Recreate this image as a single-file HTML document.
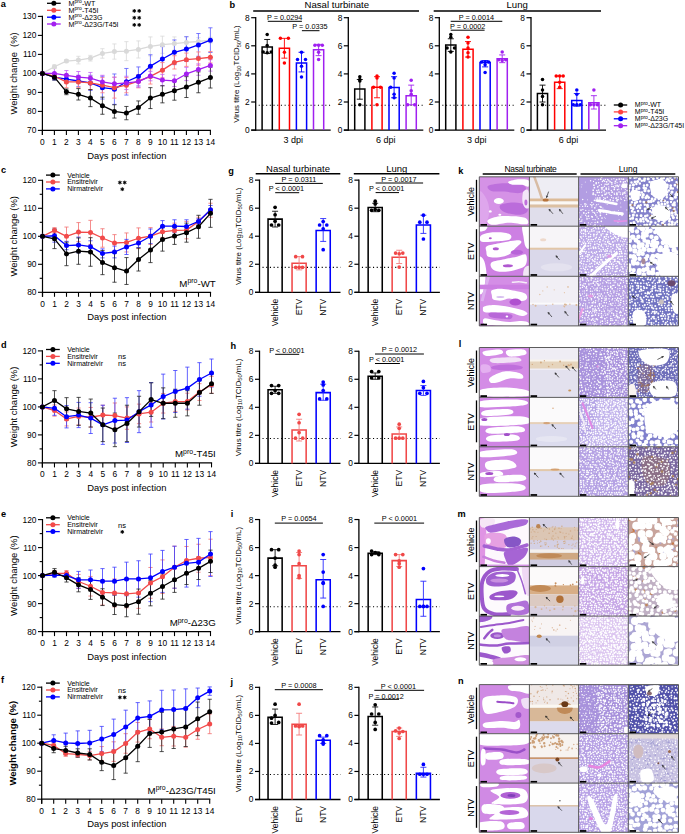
<!DOCTYPE html>
<html><head><meta charset="utf-8"><style>
html,body{margin:0;padding:0;background:#fff;}
svg{display:block;}
text{font-family:"Liberation Sans", sans-serif;}
</style></head><body>
<svg width="685" height="834" viewBox="0 0 685 834">
<rect width="685" height="834" fill="#fff"/>
<text x="0.8" y="6.9" font-size="9.2" text-anchor="start" font-weight="bold" fill="#000">a</text>
<line x1="42.4" y1="15.8" x2="42.4" y2="134.9" stroke="#000" stroke-width="1.2"/>
<line x1="41.8" y1="130.4" x2="211" y2="130.4" stroke="#000" stroke-width="1.2"/>
<line x1="37.9" y1="130.4" x2="42.4" y2="130.4" stroke="#000" stroke-width="1.1"/>
<text x="36.4" y="133.38" font-size="8.4" text-anchor="end" fill="#000">70</text>
<line x1="37.9" y1="111.4" x2="42.4" y2="111.4" stroke="#000" stroke-width="1.1"/>
<text x="36.4" y="114.38" font-size="8.4" text-anchor="end" fill="#000">80</text>
<line x1="37.9" y1="92.4" x2="42.4" y2="92.4" stroke="#000" stroke-width="1.1"/>
<text x="36.4" y="95.38" font-size="8.4" text-anchor="end" fill="#000">90</text>
<line x1="37.9" y1="73.4" x2="42.4" y2="73.4" stroke="#000" stroke-width="1.1"/>
<text x="36.4" y="76.38" font-size="8.4" text-anchor="end" fill="#000">100</text>
<line x1="37.9" y1="54.4" x2="42.4" y2="54.4" stroke="#000" stroke-width="1.1"/>
<text x="36.4" y="57.38" font-size="8.4" text-anchor="end" fill="#000">110</text>
<line x1="37.9" y1="35.4" x2="42.4" y2="35.4" stroke="#000" stroke-width="1.1"/>
<text x="36.4" y="38.38" font-size="8.4" text-anchor="end" fill="#000">120</text>
<line x1="37.9" y1="16.4" x2="42.4" y2="16.4" stroke="#000" stroke-width="1.1"/>
<text x="36.4" y="19.38" font-size="8.4" text-anchor="end" fill="#000">130</text>
<line x1="42.4" y1="130.4" x2="42.4" y2="134.9" stroke="#000" stroke-width="1.1"/>
<text x="42.4" y="144.78" font-size="8.4" text-anchor="middle" fill="#000">0</text>
<line x1="54.4" y1="130.4" x2="54.4" y2="134.9" stroke="#000" stroke-width="1.1"/>
<text x="54.4" y="144.78" font-size="8.4" text-anchor="middle" fill="#000">1</text>
<line x1="66.4" y1="130.4" x2="66.4" y2="134.9" stroke="#000" stroke-width="1.1"/>
<text x="66.4" y="144.78" font-size="8.4" text-anchor="middle" fill="#000">2</text>
<line x1="78.4" y1="130.4" x2="78.4" y2="134.9" stroke="#000" stroke-width="1.1"/>
<text x="78.4" y="144.78" font-size="8.4" text-anchor="middle" fill="#000">3</text>
<line x1="90.4" y1="130.4" x2="90.4" y2="134.9" stroke="#000" stroke-width="1.1"/>
<text x="90.4" y="144.78" font-size="8.4" text-anchor="middle" fill="#000">4</text>
<line x1="102.4" y1="130.4" x2="102.4" y2="134.9" stroke="#000" stroke-width="1.1"/>
<text x="102.4" y="144.78" font-size="8.4" text-anchor="middle" fill="#000">5</text>
<line x1="114.4" y1="130.4" x2="114.4" y2="134.9" stroke="#000" stroke-width="1.1"/>
<text x="114.4" y="144.78" font-size="8.4" text-anchor="middle" fill="#000">6</text>
<line x1="126.4" y1="130.4" x2="126.4" y2="134.9" stroke="#000" stroke-width="1.1"/>
<text x="126.4" y="144.78" font-size="8.4" text-anchor="middle" fill="#000">7</text>
<line x1="138.4" y1="130.4" x2="138.4" y2="134.9" stroke="#000" stroke-width="1.1"/>
<text x="138.4" y="144.78" font-size="8.4" text-anchor="middle" fill="#000">8</text>
<line x1="150.4" y1="130.4" x2="150.4" y2="134.9" stroke="#000" stroke-width="1.1"/>
<text x="150.4" y="144.78" font-size="8.4" text-anchor="middle" fill="#000">9</text>
<line x1="162.4" y1="130.4" x2="162.4" y2="134.9" stroke="#000" stroke-width="1.1"/>
<text x="162.4" y="144.78" font-size="8.4" text-anchor="middle" fill="#000">10</text>
<line x1="174.4" y1="130.4" x2="174.4" y2="134.9" stroke="#000" stroke-width="1.1"/>
<text x="174.4" y="144.78" font-size="8.4" text-anchor="middle" fill="#000">11</text>
<line x1="186.4" y1="130.4" x2="186.4" y2="134.9" stroke="#000" stroke-width="1.1"/>
<text x="186.4" y="144.78" font-size="8.4" text-anchor="middle" fill="#000">12</text>
<line x1="198.4" y1="130.4" x2="198.4" y2="134.9" stroke="#000" stroke-width="1.1"/>
<text x="198.4" y="144.78" font-size="8.4" text-anchor="middle" fill="#000">13</text>
<line x1="210.4" y1="130.4" x2="210.4" y2="134.9" stroke="#000" stroke-width="1.1"/>
<text x="210.4" y="144.78" font-size="8.4" text-anchor="middle" fill="#000">14</text>
<text x="126.8" y="158.68" font-size="9.4" text-anchor="middle" fill="#000">Days post infection</text>
<text x="17.38" y="73.4" font-size="9.4" text-anchor="middle" fill="#000" transform="rotate(-90 17.38 73.4)">Weight change&#160; (%)</text>
<line x1="54.4" y1="64.85" x2="54.4" y2="68.65" stroke="#d9d9d9" stroke-width="0.8"/>
<line x1="52.3" y1="64.85" x2="56.5" y2="64.85" stroke="#d9d9d9" stroke-width="0.8"/>
<line x1="52.3" y1="68.65" x2="56.5" y2="68.65" stroke="#d9d9d9" stroke-width="0.8"/>
<line x1="66.4" y1="59.53" x2="66.4" y2="62.57" stroke="#d9d9d9" stroke-width="0.8"/>
<line x1="64.3" y1="59.53" x2="68.5" y2="59.53" stroke="#d9d9d9" stroke-width="0.8"/>
<line x1="64.3" y1="62.57" x2="68.5" y2="62.57" stroke="#d9d9d9" stroke-width="0.8"/>
<line x1="78.4" y1="56.3" x2="78.4" y2="63.9" stroke="#d9d9d9" stroke-width="0.8"/>
<line x1="76.3" y1="56.3" x2="80.5" y2="56.3" stroke="#d9d9d9" stroke-width="0.8"/>
<line x1="76.3" y1="63.9" x2="80.5" y2="63.9" stroke="#d9d9d9" stroke-width="0.8"/>
<line x1="90.4" y1="55.35" x2="90.4" y2="61.05" stroke="#d9d9d9" stroke-width="0.8"/>
<line x1="88.3" y1="55.35" x2="92.5" y2="55.35" stroke="#d9d9d9" stroke-width="0.8"/>
<line x1="88.3" y1="61.05" x2="92.5" y2="61.05" stroke="#d9d9d9" stroke-width="0.8"/>
<line x1="102.4" y1="48.7" x2="102.4" y2="58.2" stroke="#d9d9d9" stroke-width="0.8"/>
<line x1="100.3" y1="48.7" x2="104.5" y2="48.7" stroke="#d9d9d9" stroke-width="0.8"/>
<line x1="100.3" y1="58.2" x2="104.5" y2="58.2" stroke="#d9d9d9" stroke-width="0.8"/>
<line x1="114.4" y1="43.95" x2="114.4" y2="59.15" stroke="#d9d9d9" stroke-width="0.8"/>
<line x1="112.3" y1="43.95" x2="116.5" y2="43.95" stroke="#d9d9d9" stroke-width="0.8"/>
<line x1="112.3" y1="59.15" x2="116.5" y2="59.15" stroke="#d9d9d9" stroke-width="0.8"/>
<line x1="126.4" y1="41.67" x2="126.4" y2="60.67" stroke="#d9d9d9" stroke-width="0.8"/>
<line x1="124.3" y1="41.67" x2="128.5" y2="41.67" stroke="#d9d9d9" stroke-width="0.8"/>
<line x1="124.3" y1="60.67" x2="128.5" y2="60.67" stroke="#d9d9d9" stroke-width="0.8"/>
<line x1="138.4" y1="40.91" x2="138.4" y2="58.01" stroke="#d9d9d9" stroke-width="0.8"/>
<line x1="136.3" y1="40.91" x2="140.5" y2="40.91" stroke="#d9d9d9" stroke-width="0.8"/>
<line x1="136.3" y1="58.01" x2="140.5" y2="58.01" stroke="#d9d9d9" stroke-width="0.8"/>
<line x1="150.4" y1="36.92" x2="150.4" y2="55.92" stroke="#d9d9d9" stroke-width="0.8"/>
<line x1="148.3" y1="36.92" x2="152.5" y2="36.92" stroke="#d9d9d9" stroke-width="0.8"/>
<line x1="148.3" y1="55.92" x2="152.5" y2="55.92" stroke="#d9d9d9" stroke-width="0.8"/>
<line x1="162.4" y1="36.16" x2="162.4" y2="53.26" stroke="#d9d9d9" stroke-width="0.8"/>
<line x1="160.3" y1="36.16" x2="164.5" y2="36.16" stroke="#d9d9d9" stroke-width="0.8"/>
<line x1="160.3" y1="53.26" x2="164.5" y2="53.26" stroke="#d9d9d9" stroke-width="0.8"/>
<line x1="174.4" y1="36.92" x2="174.4" y2="50.22" stroke="#d9d9d9" stroke-width="0.8"/>
<line x1="172.3" y1="36.92" x2="176.5" y2="36.92" stroke="#d9d9d9" stroke-width="0.8"/>
<line x1="172.3" y1="50.22" x2="176.5" y2="50.22" stroke="#d9d9d9" stroke-width="0.8"/>
<line x1="186.4" y1="36.73" x2="186.4" y2="48.13" stroke="#d9d9d9" stroke-width="0.8"/>
<line x1="184.3" y1="36.73" x2="188.5" y2="36.73" stroke="#d9d9d9" stroke-width="0.8"/>
<line x1="184.3" y1="48.13" x2="188.5" y2="48.13" stroke="#d9d9d9" stroke-width="0.8"/>
<line x1="198.4" y1="37.68" x2="198.4" y2="45.28" stroke="#d9d9d9" stroke-width="0.8"/>
<line x1="196.3" y1="37.68" x2="200.5" y2="37.68" stroke="#d9d9d9" stroke-width="0.8"/>
<line x1="196.3" y1="45.28" x2="200.5" y2="45.28" stroke="#d9d9d9" stroke-width="0.8"/>
<line x1="210.4" y1="37.3" x2="210.4" y2="43" stroke="#d9d9d9" stroke-width="0.8"/>
<line x1="208.3" y1="37.3" x2="212.5" y2="37.3" stroke="#d9d9d9" stroke-width="0.8"/>
<line x1="208.3" y1="43" x2="212.5" y2="43" stroke="#d9d9d9" stroke-width="0.8"/>
<line x1="54.4" y1="74.35" x2="54.4" y2="80.05" stroke="#5a5aff" stroke-width="0.8"/>
<line x1="52.3" y1="74.35" x2="56.5" y2="74.35" stroke="#5a5aff" stroke-width="0.8"/>
<line x1="52.3" y1="80.05" x2="56.5" y2="80.05" stroke="#5a5aff" stroke-width="0.8"/>
<line x1="66.4" y1="75.3" x2="66.4" y2="82.9" stroke="#5a5aff" stroke-width="0.8"/>
<line x1="64.3" y1="75.3" x2="68.5" y2="75.3" stroke="#5a5aff" stroke-width="0.8"/>
<line x1="64.3" y1="82.9" x2="68.5" y2="82.9" stroke="#5a5aff" stroke-width="0.8"/>
<line x1="78.4" y1="75.3" x2="78.4" y2="86.7" stroke="#5a5aff" stroke-width="0.8"/>
<line x1="76.3" y1="75.3" x2="80.5" y2="75.3" stroke="#5a5aff" stroke-width="0.8"/>
<line x1="76.3" y1="86.7" x2="80.5" y2="86.7" stroke="#5a5aff" stroke-width="0.8"/>
<line x1="90.4" y1="75.3" x2="90.4" y2="90.5" stroke="#5a5aff" stroke-width="0.8"/>
<line x1="88.3" y1="75.3" x2="92.5" y2="75.3" stroke="#5a5aff" stroke-width="0.8"/>
<line x1="88.3" y1="90.5" x2="92.5" y2="90.5" stroke="#5a5aff" stroke-width="0.8"/>
<line x1="102.4" y1="76.25" x2="102.4" y2="99.05" stroke="#5a5aff" stroke-width="0.8"/>
<line x1="100.3" y1="76.25" x2="104.5" y2="76.25" stroke="#5a5aff" stroke-width="0.8"/>
<line x1="100.3" y1="99.05" x2="104.5" y2="99.05" stroke="#5a5aff" stroke-width="0.8"/>
<line x1="114.4" y1="73.97" x2="114.4" y2="104.37" stroke="#5a5aff" stroke-width="0.8"/>
<line x1="112.3" y1="73.97" x2="116.5" y2="73.97" stroke="#5a5aff" stroke-width="0.8"/>
<line x1="112.3" y1="104.37" x2="116.5" y2="104.37" stroke="#5a5aff" stroke-width="0.8"/>
<line x1="126.4" y1="68.46" x2="126.4" y2="95.06" stroke="#5a5aff" stroke-width="0.8"/>
<line x1="124.3" y1="68.46" x2="128.5" y2="68.46" stroke="#5a5aff" stroke-width="0.8"/>
<line x1="124.3" y1="95.06" x2="128.5" y2="95.06" stroke="#5a5aff" stroke-width="0.8"/>
<line x1="138.4" y1="66.94" x2="138.4" y2="85.94" stroke="#5a5aff" stroke-width="0.8"/>
<line x1="136.3" y1="66.94" x2="140.5" y2="66.94" stroke="#5a5aff" stroke-width="0.8"/>
<line x1="136.3" y1="85.94" x2="140.5" y2="85.94" stroke="#5a5aff" stroke-width="0.8"/>
<line x1="150.4" y1="54.78" x2="150.4" y2="77.58" stroke="#5a5aff" stroke-width="0.8"/>
<line x1="148.3" y1="54.78" x2="152.5" y2="54.78" stroke="#5a5aff" stroke-width="0.8"/>
<line x1="148.3" y1="77.58" x2="152.5" y2="77.58" stroke="#5a5aff" stroke-width="0.8"/>
<line x1="162.4" y1="46.61" x2="162.4" y2="71.31" stroke="#5a5aff" stroke-width="0.8"/>
<line x1="160.3" y1="46.61" x2="164.5" y2="46.61" stroke="#5a5aff" stroke-width="0.8"/>
<line x1="160.3" y1="71.31" x2="164.5" y2="71.31" stroke="#5a5aff" stroke-width="0.8"/>
<line x1="174.4" y1="39.96" x2="174.4" y2="64.66" stroke="#5a5aff" stroke-width="0.8"/>
<line x1="172.3" y1="39.96" x2="176.5" y2="39.96" stroke="#5a5aff" stroke-width="0.8"/>
<line x1="172.3" y1="64.66" x2="176.5" y2="64.66" stroke="#5a5aff" stroke-width="0.8"/>
<line x1="186.4" y1="36.73" x2="186.4" y2="61.43" stroke="#5a5aff" stroke-width="0.8"/>
<line x1="184.3" y1="36.73" x2="188.5" y2="36.73" stroke="#5a5aff" stroke-width="0.8"/>
<line x1="184.3" y1="61.43" x2="188.5" y2="61.43" stroke="#5a5aff" stroke-width="0.8"/>
<line x1="198.4" y1="33.5" x2="198.4" y2="56.3" stroke="#5a5aff" stroke-width="0.8"/>
<line x1="196.3" y1="33.5" x2="200.5" y2="33.5" stroke="#5a5aff" stroke-width="0.8"/>
<line x1="196.3" y1="56.3" x2="200.5" y2="56.3" stroke="#5a5aff" stroke-width="0.8"/>
<line x1="210.4" y1="27.8" x2="210.4" y2="52.5" stroke="#5a5aff" stroke-width="0.8"/>
<line x1="208.3" y1="27.8" x2="212.5" y2="27.8" stroke="#5a5aff" stroke-width="0.8"/>
<line x1="208.3" y1="52.5" x2="212.5" y2="52.5" stroke="#5a5aff" stroke-width="0.8"/>
<line x1="54.4" y1="73.4" x2="54.4" y2="79.1" stroke="#f77" stroke-width="0.8"/>
<line x1="52.3" y1="73.4" x2="56.5" y2="73.4" stroke="#f77" stroke-width="0.8"/>
<line x1="52.3" y1="79.1" x2="56.5" y2="79.1" stroke="#f77" stroke-width="0.8"/>
<line x1="66.4" y1="76.25" x2="66.4" y2="87.65" stroke="#f77" stroke-width="0.8"/>
<line x1="64.3" y1="76.25" x2="68.5" y2="76.25" stroke="#f77" stroke-width="0.8"/>
<line x1="64.3" y1="87.65" x2="68.5" y2="87.65" stroke="#f77" stroke-width="0.8"/>
<line x1="78.4" y1="76.25" x2="78.4" y2="87.65" stroke="#f77" stroke-width="0.8"/>
<line x1="76.3" y1="76.25" x2="80.5" y2="76.25" stroke="#f77" stroke-width="0.8"/>
<line x1="76.3" y1="87.65" x2="80.5" y2="87.65" stroke="#f77" stroke-width="0.8"/>
<line x1="90.4" y1="76.25" x2="90.4" y2="89.55" stroke="#f77" stroke-width="0.8"/>
<line x1="88.3" y1="76.25" x2="92.5" y2="76.25" stroke="#f77" stroke-width="0.8"/>
<line x1="88.3" y1="89.55" x2="92.5" y2="89.55" stroke="#f77" stroke-width="0.8"/>
<line x1="102.4" y1="77.58" x2="102.4" y2="92.78" stroke="#f77" stroke-width="0.8"/>
<line x1="100.3" y1="77.58" x2="104.5" y2="77.58" stroke="#f77" stroke-width="0.8"/>
<line x1="100.3" y1="92.78" x2="104.5" y2="92.78" stroke="#f77" stroke-width="0.8"/>
<line x1="114.4" y1="77.2" x2="114.4" y2="98.1" stroke="#f77" stroke-width="0.8"/>
<line x1="112.3" y1="77.2" x2="116.5" y2="77.2" stroke="#f77" stroke-width="0.8"/>
<line x1="112.3" y1="98.1" x2="116.5" y2="98.1" stroke="#f77" stroke-width="0.8"/>
<line x1="126.4" y1="77.58" x2="126.4" y2="92.78" stroke="#f77" stroke-width="0.8"/>
<line x1="124.3" y1="77.58" x2="128.5" y2="77.58" stroke="#f77" stroke-width="0.8"/>
<line x1="124.3" y1="92.78" x2="128.5" y2="92.78" stroke="#f77" stroke-width="0.8"/>
<line x1="138.4" y1="74.54" x2="138.4" y2="87.84" stroke="#f77" stroke-width="0.8"/>
<line x1="136.3" y1="74.54" x2="140.5" y2="74.54" stroke="#f77" stroke-width="0.8"/>
<line x1="136.3" y1="87.84" x2="140.5" y2="87.84" stroke="#f77" stroke-width="0.8"/>
<line x1="150.4" y1="68.84" x2="150.4" y2="84.04" stroke="#f77" stroke-width="0.8"/>
<line x1="148.3" y1="68.84" x2="152.5" y2="68.84" stroke="#f77" stroke-width="0.8"/>
<line x1="148.3" y1="84.04" x2="152.5" y2="84.04" stroke="#f77" stroke-width="0.8"/>
<line x1="162.4" y1="62.57" x2="162.4" y2="77.77" stroke="#f77" stroke-width="0.8"/>
<line x1="160.3" y1="62.57" x2="164.5" y2="62.57" stroke="#f77" stroke-width="0.8"/>
<line x1="160.3" y1="77.77" x2="164.5" y2="77.77" stroke="#f77" stroke-width="0.8"/>
<line x1="174.4" y1="55.73" x2="174.4" y2="69.03" stroke="#f77" stroke-width="0.8"/>
<line x1="172.3" y1="55.73" x2="176.5" y2="55.73" stroke="#f77" stroke-width="0.8"/>
<line x1="172.3" y1="69.03" x2="176.5" y2="69.03" stroke="#f77" stroke-width="0.8"/>
<line x1="186.4" y1="53.07" x2="186.4" y2="66.37" stroke="#f77" stroke-width="0.8"/>
<line x1="184.3" y1="53.07" x2="188.5" y2="53.07" stroke="#f77" stroke-width="0.8"/>
<line x1="184.3" y1="66.37" x2="188.5" y2="66.37" stroke="#f77" stroke-width="0.8"/>
<line x1="198.4" y1="51.93" x2="198.4" y2="65.23" stroke="#f77" stroke-width="0.8"/>
<line x1="196.3" y1="51.93" x2="200.5" y2="51.93" stroke="#f77" stroke-width="0.8"/>
<line x1="196.3" y1="65.23" x2="200.5" y2="65.23" stroke="#f77" stroke-width="0.8"/>
<line x1="210.4" y1="51.55" x2="210.4" y2="62.95" stroke="#f77" stroke-width="0.8"/>
<line x1="208.3" y1="51.55" x2="212.5" y2="51.55" stroke="#f77" stroke-width="0.8"/>
<line x1="208.3" y1="62.95" x2="212.5" y2="62.95" stroke="#f77" stroke-width="0.8"/>
<line x1="54.4" y1="67.7" x2="54.4" y2="79.1" stroke="#c060f5" stroke-width="0.8"/>
<line x1="52.3" y1="67.7" x2="56.5" y2="67.7" stroke="#c060f5" stroke-width="0.8"/>
<line x1="52.3" y1="79.1" x2="56.5" y2="79.1" stroke="#c060f5" stroke-width="0.8"/>
<line x1="66.4" y1="70.55" x2="66.4" y2="80.05" stroke="#c060f5" stroke-width="0.8"/>
<line x1="64.3" y1="70.55" x2="68.5" y2="70.55" stroke="#c060f5" stroke-width="0.8"/>
<line x1="64.3" y1="80.05" x2="68.5" y2="80.05" stroke="#c060f5" stroke-width="0.8"/>
<line x1="78.4" y1="71.5" x2="78.4" y2="82.9" stroke="#c060f5" stroke-width="0.8"/>
<line x1="76.3" y1="71.5" x2="80.5" y2="71.5" stroke="#c060f5" stroke-width="0.8"/>
<line x1="76.3" y1="82.9" x2="80.5" y2="82.9" stroke="#c060f5" stroke-width="0.8"/>
<line x1="90.4" y1="72.45" x2="90.4" y2="83.85" stroke="#c060f5" stroke-width="0.8"/>
<line x1="88.3" y1="72.45" x2="92.5" y2="72.45" stroke="#c060f5" stroke-width="0.8"/>
<line x1="88.3" y1="83.85" x2="92.5" y2="83.85" stroke="#c060f5" stroke-width="0.8"/>
<line x1="102.4" y1="75.3" x2="102.4" y2="88.6" stroke="#c060f5" stroke-width="0.8"/>
<line x1="100.3" y1="75.3" x2="104.5" y2="75.3" stroke="#c060f5" stroke-width="0.8"/>
<line x1="100.3" y1="88.6" x2="104.5" y2="88.6" stroke="#c060f5" stroke-width="0.8"/>
<line x1="114.4" y1="77.2" x2="114.4" y2="90.5" stroke="#c060f5" stroke-width="0.8"/>
<line x1="112.3" y1="77.2" x2="116.5" y2="77.2" stroke="#c060f5" stroke-width="0.8"/>
<line x1="112.3" y1="90.5" x2="116.5" y2="90.5" stroke="#c060f5" stroke-width="0.8"/>
<line x1="126.4" y1="76.25" x2="126.4" y2="89.55" stroke="#c060f5" stroke-width="0.8"/>
<line x1="124.3" y1="76.25" x2="128.5" y2="76.25" stroke="#c060f5" stroke-width="0.8"/>
<line x1="124.3" y1="89.55" x2="128.5" y2="89.55" stroke="#c060f5" stroke-width="0.8"/>
<line x1="138.4" y1="75.87" x2="138.4" y2="87.27" stroke="#c060f5" stroke-width="0.8"/>
<line x1="136.3" y1="75.87" x2="140.5" y2="75.87" stroke="#c060f5" stroke-width="0.8"/>
<line x1="136.3" y1="87.27" x2="140.5" y2="87.27" stroke="#c060f5" stroke-width="0.8"/>
<line x1="150.4" y1="71.31" x2="150.4" y2="80.81" stroke="#c060f5" stroke-width="0.8"/>
<line x1="148.3" y1="71.31" x2="152.5" y2="71.31" stroke="#c060f5" stroke-width="0.8"/>
<line x1="148.3" y1="80.81" x2="152.5" y2="80.81" stroke="#c060f5" stroke-width="0.8"/>
<line x1="162.4" y1="74.35" x2="162.4" y2="85.75" stroke="#c060f5" stroke-width="0.8"/>
<line x1="160.3" y1="74.35" x2="164.5" y2="74.35" stroke="#c060f5" stroke-width="0.8"/>
<line x1="160.3" y1="85.75" x2="164.5" y2="85.75" stroke="#c060f5" stroke-width="0.8"/>
<line x1="174.4" y1="75.11" x2="174.4" y2="86.51" stroke="#c060f5" stroke-width="0.8"/>
<line x1="172.3" y1="75.11" x2="176.5" y2="75.11" stroke="#c060f5" stroke-width="0.8"/>
<line x1="172.3" y1="86.51" x2="176.5" y2="86.51" stroke="#c060f5" stroke-width="0.8"/>
<line x1="186.4" y1="67.32" x2="186.4" y2="80.62" stroke="#c060f5" stroke-width="0.8"/>
<line x1="184.3" y1="67.32" x2="188.5" y2="67.32" stroke="#c060f5" stroke-width="0.8"/>
<line x1="184.3" y1="80.62" x2="188.5" y2="80.62" stroke="#c060f5" stroke-width="0.8"/>
<line x1="198.4" y1="63.9" x2="198.4" y2="75.3" stroke="#c060f5" stroke-width="0.8"/>
<line x1="196.3" y1="63.9" x2="200.5" y2="63.9" stroke="#c060f5" stroke-width="0.8"/>
<line x1="196.3" y1="75.3" x2="200.5" y2="75.3" stroke="#c060f5" stroke-width="0.8"/>
<line x1="210.4" y1="59.72" x2="210.4" y2="71.12" stroke="#c060f5" stroke-width="0.8"/>
<line x1="208.3" y1="59.72" x2="212.5" y2="59.72" stroke="#c060f5" stroke-width="0.8"/>
<line x1="208.3" y1="71.12" x2="212.5" y2="71.12" stroke="#c060f5" stroke-width="0.8"/>
<line x1="54.4" y1="74.35" x2="54.4" y2="80.05" stroke="#222" stroke-width="0.8"/>
<line x1="52.3" y1="74.35" x2="56.5" y2="74.35" stroke="#222" stroke-width="0.8"/>
<line x1="52.3" y1="80.05" x2="56.5" y2="80.05" stroke="#222" stroke-width="0.8"/>
<line x1="66.4" y1="88.98" x2="66.4" y2="94.68" stroke="#222" stroke-width="0.8"/>
<line x1="64.3" y1="88.98" x2="68.5" y2="88.98" stroke="#222" stroke-width="0.8"/>
<line x1="64.3" y1="94.68" x2="68.5" y2="94.68" stroke="#222" stroke-width="0.8"/>
<line x1="78.4" y1="88.6" x2="78.4" y2="100" stroke="#222" stroke-width="0.8"/>
<line x1="76.3" y1="88.6" x2="80.5" y2="88.6" stroke="#222" stroke-width="0.8"/>
<line x1="76.3" y1="100" x2="80.5" y2="100" stroke="#222" stroke-width="0.8"/>
<line x1="90.4" y1="89.55" x2="90.4" y2="106.65" stroke="#222" stroke-width="0.8"/>
<line x1="88.3" y1="89.55" x2="92.5" y2="89.55" stroke="#222" stroke-width="0.8"/>
<line x1="88.3" y1="106.65" x2="92.5" y2="106.65" stroke="#222" stroke-width="0.8"/>
<line x1="102.4" y1="97.15" x2="102.4" y2="114.25" stroke="#222" stroke-width="0.8"/>
<line x1="100.3" y1="97.15" x2="104.5" y2="97.15" stroke="#222" stroke-width="0.8"/>
<line x1="100.3" y1="114.25" x2="104.5" y2="114.25" stroke="#222" stroke-width="0.8"/>
<line x1="114.4" y1="104.75" x2="114.4" y2="118.05" stroke="#222" stroke-width="0.8"/>
<line x1="112.3" y1="104.75" x2="116.5" y2="104.75" stroke="#222" stroke-width="0.8"/>
<line x1="112.3" y1="118.05" x2="116.5" y2="118.05" stroke="#222" stroke-width="0.8"/>
<line x1="126.4" y1="106.46" x2="126.4" y2="119.76" stroke="#222" stroke-width="0.8"/>
<line x1="124.3" y1="106.46" x2="128.5" y2="106.46" stroke="#222" stroke-width="0.8"/>
<line x1="124.3" y1="119.76" x2="128.5" y2="119.76" stroke="#222" stroke-width="0.8"/>
<line x1="138.4" y1="100.95" x2="138.4" y2="114.25" stroke="#222" stroke-width="0.8"/>
<line x1="136.3" y1="100.95" x2="140.5" y2="100.95" stroke="#222" stroke-width="0.8"/>
<line x1="136.3" y1="114.25" x2="140.5" y2="114.25" stroke="#222" stroke-width="0.8"/>
<line x1="150.4" y1="87.65" x2="150.4" y2="108.55" stroke="#222" stroke-width="0.8"/>
<line x1="148.3" y1="87.65" x2="152.5" y2="87.65" stroke="#222" stroke-width="0.8"/>
<line x1="148.3" y1="108.55" x2="152.5" y2="108.55" stroke="#222" stroke-width="0.8"/>
<line x1="162.4" y1="85.75" x2="162.4" y2="102.85" stroke="#222" stroke-width="0.8"/>
<line x1="160.3" y1="85.75" x2="164.5" y2="85.75" stroke="#222" stroke-width="0.8"/>
<line x1="160.3" y1="102.85" x2="164.5" y2="102.85" stroke="#222" stroke-width="0.8"/>
<line x1="174.4" y1="81.19" x2="174.4" y2="100.19" stroke="#222" stroke-width="0.8"/>
<line x1="172.3" y1="81.19" x2="176.5" y2="81.19" stroke="#222" stroke-width="0.8"/>
<line x1="172.3" y1="100.19" x2="176.5" y2="100.19" stroke="#222" stroke-width="0.8"/>
<line x1="186.4" y1="76.63" x2="186.4" y2="97.53" stroke="#222" stroke-width="0.8"/>
<line x1="184.3" y1="76.63" x2="188.5" y2="76.63" stroke="#222" stroke-width="0.8"/>
<line x1="184.3" y1="97.53" x2="188.5" y2="97.53" stroke="#222" stroke-width="0.8"/>
<line x1="198.4" y1="71.88" x2="198.4" y2="92.78" stroke="#222" stroke-width="0.8"/>
<line x1="196.3" y1="71.88" x2="200.5" y2="71.88" stroke="#222" stroke-width="0.8"/>
<line x1="196.3" y1="92.78" x2="200.5" y2="92.78" stroke="#222" stroke-width="0.8"/>
<line x1="210.4" y1="67.13" x2="210.4" y2="88.03" stroke="#222" stroke-width="0.8"/>
<line x1="208.3" y1="67.13" x2="212.5" y2="67.13" stroke="#222" stroke-width="0.8"/>
<line x1="208.3" y1="88.03" x2="212.5" y2="88.03" stroke="#222" stroke-width="0.8"/>
<polyline points="42.4,73.4 54.4,66.75 66.4,61.05 78.4,60.1 90.4,58.2 102.4,53.45 114.4,51.55 126.4,51.17 138.4,49.46 150.4,46.42 162.4,44.71 174.4,43.57 186.4,42.43 198.4,41.48 210.4,40.15" fill="none" stroke="#d9d9d9" stroke-width="1.3" stroke-linejoin="round"/>
<circle cx="42.4" cy="73.4" r="2.5" fill="#d9d9d9"/>
<circle cx="54.4" cy="66.75" r="2.5" fill="#d9d9d9"/>
<circle cx="66.4" cy="61.05" r="2.5" fill="#d9d9d9"/>
<circle cx="78.4" cy="60.1" r="2.5" fill="#d9d9d9"/>
<circle cx="90.4" cy="58.2" r="2.5" fill="#d9d9d9"/>
<circle cx="102.4" cy="53.45" r="2.5" fill="#d9d9d9"/>
<circle cx="114.4" cy="51.55" r="2.5" fill="#d9d9d9"/>
<circle cx="126.4" cy="51.17" r="2.5" fill="#d9d9d9"/>
<circle cx="138.4" cy="49.46" r="2.5" fill="#d9d9d9"/>
<circle cx="150.4" cy="46.42" r="2.5" fill="#d9d9d9"/>
<circle cx="162.4" cy="44.71" r="2.5" fill="#d9d9d9"/>
<circle cx="174.4" cy="43.57" r="2.5" fill="#d9d9d9"/>
<circle cx="186.4" cy="42.43" r="2.5" fill="#d9d9d9"/>
<circle cx="198.4" cy="41.48" r="2.5" fill="#d9d9d9"/>
<circle cx="210.4" cy="40.15" r="2.5" fill="#d9d9d9"/>
<polyline points="42.4,73.4 54.4,77.2 66.4,79.1 78.4,81 90.4,82.9 102.4,87.65 114.4,89.17 126.4,81.76 138.4,76.44 150.4,66.18 162.4,58.96 174.4,52.31 186.4,49.08 198.4,44.9 210.4,40.15" fill="none" stroke="#0000ff" stroke-width="1.3" stroke-linejoin="round"/>
<circle cx="42.4" cy="73.4" r="2.5" fill="#0000ff"/>
<circle cx="54.4" cy="77.2" r="2.5" fill="#0000ff"/>
<circle cx="66.4" cy="79.1" r="2.5" fill="#0000ff"/>
<circle cx="78.4" cy="81" r="2.5" fill="#0000ff"/>
<circle cx="90.4" cy="82.9" r="2.5" fill="#0000ff"/>
<circle cx="102.4" cy="87.65" r="2.5" fill="#0000ff"/>
<circle cx="114.4" cy="89.17" r="2.5" fill="#0000ff"/>
<circle cx="126.4" cy="81.76" r="2.5" fill="#0000ff"/>
<circle cx="138.4" cy="76.44" r="2.5" fill="#0000ff"/>
<circle cx="150.4" cy="66.18" r="2.5" fill="#0000ff"/>
<circle cx="162.4" cy="58.96" r="2.5" fill="#0000ff"/>
<circle cx="174.4" cy="52.31" r="2.5" fill="#0000ff"/>
<circle cx="186.4" cy="49.08" r="2.5" fill="#0000ff"/>
<circle cx="198.4" cy="44.9" r="2.5" fill="#0000ff"/>
<circle cx="210.4" cy="40.15" r="2.5" fill="#0000ff"/>
<polyline points="42.4,73.4 54.4,76.25 66.4,81.95 78.4,81.95 90.4,82.9 102.4,85.18 114.4,87.65 126.4,85.18 138.4,81.19 150.4,76.44 162.4,70.17 174.4,62.38 186.4,59.72 198.4,58.58 210.4,57.25" fill="none" stroke="#f24a4a" stroke-width="1.3" stroke-linejoin="round"/>
<circle cx="42.4" cy="73.4" r="2.5" fill="#f24a4a"/>
<circle cx="54.4" cy="76.25" r="2.5" fill="#f24a4a"/>
<circle cx="66.4" cy="81.95" r="2.5" fill="#f24a4a"/>
<circle cx="78.4" cy="81.95" r="2.5" fill="#f24a4a"/>
<circle cx="90.4" cy="82.9" r="2.5" fill="#f24a4a"/>
<circle cx="102.4" cy="85.18" r="2.5" fill="#f24a4a"/>
<circle cx="114.4" cy="87.65" r="2.5" fill="#f24a4a"/>
<circle cx="126.4" cy="85.18" r="2.5" fill="#f24a4a"/>
<circle cx="138.4" cy="81.19" r="2.5" fill="#f24a4a"/>
<circle cx="150.4" cy="76.44" r="2.5" fill="#f24a4a"/>
<circle cx="162.4" cy="70.17" r="2.5" fill="#f24a4a"/>
<circle cx="174.4" cy="62.38" r="2.5" fill="#f24a4a"/>
<circle cx="186.4" cy="59.72" r="2.5" fill="#f24a4a"/>
<circle cx="198.4" cy="58.58" r="2.5" fill="#f24a4a"/>
<circle cx="210.4" cy="57.25" r="2.5" fill="#f24a4a"/>
<polyline points="42.4,73.4 54.4,73.4 66.4,75.3 78.4,77.2 90.4,78.15 102.4,81.95 114.4,83.85 126.4,82.9 138.4,81.57 150.4,76.06 162.4,80.05 174.4,80.81 186.4,73.97 198.4,69.6 210.4,65.42" fill="none" stroke="#a31ff0" stroke-width="1.3" stroke-linejoin="round"/>
<circle cx="42.4" cy="73.4" r="2.5" fill="#a31ff0"/>
<circle cx="54.4" cy="73.4" r="2.5" fill="#a31ff0"/>
<circle cx="66.4" cy="75.3" r="2.5" fill="#a31ff0"/>
<circle cx="78.4" cy="77.2" r="2.5" fill="#a31ff0"/>
<circle cx="90.4" cy="78.15" r="2.5" fill="#a31ff0"/>
<circle cx="102.4" cy="81.95" r="2.5" fill="#a31ff0"/>
<circle cx="114.4" cy="83.85" r="2.5" fill="#a31ff0"/>
<circle cx="126.4" cy="82.9" r="2.5" fill="#a31ff0"/>
<circle cx="138.4" cy="81.57" r="2.5" fill="#a31ff0"/>
<circle cx="150.4" cy="76.06" r="2.5" fill="#a31ff0"/>
<circle cx="162.4" cy="80.05" r="2.5" fill="#a31ff0"/>
<circle cx="174.4" cy="80.81" r="2.5" fill="#a31ff0"/>
<circle cx="186.4" cy="73.97" r="2.5" fill="#a31ff0"/>
<circle cx="198.4" cy="69.6" r="2.5" fill="#a31ff0"/>
<circle cx="210.4" cy="65.42" r="2.5" fill="#a31ff0"/>
<polyline points="42.4,73.4 54.4,77.2 66.4,91.83 78.4,94.3 90.4,98.1 102.4,105.7 114.4,111.4 126.4,113.11 138.4,107.6 150.4,98.1 162.4,94.3 174.4,90.69 186.4,87.08 198.4,82.33 210.4,77.58" fill="none" stroke="#000" stroke-width="1.3" stroke-linejoin="round"/>
<circle cx="42.4" cy="73.4" r="2.5" fill="#000"/>
<circle cx="54.4" cy="77.2" r="2.5" fill="#000"/>
<circle cx="66.4" cy="91.83" r="2.5" fill="#000"/>
<circle cx="78.4" cy="94.3" r="2.5" fill="#000"/>
<circle cx="90.4" cy="98.1" r="2.5" fill="#000"/>
<circle cx="102.4" cy="105.7" r="2.5" fill="#000"/>
<circle cx="114.4" cy="111.4" r="2.5" fill="#000"/>
<circle cx="126.4" cy="113.11" r="2.5" fill="#000"/>
<circle cx="138.4" cy="107.6" r="2.5" fill="#000"/>
<circle cx="150.4" cy="98.1" r="2.5" fill="#000"/>
<circle cx="162.4" cy="94.3" r="2.5" fill="#000"/>
<circle cx="174.4" cy="90.69" r="2.5" fill="#000"/>
<circle cx="186.4" cy="87.08" r="2.5" fill="#000"/>
<circle cx="198.4" cy="82.33" r="2.5" fill="#000"/>
<circle cx="210.4" cy="77.58" r="2.5" fill="#000"/>
<line x1="47" y1="3.3" x2="60.7" y2="3.3" stroke="#000" stroke-width="1.3"/>
<circle cx="53.85" cy="3.3" r="2.5" fill="#000"/>
<text x="68.6" y="5.82" font-size="7.1" text-anchor="start" fill="#000">M<tspan font-size="5.11" dy="-2.41">pro</tspan><tspan dy="2.41">-WT</tspan></text>
<line x1="47" y1="10.3" x2="60.7" y2="10.3" stroke="#f24a4a" stroke-width="1.3"/>
<circle cx="53.85" cy="10.3" r="2.5" fill="#f24a4a"/>
<text x="68.6" y="12.82" font-size="7.1" text-anchor="start" fill="#000">M<tspan font-size="5.11" dy="-2.41">pro</tspan><tspan dy="2.41">-T45I</tspan></text>
<line x1="47" y1="17.2" x2="60.7" y2="17.2" stroke="#0000ff" stroke-width="1.3"/>
<circle cx="53.85" cy="17.2" r="2.5" fill="#0000ff"/>
<text x="68.6" y="19.72" font-size="7.1" text-anchor="start" fill="#000">M<tspan font-size="5.11" dy="-2.41">pro</tspan><tspan dy="2.41">-Δ23G</tspan></text>
<line x1="47" y1="24" x2="60.7" y2="24" stroke="#a31ff0" stroke-width="1.3"/>
<circle cx="53.85" cy="24" r="2.5" fill="#a31ff0"/>
<text x="68.6" y="26.52" font-size="7.1" text-anchor="start" fill="#000">M<tspan font-size="5.11" dy="-2.41">pro</tspan><tspan dy="2.41">-Δ23G/T45I</tspan></text>
<polygon points="134.3,9 133.83,10.08 132.65,9.95 133.35,10.9 132.65,11.85 133.83,11.72 134.3,12.8 134.78,11.72 135.95,11.85 135.25,10.9 135.95,9.95 134.78,10.08" fill="#000" stroke="#000" stroke-width="0.5" stroke-linejoin="round"/>
<polygon points="139.2,9 138.72,10.08 137.55,9.95 138.25,10.9 137.55,11.85 138.72,11.72 139.2,12.8 139.67,11.72 140.85,11.85 140.15,10.9 140.85,9.95 139.67,10.08" fill="#000" stroke="#000" stroke-width="0.5" stroke-linejoin="round"/>
<polygon points="134.3,15.9 133.83,16.98 132.65,16.85 133.35,17.8 132.65,18.75 133.83,18.62 134.3,19.7 134.78,18.62 135.95,18.75 135.25,17.8 135.95,16.85 134.78,16.98" fill="#000" stroke="#000" stroke-width="0.5" stroke-linejoin="round"/>
<polygon points="139.2,15.9 138.72,16.98 137.55,16.85 138.25,17.8 137.55,18.75 138.72,18.62 139.2,19.7 139.67,18.62 140.85,18.75 140.15,17.8 140.85,16.85 139.67,16.98" fill="#000" stroke="#000" stroke-width="0.5" stroke-linejoin="round"/>
<polygon points="134.3,23 133.83,24.08 132.65,23.95 133.35,24.9 132.65,25.85 133.83,25.72 134.3,26.8 134.78,25.72 135.95,25.85 135.25,24.9 135.95,23.95 134.78,24.08" fill="#000" stroke="#000" stroke-width="0.5" stroke-linejoin="round"/>
<polygon points="139.2,23 138.72,24.08 137.55,23.95 138.25,24.9 137.55,25.85 138.72,25.72 139.2,26.8 139.67,25.72 140.85,25.85 140.15,24.9 140.85,23.95 139.67,24.08" fill="#000" stroke="#000" stroke-width="0.5" stroke-linejoin="round"/>
<text x="1" y="173.3" font-size="9.2" text-anchor="start" font-weight="bold" fill="#000">c</text>
<line x1="42.5" y1="179.7" x2="42.5" y2="296.8" stroke="#000" stroke-width="1.2"/>
<line x1="41.9" y1="292.3" x2="211.1" y2="292.3" stroke="#000" stroke-width="1.2"/>
<line x1="38" y1="292.3" x2="42.5" y2="292.3" stroke="#000" stroke-width="1.1"/>
<text x="36.5" y="295.28" font-size="8.4" text-anchor="end" fill="#000">80</text>
<line x1="38" y1="264.3" x2="42.5" y2="264.3" stroke="#000" stroke-width="1.1"/>
<text x="36.5" y="267.28" font-size="8.4" text-anchor="end" fill="#000">90</text>
<line x1="38" y1="236.3" x2="42.5" y2="236.3" stroke="#000" stroke-width="1.1"/>
<text x="36.5" y="239.28" font-size="8.4" text-anchor="end" fill="#000">100</text>
<line x1="38" y1="208.3" x2="42.5" y2="208.3" stroke="#000" stroke-width="1.1"/>
<text x="36.5" y="211.28" font-size="8.4" text-anchor="end" fill="#000">110</text>
<line x1="38" y1="180.3" x2="42.5" y2="180.3" stroke="#000" stroke-width="1.1"/>
<text x="36.5" y="183.28" font-size="8.4" text-anchor="end" fill="#000">120</text>
<line x1="39.7" y1="278.3" x2="42.5" y2="278.3" stroke="#000" stroke-width="1.1"/>
<line x1="39.7" y1="250.3" x2="42.5" y2="250.3" stroke="#000" stroke-width="1.1"/>
<line x1="39.7" y1="222.3" x2="42.5" y2="222.3" stroke="#000" stroke-width="1.1"/>
<line x1="39.7" y1="194.3" x2="42.5" y2="194.3" stroke="#000" stroke-width="1.1"/>
<line x1="42.5" y1="292.3" x2="42.5" y2="296.8" stroke="#000" stroke-width="1.1"/>
<text x="42.5" y="306.68" font-size="8.4" text-anchor="middle" fill="#000">0</text>
<line x1="54.5" y1="292.3" x2="54.5" y2="296.8" stroke="#000" stroke-width="1.1"/>
<text x="54.5" y="306.68" font-size="8.4" text-anchor="middle" fill="#000">1</text>
<line x1="66.5" y1="292.3" x2="66.5" y2="296.8" stroke="#000" stroke-width="1.1"/>
<text x="66.5" y="306.68" font-size="8.4" text-anchor="middle" fill="#000">2</text>
<line x1="78.5" y1="292.3" x2="78.5" y2="296.8" stroke="#000" stroke-width="1.1"/>
<text x="78.5" y="306.68" font-size="8.4" text-anchor="middle" fill="#000">3</text>
<line x1="90.5" y1="292.3" x2="90.5" y2="296.8" stroke="#000" stroke-width="1.1"/>
<text x="90.5" y="306.68" font-size="8.4" text-anchor="middle" fill="#000">4</text>
<line x1="102.5" y1="292.3" x2="102.5" y2="296.8" stroke="#000" stroke-width="1.1"/>
<text x="102.5" y="306.68" font-size="8.4" text-anchor="middle" fill="#000">5</text>
<line x1="114.5" y1="292.3" x2="114.5" y2="296.8" stroke="#000" stroke-width="1.1"/>
<text x="114.5" y="306.68" font-size="8.4" text-anchor="middle" fill="#000">6</text>
<line x1="126.5" y1="292.3" x2="126.5" y2="296.8" stroke="#000" stroke-width="1.1"/>
<text x="126.5" y="306.68" font-size="8.4" text-anchor="middle" fill="#000">7</text>
<line x1="138.5" y1="292.3" x2="138.5" y2="296.8" stroke="#000" stroke-width="1.1"/>
<text x="138.5" y="306.68" font-size="8.4" text-anchor="middle" fill="#000">8</text>
<line x1="150.5" y1="292.3" x2="150.5" y2="296.8" stroke="#000" stroke-width="1.1"/>
<text x="150.5" y="306.68" font-size="8.4" text-anchor="middle" fill="#000">9</text>
<line x1="162.5" y1="292.3" x2="162.5" y2="296.8" stroke="#000" stroke-width="1.1"/>
<text x="162.5" y="306.68" font-size="8.4" text-anchor="middle" fill="#000">10</text>
<line x1="174.5" y1="292.3" x2="174.5" y2="296.8" stroke="#000" stroke-width="1.1"/>
<text x="174.5" y="306.68" font-size="8.4" text-anchor="middle" fill="#000">11</text>
<line x1="186.5" y1="292.3" x2="186.5" y2="296.8" stroke="#000" stroke-width="1.1"/>
<text x="186.5" y="306.68" font-size="8.4" text-anchor="middle" fill="#000">12</text>
<line x1="198.5" y1="292.3" x2="198.5" y2="296.8" stroke="#000" stroke-width="1.1"/>
<text x="198.5" y="306.68" font-size="8.4" text-anchor="middle" fill="#000">13</text>
<line x1="210.5" y1="292.3" x2="210.5" y2="296.8" stroke="#000" stroke-width="1.1"/>
<text x="210.5" y="306.68" font-size="8.4" text-anchor="middle" fill="#000">14</text>
<text x="126.8" y="320.28" font-size="9.4" text-anchor="middle" fill="#000">Days post infection</text>
<text x="17.32" y="236.3" font-size="9.5" text-anchor="middle" fill="#000" transform="rotate(-90 17.32 236.3)">Weight change (%)</text>
<line x1="54.5" y1="227.62" x2="54.5" y2="233.22" stroke="#f27070" stroke-width="0.8"/>
<line x1="52.4" y1="227.62" x2="56.6" y2="227.62" stroke="#f27070" stroke-width="0.8"/>
<line x1="52.4" y1="233.22" x2="56.6" y2="233.22" stroke="#f27070" stroke-width="0.8"/>
<line x1="66.5" y1="227.06" x2="66.5" y2="245.54" stroke="#f27070" stroke-width="0.8"/>
<line x1="64.4" y1="227.06" x2="68.6" y2="227.06" stroke="#f27070" stroke-width="0.8"/>
<line x1="64.4" y1="245.54" x2="68.6" y2="245.54" stroke="#f27070" stroke-width="0.8"/>
<line x1="78.5" y1="222.58" x2="78.5" y2="241.62" stroke="#f27070" stroke-width="0.8"/>
<line x1="76.4" y1="222.58" x2="80.6" y2="222.58" stroke="#f27070" stroke-width="0.8"/>
<line x1="76.4" y1="241.62" x2="80.6" y2="241.62" stroke="#f27070" stroke-width="0.8"/>
<line x1="90.5" y1="220.34" x2="90.5" y2="244.42" stroke="#f27070" stroke-width="0.8"/>
<line x1="88.4" y1="220.34" x2="92.6" y2="220.34" stroke="#f27070" stroke-width="0.8"/>
<line x1="88.4" y1="244.42" x2="92.6" y2="244.42" stroke="#f27070" stroke-width="0.8"/>
<line x1="102.5" y1="228.74" x2="102.5" y2="247.22" stroke="#f27070" stroke-width="0.8"/>
<line x1="100.4" y1="228.74" x2="104.6" y2="228.74" stroke="#f27070" stroke-width="0.8"/>
<line x1="100.4" y1="247.22" x2="104.6" y2="247.22" stroke="#f27070" stroke-width="0.8"/>
<line x1="114.5" y1="234.62" x2="114.5" y2="251.42" stroke="#f27070" stroke-width="0.8"/>
<line x1="112.4" y1="234.62" x2="116.6" y2="234.62" stroke="#f27070" stroke-width="0.8"/>
<line x1="112.4" y1="251.42" x2="116.6" y2="251.42" stroke="#f27070" stroke-width="0.8"/>
<line x1="126.5" y1="232.94" x2="126.5" y2="251.98" stroke="#f27070" stroke-width="0.8"/>
<line x1="124.4" y1="232.94" x2="128.6" y2="232.94" stroke="#f27070" stroke-width="0.8"/>
<line x1="124.4" y1="251.98" x2="128.6" y2="251.98" stroke="#f27070" stroke-width="0.8"/>
<line x1="138.5" y1="227.9" x2="138.5" y2="248.62" stroke="#f27070" stroke-width="0.8"/>
<line x1="136.4" y1="227.9" x2="140.6" y2="227.9" stroke="#f27070" stroke-width="0.8"/>
<line x1="136.4" y1="248.62" x2="140.6" y2="248.62" stroke="#f27070" stroke-width="0.8"/>
<line x1="150.5" y1="227.62" x2="150.5" y2="244.42" stroke="#f27070" stroke-width="0.8"/>
<line x1="148.4" y1="227.62" x2="152.6" y2="227.62" stroke="#f27070" stroke-width="0.8"/>
<line x1="148.4" y1="244.42" x2="152.6" y2="244.42" stroke="#f27070" stroke-width="0.8"/>
<line x1="162.5" y1="226.22" x2="162.5" y2="237.42" stroke="#f27070" stroke-width="0.8"/>
<line x1="160.4" y1="226.22" x2="164.6" y2="226.22" stroke="#f27070" stroke-width="0.8"/>
<line x1="160.4" y1="237.42" x2="164.6" y2="237.42" stroke="#f27070" stroke-width="0.8"/>
<line x1="174.5" y1="223.14" x2="174.5" y2="237.7" stroke="#f27070" stroke-width="0.8"/>
<line x1="172.4" y1="223.14" x2="176.6" y2="223.14" stroke="#f27070" stroke-width="0.8"/>
<line x1="172.4" y1="237.7" x2="176.6" y2="237.7" stroke="#f27070" stroke-width="0.8"/>
<line x1="186.5" y1="221.46" x2="186.5" y2="238.82" stroke="#f27070" stroke-width="0.8"/>
<line x1="184.4" y1="221.46" x2="188.6" y2="221.46" stroke="#f27070" stroke-width="0.8"/>
<line x1="184.4" y1="238.82" x2="188.6" y2="238.82" stroke="#f27070" stroke-width="0.8"/>
<line x1="198.5" y1="217.26" x2="198.5" y2="225.66" stroke="#f27070" stroke-width="0.8"/>
<line x1="196.4" y1="217.26" x2="200.6" y2="217.26" stroke="#f27070" stroke-width="0.8"/>
<line x1="196.4" y1="225.66" x2="200.6" y2="225.66" stroke="#f27070" stroke-width="0.8"/>
<line x1="210.5" y1="203.26" x2="210.5" y2="217.26" stroke="#f27070" stroke-width="0.8"/>
<line x1="208.4" y1="203.26" x2="212.6" y2="203.26" stroke="#f27070" stroke-width="0.8"/>
<line x1="208.4" y1="217.26" x2="212.6" y2="217.26" stroke="#f27070" stroke-width="0.8"/>
<line x1="54.5" y1="229.3" x2="54.5" y2="242.18" stroke="#3c3cff" stroke-width="0.8"/>
<line x1="52.4" y1="229.3" x2="56.6" y2="229.3" stroke="#3c3cff" stroke-width="0.8"/>
<line x1="52.4" y1="242.18" x2="56.6" y2="242.18" stroke="#3c3cff" stroke-width="0.8"/>
<line x1="66.5" y1="241.34" x2="66.5" y2="249.74" stroke="#3c3cff" stroke-width="0.8"/>
<line x1="64.4" y1="241.34" x2="68.6" y2="241.34" stroke="#3c3cff" stroke-width="0.8"/>
<line x1="64.4" y1="249.74" x2="68.6" y2="249.74" stroke="#3c3cff" stroke-width="0.8"/>
<line x1="78.5" y1="237.14" x2="78.5" y2="252.82" stroke="#3c3cff" stroke-width="0.8"/>
<line x1="76.4" y1="237.14" x2="80.6" y2="237.14" stroke="#3c3cff" stroke-width="0.8"/>
<line x1="76.4" y1="252.82" x2="80.6" y2="252.82" stroke="#3c3cff" stroke-width="0.8"/>
<line x1="90.5" y1="240.78" x2="90.5" y2="252.54" stroke="#3c3cff" stroke-width="0.8"/>
<line x1="88.4" y1="240.78" x2="92.6" y2="240.78" stroke="#3c3cff" stroke-width="0.8"/>
<line x1="88.4" y1="252.54" x2="92.6" y2="252.54" stroke="#3c3cff" stroke-width="0.8"/>
<line x1="102.5" y1="248.9" x2="102.5" y2="257.86" stroke="#3c3cff" stroke-width="0.8"/>
<line x1="100.4" y1="248.9" x2="104.6" y2="248.9" stroke="#3c3cff" stroke-width="0.8"/>
<line x1="100.4" y1="257.86" x2="104.6" y2="257.86" stroke="#3c3cff" stroke-width="0.8"/>
<line x1="114.5" y1="246.1" x2="114.5" y2="257.86" stroke="#3c3cff" stroke-width="0.8"/>
<line x1="112.4" y1="246.1" x2="116.6" y2="246.1" stroke="#3c3cff" stroke-width="0.8"/>
<line x1="112.4" y1="257.86" x2="116.6" y2="257.86" stroke="#3c3cff" stroke-width="0.8"/>
<line x1="126.5" y1="239.38" x2="126.5" y2="254.5" stroke="#3c3cff" stroke-width="0.8"/>
<line x1="124.4" y1="239.38" x2="128.6" y2="239.38" stroke="#3c3cff" stroke-width="0.8"/>
<line x1="124.4" y1="254.5" x2="128.6" y2="254.5" stroke="#3c3cff" stroke-width="0.8"/>
<line x1="138.5" y1="238.54" x2="138.5" y2="247.5" stroke="#3c3cff" stroke-width="0.8"/>
<line x1="136.4" y1="238.54" x2="140.6" y2="238.54" stroke="#3c3cff" stroke-width="0.8"/>
<line x1="136.4" y1="247.5" x2="140.6" y2="247.5" stroke="#3c3cff" stroke-width="0.8"/>
<line x1="150.5" y1="229.02" x2="150.5" y2="243.58" stroke="#3c3cff" stroke-width="0.8"/>
<line x1="148.4" y1="229.02" x2="152.6" y2="229.02" stroke="#3c3cff" stroke-width="0.8"/>
<line x1="148.4" y1="243.58" x2="152.6" y2="243.58" stroke="#3c3cff" stroke-width="0.8"/>
<line x1="162.5" y1="220.62" x2="162.5" y2="231.82" stroke="#3c3cff" stroke-width="0.8"/>
<line x1="160.4" y1="220.62" x2="164.6" y2="220.62" stroke="#3c3cff" stroke-width="0.8"/>
<line x1="160.4" y1="231.82" x2="164.6" y2="231.82" stroke="#3c3cff" stroke-width="0.8"/>
<line x1="174.5" y1="219.78" x2="174.5" y2="232.66" stroke="#3c3cff" stroke-width="0.8"/>
<line x1="172.4" y1="219.78" x2="176.6" y2="219.78" stroke="#3c3cff" stroke-width="0.8"/>
<line x1="172.4" y1="232.66" x2="176.6" y2="232.66" stroke="#3c3cff" stroke-width="0.8"/>
<line x1="186.5" y1="219.78" x2="186.5" y2="233.22" stroke="#3c3cff" stroke-width="0.8"/>
<line x1="184.4" y1="219.78" x2="188.6" y2="219.78" stroke="#3c3cff" stroke-width="0.8"/>
<line x1="184.4" y1="233.22" x2="188.6" y2="233.22" stroke="#3c3cff" stroke-width="0.8"/>
<line x1="198.5" y1="218.66" x2="198.5" y2="224.26" stroke="#3c3cff" stroke-width="0.8"/>
<line x1="196.4" y1="218.66" x2="200.6" y2="218.66" stroke="#3c3cff" stroke-width="0.8"/>
<line x1="196.4" y1="224.26" x2="200.6" y2="224.26" stroke="#3c3cff" stroke-width="0.8"/>
<line x1="210.5" y1="205.5" x2="210.5" y2="213.9" stroke="#3c3cff" stroke-width="0.8"/>
<line x1="208.4" y1="205.5" x2="212.6" y2="205.5" stroke="#3c3cff" stroke-width="0.8"/>
<line x1="208.4" y1="213.9" x2="212.6" y2="213.9" stroke="#3c3cff" stroke-width="0.8"/>
<line x1="54.5" y1="229.02" x2="54.5" y2="248.62" stroke="#222" stroke-width="0.8"/>
<line x1="52.4" y1="229.02" x2="56.6" y2="229.02" stroke="#222" stroke-width="0.8"/>
<line x1="52.4" y1="248.62" x2="56.6" y2="248.62" stroke="#222" stroke-width="0.8"/>
<line x1="66.5" y1="242.18" x2="66.5" y2="265.7" stroke="#222" stroke-width="0.8"/>
<line x1="64.4" y1="242.18" x2="68.6" y2="242.18" stroke="#222" stroke-width="0.8"/>
<line x1="64.4" y1="265.7" x2="68.6" y2="265.7" stroke="#222" stroke-width="0.8"/>
<line x1="78.5" y1="237.98" x2="78.5" y2="264.3" stroke="#222" stroke-width="0.8"/>
<line x1="76.4" y1="237.98" x2="80.6" y2="237.98" stroke="#222" stroke-width="0.8"/>
<line x1="76.4" y1="264.3" x2="80.6" y2="264.3" stroke="#222" stroke-width="0.8"/>
<line x1="90.5" y1="237.7" x2="90.5" y2="266.26" stroke="#222" stroke-width="0.8"/>
<line x1="88.4" y1="237.7" x2="92.6" y2="237.7" stroke="#222" stroke-width="0.8"/>
<line x1="88.4" y1="266.26" x2="92.6" y2="266.26" stroke="#222" stroke-width="0.8"/>
<line x1="102.5" y1="250.58" x2="102.5" y2="274.66" stroke="#222" stroke-width="0.8"/>
<line x1="100.4" y1="250.58" x2="104.6" y2="250.58" stroke="#222" stroke-width="0.8"/>
<line x1="100.4" y1="274.66" x2="104.6" y2="274.66" stroke="#222" stroke-width="0.8"/>
<line x1="114.5" y1="253.1" x2="114.5" y2="282.22" stroke="#222" stroke-width="0.8"/>
<line x1="112.4" y1="253.1" x2="116.6" y2="253.1" stroke="#222" stroke-width="0.8"/>
<line x1="112.4" y1="282.22" x2="116.6" y2="282.22" stroke="#222" stroke-width="0.8"/>
<line x1="126.5" y1="257.58" x2="126.5" y2="284.46" stroke="#222" stroke-width="0.8"/>
<line x1="124.4" y1="257.58" x2="128.6" y2="257.58" stroke="#222" stroke-width="0.8"/>
<line x1="124.4" y1="284.46" x2="128.6" y2="284.46" stroke="#222" stroke-width="0.8"/>
<line x1="138.5" y1="248.06" x2="138.5" y2="271.02" stroke="#222" stroke-width="0.8"/>
<line x1="136.4" y1="248.06" x2="140.6" y2="248.06" stroke="#222" stroke-width="0.8"/>
<line x1="136.4" y1="271.02" x2="140.6" y2="271.02" stroke="#222" stroke-width="0.8"/>
<line x1="150.5" y1="237.42" x2="150.5" y2="262.62" stroke="#222" stroke-width="0.8"/>
<line x1="148.4" y1="237.42" x2="152.6" y2="237.42" stroke="#222" stroke-width="0.8"/>
<line x1="148.4" y1="262.62" x2="152.6" y2="262.62" stroke="#222" stroke-width="0.8"/>
<line x1="162.5" y1="227.62" x2="162.5" y2="251.14" stroke="#222" stroke-width="0.8"/>
<line x1="160.4" y1="227.62" x2="164.6" y2="227.62" stroke="#222" stroke-width="0.8"/>
<line x1="160.4" y1="251.14" x2="164.6" y2="251.14" stroke="#222" stroke-width="0.8"/>
<line x1="174.5" y1="227.62" x2="174.5" y2="244.42" stroke="#222" stroke-width="0.8"/>
<line x1="172.4" y1="227.62" x2="176.6" y2="227.62" stroke="#222" stroke-width="0.8"/>
<line x1="172.4" y1="244.42" x2="176.6" y2="244.42" stroke="#222" stroke-width="0.8"/>
<line x1="186.5" y1="223.14" x2="186.5" y2="242.18" stroke="#222" stroke-width="0.8"/>
<line x1="184.4" y1="223.14" x2="188.6" y2="223.14" stroke="#222" stroke-width="0.8"/>
<line x1="184.4" y1="242.18" x2="188.6" y2="242.18" stroke="#222" stroke-width="0.8"/>
<line x1="198.5" y1="215.3" x2="198.5" y2="238.26" stroke="#222" stroke-width="0.8"/>
<line x1="196.4" y1="215.3" x2="200.6" y2="215.3" stroke="#222" stroke-width="0.8"/>
<line x1="196.4" y1="238.26" x2="200.6" y2="238.26" stroke="#222" stroke-width="0.8"/>
<line x1="210.5" y1="199.34" x2="210.5" y2="227.34" stroke="#222" stroke-width="0.8"/>
<line x1="208.4" y1="199.34" x2="212.6" y2="199.34" stroke="#222" stroke-width="0.8"/>
<line x1="208.4" y1="227.34" x2="212.6" y2="227.34" stroke="#222" stroke-width="0.8"/>
<polyline points="42.5,236.3 54.5,230.42 66.5,236.3 78.5,232.1 90.5,232.38 102.5,237.98 114.5,243.02 126.5,242.46 138.5,238.26 150.5,236.02 162.5,231.82 174.5,230.42 186.5,230.14 198.5,221.46 210.5,210.26" fill="none" stroke="#f24a4a" stroke-width="1.3" stroke-linejoin="round"/>
<circle cx="42.5" cy="236.3" r="2.5" fill="#f24a4a"/>
<circle cx="54.5" cy="230.42" r="2.5" fill="#f24a4a"/>
<circle cx="66.5" cy="236.3" r="2.5" fill="#f24a4a"/>
<circle cx="78.5" cy="232.1" r="2.5" fill="#f24a4a"/>
<circle cx="90.5" cy="232.38" r="2.5" fill="#f24a4a"/>
<circle cx="102.5" cy="237.98" r="2.5" fill="#f24a4a"/>
<circle cx="114.5" cy="243.02" r="2.5" fill="#f24a4a"/>
<circle cx="126.5" cy="242.46" r="2.5" fill="#f24a4a"/>
<circle cx="138.5" cy="238.26" r="2.5" fill="#f24a4a"/>
<circle cx="150.5" cy="236.02" r="2.5" fill="#f24a4a"/>
<circle cx="162.5" cy="231.82" r="2.5" fill="#f24a4a"/>
<circle cx="174.5" cy="230.42" r="2.5" fill="#f24a4a"/>
<circle cx="186.5" cy="230.14" r="2.5" fill="#f24a4a"/>
<circle cx="198.5" cy="221.46" r="2.5" fill="#f24a4a"/>
<circle cx="210.5" cy="210.26" r="2.5" fill="#f24a4a"/>
<polyline points="42.5,236.3 54.5,235.74 66.5,245.54 78.5,244.98 90.5,246.66 102.5,253.38 114.5,251.98 126.5,246.94 138.5,243.02 150.5,236.3 162.5,226.22 174.5,226.22 186.5,226.5 198.5,221.46 210.5,209.7" fill="none" stroke="#0000ff" stroke-width="1.3" stroke-linejoin="round"/>
<circle cx="42.5" cy="236.3" r="2.5" fill="#0000ff"/>
<circle cx="54.5" cy="235.74" r="2.5" fill="#0000ff"/>
<circle cx="66.5" cy="245.54" r="2.5" fill="#0000ff"/>
<circle cx="78.5" cy="244.98" r="2.5" fill="#0000ff"/>
<circle cx="90.5" cy="246.66" r="2.5" fill="#0000ff"/>
<circle cx="102.5" cy="253.38" r="2.5" fill="#0000ff"/>
<circle cx="114.5" cy="251.98" r="2.5" fill="#0000ff"/>
<circle cx="126.5" cy="246.94" r="2.5" fill="#0000ff"/>
<circle cx="138.5" cy="243.02" r="2.5" fill="#0000ff"/>
<circle cx="150.5" cy="236.3" r="2.5" fill="#0000ff"/>
<circle cx="162.5" cy="226.22" r="2.5" fill="#0000ff"/>
<circle cx="174.5" cy="226.22" r="2.5" fill="#0000ff"/>
<circle cx="186.5" cy="226.5" r="2.5" fill="#0000ff"/>
<circle cx="198.5" cy="221.46" r="2.5" fill="#0000ff"/>
<circle cx="210.5" cy="209.7" r="2.5" fill="#0000ff"/>
<polyline points="42.5,236.3 54.5,238.82 66.5,253.94 78.5,251.14 90.5,251.98 102.5,262.62 114.5,267.66 126.5,271.02 138.5,259.54 150.5,250.02 162.5,239.38 174.5,236.02 186.5,232.66 198.5,226.78 210.5,213.34" fill="none" stroke="#000" stroke-width="1.3" stroke-linejoin="round"/>
<circle cx="42.5" cy="236.3" r="2.5" fill="#000"/>
<circle cx="54.5" cy="238.82" r="2.5" fill="#000"/>
<circle cx="66.5" cy="253.94" r="2.5" fill="#000"/>
<circle cx="78.5" cy="251.14" r="2.5" fill="#000"/>
<circle cx="90.5" cy="251.98" r="2.5" fill="#000"/>
<circle cx="102.5" cy="262.62" r="2.5" fill="#000"/>
<circle cx="114.5" cy="267.66" r="2.5" fill="#000"/>
<circle cx="126.5" cy="271.02" r="2.5" fill="#000"/>
<circle cx="138.5" cy="259.54" r="2.5" fill="#000"/>
<circle cx="150.5" cy="250.02" r="2.5" fill="#000"/>
<circle cx="162.5" cy="239.38" r="2.5" fill="#000"/>
<circle cx="174.5" cy="236.02" r="2.5" fill="#000"/>
<circle cx="186.5" cy="232.66" r="2.5" fill="#000"/>
<circle cx="198.5" cy="226.78" r="2.5" fill="#000"/>
<circle cx="210.5" cy="213.34" r="2.5" fill="#000"/>
<line x1="46" y1="175.1" x2="59.8" y2="175.1" stroke="#000" stroke-width="1.3"/>
<circle cx="52.9" cy="175.1" r="2.5" fill="#000"/>
<text x="67.2" y="177.59" font-size="7" text-anchor="start" fill="#000">Vehicle</text>
<line x1="46" y1="182" x2="59.8" y2="182" stroke="#f24a4a" stroke-width="1.3"/>
<circle cx="52.9" cy="182" r="2.5" fill="#f24a4a"/>
<text x="67.2" y="184.49" font-size="7" text-anchor="start" fill="#000">Ensitrelvir</text>
<line x1="46" y1="188.9" x2="59.8" y2="188.9" stroke="#0000ff" stroke-width="1.3"/>
<circle cx="52.9" cy="188.9" r="2.5" fill="#0000ff"/>
<text x="67.2" y="191.39" font-size="7" text-anchor="start" fill="#000">Nirmatrelvir</text>
<polygon points="119.9,180.65 119.43,181.73 118.25,181.6 118.95,182.55 118.25,183.5 119.43,183.37 119.9,184.45 120.38,183.37 121.55,183.5 120.85,182.55 121.55,181.6 120.38,181.73" fill="#000" stroke="#000" stroke-width="0.5" stroke-linejoin="round"/>
<polygon points="124.7,180.65 124.23,181.73 123.05,181.6 123.75,182.55 123.05,183.5 124.23,183.37 124.7,184.45 125.17,183.37 126.35,183.5 125.65,182.55 126.35,181.6 125.17,181.73" fill="#000" stroke="#000" stroke-width="0.5" stroke-linejoin="round"/>
<polygon points="122.3,187.3 121.83,188.38 120.65,188.25 121.35,189.2 120.65,190.15 121.83,190.02 122.3,191.1 122.77,190.02 123.95,190.15 123.25,189.2 123.95,188.25 122.77,188.38" fill="#000" stroke="#000" stroke-width="0.5" stroke-linejoin="round"/>
<text x="215.8" y="286.7" font-size="9.7" text-anchor="end" fill="#000">M<tspan font-size="6.98" dy="-3.3">pro</tspan><tspan dy="3.3">-WT</tspan></text>
<text x="1" y="347.8" font-size="9.2" text-anchor="start" font-weight="bold" fill="#000">d</text>
<line x1="42.4" y1="350.3" x2="42.4" y2="467.4" stroke="#000" stroke-width="1.2"/>
<line x1="41.8" y1="462.9" x2="212.12" y2="462.9" stroke="#000" stroke-width="1.2"/>
<line x1="37.9" y1="462.9" x2="42.4" y2="462.9" stroke="#000" stroke-width="1.1"/>
<text x="36.4" y="465.88" font-size="8.4" text-anchor="end" fill="#000">80</text>
<line x1="37.9" y1="434.9" x2="42.4" y2="434.9" stroke="#000" stroke-width="1.1"/>
<text x="36.4" y="437.88" font-size="8.4" text-anchor="end" fill="#000">90</text>
<line x1="37.9" y1="406.9" x2="42.4" y2="406.9" stroke="#000" stroke-width="1.1"/>
<text x="36.4" y="409.88" font-size="8.4" text-anchor="end" fill="#000">100</text>
<line x1="37.9" y1="378.9" x2="42.4" y2="378.9" stroke="#000" stroke-width="1.1"/>
<text x="36.4" y="381.88" font-size="8.4" text-anchor="end" fill="#000">110</text>
<line x1="37.9" y1="350.9" x2="42.4" y2="350.9" stroke="#000" stroke-width="1.1"/>
<text x="36.4" y="353.88" font-size="8.4" text-anchor="end" fill="#000">120</text>
<line x1="39.6" y1="448.9" x2="42.4" y2="448.9" stroke="#000" stroke-width="1.1"/>
<line x1="39.6" y1="420.9" x2="42.4" y2="420.9" stroke="#000" stroke-width="1.1"/>
<line x1="39.6" y1="392.9" x2="42.4" y2="392.9" stroke="#000" stroke-width="1.1"/>
<line x1="39.6" y1="364.9" x2="42.4" y2="364.9" stroke="#000" stroke-width="1.1"/>
<line x1="42.4" y1="462.9" x2="42.4" y2="467.4" stroke="#000" stroke-width="1.1"/>
<text x="42.4" y="477.28" font-size="8.4" text-anchor="middle" fill="#000">0</text>
<line x1="54.48" y1="462.9" x2="54.48" y2="467.4" stroke="#000" stroke-width="1.1"/>
<text x="54.48" y="477.28" font-size="8.4" text-anchor="middle" fill="#000">1</text>
<line x1="66.56" y1="462.9" x2="66.56" y2="467.4" stroke="#000" stroke-width="1.1"/>
<text x="66.56" y="477.28" font-size="8.4" text-anchor="middle" fill="#000">2</text>
<line x1="78.64" y1="462.9" x2="78.64" y2="467.4" stroke="#000" stroke-width="1.1"/>
<text x="78.64" y="477.28" font-size="8.4" text-anchor="middle" fill="#000">3</text>
<line x1="90.72" y1="462.9" x2="90.72" y2="467.4" stroke="#000" stroke-width="1.1"/>
<text x="90.72" y="477.28" font-size="8.4" text-anchor="middle" fill="#000">4</text>
<line x1="102.8" y1="462.9" x2="102.8" y2="467.4" stroke="#000" stroke-width="1.1"/>
<text x="102.8" y="477.28" font-size="8.4" text-anchor="middle" fill="#000">5</text>
<line x1="114.88" y1="462.9" x2="114.88" y2="467.4" stroke="#000" stroke-width="1.1"/>
<text x="114.88" y="477.28" font-size="8.4" text-anchor="middle" fill="#000">6</text>
<line x1="126.96" y1="462.9" x2="126.96" y2="467.4" stroke="#000" stroke-width="1.1"/>
<text x="126.96" y="477.28" font-size="8.4" text-anchor="middle" fill="#000">7</text>
<line x1="139.04" y1="462.9" x2="139.04" y2="467.4" stroke="#000" stroke-width="1.1"/>
<text x="139.04" y="477.28" font-size="8.4" text-anchor="middle" fill="#000">8</text>
<line x1="151.12" y1="462.9" x2="151.12" y2="467.4" stroke="#000" stroke-width="1.1"/>
<text x="151.12" y="477.28" font-size="8.4" text-anchor="middle" fill="#000">9</text>
<line x1="163.2" y1="462.9" x2="163.2" y2="467.4" stroke="#000" stroke-width="1.1"/>
<text x="163.2" y="477.28" font-size="8.4" text-anchor="middle" fill="#000">10</text>
<line x1="175.28" y1="462.9" x2="175.28" y2="467.4" stroke="#000" stroke-width="1.1"/>
<text x="175.28" y="477.28" font-size="8.4" text-anchor="middle" fill="#000">11</text>
<line x1="187.36" y1="462.9" x2="187.36" y2="467.4" stroke="#000" stroke-width="1.1"/>
<text x="187.36" y="477.28" font-size="8.4" text-anchor="middle" fill="#000">12</text>
<line x1="199.44" y1="462.9" x2="199.44" y2="467.4" stroke="#000" stroke-width="1.1"/>
<text x="199.44" y="477.28" font-size="8.4" text-anchor="middle" fill="#000">13</text>
<line x1="211.52" y1="462.9" x2="211.52" y2="467.4" stroke="#000" stroke-width="1.1"/>
<text x="211.52" y="477.28" font-size="8.4" text-anchor="middle" fill="#000">14</text>
<text x="126.8" y="490.88" font-size="9.4" text-anchor="middle" fill="#000">Days post infection</text>
<text x="17.32" y="406.9" font-size="9.5" text-anchor="middle" fill="#000" transform="rotate(-90 17.32 406.9)">Weight change (%)</text>
<line x1="54.48" y1="404.94" x2="54.48" y2="416.14" stroke="#f27070" stroke-width="0.8"/>
<line x1="52.38" y1="404.94" x2="56.58" y2="404.94" stroke="#f27070" stroke-width="0.8"/>
<line x1="52.38" y1="416.14" x2="56.58" y2="416.14" stroke="#f27070" stroke-width="0.8"/>
<line x1="66.56" y1="411.94" x2="66.56" y2="425.94" stroke="#f27070" stroke-width="0.8"/>
<line x1="64.46" y1="411.94" x2="68.66" y2="411.94" stroke="#f27070" stroke-width="0.8"/>
<line x1="64.46" y1="425.94" x2="68.66" y2="425.94" stroke="#f27070" stroke-width="0.8"/>
<line x1="78.64" y1="408.02" x2="78.64" y2="424.82" stroke="#f27070" stroke-width="0.8"/>
<line x1="76.54" y1="408.02" x2="80.74" y2="408.02" stroke="#f27070" stroke-width="0.8"/>
<line x1="76.54" y1="424.82" x2="80.74" y2="424.82" stroke="#f27070" stroke-width="0.8"/>
<line x1="90.72" y1="407.46" x2="90.72" y2="427.06" stroke="#f27070" stroke-width="0.8"/>
<line x1="88.62" y1="407.46" x2="92.82" y2="407.46" stroke="#f27070" stroke-width="0.8"/>
<line x1="88.62" y1="427.06" x2="92.82" y2="427.06" stroke="#f27070" stroke-width="0.8"/>
<line x1="102.8" y1="405.22" x2="102.8" y2="424.82" stroke="#f27070" stroke-width="0.8"/>
<line x1="100.7" y1="405.22" x2="104.9" y2="405.22" stroke="#f27070" stroke-width="0.8"/>
<line x1="100.7" y1="424.82" x2="104.9" y2="424.82" stroke="#f27070" stroke-width="0.8"/>
<line x1="114.88" y1="402.98" x2="114.88" y2="428.18" stroke="#f27070" stroke-width="0.8"/>
<line x1="112.78" y1="402.98" x2="116.98" y2="402.98" stroke="#f27070" stroke-width="0.8"/>
<line x1="112.78" y1="428.18" x2="116.98" y2="428.18" stroke="#f27070" stroke-width="0.8"/>
<line x1="126.96" y1="406.9" x2="126.96" y2="429.3" stroke="#f27070" stroke-width="0.8"/>
<line x1="124.86" y1="406.9" x2="129.06" y2="406.9" stroke="#f27070" stroke-width="0.8"/>
<line x1="124.86" y1="429.3" x2="129.06" y2="429.3" stroke="#f27070" stroke-width="0.8"/>
<line x1="139.04" y1="404.1" x2="139.04" y2="423.7" stroke="#f27070" stroke-width="0.8"/>
<line x1="136.94" y1="404.1" x2="141.14" y2="404.1" stroke="#f27070" stroke-width="0.8"/>
<line x1="136.94" y1="423.7" x2="141.14" y2="423.7" stroke="#f27070" stroke-width="0.8"/>
<line x1="151.12" y1="402.42" x2="151.12" y2="422.02" stroke="#f27070" stroke-width="0.8"/>
<line x1="149.02" y1="402.42" x2="153.22" y2="402.42" stroke="#f27070" stroke-width="0.8"/>
<line x1="149.02" y1="422.02" x2="153.22" y2="422.02" stroke="#f27070" stroke-width="0.8"/>
<line x1="163.2" y1="393.46" x2="163.2" y2="413.06" stroke="#f27070" stroke-width="0.8"/>
<line x1="161.1" y1="393.46" x2="165.3" y2="393.46" stroke="#f27070" stroke-width="0.8"/>
<line x1="161.1" y1="413.06" x2="165.3" y2="413.06" stroke="#f27070" stroke-width="0.8"/>
<line x1="175.28" y1="391.78" x2="175.28" y2="411.38" stroke="#f27070" stroke-width="0.8"/>
<line x1="173.18" y1="391.78" x2="177.38" y2="391.78" stroke="#f27070" stroke-width="0.8"/>
<line x1="173.18" y1="411.38" x2="177.38" y2="411.38" stroke="#f27070" stroke-width="0.8"/>
<line x1="187.36" y1="393.18" x2="187.36" y2="409.98" stroke="#f27070" stroke-width="0.8"/>
<line x1="185.26" y1="393.18" x2="189.46" y2="393.18" stroke="#f27070" stroke-width="0.8"/>
<line x1="185.26" y1="409.98" x2="189.46" y2="409.98" stroke="#f27070" stroke-width="0.8"/>
<line x1="199.44" y1="383.66" x2="199.44" y2="400.46" stroke="#f27070" stroke-width="0.8"/>
<line x1="197.34" y1="383.66" x2="201.54" y2="383.66" stroke="#f27070" stroke-width="0.8"/>
<line x1="197.34" y1="400.46" x2="201.54" y2="400.46" stroke="#f27070" stroke-width="0.8"/>
<line x1="211.52" y1="376.38" x2="211.52" y2="393.18" stroke="#f27070" stroke-width="0.8"/>
<line x1="209.42" y1="376.38" x2="213.62" y2="376.38" stroke="#f27070" stroke-width="0.8"/>
<line x1="209.42" y1="393.18" x2="213.62" y2="393.18" stroke="#f27070" stroke-width="0.8"/>
<line x1="54.48" y1="401.3" x2="54.48" y2="415.3" stroke="#3c3cff" stroke-width="0.8"/>
<line x1="52.38" y1="401.3" x2="56.58" y2="401.3" stroke="#3c3cff" stroke-width="0.8"/>
<line x1="52.38" y1="415.3" x2="56.58" y2="415.3" stroke="#3c3cff" stroke-width="0.8"/>
<line x1="66.56" y1="405.5" x2="66.56" y2="427.9" stroke="#3c3cff" stroke-width="0.8"/>
<line x1="64.46" y1="405.5" x2="68.66" y2="405.5" stroke="#3c3cff" stroke-width="0.8"/>
<line x1="64.46" y1="427.9" x2="68.66" y2="427.9" stroke="#3c3cff" stroke-width="0.8"/>
<line x1="78.64" y1="402.42" x2="78.64" y2="427.62" stroke="#3c3cff" stroke-width="0.8"/>
<line x1="76.54" y1="402.42" x2="80.74" y2="402.42" stroke="#3c3cff" stroke-width="0.8"/>
<line x1="76.54" y1="427.62" x2="80.74" y2="427.62" stroke="#3c3cff" stroke-width="0.8"/>
<line x1="90.72" y1="402.7" x2="90.72" y2="433.5" stroke="#3c3cff" stroke-width="0.8"/>
<line x1="88.62" y1="402.7" x2="92.82" y2="402.7" stroke="#3c3cff" stroke-width="0.8"/>
<line x1="88.62" y1="433.5" x2="92.82" y2="433.5" stroke="#3c3cff" stroke-width="0.8"/>
<line x1="102.8" y1="405.22" x2="102.8" y2="444.42" stroke="#3c3cff" stroke-width="0.8"/>
<line x1="100.7" y1="405.22" x2="104.9" y2="405.22" stroke="#3c3cff" stroke-width="0.8"/>
<line x1="100.7" y1="444.42" x2="104.9" y2="444.42" stroke="#3c3cff" stroke-width="0.8"/>
<line x1="114.88" y1="398.22" x2="114.88" y2="443.02" stroke="#3c3cff" stroke-width="0.8"/>
<line x1="112.78" y1="398.22" x2="116.98" y2="398.22" stroke="#3c3cff" stroke-width="0.8"/>
<line x1="112.78" y1="443.02" x2="116.98" y2="443.02" stroke="#3c3cff" stroke-width="0.8"/>
<line x1="126.96" y1="397.66" x2="126.96" y2="442.46" stroke="#3c3cff" stroke-width="0.8"/>
<line x1="124.86" y1="397.66" x2="129.06" y2="397.66" stroke="#3c3cff" stroke-width="0.8"/>
<line x1="124.86" y1="442.46" x2="129.06" y2="442.46" stroke="#3c3cff" stroke-width="0.8"/>
<line x1="139.04" y1="390.66" x2="139.04" y2="432.66" stroke="#3c3cff" stroke-width="0.8"/>
<line x1="136.94" y1="390.66" x2="141.14" y2="390.66" stroke="#3c3cff" stroke-width="0.8"/>
<line x1="136.94" y1="432.66" x2="141.14" y2="432.66" stroke="#3c3cff" stroke-width="0.8"/>
<line x1="151.12" y1="382.54" x2="151.12" y2="427.34" stroke="#3c3cff" stroke-width="0.8"/>
<line x1="149.02" y1="382.54" x2="153.22" y2="382.54" stroke="#3c3cff" stroke-width="0.8"/>
<line x1="149.02" y1="427.34" x2="153.22" y2="427.34" stroke="#3c3cff" stroke-width="0.8"/>
<line x1="163.2" y1="374.14" x2="163.2" y2="418.94" stroke="#3c3cff" stroke-width="0.8"/>
<line x1="161.1" y1="374.14" x2="165.3" y2="374.14" stroke="#3c3cff" stroke-width="0.8"/>
<line x1="161.1" y1="418.94" x2="165.3" y2="418.94" stroke="#3c3cff" stroke-width="0.8"/>
<line x1="175.28" y1="370.5" x2="175.28" y2="412.5" stroke="#3c3cff" stroke-width="0.8"/>
<line x1="173.18" y1="370.5" x2="177.38" y2="370.5" stroke="#3c3cff" stroke-width="0.8"/>
<line x1="173.18" y1="412.5" x2="177.38" y2="412.5" stroke="#3c3cff" stroke-width="0.8"/>
<line x1="187.36" y1="367.14" x2="187.36" y2="409.14" stroke="#3c3cff" stroke-width="0.8"/>
<line x1="185.26" y1="367.14" x2="189.46" y2="367.14" stroke="#3c3cff" stroke-width="0.8"/>
<line x1="185.26" y1="409.14" x2="189.46" y2="409.14" stroke="#3c3cff" stroke-width="0.8"/>
<line x1="199.44" y1="362.66" x2="199.44" y2="396.26" stroke="#3c3cff" stroke-width="0.8"/>
<line x1="197.34" y1="362.66" x2="201.54" y2="362.66" stroke="#3c3cff" stroke-width="0.8"/>
<line x1="197.34" y1="396.26" x2="201.54" y2="396.26" stroke="#3c3cff" stroke-width="0.8"/>
<line x1="211.52" y1="359.02" x2="211.52" y2="387.02" stroke="#3c3cff" stroke-width="0.8"/>
<line x1="209.42" y1="359.02" x2="213.62" y2="359.02" stroke="#3c3cff" stroke-width="0.8"/>
<line x1="209.42" y1="387.02" x2="213.62" y2="387.02" stroke="#3c3cff" stroke-width="0.8"/>
<line x1="54.48" y1="390.66" x2="54.48" y2="410.26" stroke="#222" stroke-width="0.8"/>
<line x1="52.38" y1="390.66" x2="56.58" y2="390.66" stroke="#222" stroke-width="0.8"/>
<line x1="52.38" y1="410.26" x2="56.58" y2="410.26" stroke="#222" stroke-width="0.8"/>
<line x1="66.56" y1="397.66" x2="66.56" y2="420.06" stroke="#222" stroke-width="0.8"/>
<line x1="64.46" y1="397.66" x2="68.66" y2="397.66" stroke="#222" stroke-width="0.8"/>
<line x1="64.46" y1="420.06" x2="68.66" y2="420.06" stroke="#222" stroke-width="0.8"/>
<line x1="78.64" y1="397.38" x2="78.64" y2="425.38" stroke="#222" stroke-width="0.8"/>
<line x1="76.54" y1="397.38" x2="80.74" y2="397.38" stroke="#222" stroke-width="0.8"/>
<line x1="76.54" y1="425.38" x2="80.74" y2="425.38" stroke="#222" stroke-width="0.8"/>
<line x1="90.72" y1="399.06" x2="90.72" y2="427.06" stroke="#222" stroke-width="0.8"/>
<line x1="88.62" y1="399.06" x2="92.82" y2="399.06" stroke="#222" stroke-width="0.8"/>
<line x1="88.62" y1="427.06" x2="92.82" y2="427.06" stroke="#222" stroke-width="0.8"/>
<line x1="102.8" y1="408.02" x2="102.8" y2="441.62" stroke="#222" stroke-width="0.8"/>
<line x1="100.7" y1="408.02" x2="104.9" y2="408.02" stroke="#222" stroke-width="0.8"/>
<line x1="100.7" y1="441.62" x2="104.9" y2="441.62" stroke="#222" stroke-width="0.8"/>
<line x1="114.88" y1="413.06" x2="114.88" y2="446.66" stroke="#222" stroke-width="0.8"/>
<line x1="112.78" y1="413.06" x2="116.98" y2="413.06" stroke="#222" stroke-width="0.8"/>
<line x1="112.78" y1="446.66" x2="116.98" y2="446.66" stroke="#222" stroke-width="0.8"/>
<line x1="126.96" y1="405.22" x2="126.96" y2="441.62" stroke="#222" stroke-width="0.8"/>
<line x1="124.86" y1="405.22" x2="129.06" y2="405.22" stroke="#222" stroke-width="0.8"/>
<line x1="124.86" y1="441.62" x2="129.06" y2="441.62" stroke="#222" stroke-width="0.8"/>
<line x1="139.04" y1="396.26" x2="139.04" y2="427.06" stroke="#222" stroke-width="0.8"/>
<line x1="136.94" y1="396.26" x2="141.14" y2="396.26" stroke="#222" stroke-width="0.8"/>
<line x1="136.94" y1="427.06" x2="141.14" y2="427.06" stroke="#222" stroke-width="0.8"/>
<line x1="151.12" y1="382.82" x2="151.12" y2="416.42" stroke="#222" stroke-width="0.8"/>
<line x1="149.02" y1="382.82" x2="153.22" y2="382.82" stroke="#222" stroke-width="0.8"/>
<line x1="149.02" y1="416.42" x2="153.22" y2="416.42" stroke="#222" stroke-width="0.8"/>
<line x1="163.2" y1="387.86" x2="163.2" y2="418.66" stroke="#222" stroke-width="0.8"/>
<line x1="161.1" y1="387.86" x2="165.3" y2="387.86" stroke="#222" stroke-width="0.8"/>
<line x1="161.1" y1="418.66" x2="165.3" y2="418.66" stroke="#222" stroke-width="0.8"/>
<line x1="175.28" y1="389.26" x2="175.28" y2="417.26" stroke="#222" stroke-width="0.8"/>
<line x1="173.18" y1="389.26" x2="177.38" y2="389.26" stroke="#222" stroke-width="0.8"/>
<line x1="173.18" y1="417.26" x2="177.38" y2="417.26" stroke="#222" stroke-width="0.8"/>
<line x1="187.36" y1="390.66" x2="187.36" y2="415.86" stroke="#222" stroke-width="0.8"/>
<line x1="185.26" y1="390.66" x2="189.46" y2="390.66" stroke="#222" stroke-width="0.8"/>
<line x1="185.26" y1="415.86" x2="189.46" y2="415.86" stroke="#222" stroke-width="0.8"/>
<line x1="199.44" y1="380.02" x2="199.44" y2="405.22" stroke="#222" stroke-width="0.8"/>
<line x1="197.34" y1="380.02" x2="201.54" y2="380.02" stroke="#222" stroke-width="0.8"/>
<line x1="197.34" y1="405.22" x2="201.54" y2="405.22" stroke="#222" stroke-width="0.8"/>
<line x1="211.52" y1="373.86" x2="211.52" y2="393.46" stroke="#222" stroke-width="0.8"/>
<line x1="209.42" y1="373.86" x2="213.62" y2="373.86" stroke="#222" stroke-width="0.8"/>
<line x1="209.42" y1="393.46" x2="213.62" y2="393.46" stroke="#222" stroke-width="0.8"/>
<polyline points="42.4,406.9 54.48,410.54 66.56,418.94 78.64,416.42 90.72,417.26 102.8,415.02 114.88,415.58 126.96,418.1 139.04,413.9 151.12,412.22 163.2,403.26 175.28,401.58 187.36,401.58 199.44,392.06 211.52,384.78" fill="none" stroke="#f24a4a" stroke-width="1.3" stroke-linejoin="round"/>
<circle cx="42.4" cy="406.9" r="2.5" fill="#f24a4a"/>
<circle cx="54.48" cy="410.54" r="2.5" fill="#f24a4a"/>
<circle cx="66.56" cy="418.94" r="2.5" fill="#f24a4a"/>
<circle cx="78.64" cy="416.42" r="2.5" fill="#f24a4a"/>
<circle cx="90.72" cy="417.26" r="2.5" fill="#f24a4a"/>
<circle cx="102.8" cy="415.02" r="2.5" fill="#f24a4a"/>
<circle cx="114.88" cy="415.58" r="2.5" fill="#f24a4a"/>
<circle cx="126.96" cy="418.1" r="2.5" fill="#f24a4a"/>
<circle cx="139.04" cy="413.9" r="2.5" fill="#f24a4a"/>
<circle cx="151.12" cy="412.22" r="2.5" fill="#f24a4a"/>
<circle cx="163.2" cy="403.26" r="2.5" fill="#f24a4a"/>
<circle cx="175.28" cy="401.58" r="2.5" fill="#f24a4a"/>
<circle cx="187.36" cy="401.58" r="2.5" fill="#f24a4a"/>
<circle cx="199.44" cy="392.06" r="2.5" fill="#f24a4a"/>
<circle cx="211.52" cy="384.78" r="2.5" fill="#f24a4a"/>
<polyline points="42.4,406.9 54.48,408.3 66.56,416.7 78.64,415.02 90.72,418.1 102.8,424.82 114.88,420.62 126.96,420.06 139.04,411.66 151.12,404.94 163.2,396.54 175.28,391.5 187.36,388.14 199.44,379.46 211.52,373.02" fill="none" stroke="#0000ff" stroke-width="1.3" stroke-linejoin="round"/>
<circle cx="42.4" cy="406.9" r="2.5" fill="#0000ff"/>
<circle cx="54.48" cy="408.3" r="2.5" fill="#0000ff"/>
<circle cx="66.56" cy="416.7" r="2.5" fill="#0000ff"/>
<circle cx="78.64" cy="415.02" r="2.5" fill="#0000ff"/>
<circle cx="90.72" cy="418.1" r="2.5" fill="#0000ff"/>
<circle cx="102.8" cy="424.82" r="2.5" fill="#0000ff"/>
<circle cx="114.88" cy="420.62" r="2.5" fill="#0000ff"/>
<circle cx="126.96" cy="420.06" r="2.5" fill="#0000ff"/>
<circle cx="139.04" cy="411.66" r="2.5" fill="#0000ff"/>
<circle cx="151.12" cy="404.94" r="2.5" fill="#0000ff"/>
<circle cx="163.2" cy="396.54" r="2.5" fill="#0000ff"/>
<circle cx="175.28" cy="391.5" r="2.5" fill="#0000ff"/>
<circle cx="187.36" cy="388.14" r="2.5" fill="#0000ff"/>
<circle cx="199.44" cy="379.46" r="2.5" fill="#0000ff"/>
<circle cx="211.52" cy="373.02" r="2.5" fill="#0000ff"/>
<polyline points="42.4,406.9 54.48,400.46 66.56,408.86 78.64,411.38 90.72,413.06 102.8,424.82 114.88,429.86 126.96,423.42 139.04,411.66 151.12,399.62 163.2,403.26 175.28,403.26 187.36,403.26 199.44,392.62 211.52,383.66" fill="none" stroke="#000" stroke-width="1.3" stroke-linejoin="round"/>
<circle cx="42.4" cy="406.9" r="2.5" fill="#000"/>
<circle cx="54.48" cy="400.46" r="2.5" fill="#000"/>
<circle cx="66.56" cy="408.86" r="2.5" fill="#000"/>
<circle cx="78.64" cy="411.38" r="2.5" fill="#000"/>
<circle cx="90.72" cy="413.06" r="2.5" fill="#000"/>
<circle cx="102.8" cy="424.82" r="2.5" fill="#000"/>
<circle cx="114.88" cy="429.86" r="2.5" fill="#000"/>
<circle cx="126.96" cy="423.42" r="2.5" fill="#000"/>
<circle cx="139.04" cy="411.66" r="2.5" fill="#000"/>
<circle cx="151.12" cy="399.62" r="2.5" fill="#000"/>
<circle cx="163.2" cy="403.26" r="2.5" fill="#000"/>
<circle cx="175.28" cy="403.26" r="2.5" fill="#000"/>
<circle cx="187.36" cy="403.26" r="2.5" fill="#000"/>
<circle cx="199.44" cy="392.62" r="2.5" fill="#000"/>
<circle cx="211.52" cy="383.66" r="2.5" fill="#000"/>
<line x1="46" y1="349.5" x2="59.8" y2="349.5" stroke="#000" stroke-width="1.3"/>
<circle cx="52.9" cy="349.5" r="2.5" fill="#000"/>
<text x="67.2" y="351.99" font-size="7" text-anchor="start" fill="#000">Vehicle</text>
<line x1="46" y1="356.4" x2="59.8" y2="356.4" stroke="#f24a4a" stroke-width="1.3"/>
<circle cx="52.9" cy="356.4" r="2.5" fill="#f24a4a"/>
<text x="67.2" y="358.88" font-size="7" text-anchor="start" fill="#000">Ensitrelvir</text>
<line x1="46" y1="363.3" x2="59.8" y2="363.3" stroke="#0000ff" stroke-width="1.3"/>
<circle cx="52.9" cy="363.3" r="2.5" fill="#0000ff"/>
<text x="67.2" y="365.79" font-size="7" text-anchor="start" fill="#000">Nirmatrelvir</text>
<text x="118.1" y="359.25" font-size="7.6" text-anchor="start" fill="#000">ns</text>
<text x="118.1" y="366.1" font-size="7.6" text-anchor="start" fill="#000">ns</text>
<text x="215.8" y="457.3" font-size="9.7" text-anchor="end" fill="#000">M<tspan font-size="6.98" dy="-3.3">pro</tspan><tspan dy="3.3">-T45I</tspan></text>
<text x="1" y="516.8" font-size="9.2" text-anchor="start" font-weight="bold" fill="#000">e</text>
<line x1="42.5" y1="519" x2="42.5" y2="636.1" stroke="#000" stroke-width="1.2"/>
<line x1="41.9" y1="631.6" x2="211.1" y2="631.6" stroke="#000" stroke-width="1.2"/>
<line x1="38" y1="631.6" x2="42.5" y2="631.6" stroke="#000" stroke-width="1.1"/>
<text x="36.5" y="634.58" font-size="8.4" text-anchor="end" fill="#000">80</text>
<line x1="38" y1="603.6" x2="42.5" y2="603.6" stroke="#000" stroke-width="1.1"/>
<text x="36.5" y="606.58" font-size="8.4" text-anchor="end" fill="#000">90</text>
<line x1="38" y1="575.6" x2="42.5" y2="575.6" stroke="#000" stroke-width="1.1"/>
<text x="36.5" y="578.58" font-size="8.4" text-anchor="end" fill="#000">100</text>
<line x1="38" y1="547.6" x2="42.5" y2="547.6" stroke="#000" stroke-width="1.1"/>
<text x="36.5" y="550.58" font-size="8.4" text-anchor="end" fill="#000">110</text>
<line x1="38" y1="519.6" x2="42.5" y2="519.6" stroke="#000" stroke-width="1.1"/>
<text x="36.5" y="522.58" font-size="8.4" text-anchor="end" fill="#000">120</text>
<line x1="39.7" y1="617.6" x2="42.5" y2="617.6" stroke="#000" stroke-width="1.1"/>
<line x1="39.7" y1="589.6" x2="42.5" y2="589.6" stroke="#000" stroke-width="1.1"/>
<line x1="39.7" y1="561.6" x2="42.5" y2="561.6" stroke="#000" stroke-width="1.1"/>
<line x1="39.7" y1="533.6" x2="42.5" y2="533.6" stroke="#000" stroke-width="1.1"/>
<line x1="42.5" y1="631.6" x2="42.5" y2="636.1" stroke="#000" stroke-width="1.1"/>
<text x="42.5" y="645.98" font-size="8.4" text-anchor="middle" fill="#000">0</text>
<line x1="54.5" y1="631.6" x2="54.5" y2="636.1" stroke="#000" stroke-width="1.1"/>
<text x="54.5" y="645.98" font-size="8.4" text-anchor="middle" fill="#000">1</text>
<line x1="66.5" y1="631.6" x2="66.5" y2="636.1" stroke="#000" stroke-width="1.1"/>
<text x="66.5" y="645.98" font-size="8.4" text-anchor="middle" fill="#000">2</text>
<line x1="78.5" y1="631.6" x2="78.5" y2="636.1" stroke="#000" stroke-width="1.1"/>
<text x="78.5" y="645.98" font-size="8.4" text-anchor="middle" fill="#000">3</text>
<line x1="90.5" y1="631.6" x2="90.5" y2="636.1" stroke="#000" stroke-width="1.1"/>
<text x="90.5" y="645.98" font-size="8.4" text-anchor="middle" fill="#000">4</text>
<line x1="102.5" y1="631.6" x2="102.5" y2="636.1" stroke="#000" stroke-width="1.1"/>
<text x="102.5" y="645.98" font-size="8.4" text-anchor="middle" fill="#000">5</text>
<line x1="114.5" y1="631.6" x2="114.5" y2="636.1" stroke="#000" stroke-width="1.1"/>
<text x="114.5" y="645.98" font-size="8.4" text-anchor="middle" fill="#000">6</text>
<line x1="126.5" y1="631.6" x2="126.5" y2="636.1" stroke="#000" stroke-width="1.1"/>
<text x="126.5" y="645.98" font-size="8.4" text-anchor="middle" fill="#000">7</text>
<line x1="138.5" y1="631.6" x2="138.5" y2="636.1" stroke="#000" stroke-width="1.1"/>
<text x="138.5" y="645.98" font-size="8.4" text-anchor="middle" fill="#000">8</text>
<line x1="150.5" y1="631.6" x2="150.5" y2="636.1" stroke="#000" stroke-width="1.1"/>
<text x="150.5" y="645.98" font-size="8.4" text-anchor="middle" fill="#000">9</text>
<line x1="162.5" y1="631.6" x2="162.5" y2="636.1" stroke="#000" stroke-width="1.1"/>
<text x="162.5" y="645.98" font-size="8.4" text-anchor="middle" fill="#000">10</text>
<line x1="174.5" y1="631.6" x2="174.5" y2="636.1" stroke="#000" stroke-width="1.1"/>
<text x="174.5" y="645.98" font-size="8.4" text-anchor="middle" fill="#000">11</text>
<line x1="186.5" y1="631.6" x2="186.5" y2="636.1" stroke="#000" stroke-width="1.1"/>
<text x="186.5" y="645.98" font-size="8.4" text-anchor="middle" fill="#000">12</text>
<line x1="198.5" y1="631.6" x2="198.5" y2="636.1" stroke="#000" stroke-width="1.1"/>
<text x="198.5" y="645.98" font-size="8.4" text-anchor="middle" fill="#000">13</text>
<line x1="210.5" y1="631.6" x2="210.5" y2="636.1" stroke="#000" stroke-width="1.1"/>
<text x="210.5" y="645.98" font-size="8.4" text-anchor="middle" fill="#000">14</text>
<text x="126.8" y="659.58" font-size="9.4" text-anchor="middle" fill="#000">Days post infection</text>
<text x="17.32" y="575.6" font-size="9.5" text-anchor="middle" fill="#000" transform="rotate(-90 17.32 575.6)">Weight change (%)</text>
<line x1="54.5" y1="570.56" x2="54.5" y2="576.16" stroke="#f27070" stroke-width="0.8"/>
<line x1="52.4" y1="570.56" x2="56.6" y2="570.56" stroke="#f27070" stroke-width="0.8"/>
<line x1="52.4" y1="576.16" x2="56.6" y2="576.16" stroke="#f27070" stroke-width="0.8"/>
<line x1="66.5" y1="570.56" x2="66.5" y2="576.16" stroke="#f27070" stroke-width="0.8"/>
<line x1="64.4" y1="570.56" x2="68.6" y2="570.56" stroke="#f27070" stroke-width="0.8"/>
<line x1="64.4" y1="576.16" x2="68.6" y2="576.16" stroke="#f27070" stroke-width="0.8"/>
<line x1="78.5" y1="574.48" x2="78.5" y2="588.48" stroke="#f27070" stroke-width="0.8"/>
<line x1="76.4" y1="574.48" x2="80.6" y2="574.48" stroke="#f27070" stroke-width="0.8"/>
<line x1="76.4" y1="588.48" x2="80.6" y2="588.48" stroke="#f27070" stroke-width="0.8"/>
<line x1="90.5" y1="576.44" x2="90.5" y2="596.04" stroke="#f27070" stroke-width="0.8"/>
<line x1="88.4" y1="576.44" x2="92.6" y2="576.44" stroke="#f27070" stroke-width="0.8"/>
<line x1="88.4" y1="596.04" x2="92.6" y2="596.04" stroke="#f27070" stroke-width="0.8"/>
<line x1="102.5" y1="579.8" x2="102.5" y2="605" stroke="#f27070" stroke-width="0.8"/>
<line x1="100.4" y1="579.8" x2="104.6" y2="579.8" stroke="#f27070" stroke-width="0.8"/>
<line x1="100.4" y1="605" x2="104.6" y2="605" stroke="#f27070" stroke-width="0.8"/>
<line x1="114.5" y1="578.96" x2="114.5" y2="606.96" stroke="#f27070" stroke-width="0.8"/>
<line x1="112.4" y1="578.96" x2="116.6" y2="578.96" stroke="#f27070" stroke-width="0.8"/>
<line x1="112.4" y1="606.96" x2="116.6" y2="606.96" stroke="#f27070" stroke-width="0.8"/>
<line x1="126.5" y1="579.8" x2="126.5" y2="607.8" stroke="#f27070" stroke-width="0.8"/>
<line x1="124.4" y1="579.8" x2="128.6" y2="579.8" stroke="#f27070" stroke-width="0.8"/>
<line x1="124.4" y1="607.8" x2="128.6" y2="607.8" stroke="#f27070" stroke-width="0.8"/>
<line x1="138.5" y1="577.56" x2="138.5" y2="608.36" stroke="#f27070" stroke-width="0.8"/>
<line x1="136.4" y1="577.56" x2="140.6" y2="577.56" stroke="#f27070" stroke-width="0.8"/>
<line x1="136.4" y1="608.36" x2="140.6" y2="608.36" stroke="#f27070" stroke-width="0.8"/>
<line x1="150.5" y1="567.48" x2="150.5" y2="598.28" stroke="#f27070" stroke-width="0.8"/>
<line x1="148.4" y1="567.48" x2="152.6" y2="567.48" stroke="#f27070" stroke-width="0.8"/>
<line x1="148.4" y1="598.28" x2="152.6" y2="598.28" stroke="#f27070" stroke-width="0.8"/>
<line x1="162.5" y1="559.92" x2="162.5" y2="593.52" stroke="#f27070" stroke-width="0.8"/>
<line x1="160.4" y1="559.92" x2="164.6" y2="559.92" stroke="#f27070" stroke-width="0.8"/>
<line x1="160.4" y1="593.52" x2="164.6" y2="593.52" stroke="#f27070" stroke-width="0.8"/>
<line x1="174.5" y1="546.2" x2="174.5" y2="588.2" stroke="#f27070" stroke-width="0.8"/>
<line x1="172.4" y1="546.2" x2="176.6" y2="546.2" stroke="#f27070" stroke-width="0.8"/>
<line x1="172.4" y1="588.2" x2="176.6" y2="588.2" stroke="#f27070" stroke-width="0.8"/>
<line x1="186.5" y1="546.48" x2="186.5" y2="574.48" stroke="#f27070" stroke-width="0.8"/>
<line x1="184.4" y1="546.48" x2="188.6" y2="546.48" stroke="#f27070" stroke-width="0.8"/>
<line x1="184.4" y1="574.48" x2="188.6" y2="574.48" stroke="#f27070" stroke-width="0.8"/>
<line x1="198.5" y1="544.24" x2="198.5" y2="572.24" stroke="#f27070" stroke-width="0.8"/>
<line x1="196.4" y1="544.24" x2="200.6" y2="544.24" stroke="#f27070" stroke-width="0.8"/>
<line x1="196.4" y1="572.24" x2="200.6" y2="572.24" stroke="#f27070" stroke-width="0.8"/>
<line x1="210.5" y1="539.2" x2="210.5" y2="575.6" stroke="#f27070" stroke-width="0.8"/>
<line x1="208.4" y1="539.2" x2="212.6" y2="539.2" stroke="#f27070" stroke-width="0.8"/>
<line x1="208.4" y1="575.6" x2="212.6" y2="575.6" stroke="#f27070" stroke-width="0.8"/>
<line x1="54.5" y1="572.8" x2="54.5" y2="577.28" stroke="#3c3cff" stroke-width="0.8"/>
<line x1="52.4" y1="572.8" x2="56.6" y2="572.8" stroke="#3c3cff" stroke-width="0.8"/>
<line x1="52.4" y1="577.28" x2="56.6" y2="577.28" stroke="#3c3cff" stroke-width="0.8"/>
<line x1="66.5" y1="572.8" x2="66.5" y2="578.4" stroke="#3c3cff" stroke-width="0.8"/>
<line x1="64.4" y1="572.8" x2="68.6" y2="572.8" stroke="#3c3cff" stroke-width="0.8"/>
<line x1="64.4" y1="578.4" x2="68.6" y2="578.4" stroke="#3c3cff" stroke-width="0.8"/>
<line x1="78.5" y1="571.4" x2="78.5" y2="588.2" stroke="#3c3cff" stroke-width="0.8"/>
<line x1="76.4" y1="571.4" x2="80.6" y2="571.4" stroke="#3c3cff" stroke-width="0.8"/>
<line x1="76.4" y1="588.2" x2="80.6" y2="588.2" stroke="#3c3cff" stroke-width="0.8"/>
<line x1="90.5" y1="570" x2="90.5" y2="589.6" stroke="#3c3cff" stroke-width="0.8"/>
<line x1="88.4" y1="570" x2="92.6" y2="570" stroke="#3c3cff" stroke-width="0.8"/>
<line x1="88.4" y1="589.6" x2="92.6" y2="589.6" stroke="#3c3cff" stroke-width="0.8"/>
<line x1="102.5" y1="568.6" x2="102.5" y2="593.8" stroke="#3c3cff" stroke-width="0.8"/>
<line x1="100.4" y1="568.6" x2="104.6" y2="568.6" stroke="#3c3cff" stroke-width="0.8"/>
<line x1="100.4" y1="593.8" x2="104.6" y2="593.8" stroke="#3c3cff" stroke-width="0.8"/>
<line x1="114.5" y1="567.2" x2="114.5" y2="595.2" stroke="#3c3cff" stroke-width="0.8"/>
<line x1="112.4" y1="567.2" x2="116.6" y2="567.2" stroke="#3c3cff" stroke-width="0.8"/>
<line x1="112.4" y1="595.2" x2="116.6" y2="595.2" stroke="#3c3cff" stroke-width="0.8"/>
<line x1="126.5" y1="562.16" x2="126.5" y2="595.76" stroke="#3c3cff" stroke-width="0.8"/>
<line x1="124.4" y1="562.16" x2="128.6" y2="562.16" stroke="#3c3cff" stroke-width="0.8"/>
<line x1="124.4" y1="595.76" x2="128.6" y2="595.76" stroke="#3c3cff" stroke-width="0.8"/>
<line x1="138.5" y1="560.76" x2="138.5" y2="597.16" stroke="#3c3cff" stroke-width="0.8"/>
<line x1="136.4" y1="560.76" x2="140.6" y2="560.76" stroke="#3c3cff" stroke-width="0.8"/>
<line x1="136.4" y1="597.16" x2="140.6" y2="597.16" stroke="#3c3cff" stroke-width="0.8"/>
<line x1="150.5" y1="554.04" x2="150.5" y2="601.64" stroke="#3c3cff" stroke-width="0.8"/>
<line x1="148.4" y1="554.04" x2="152.6" y2="554.04" stroke="#3c3cff" stroke-width="0.8"/>
<line x1="148.4" y1="601.64" x2="152.6" y2="601.64" stroke="#3c3cff" stroke-width="0.8"/>
<line x1="162.5" y1="550.4" x2="162.5" y2="592.4" stroke="#3c3cff" stroke-width="0.8"/>
<line x1="160.4" y1="550.4" x2="164.6" y2="550.4" stroke="#3c3cff" stroke-width="0.8"/>
<line x1="160.4" y1="592.4" x2="164.6" y2="592.4" stroke="#3c3cff" stroke-width="0.8"/>
<line x1="174.5" y1="546.2" x2="174.5" y2="588.2" stroke="#3c3cff" stroke-width="0.8"/>
<line x1="172.4" y1="546.2" x2="176.6" y2="546.2" stroke="#3c3cff" stroke-width="0.8"/>
<line x1="172.4" y1="588.2" x2="176.6" y2="588.2" stroke="#3c3cff" stroke-width="0.8"/>
<line x1="186.5" y1="539.48" x2="186.5" y2="587.08" stroke="#3c3cff" stroke-width="0.8"/>
<line x1="184.4" y1="539.48" x2="188.6" y2="539.48" stroke="#3c3cff" stroke-width="0.8"/>
<line x1="184.4" y1="587.08" x2="188.6" y2="587.08" stroke="#3c3cff" stroke-width="0.8"/>
<line x1="198.5" y1="538.36" x2="198.5" y2="585.96" stroke="#3c3cff" stroke-width="0.8"/>
<line x1="196.4" y1="538.36" x2="200.6" y2="538.36" stroke="#3c3cff" stroke-width="0.8"/>
<line x1="196.4" y1="585.96" x2="200.6" y2="585.96" stroke="#3c3cff" stroke-width="0.8"/>
<line x1="210.5" y1="531.64" x2="210.5" y2="576.44" stroke="#3c3cff" stroke-width="0.8"/>
<line x1="208.4" y1="531.64" x2="212.6" y2="531.64" stroke="#3c3cff" stroke-width="0.8"/>
<line x1="208.4" y1="576.44" x2="212.6" y2="576.44" stroke="#3c3cff" stroke-width="0.8"/>
<line x1="54.5" y1="568.6" x2="54.5" y2="575.88" stroke="#222" stroke-width="0.8"/>
<line x1="52.4" y1="568.6" x2="56.6" y2="568.6" stroke="#222" stroke-width="0.8"/>
<line x1="52.4" y1="575.88" x2="56.6" y2="575.88" stroke="#222" stroke-width="0.8"/>
<line x1="66.5" y1="573.64" x2="66.5" y2="582.04" stroke="#222" stroke-width="0.8"/>
<line x1="64.4" y1="573.64" x2="68.6" y2="573.64" stroke="#222" stroke-width="0.8"/>
<line x1="64.4" y1="582.04" x2="68.6" y2="582.04" stroke="#222" stroke-width="0.8"/>
<line x1="78.5" y1="577.84" x2="78.5" y2="591.84" stroke="#222" stroke-width="0.8"/>
<line x1="76.4" y1="577.84" x2="80.6" y2="577.84" stroke="#222" stroke-width="0.8"/>
<line x1="76.4" y1="591.84" x2="80.6" y2="591.84" stroke="#222" stroke-width="0.8"/>
<line x1="90.5" y1="579.8" x2="90.5" y2="599.4" stroke="#222" stroke-width="0.8"/>
<line x1="88.4" y1="579.8" x2="92.6" y2="579.8" stroke="#222" stroke-width="0.8"/>
<line x1="88.4" y1="599.4" x2="92.6" y2="599.4" stroke="#222" stroke-width="0.8"/>
<line x1="102.5" y1="588.76" x2="102.5" y2="605.56" stroke="#222" stroke-width="0.8"/>
<line x1="100.4" y1="588.76" x2="104.6" y2="588.76" stroke="#222" stroke-width="0.8"/>
<line x1="100.4" y1="605.56" x2="104.6" y2="605.56" stroke="#222" stroke-width="0.8"/>
<line x1="114.5" y1="594.92" x2="114.5" y2="614.52" stroke="#222" stroke-width="0.8"/>
<line x1="112.4" y1="594.92" x2="116.6" y2="594.92" stroke="#222" stroke-width="0.8"/>
<line x1="112.4" y1="614.52" x2="116.6" y2="614.52" stroke="#222" stroke-width="0.8"/>
<line x1="126.5" y1="594.36" x2="126.5" y2="616.76" stroke="#222" stroke-width="0.8"/>
<line x1="124.4" y1="594.36" x2="128.6" y2="594.36" stroke="#222" stroke-width="0.8"/>
<line x1="124.4" y1="616.76" x2="128.6" y2="616.76" stroke="#222" stroke-width="0.8"/>
<line x1="138.5" y1="589.04" x2="138.5" y2="614.24" stroke="#222" stroke-width="0.8"/>
<line x1="136.4" y1="589.04" x2="140.6" y2="589.04" stroke="#222" stroke-width="0.8"/>
<line x1="136.4" y1="614.24" x2="140.6" y2="614.24" stroke="#222" stroke-width="0.8"/>
<line x1="150.5" y1="580.64" x2="150.5" y2="605.84" stroke="#222" stroke-width="0.8"/>
<line x1="148.4" y1="580.64" x2="152.6" y2="580.64" stroke="#222" stroke-width="0.8"/>
<line x1="148.4" y1="605.84" x2="152.6" y2="605.84" stroke="#222" stroke-width="0.8"/>
<line x1="162.5" y1="573.92" x2="162.5" y2="599.12" stroke="#222" stroke-width="0.8"/>
<line x1="160.4" y1="573.92" x2="164.6" y2="573.92" stroke="#222" stroke-width="0.8"/>
<line x1="160.4" y1="599.12" x2="164.6" y2="599.12" stroke="#222" stroke-width="0.8"/>
<line x1="174.5" y1="567.2" x2="174.5" y2="592.4" stroke="#222" stroke-width="0.8"/>
<line x1="172.4" y1="567.2" x2="176.6" y2="567.2" stroke="#222" stroke-width="0.8"/>
<line x1="172.4" y1="592.4" x2="176.6" y2="592.4" stroke="#222" stroke-width="0.8"/>
<line x1="186.5" y1="562.16" x2="186.5" y2="584.56" stroke="#222" stroke-width="0.8"/>
<line x1="184.4" y1="562.16" x2="188.6" y2="562.16" stroke="#222" stroke-width="0.8"/>
<line x1="184.4" y1="584.56" x2="188.6" y2="584.56" stroke="#222" stroke-width="0.8"/>
<line x1="198.5" y1="557.12" x2="198.5" y2="579.52" stroke="#222" stroke-width="0.8"/>
<line x1="196.4" y1="557.12" x2="200.6" y2="557.12" stroke="#222" stroke-width="0.8"/>
<line x1="196.4" y1="579.52" x2="200.6" y2="579.52" stroke="#222" stroke-width="0.8"/>
<line x1="210.5" y1="550.12" x2="210.5" y2="572.52" stroke="#222" stroke-width="0.8"/>
<line x1="208.4" y1="550.12" x2="212.6" y2="550.12" stroke="#222" stroke-width="0.8"/>
<line x1="208.4" y1="572.52" x2="212.6" y2="572.52" stroke="#222" stroke-width="0.8"/>
<polyline points="42.5,575.6 54.5,573.36 66.5,573.36 78.5,581.48 90.5,586.24 102.5,592.4 114.5,592.96 126.5,593.8 138.5,592.96 150.5,582.88 162.5,576.72 174.5,567.2 186.5,560.48 198.5,558.24 210.5,557.4" fill="none" stroke="#f24a4a" stroke-width="1.3" stroke-linejoin="round"/>
<circle cx="42.5" cy="575.6" r="2.5" fill="#f24a4a"/>
<circle cx="54.5" cy="573.36" r="2.5" fill="#f24a4a"/>
<circle cx="66.5" cy="573.36" r="2.5" fill="#f24a4a"/>
<circle cx="78.5" cy="581.48" r="2.5" fill="#f24a4a"/>
<circle cx="90.5" cy="586.24" r="2.5" fill="#f24a4a"/>
<circle cx="102.5" cy="592.4" r="2.5" fill="#f24a4a"/>
<circle cx="114.5" cy="592.96" r="2.5" fill="#f24a4a"/>
<circle cx="126.5" cy="593.8" r="2.5" fill="#f24a4a"/>
<circle cx="138.5" cy="592.96" r="2.5" fill="#f24a4a"/>
<circle cx="150.5" cy="582.88" r="2.5" fill="#f24a4a"/>
<circle cx="162.5" cy="576.72" r="2.5" fill="#f24a4a"/>
<circle cx="174.5" cy="567.2" r="2.5" fill="#f24a4a"/>
<circle cx="186.5" cy="560.48" r="2.5" fill="#f24a4a"/>
<circle cx="198.5" cy="558.24" r="2.5" fill="#f24a4a"/>
<circle cx="210.5" cy="557.4" r="2.5" fill="#f24a4a"/>
<polyline points="42.5,575.6 54.5,575.04 66.5,575.6 78.5,579.8 90.5,579.8 102.5,581.2 114.5,581.2 126.5,578.96 138.5,578.96 150.5,577.84 162.5,571.4 174.5,567.2 186.5,563.28 198.5,562.16 210.5,554.04" fill="none" stroke="#0000ff" stroke-width="1.3" stroke-linejoin="round"/>
<circle cx="42.5" cy="575.6" r="2.5" fill="#0000ff"/>
<circle cx="54.5" cy="575.04" r="2.5" fill="#0000ff"/>
<circle cx="66.5" cy="575.6" r="2.5" fill="#0000ff"/>
<circle cx="78.5" cy="579.8" r="2.5" fill="#0000ff"/>
<circle cx="90.5" cy="579.8" r="2.5" fill="#0000ff"/>
<circle cx="102.5" cy="581.2" r="2.5" fill="#0000ff"/>
<circle cx="114.5" cy="581.2" r="2.5" fill="#0000ff"/>
<circle cx="126.5" cy="578.96" r="2.5" fill="#0000ff"/>
<circle cx="138.5" cy="578.96" r="2.5" fill="#0000ff"/>
<circle cx="150.5" cy="577.84" r="2.5" fill="#0000ff"/>
<circle cx="162.5" cy="571.4" r="2.5" fill="#0000ff"/>
<circle cx="174.5" cy="567.2" r="2.5" fill="#0000ff"/>
<circle cx="186.5" cy="563.28" r="2.5" fill="#0000ff"/>
<circle cx="198.5" cy="562.16" r="2.5" fill="#0000ff"/>
<circle cx="210.5" cy="554.04" r="2.5" fill="#0000ff"/>
<polyline points="42.5,575.6 54.5,572.24 66.5,577.84 78.5,584.84 90.5,589.6 102.5,597.16 114.5,604.72 126.5,605.56 138.5,601.64 150.5,593.24 162.5,586.52 174.5,579.8 186.5,573.36 198.5,568.32 210.5,561.32" fill="none" stroke="#000" stroke-width="1.3" stroke-linejoin="round"/>
<circle cx="42.5" cy="575.6" r="2.5" fill="#000"/>
<circle cx="54.5" cy="572.24" r="2.5" fill="#000"/>
<circle cx="66.5" cy="577.84" r="2.5" fill="#000"/>
<circle cx="78.5" cy="584.84" r="2.5" fill="#000"/>
<circle cx="90.5" cy="589.6" r="2.5" fill="#000"/>
<circle cx="102.5" cy="597.16" r="2.5" fill="#000"/>
<circle cx="114.5" cy="604.72" r="2.5" fill="#000"/>
<circle cx="126.5" cy="605.56" r="2.5" fill="#000"/>
<circle cx="138.5" cy="601.64" r="2.5" fill="#000"/>
<circle cx="150.5" cy="593.24" r="2.5" fill="#000"/>
<circle cx="162.5" cy="586.52" r="2.5" fill="#000"/>
<circle cx="174.5" cy="579.8" r="2.5" fill="#000"/>
<circle cx="186.5" cy="573.36" r="2.5" fill="#000"/>
<circle cx="198.5" cy="568.32" r="2.5" fill="#000"/>
<circle cx="210.5" cy="561.32" r="2.5" fill="#000"/>
<line x1="46" y1="517.8" x2="59.8" y2="517.8" stroke="#000" stroke-width="1.3"/>
<circle cx="52.9" cy="517.8" r="2.5" fill="#000"/>
<text x="67.2" y="520.28" font-size="7" text-anchor="start" fill="#000">Vehicle</text>
<line x1="46" y1="524.7" x2="59.8" y2="524.7" stroke="#f24a4a" stroke-width="1.3"/>
<circle cx="52.9" cy="524.7" r="2.5" fill="#f24a4a"/>
<text x="67.2" y="527.18" font-size="7" text-anchor="start" fill="#000">Ensitrelvir</text>
<line x1="46" y1="531.6" x2="59.8" y2="531.6" stroke="#0000ff" stroke-width="1.3"/>
<circle cx="52.9" cy="531.6" r="2.5" fill="#0000ff"/>
<text x="67.2" y="534.08" font-size="7" text-anchor="start" fill="#000">Nirmatrelvir</text>
<text x="118.1" y="527.55" font-size="7.6" text-anchor="start" fill="#000">ns</text>
<polygon points="122.3,530 121.83,531.08 120.65,530.95 121.35,531.9 120.65,532.85 121.83,532.72 122.3,533.8 122.77,532.72 123.95,532.85 123.25,531.9 123.95,530.95 122.77,531.08" fill="#000" stroke="#000" stroke-width="0.5" stroke-linejoin="round"/>
<text x="215.8" y="626" font-size="9.7" text-anchor="end" fill="#000">M<tspan font-size="6.98" dy="-3.3">pro</tspan><tspan dy="3.3">-Δ23G</tspan></text>
<text x="1" y="683.1" font-size="9.2" text-anchor="start" font-weight="bold" fill="#000">f</text>
<line x1="41.7" y1="686.6" x2="41.7" y2="803.7" stroke="#000" stroke-width="1.2"/>
<line x1="41.1" y1="799.2" x2="210.3" y2="799.2" stroke="#000" stroke-width="1.2"/>
<line x1="37.2" y1="799.2" x2="41.7" y2="799.2" stroke="#000" stroke-width="1.1"/>
<text x="35.7" y="802.18" font-size="8.4" text-anchor="end" fill="#000">80</text>
<line x1="37.2" y1="771.2" x2="41.7" y2="771.2" stroke="#000" stroke-width="1.1"/>
<text x="35.7" y="774.18" font-size="8.4" text-anchor="end" fill="#000">90</text>
<line x1="37.2" y1="743.2" x2="41.7" y2="743.2" stroke="#000" stroke-width="1.1"/>
<text x="35.7" y="746.18" font-size="8.4" text-anchor="end" fill="#000">100</text>
<line x1="37.2" y1="715.2" x2="41.7" y2="715.2" stroke="#000" stroke-width="1.1"/>
<text x="35.7" y="718.18" font-size="8.4" text-anchor="end" fill="#000">110</text>
<line x1="37.2" y1="687.2" x2="41.7" y2="687.2" stroke="#000" stroke-width="1.1"/>
<text x="35.7" y="690.18" font-size="8.4" text-anchor="end" fill="#000">120</text>
<line x1="38.9" y1="785.2" x2="41.7" y2="785.2" stroke="#000" stroke-width="1.1"/>
<line x1="38.9" y1="757.2" x2="41.7" y2="757.2" stroke="#000" stroke-width="1.1"/>
<line x1="38.9" y1="729.2" x2="41.7" y2="729.2" stroke="#000" stroke-width="1.1"/>
<line x1="38.9" y1="701.2" x2="41.7" y2="701.2" stroke="#000" stroke-width="1.1"/>
<line x1="41.7" y1="799.2" x2="41.7" y2="803.7" stroke="#000" stroke-width="1.1"/>
<text x="41.7" y="813.58" font-size="8.4" text-anchor="middle" fill="#000">0</text>
<line x1="53.7" y1="799.2" x2="53.7" y2="803.7" stroke="#000" stroke-width="1.1"/>
<text x="53.7" y="813.58" font-size="8.4" text-anchor="middle" fill="#000">1</text>
<line x1="65.7" y1="799.2" x2="65.7" y2="803.7" stroke="#000" stroke-width="1.1"/>
<text x="65.7" y="813.58" font-size="8.4" text-anchor="middle" fill="#000">2</text>
<line x1="77.7" y1="799.2" x2="77.7" y2="803.7" stroke="#000" stroke-width="1.1"/>
<text x="77.7" y="813.58" font-size="8.4" text-anchor="middle" fill="#000">3</text>
<line x1="89.7" y1="799.2" x2="89.7" y2="803.7" stroke="#000" stroke-width="1.1"/>
<text x="89.7" y="813.58" font-size="8.4" text-anchor="middle" fill="#000">4</text>
<line x1="101.7" y1="799.2" x2="101.7" y2="803.7" stroke="#000" stroke-width="1.1"/>
<text x="101.7" y="813.58" font-size="8.4" text-anchor="middle" fill="#000">5</text>
<line x1="113.7" y1="799.2" x2="113.7" y2="803.7" stroke="#000" stroke-width="1.1"/>
<text x="113.7" y="813.58" font-size="8.4" text-anchor="middle" fill="#000">6</text>
<line x1="125.7" y1="799.2" x2="125.7" y2="803.7" stroke="#000" stroke-width="1.1"/>
<text x="125.7" y="813.58" font-size="8.4" text-anchor="middle" fill="#000">7</text>
<line x1="137.7" y1="799.2" x2="137.7" y2="803.7" stroke="#000" stroke-width="1.1"/>
<text x="137.7" y="813.58" font-size="8.4" text-anchor="middle" fill="#000">8</text>
<line x1="149.7" y1="799.2" x2="149.7" y2="803.7" stroke="#000" stroke-width="1.1"/>
<text x="149.7" y="813.58" font-size="8.4" text-anchor="middle" fill="#000">9</text>
<line x1="161.7" y1="799.2" x2="161.7" y2="803.7" stroke="#000" stroke-width="1.1"/>
<text x="161.7" y="813.58" font-size="8.4" text-anchor="middle" fill="#000">10</text>
<line x1="173.7" y1="799.2" x2="173.7" y2="803.7" stroke="#000" stroke-width="1.1"/>
<text x="173.7" y="813.58" font-size="8.4" text-anchor="middle" fill="#000">11</text>
<line x1="185.7" y1="799.2" x2="185.7" y2="803.7" stroke="#000" stroke-width="1.1"/>
<text x="185.7" y="813.58" font-size="8.4" text-anchor="middle" fill="#000">12</text>
<line x1="197.7" y1="799.2" x2="197.7" y2="803.7" stroke="#000" stroke-width="1.1"/>
<text x="197.7" y="813.58" font-size="8.4" text-anchor="middle" fill="#000">13</text>
<line x1="209.7" y1="799.2" x2="209.7" y2="803.7" stroke="#000" stroke-width="1.1"/>
<text x="209.7" y="813.58" font-size="8.4" text-anchor="middle" fill="#000">14</text>
<text x="126.8" y="827.18" font-size="9.4" text-anchor="middle" fill="#000">Days post infection</text>
<text x="16.02" y="743.2" font-size="9.5" text-anchor="middle" font-weight="bold" fill="#000" transform="rotate(-90 16.02 743.2)">Weight change (%)</text>
<line x1="53.7" y1="742.64" x2="53.7" y2="748.24" stroke="#f27070" stroke-width="0.8"/>
<line x1="51.6" y1="742.64" x2="55.8" y2="742.64" stroke="#f27070" stroke-width="0.8"/>
<line x1="51.6" y1="748.24" x2="55.8" y2="748.24" stroke="#f27070" stroke-width="0.8"/>
<line x1="65.7" y1="750.76" x2="65.7" y2="756.36" stroke="#f27070" stroke-width="0.8"/>
<line x1="63.6" y1="750.76" x2="67.8" y2="750.76" stroke="#f27070" stroke-width="0.8"/>
<line x1="63.6" y1="756.36" x2="67.8" y2="756.36" stroke="#f27070" stroke-width="0.8"/>
<line x1="77.7" y1="751.6" x2="77.7" y2="757.2" stroke="#f27070" stroke-width="0.8"/>
<line x1="75.6" y1="751.6" x2="79.8" y2="751.6" stroke="#f27070" stroke-width="0.8"/>
<line x1="75.6" y1="757.2" x2="79.8" y2="757.2" stroke="#f27070" stroke-width="0.8"/>
<line x1="89.7" y1="751.32" x2="89.7" y2="759.72" stroke="#f27070" stroke-width="0.8"/>
<line x1="87.6" y1="751.32" x2="91.8" y2="751.32" stroke="#f27070" stroke-width="0.8"/>
<line x1="87.6" y1="759.72" x2="91.8" y2="759.72" stroke="#f27070" stroke-width="0.8"/>
<line x1="101.7" y1="746.56" x2="101.7" y2="760.56" stroke="#f27070" stroke-width="0.8"/>
<line x1="99.6" y1="746.56" x2="103.8" y2="746.56" stroke="#f27070" stroke-width="0.8"/>
<line x1="99.6" y1="760.56" x2="103.8" y2="760.56" stroke="#f27070" stroke-width="0.8"/>
<line x1="113.7" y1="741.8" x2="113.7" y2="761.4" stroke="#f27070" stroke-width="0.8"/>
<line x1="111.6" y1="741.8" x2="115.8" y2="741.8" stroke="#f27070" stroke-width="0.8"/>
<line x1="111.6" y1="761.4" x2="115.8" y2="761.4" stroke="#f27070" stroke-width="0.8"/>
<line x1="125.7" y1="733.68" x2="125.7" y2="753.28" stroke="#f27070" stroke-width="0.8"/>
<line x1="123.6" y1="733.68" x2="127.8" y2="733.68" stroke="#f27070" stroke-width="0.8"/>
<line x1="123.6" y1="753.28" x2="127.8" y2="753.28" stroke="#f27070" stroke-width="0.8"/>
<line x1="137.7" y1="722.48" x2="137.7" y2="742.08" stroke="#f27070" stroke-width="0.8"/>
<line x1="135.6" y1="722.48" x2="139.8" y2="722.48" stroke="#f27070" stroke-width="0.8"/>
<line x1="135.6" y1="742.08" x2="139.8" y2="742.08" stroke="#f27070" stroke-width="0.8"/>
<line x1="149.7" y1="719.12" x2="149.7" y2="738.72" stroke="#f27070" stroke-width="0.8"/>
<line x1="147.6" y1="719.12" x2="151.8" y2="719.12" stroke="#f27070" stroke-width="0.8"/>
<line x1="147.6" y1="738.72" x2="151.8" y2="738.72" stroke="#f27070" stroke-width="0.8"/>
<line x1="161.7" y1="728.92" x2="161.7" y2="745.72" stroke="#f27070" stroke-width="0.8"/>
<line x1="159.6" y1="728.92" x2="163.8" y2="728.92" stroke="#f27070" stroke-width="0.8"/>
<line x1="159.6" y1="745.72" x2="163.8" y2="745.72" stroke="#f27070" stroke-width="0.8"/>
<line x1="173.7" y1="726.4" x2="173.7" y2="746" stroke="#f27070" stroke-width="0.8"/>
<line x1="171.6" y1="726.4" x2="175.8" y2="726.4" stroke="#f27070" stroke-width="0.8"/>
<line x1="171.6" y1="746" x2="175.8" y2="746" stroke="#f27070" stroke-width="0.8"/>
<line x1="185.7" y1="727.52" x2="185.7" y2="747.12" stroke="#f27070" stroke-width="0.8"/>
<line x1="183.6" y1="727.52" x2="187.8" y2="727.52" stroke="#f27070" stroke-width="0.8"/>
<line x1="183.6" y1="747.12" x2="187.8" y2="747.12" stroke="#f27070" stroke-width="0.8"/>
<line x1="197.7" y1="719.68" x2="197.7" y2="739.28" stroke="#f27070" stroke-width="0.8"/>
<line x1="195.6" y1="719.68" x2="199.8" y2="719.68" stroke="#f27070" stroke-width="0.8"/>
<line x1="195.6" y1="739.28" x2="199.8" y2="739.28" stroke="#f27070" stroke-width="0.8"/>
<line x1="209.7" y1="714.08" x2="209.7" y2="733.68" stroke="#f27070" stroke-width="0.8"/>
<line x1="207.6" y1="714.08" x2="211.8" y2="714.08" stroke="#f27070" stroke-width="0.8"/>
<line x1="207.6" y1="733.68" x2="211.8" y2="733.68" stroke="#f27070" stroke-width="0.8"/>
<line x1="53.7" y1="734.8" x2="53.7" y2="746" stroke="#3c3cff" stroke-width="0.8"/>
<line x1="51.6" y1="734.8" x2="55.8" y2="734.8" stroke="#3c3cff" stroke-width="0.8"/>
<line x1="51.6" y1="746" x2="55.8" y2="746" stroke="#3c3cff" stroke-width="0.8"/>
<line x1="65.7" y1="733.12" x2="65.7" y2="752.72" stroke="#3c3cff" stroke-width="0.8"/>
<line x1="63.6" y1="733.12" x2="67.8" y2="733.12" stroke="#3c3cff" stroke-width="0.8"/>
<line x1="63.6" y1="752.72" x2="67.8" y2="752.72" stroke="#3c3cff" stroke-width="0.8"/>
<line x1="77.7" y1="730.88" x2="77.7" y2="756.08" stroke="#3c3cff" stroke-width="0.8"/>
<line x1="75.6" y1="730.88" x2="79.8" y2="730.88" stroke="#3c3cff" stroke-width="0.8"/>
<line x1="75.6" y1="756.08" x2="79.8" y2="756.08" stroke="#3c3cff" stroke-width="0.8"/>
<line x1="89.7" y1="730.32" x2="89.7" y2="755.52" stroke="#3c3cff" stroke-width="0.8"/>
<line x1="87.6" y1="730.32" x2="91.8" y2="730.32" stroke="#3c3cff" stroke-width="0.8"/>
<line x1="87.6" y1="755.52" x2="91.8" y2="755.52" stroke="#3c3cff" stroke-width="0.8"/>
<line x1="101.7" y1="726.4" x2="101.7" y2="751.6" stroke="#3c3cff" stroke-width="0.8"/>
<line x1="99.6" y1="726.4" x2="103.8" y2="726.4" stroke="#3c3cff" stroke-width="0.8"/>
<line x1="99.6" y1="751.6" x2="103.8" y2="751.6" stroke="#3c3cff" stroke-width="0.8"/>
<line x1="113.7" y1="719.12" x2="113.7" y2="749.92" stroke="#3c3cff" stroke-width="0.8"/>
<line x1="111.6" y1="719.12" x2="115.8" y2="719.12" stroke="#3c3cff" stroke-width="0.8"/>
<line x1="111.6" y1="749.92" x2="115.8" y2="749.92" stroke="#3c3cff" stroke-width="0.8"/>
<line x1="125.7" y1="710.16" x2="125.7" y2="743.76" stroke="#3c3cff" stroke-width="0.8"/>
<line x1="123.6" y1="710.16" x2="127.8" y2="710.16" stroke="#3c3cff" stroke-width="0.8"/>
<line x1="123.6" y1="743.76" x2="127.8" y2="743.76" stroke="#3c3cff" stroke-width="0.8"/>
<line x1="137.7" y1="702.6" x2="137.7" y2="733.4" stroke="#3c3cff" stroke-width="0.8"/>
<line x1="135.6" y1="702.6" x2="139.8" y2="702.6" stroke="#3c3cff" stroke-width="0.8"/>
<line x1="135.6" y1="733.4" x2="139.8" y2="733.4" stroke="#3c3cff" stroke-width="0.8"/>
<line x1="149.7" y1="700.92" x2="149.7" y2="731.72" stroke="#3c3cff" stroke-width="0.8"/>
<line x1="147.6" y1="700.92" x2="151.8" y2="700.92" stroke="#3c3cff" stroke-width="0.8"/>
<line x1="147.6" y1="731.72" x2="151.8" y2="731.72" stroke="#3c3cff" stroke-width="0.8"/>
<line x1="161.7" y1="690.28" x2="161.7" y2="729.48" stroke="#3c3cff" stroke-width="0.8"/>
<line x1="159.6" y1="690.28" x2="163.8" y2="690.28" stroke="#3c3cff" stroke-width="0.8"/>
<line x1="159.6" y1="729.48" x2="163.8" y2="729.48" stroke="#3c3cff" stroke-width="0.8"/>
<line x1="173.7" y1="690" x2="173.7" y2="729.2" stroke="#3c3cff" stroke-width="0.8"/>
<line x1="171.6" y1="690" x2="175.8" y2="690" stroke="#3c3cff" stroke-width="0.8"/>
<line x1="171.6" y1="729.2" x2="175.8" y2="729.2" stroke="#3c3cff" stroke-width="0.8"/>
<line x1="185.7" y1="688.88" x2="185.7" y2="728.08" stroke="#3c3cff" stroke-width="0.8"/>
<line x1="183.6" y1="688.88" x2="187.8" y2="688.88" stroke="#3c3cff" stroke-width="0.8"/>
<line x1="183.6" y1="728.08" x2="187.8" y2="728.08" stroke="#3c3cff" stroke-width="0.8"/>
<line x1="197.7" y1="688.04" x2="197.7" y2="707.64" stroke="#3c3cff" stroke-width="0.8"/>
<line x1="195.6" y1="688.04" x2="199.8" y2="688.04" stroke="#3c3cff" stroke-width="0.8"/>
<line x1="195.6" y1="707.64" x2="199.8" y2="707.64" stroke="#3c3cff" stroke-width="0.8"/>
<line x1="209.7" y1="686.92" x2="209.7" y2="695.32" stroke="#3c3cff" stroke-width="0.8"/>
<line x1="207.6" y1="686.92" x2="211.8" y2="686.92" stroke="#3c3cff" stroke-width="0.8"/>
<line x1="207.6" y1="695.32" x2="211.8" y2="695.32" stroke="#3c3cff" stroke-width="0.8"/>
<line x1="53.7" y1="744.32" x2="53.7" y2="752.72" stroke="#222" stroke-width="0.8"/>
<line x1="51.6" y1="744.32" x2="55.8" y2="744.32" stroke="#222" stroke-width="0.8"/>
<line x1="51.6" y1="752.72" x2="55.8" y2="752.72" stroke="#222" stroke-width="0.8"/>
<line x1="65.7" y1="746.28" x2="65.7" y2="754.68" stroke="#222" stroke-width="0.8"/>
<line x1="63.6" y1="746.28" x2="67.8" y2="746.28" stroke="#222" stroke-width="0.8"/>
<line x1="63.6" y1="754.68" x2="67.8" y2="754.68" stroke="#222" stroke-width="0.8"/>
<line x1="77.7" y1="748.8" x2="77.7" y2="757.2" stroke="#222" stroke-width="0.8"/>
<line x1="75.6" y1="748.8" x2="79.8" y2="748.8" stroke="#222" stroke-width="0.8"/>
<line x1="75.6" y1="757.2" x2="79.8" y2="757.2" stroke="#222" stroke-width="0.8"/>
<line x1="89.7" y1="748.8" x2="89.7" y2="760" stroke="#222" stroke-width="0.8"/>
<line x1="87.6" y1="748.8" x2="91.8" y2="748.8" stroke="#222" stroke-width="0.8"/>
<line x1="87.6" y1="760" x2="91.8" y2="760" stroke="#222" stroke-width="0.8"/>
<line x1="101.7" y1="753.84" x2="101.7" y2="770.64" stroke="#222" stroke-width="0.8"/>
<line x1="99.6" y1="753.84" x2="103.8" y2="753.84" stroke="#222" stroke-width="0.8"/>
<line x1="99.6" y1="770.64" x2="103.8" y2="770.64" stroke="#222" stroke-width="0.8"/>
<line x1="113.7" y1="751.6" x2="113.7" y2="779.6" stroke="#222" stroke-width="0.8"/>
<line x1="111.6" y1="751.6" x2="115.8" y2="751.6" stroke="#222" stroke-width="0.8"/>
<line x1="111.6" y1="779.6" x2="115.8" y2="779.6" stroke="#222" stroke-width="0.8"/>
<line x1="125.7" y1="742.36" x2="125.7" y2="773.16" stroke="#222" stroke-width="0.8"/>
<line x1="123.6" y1="742.36" x2="127.8" y2="742.36" stroke="#222" stroke-width="0.8"/>
<line x1="123.6" y1="773.16" x2="127.8" y2="773.16" stroke="#222" stroke-width="0.8"/>
<line x1="137.7" y1="730.88" x2="137.7" y2="761.68" stroke="#222" stroke-width="0.8"/>
<line x1="135.6" y1="730.88" x2="139.8" y2="730.88" stroke="#222" stroke-width="0.8"/>
<line x1="135.6" y1="761.68" x2="139.8" y2="761.68" stroke="#222" stroke-width="0.8"/>
<line x1="149.7" y1="719.4" x2="149.7" y2="747.4" stroke="#222" stroke-width="0.8"/>
<line x1="147.6" y1="719.4" x2="151.8" y2="719.4" stroke="#222" stroke-width="0.8"/>
<line x1="147.6" y1="747.4" x2="151.8" y2="747.4" stroke="#222" stroke-width="0.8"/>
<line x1="161.7" y1="712.4" x2="161.7" y2="751.6" stroke="#222" stroke-width="0.8"/>
<line x1="159.6" y1="712.4" x2="163.8" y2="712.4" stroke="#222" stroke-width="0.8"/>
<line x1="159.6" y1="751.6" x2="163.8" y2="751.6" stroke="#222" stroke-width="0.8"/>
<line x1="173.7" y1="709.32" x2="173.7" y2="748.52" stroke="#222" stroke-width="0.8"/>
<line x1="171.6" y1="709.32" x2="175.8" y2="709.32" stroke="#222" stroke-width="0.8"/>
<line x1="171.6" y1="748.52" x2="175.8" y2="748.52" stroke="#222" stroke-width="0.8"/>
<line x1="185.7" y1="707.36" x2="185.7" y2="746.56" stroke="#222" stroke-width="0.8"/>
<line x1="183.6" y1="707.36" x2="187.8" y2="707.36" stroke="#222" stroke-width="0.8"/>
<line x1="183.6" y1="746.56" x2="187.8" y2="746.56" stroke="#222" stroke-width="0.8"/>
<line x1="197.7" y1="702.04" x2="197.7" y2="735.64" stroke="#222" stroke-width="0.8"/>
<line x1="195.6" y1="702.04" x2="199.8" y2="702.04" stroke="#222" stroke-width="0.8"/>
<line x1="195.6" y1="735.64" x2="199.8" y2="735.64" stroke="#222" stroke-width="0.8"/>
<line x1="209.7" y1="699.24" x2="209.7" y2="724.44" stroke="#222" stroke-width="0.8"/>
<line x1="207.6" y1="699.24" x2="211.8" y2="699.24" stroke="#222" stroke-width="0.8"/>
<line x1="207.6" y1="724.44" x2="211.8" y2="724.44" stroke="#222" stroke-width="0.8"/>
<polyline points="41.7,743.2 53.7,745.44 65.7,753.56 77.7,754.4 89.7,755.52 101.7,753.56 113.7,751.6 125.7,743.48 137.7,732.28 149.7,728.92 161.7,737.32 173.7,736.2 185.7,737.32 197.7,729.48 209.7,723.88" fill="none" stroke="#f24a4a" stroke-width="1.3" stroke-linejoin="round"/>
<circle cx="41.7" cy="743.2" r="2.5" fill="#f24a4a"/>
<circle cx="53.7" cy="745.44" r="2.5" fill="#f24a4a"/>
<circle cx="65.7" cy="753.56" r="2.5" fill="#f24a4a"/>
<circle cx="77.7" cy="754.4" r="2.5" fill="#f24a4a"/>
<circle cx="89.7" cy="755.52" r="2.5" fill="#f24a4a"/>
<circle cx="101.7" cy="753.56" r="2.5" fill="#f24a4a"/>
<circle cx="113.7" cy="751.6" r="2.5" fill="#f24a4a"/>
<circle cx="125.7" cy="743.48" r="2.5" fill="#f24a4a"/>
<circle cx="137.7" cy="732.28" r="2.5" fill="#f24a4a"/>
<circle cx="149.7" cy="728.92" r="2.5" fill="#f24a4a"/>
<circle cx="161.7" cy="737.32" r="2.5" fill="#f24a4a"/>
<circle cx="173.7" cy="736.2" r="2.5" fill="#f24a4a"/>
<circle cx="185.7" cy="737.32" r="2.5" fill="#f24a4a"/>
<circle cx="197.7" cy="729.48" r="2.5" fill="#f24a4a"/>
<circle cx="209.7" cy="723.88" r="2.5" fill="#f24a4a"/>
<polyline points="41.7,743.2 53.7,740.4 65.7,742.92 77.7,743.48 89.7,742.92 101.7,739 113.7,734.52 125.7,726.96 137.7,718 149.7,716.32 161.7,709.88 173.7,709.6 185.7,708.48 197.7,697.84 209.7,691.12" fill="none" stroke="#0000ff" stroke-width="1.3" stroke-linejoin="round"/>
<circle cx="41.7" cy="743.2" r="2.5" fill="#0000ff"/>
<circle cx="53.7" cy="740.4" r="2.5" fill="#0000ff"/>
<circle cx="65.7" cy="742.92" r="2.5" fill="#0000ff"/>
<circle cx="77.7" cy="743.48" r="2.5" fill="#0000ff"/>
<circle cx="89.7" cy="742.92" r="2.5" fill="#0000ff"/>
<circle cx="101.7" cy="739" r="2.5" fill="#0000ff"/>
<circle cx="113.7" cy="734.52" r="2.5" fill="#0000ff"/>
<circle cx="125.7" cy="726.96" r="2.5" fill="#0000ff"/>
<circle cx="137.7" cy="718" r="2.5" fill="#0000ff"/>
<circle cx="149.7" cy="716.32" r="2.5" fill="#0000ff"/>
<circle cx="161.7" cy="709.88" r="2.5" fill="#0000ff"/>
<circle cx="173.7" cy="709.6" r="2.5" fill="#0000ff"/>
<circle cx="185.7" cy="708.48" r="2.5" fill="#0000ff"/>
<circle cx="197.7" cy="697.84" r="2.5" fill="#0000ff"/>
<circle cx="209.7" cy="691.12" r="2.5" fill="#0000ff"/>
<polyline points="41.7,743.2 53.7,748.52 65.7,750.48 77.7,753 89.7,754.4 101.7,762.24 113.7,765.6 125.7,757.76 137.7,746.28 149.7,733.4 161.7,732 173.7,728.92 185.7,726.96 197.7,718.84 209.7,711.84" fill="none" stroke="#000" stroke-width="1.3" stroke-linejoin="round"/>
<circle cx="41.7" cy="743.2" r="2.5" fill="#000"/>
<circle cx="53.7" cy="748.52" r="2.5" fill="#000"/>
<circle cx="65.7" cy="750.48" r="2.5" fill="#000"/>
<circle cx="77.7" cy="753" r="2.5" fill="#000"/>
<circle cx="89.7" cy="754.4" r="2.5" fill="#000"/>
<circle cx="101.7" cy="762.24" r="2.5" fill="#000"/>
<circle cx="113.7" cy="765.6" r="2.5" fill="#000"/>
<circle cx="125.7" cy="757.76" r="2.5" fill="#000"/>
<circle cx="137.7" cy="746.28" r="2.5" fill="#000"/>
<circle cx="149.7" cy="733.4" r="2.5" fill="#000"/>
<circle cx="161.7" cy="732" r="2.5" fill="#000"/>
<circle cx="173.7" cy="728.92" r="2.5" fill="#000"/>
<circle cx="185.7" cy="726.96" r="2.5" fill="#000"/>
<circle cx="197.7" cy="718.84" r="2.5" fill="#000"/>
<circle cx="209.7" cy="711.84" r="2.5" fill="#000"/>
<line x1="46" y1="683.1" x2="59.8" y2="683.1" stroke="#000" stroke-width="1.3"/>
<circle cx="52.9" cy="683.1" r="2.5" fill="#000"/>
<text x="67.2" y="685.59" font-size="7" text-anchor="start" fill="#000">Vehicle</text>
<line x1="46" y1="690" x2="59.8" y2="690" stroke="#f24a4a" stroke-width="1.3"/>
<circle cx="52.9" cy="690" r="2.5" fill="#f24a4a"/>
<text x="67.2" y="692.49" font-size="7" text-anchor="start" fill="#000">Ensitrelvir</text>
<line x1="46" y1="696.9" x2="59.8" y2="696.9" stroke="#0000ff" stroke-width="1.3"/>
<circle cx="52.9" cy="696.9" r="2.5" fill="#0000ff"/>
<text x="67.2" y="699.38" font-size="7" text-anchor="start" fill="#000">Nirmatrelvir</text>
<text x="118.1" y="692.85" font-size="7.6" text-anchor="start" fill="#000">ns</text>
<polygon points="119.9,695.5 119.43,696.58 118.25,696.45 118.95,697.4 118.25,698.35 119.43,698.22 119.9,699.3 120.38,698.22 121.55,698.35 120.85,697.4 121.55,696.45 120.38,696.58" fill="#000" stroke="#000" stroke-width="0.5" stroke-linejoin="round"/>
<polygon points="124.7,695.5 124.23,696.58 123.05,696.45 123.75,697.4 123.05,698.35 124.23,698.22 124.7,699.3 125.17,698.22 126.35,698.35 125.65,697.4 126.35,696.45 125.17,696.58" fill="#000" stroke="#000" stroke-width="0.5" stroke-linejoin="round"/>
<text x="215.8" y="793.6" font-size="9.7" text-anchor="end" fill="#000">M<tspan font-size="6.98" dy="-3.3">pro</tspan><tspan dy="3.3">-Δ23G/T45I</tspan></text>
<text x="229.6" y="7.6" font-size="9.2" text-anchor="start" font-weight="bold" fill="#000">b</text>
<text x="336.8" y="8.11" font-size="9.6" text-anchor="middle" fill="#000">Nasal turbinate</text>
<line x1="253.2" y1="11" x2="419" y2="11" stroke="#000" stroke-width="1.6"/>
<text x="517.2" y="8.41" font-size="9.6" text-anchor="middle" fill="#000">Lung</text>
<line x1="433.7" y1="11" x2="601" y2="11" stroke="#000" stroke-width="1.6"/>
<line x1="255.7" y1="17.1" x2="255.7" y2="130.7" stroke="#000" stroke-width="1.3"/>
<line x1="251.2" y1="130.1" x2="330.7" y2="130.1" stroke="#000" stroke-width="1.3"/>
<line x1="251.2" y1="130.1" x2="255.7" y2="130.1" stroke="#000" stroke-width="1.2"/>
<text x="249.7" y="133.08" font-size="8.4" text-anchor="end" fill="#000">0</text>
<line x1="251.2" y1="102" x2="255.7" y2="102" stroke="#000" stroke-width="1.2"/>
<text x="249.7" y="104.98" font-size="8.4" text-anchor="end" fill="#000">2</text>
<line x1="251.2" y1="73.9" x2="255.7" y2="73.9" stroke="#000" stroke-width="1.2"/>
<text x="249.7" y="76.88" font-size="8.4" text-anchor="end" fill="#000">4</text>
<line x1="251.2" y1="45.8" x2="255.7" y2="45.8" stroke="#000" stroke-width="1.2"/>
<text x="249.7" y="48.78" font-size="8.4" text-anchor="end" fill="#000">6</text>
<line x1="251.2" y1="17.7" x2="255.7" y2="17.7" stroke="#000" stroke-width="1.2"/>
<text x="249.7" y="20.68" font-size="8.4" text-anchor="end" fill="#000">8</text>
<line x1="258.7" y1="105.23" x2="330.7" y2="105.23" stroke="#000" stroke-width="1.1" stroke-dasharray="1.1 2.6"/>
<path d="M262.1 130.1 V46.92 H272.3 V130.1" fill="none" stroke="#000" stroke-width="1.5" stroke-linejoin="miter"/>
<line x1="267.2" y1="39.48" x2="267.2" y2="53.53" stroke="#000" stroke-width="0.9"/>
<line x1="264.2" y1="39.48" x2="270.2" y2="39.48" stroke="#000" stroke-width="0.9"/>
<line x1="264.2" y1="53.53" x2="270.2" y2="53.53" stroke="#000" stroke-width="0.9"/>
<circle cx="267.2" cy="34.56" r="1.75" fill="#000"/>
<circle cx="267.2" cy="45.52" r="1.75" fill="#000"/>
<circle cx="263.2" cy="51.98" r="1.75" fill="#000"/>
<circle cx="271.2" cy="51.98" r="1.75" fill="#000"/>
<circle cx="267.2" cy="52.82" r="1.75" fill="#000"/>
<path d="M279.3 130.1 V48.33 H289.5 V130.1" fill="none" stroke="#ff0000" stroke-width="1.5" stroke-linejoin="miter"/>
<line x1="284.4" y1="38.35" x2="284.4" y2="58.16" stroke="#ff0000" stroke-width="0.9"/>
<line x1="281.4" y1="38.35" x2="287.4" y2="38.35" stroke="#ff0000" stroke-width="0.9"/>
<line x1="281.4" y1="58.16" x2="287.4" y2="58.16" stroke="#ff0000" stroke-width="0.9"/>
<circle cx="280.4" cy="38.35" r="1.75" fill="#ff0000"/>
<circle cx="288.4" cy="38.35" r="1.75" fill="#ff0000"/>
<circle cx="284.4" cy="52.26" r="1.75" fill="#ff0000"/>
<circle cx="284.4" cy="62.94" r="1.75" fill="#ff0000"/>
<path d="M296.4 130.1 V63.08 H306.6 V130.1" fill="none" stroke="#0000ff" stroke-width="1.5" stroke-linejoin="miter"/>
<line x1="301.5" y1="52.26" x2="301.5" y2="71.93" stroke="#0000ff" stroke-width="0.9"/>
<line x1="298.5" y1="52.26" x2="304.5" y2="52.26" stroke="#0000ff" stroke-width="0.9"/>
<line x1="298.5" y1="71.93" x2="304.5" y2="71.93" stroke="#0000ff" stroke-width="0.9"/>
<circle cx="301.5" cy="52.26" r="1.75" fill="#0000ff"/>
<circle cx="297.5" cy="59.43" r="1.75" fill="#0000ff"/>
<circle cx="305.5" cy="59.43" r="1.75" fill="#0000ff"/>
<circle cx="301.5" cy="66.31" r="1.75" fill="#0000ff"/>
<circle cx="301.5" cy="76.99" r="1.75" fill="#0000ff"/>
<path d="M313.5 130.1 V49.73 H323.7 V130.1" fill="none" stroke="#a020f0" stroke-width="1.5" stroke-linejoin="miter"/>
<line x1="318.6" y1="44.39" x2="318.6" y2="55.63" stroke="#a020f0" stroke-width="0.9"/>
<line x1="315.6" y1="44.39" x2="321.6" y2="44.39" stroke="#a020f0" stroke-width="0.9"/>
<line x1="315.6" y1="55.63" x2="321.6" y2="55.63" stroke="#a020f0" stroke-width="0.9"/>
<circle cx="314.9" cy="45.24" r="1.75" fill="#a020f0"/>
<circle cx="318.6" cy="45.24" r="1.75" fill="#a020f0"/>
<circle cx="322.3" cy="45.24" r="1.75" fill="#a020f0"/>
<circle cx="318.6" cy="52.26" r="1.75" fill="#a020f0"/>
<circle cx="318.6" cy="59.43" r="1.75" fill="#a020f0"/>
<text x="293.2" y="142.69" font-size="9" text-anchor="middle" fill="#000">3 dpi</text>
<line x1="348.3" y1="17.1" x2="348.3" y2="130.7" stroke="#000" stroke-width="1.3"/>
<line x1="343.8" y1="130.1" x2="423.3" y2="130.1" stroke="#000" stroke-width="1.3"/>
<line x1="343.8" y1="130.1" x2="348.3" y2="130.1" stroke="#000" stroke-width="1.2"/>
<text x="342.3" y="133.08" font-size="8.4" text-anchor="end" fill="#000">0</text>
<line x1="343.8" y1="102" x2="348.3" y2="102" stroke="#000" stroke-width="1.2"/>
<text x="342.3" y="104.98" font-size="8.4" text-anchor="end" fill="#000">2</text>
<line x1="343.8" y1="73.9" x2="348.3" y2="73.9" stroke="#000" stroke-width="1.2"/>
<text x="342.3" y="76.88" font-size="8.4" text-anchor="end" fill="#000">4</text>
<line x1="343.8" y1="45.8" x2="348.3" y2="45.8" stroke="#000" stroke-width="1.2"/>
<text x="342.3" y="48.78" font-size="8.4" text-anchor="end" fill="#000">6</text>
<line x1="343.8" y1="17.7" x2="348.3" y2="17.7" stroke="#000" stroke-width="1.2"/>
<text x="342.3" y="20.68" font-size="8.4" text-anchor="end" fill="#000">8</text>
<line x1="351.3" y1="105.23" x2="423.3" y2="105.23" stroke="#000" stroke-width="1.1" stroke-dasharray="1.1 2.6"/>
<path d="M354.7 130.1 V89.07 H364.9 V130.1" fill="none" stroke="#000" stroke-width="1.5" stroke-linejoin="miter"/>
<line x1="359.8" y1="79.52" x2="359.8" y2="99.19" stroke="#000" stroke-width="0.9"/>
<line x1="356.8" y1="79.52" x2="362.8" y2="79.52" stroke="#000" stroke-width="0.9"/>
<line x1="356.8" y1="99.19" x2="362.8" y2="99.19" stroke="#000" stroke-width="0.9"/>
<circle cx="359.8" cy="76.71" r="1.75" fill="#000"/>
<circle cx="359.8" cy="79.52" r="1.75" fill="#000"/>
<circle cx="359.8" cy="80.92" r="1.75" fill="#000"/>
<circle cx="359.8" cy="104.81" r="1.75" fill="#000"/>
<path d="M371.9 130.1 V87.25 H382.1 V130.1" fill="none" stroke="#ff0000" stroke-width="1.5" stroke-linejoin="miter"/>
<line x1="377" y1="76.71" x2="377" y2="97.78" stroke="#ff0000" stroke-width="0.9"/>
<line x1="374" y1="76.71" x2="380" y2="76.71" stroke="#ff0000" stroke-width="0.9"/>
<line x1="374" y1="97.78" x2="380" y2="97.78" stroke="#ff0000" stroke-width="0.9"/>
<circle cx="377" cy="76.01" r="1.75" fill="#ff0000"/>
<circle cx="377" cy="78.11" r="1.75" fill="#ff0000"/>
<circle cx="373.5" cy="87.25" r="1.75" fill="#ff0000"/>
<circle cx="380.5" cy="87.25" r="1.75" fill="#ff0000"/>
<circle cx="377" cy="104.81" r="1.75" fill="#ff0000"/>
<path d="M389 130.1 V87.39 H399.2 V130.1" fill="none" stroke="#0000ff" stroke-width="1.5" stroke-linejoin="miter"/>
<line x1="394.1" y1="76.71" x2="394.1" y2="97.78" stroke="#0000ff" stroke-width="0.9"/>
<line x1="391.1" y1="76.71" x2="397.1" y2="76.71" stroke="#0000ff" stroke-width="0.9"/>
<line x1="391.1" y1="97.78" x2="397.1" y2="97.78" stroke="#0000ff" stroke-width="0.9"/>
<circle cx="394.1" cy="73.2" r="1.75" fill="#0000ff"/>
<circle cx="394.1" cy="78.11" r="1.75" fill="#0000ff"/>
<circle cx="390.6" cy="87.25" r="1.75" fill="#0000ff"/>
<circle cx="394.1" cy="94.27" r="1.75" fill="#0000ff"/>
<circle cx="394.1" cy="97.78" r="1.75" fill="#0000ff"/>
<path d="M406.1 130.1 V95.68 H416.3 V130.1" fill="none" stroke="#a020f0" stroke-width="1.5" stroke-linejoin="miter"/>
<line x1="411.2" y1="85.14" x2="411.2" y2="104.81" stroke="#a020f0" stroke-width="0.9"/>
<line x1="408.2" y1="85.14" x2="414.2" y2="85.14" stroke="#a020f0" stroke-width="0.9"/>
<line x1="408.2" y1="104.81" x2="414.2" y2="104.81" stroke="#a020f0" stroke-width="0.9"/>
<circle cx="411.2" cy="80.22" r="1.75" fill="#a020f0"/>
<circle cx="411.2" cy="90.76" r="1.75" fill="#a020f0"/>
<circle cx="411.2" cy="94.27" r="1.75" fill="#a020f0"/>
<circle cx="407.7" cy="104.81" r="1.75" fill="#a020f0"/>
<circle cx="414.7" cy="104.81" r="1.75" fill="#a020f0"/>
<text x="385.8" y="142.69" font-size="9" text-anchor="middle" fill="#000">6 dpi</text>
<line x1="439.3" y1="17.1" x2="439.3" y2="130.7" stroke="#000" stroke-width="1.3"/>
<line x1="434.8" y1="130.1" x2="514.3" y2="130.1" stroke="#000" stroke-width="1.3"/>
<line x1="434.8" y1="130.1" x2="439.3" y2="130.1" stroke="#000" stroke-width="1.2"/>
<text x="433.3" y="133.08" font-size="8.4" text-anchor="end" fill="#000">0</text>
<line x1="434.8" y1="102" x2="439.3" y2="102" stroke="#000" stroke-width="1.2"/>
<text x="433.3" y="104.98" font-size="8.4" text-anchor="end" fill="#000">2</text>
<line x1="434.8" y1="73.9" x2="439.3" y2="73.9" stroke="#000" stroke-width="1.2"/>
<text x="433.3" y="76.88" font-size="8.4" text-anchor="end" fill="#000">4</text>
<line x1="434.8" y1="45.8" x2="439.3" y2="45.8" stroke="#000" stroke-width="1.2"/>
<text x="433.3" y="48.78" font-size="8.4" text-anchor="end" fill="#000">6</text>
<line x1="434.8" y1="17.7" x2="439.3" y2="17.7" stroke="#000" stroke-width="1.2"/>
<text x="433.3" y="20.68" font-size="8.4" text-anchor="end" fill="#000">8</text>
<line x1="442.3" y1="105.23" x2="514.3" y2="105.23" stroke="#000" stroke-width="1.1" stroke-dasharray="1.1 2.6"/>
<path d="M445.7 130.1 V44.96 H455.9 V130.1" fill="none" stroke="#000" stroke-width="1.5" stroke-linejoin="miter"/>
<line x1="450.8" y1="38.77" x2="450.8" y2="51.42" stroke="#000" stroke-width="0.9"/>
<line x1="447.8" y1="38.77" x2="453.8" y2="38.77" stroke="#000" stroke-width="0.9"/>
<line x1="447.8" y1="51.42" x2="453.8" y2="51.42" stroke="#000" stroke-width="0.9"/>
<circle cx="450.8" cy="34.56" r="1.75" fill="#000"/>
<circle cx="450.8" cy="37.37" r="1.75" fill="#000"/>
<circle cx="447.1" cy="47.91" r="1.75" fill="#000"/>
<circle cx="454.5" cy="47.91" r="1.75" fill="#000"/>
<circle cx="450.8" cy="52.12" r="1.75" fill="#000"/>
<path d="M462.9 130.1 V49.17 H473.1 V130.1" fill="none" stroke="#ff0000" stroke-width="1.5" stroke-linejoin="miter"/>
<line x1="468" y1="41.58" x2="468" y2="57.04" stroke="#ff0000" stroke-width="0.9"/>
<line x1="465" y1="41.58" x2="471" y2="41.58" stroke="#ff0000" stroke-width="0.9"/>
<line x1="465" y1="57.04" x2="471" y2="57.04" stroke="#ff0000" stroke-width="0.9"/>
<circle cx="468" cy="37.37" r="1.75" fill="#ff0000"/>
<circle cx="468" cy="42.99" r="1.75" fill="#ff0000"/>
<circle cx="468" cy="47.91" r="1.75" fill="#ff0000"/>
<circle cx="468" cy="52.82" r="1.75" fill="#ff0000"/>
<circle cx="468" cy="57.04" r="1.75" fill="#ff0000"/>
<path d="M480 130.1 V62.38 H490.2 V130.1" fill="none" stroke="#0000ff" stroke-width="1.5" stroke-linejoin="miter"/>
<line x1="485.1" y1="60.55" x2="485.1" y2="66.88" stroke="#0000ff" stroke-width="0.9"/>
<line x1="482.1" y1="60.55" x2="488.1" y2="60.55" stroke="#0000ff" stroke-width="0.9"/>
<line x1="482.1" y1="66.88" x2="488.1" y2="66.88" stroke="#0000ff" stroke-width="0.9"/>
<circle cx="481.6" cy="61.96" r="1.75" fill="#0000ff"/>
<circle cx="485.1" cy="61.96" r="1.75" fill="#0000ff"/>
<circle cx="488.6" cy="61.96" r="1.75" fill="#0000ff"/>
<circle cx="485.1" cy="64.77" r="1.75" fill="#0000ff"/>
<circle cx="485.1" cy="72.5" r="1.75" fill="#0000ff"/>
<path d="M497.1 130.1 V58.73 H507.3 V130.1" fill="none" stroke="#a020f0" stroke-width="1.5" stroke-linejoin="miter"/>
<line x1="502.2" y1="54.93" x2="502.2" y2="62.66" stroke="#a020f0" stroke-width="0.9"/>
<line x1="499.2" y1="54.93" x2="505.2" y2="54.93" stroke="#a020f0" stroke-width="0.9"/>
<line x1="499.2" y1="62.66" x2="505.2" y2="62.66" stroke="#a020f0" stroke-width="0.9"/>
<circle cx="502.2" cy="52.12" r="1.75" fill="#a020f0"/>
<circle cx="498.7" cy="59.85" r="1.75" fill="#a020f0"/>
<circle cx="505.7" cy="59.85" r="1.75" fill="#a020f0"/>
<circle cx="502.2" cy="60.55" r="1.75" fill="#a020f0"/>
<text x="476.8" y="142.69" font-size="9" text-anchor="middle" fill="#000">3 dpi</text>
<line x1="531" y1="17.1" x2="531" y2="130.7" stroke="#000" stroke-width="1.3"/>
<line x1="526.5" y1="130.1" x2="606" y2="130.1" stroke="#000" stroke-width="1.3"/>
<line x1="526.5" y1="130.1" x2="531" y2="130.1" stroke="#000" stroke-width="1.2"/>
<text x="525" y="133.08" font-size="8.4" text-anchor="end" fill="#000">0</text>
<line x1="526.5" y1="102" x2="531" y2="102" stroke="#000" stroke-width="1.2"/>
<text x="525" y="104.98" font-size="8.4" text-anchor="end" fill="#000">2</text>
<line x1="526.5" y1="73.9" x2="531" y2="73.9" stroke="#000" stroke-width="1.2"/>
<text x="525" y="76.88" font-size="8.4" text-anchor="end" fill="#000">4</text>
<line x1="526.5" y1="45.8" x2="531" y2="45.8" stroke="#000" stroke-width="1.2"/>
<text x="525" y="48.78" font-size="8.4" text-anchor="end" fill="#000">6</text>
<line x1="526.5" y1="17.7" x2="531" y2="17.7" stroke="#000" stroke-width="1.2"/>
<text x="525" y="20.68" font-size="8.4" text-anchor="end" fill="#000">8</text>
<line x1="534" y1="105.23" x2="606" y2="105.23" stroke="#000" stroke-width="1.1" stroke-dasharray="1.1 2.6"/>
<path d="M537.4 130.1 V93.57 H547.6 V130.1" fill="none" stroke="#000" stroke-width="1.5" stroke-linejoin="miter"/>
<line x1="542.5" y1="85.14" x2="542.5" y2="102" stroke="#000" stroke-width="0.9"/>
<line x1="539.5" y1="85.14" x2="545.5" y2="85.14" stroke="#000" stroke-width="0.9"/>
<line x1="539.5" y1="102" x2="545.5" y2="102" stroke="#000" stroke-width="0.9"/>
<circle cx="542.5" cy="79.52" r="1.75" fill="#000"/>
<circle cx="542.5" cy="90.06" r="1.75" fill="#000"/>
<circle cx="542.5" cy="96.38" r="1.75" fill="#000"/>
<circle cx="542.5" cy="104.81" r="1.75" fill="#000"/>
<path d="M554.6 130.1 V82.33 H564.8 V130.1" fill="none" stroke="#ff0000" stroke-width="1.5" stroke-linejoin="miter"/>
<line x1="559.7" y1="76.01" x2="559.7" y2="88.65" stroke="#ff0000" stroke-width="0.9"/>
<line x1="556.7" y1="76.01" x2="562.7" y2="76.01" stroke="#ff0000" stroke-width="0.9"/>
<line x1="556.7" y1="88.65" x2="562.7" y2="88.65" stroke="#ff0000" stroke-width="0.9"/>
<circle cx="556.2" cy="76.01" r="1.75" fill="#ff0000"/>
<circle cx="559.7" cy="76.01" r="1.75" fill="#ff0000"/>
<circle cx="563.2" cy="76.01" r="1.75" fill="#ff0000"/>
<circle cx="559.7" cy="82.33" r="1.75" fill="#ff0000"/>
<circle cx="559.7" cy="87.25" r="1.75" fill="#ff0000"/>
<path d="M571.7 130.1 V100.59 H581.9 V130.1" fill="none" stroke="#0000ff" stroke-width="1.5" stroke-linejoin="miter"/>
<line x1="576.8" y1="93.57" x2="576.8" y2="106.21" stroke="#0000ff" stroke-width="0.9"/>
<line x1="573.8" y1="93.57" x2="579.8" y2="93.57" stroke="#0000ff" stroke-width="0.9"/>
<line x1="573.8" y1="106.21" x2="579.8" y2="106.21" stroke="#0000ff" stroke-width="0.9"/>
<circle cx="576.8" cy="90.06" r="1.75" fill="#0000ff"/>
<circle cx="576.8" cy="94.27" r="1.75" fill="#0000ff"/>
<circle cx="573.3" cy="104.81" r="1.75" fill="#0000ff"/>
<circle cx="576.8" cy="104.81" r="1.75" fill="#0000ff"/>
<circle cx="580.3" cy="104.81" r="1.75" fill="#0000ff"/>
<path d="M588.8 130.1 V102.7 H599 V130.1" fill="none" stroke="#a020f0" stroke-width="1.5" stroke-linejoin="miter"/>
<line x1="593.9" y1="95.68" x2="593.9" y2="109.02" stroke="#a020f0" stroke-width="0.9"/>
<line x1="590.9" y1="95.68" x2="596.9" y2="95.68" stroke="#a020f0" stroke-width="0.9"/>
<line x1="590.9" y1="109.02" x2="596.9" y2="109.02" stroke="#a020f0" stroke-width="0.9"/>
<circle cx="593.9" cy="90.06" r="1.75" fill="#a020f0"/>
<circle cx="593.9" cy="104.81" r="1.75" fill="#a020f0"/>
<circle cx="590.4" cy="104.81" r="1.75" fill="#a020f0"/>
<circle cx="597.4" cy="104.81" r="1.75" fill="#a020f0"/>
<text x="568.5" y="142.69" font-size="9" text-anchor="middle" fill="#000">6 dpi</text>
<text x="239.23" y="74" font-size="7.85" text-anchor="middle" fill="#000" transform="rotate(-90 239.23 74)">Virus titre (Log<tspan font-size="5.65" dy="1.57">10</tspan><tspan dy="-1.57">TCID</tspan><tspan font-size="5.65" dy="1.57">50</tspan><tspan dy="-1.57">/mL)</tspan></text>
<line x1="267.8" y1="21.3" x2="301.9" y2="21.3" stroke="#000" stroke-width="1"/>
<text x="284.7" y="19.89" font-size="7.3" text-anchor="middle" fill="#000">P = 0.0294</text>
<line x1="301.9" y1="30.7" x2="319.5" y2="30.7" stroke="#000" stroke-width="1"/>
<text x="310" y="29.09" font-size="7.3" text-anchor="middle" fill="#000">P = 0.0335</text>
<line x1="450.7" y1="21.3" x2="502.3" y2="21.3" stroke="#000" stroke-width="1"/>
<text x="476.4" y="19.89" font-size="7.3" text-anchor="middle" fill="#000">P = 0.0014</text>
<line x1="450.7" y1="30.2" x2="484.6" y2="30.2" stroke="#000" stroke-width="1"/>
<text x="467.7" y="28.59" font-size="7.3" text-anchor="middle" fill="#000">P = 0.0002</text>
<line x1="613.8" y1="105" x2="627.2" y2="105" stroke="#000" stroke-width="1.3"/>
<circle cx="620.6" cy="105" r="2.5" fill="#000"/>
<text x="634.8" y="107.48" font-size="7" text-anchor="start" fill="#000">M<tspan font-size="5.04" dy="-2.38">pro</tspan><tspan dy="2.38">-WT</tspan></text>
<line x1="613.8" y1="111.9" x2="627.2" y2="111.9" stroke="#ff4040" stroke-width="1.3"/>
<circle cx="620.6" cy="111.9" r="2.5" fill="#ff4040"/>
<text x="634.8" y="114.39" font-size="7" text-anchor="start" fill="#000">M<tspan font-size="5.04" dy="-2.38">pro</tspan><tspan dy="2.38">-T45I</tspan></text>
<line x1="613.8" y1="118.8" x2="627.2" y2="118.8" stroke="#0000ff" stroke-width="1.3"/>
<circle cx="620.6" cy="118.8" r="2.5" fill="#0000ff"/>
<text x="634.8" y="121.28" font-size="7" text-anchor="start" fill="#000">M<tspan font-size="5.04" dy="-2.38">pro</tspan><tspan dy="2.38">-Δ23G</tspan></text>
<line x1="613.8" y1="125.7" x2="627.2" y2="125.7" stroke="#a020f0" stroke-width="1.3"/>
<circle cx="620.6" cy="125.7" r="2.5" fill="#a020f0"/>
<text x="634.8" y="128.19" font-size="7" text-anchor="start" fill="#000">M<tspan font-size="5.04" dy="-2.38">pro</tspan><tspan dy="2.38">-Δ23G/T45I</tspan></text>
<text x="228.3" y="174.4" font-size="9.2" text-anchor="start" font-weight="bold" fill="#000">g</text>
<line x1="259.5" y1="179.54" x2="259.5" y2="292.9" stroke="#000" stroke-width="1.3"/>
<line x1="255" y1="292.3" x2="340.5" y2="292.3" stroke="#000" stroke-width="1.3"/>
<line x1="255" y1="292.3" x2="259.5" y2="292.3" stroke="#000" stroke-width="1.2"/>
<text x="253.5" y="295.28" font-size="8.4" text-anchor="end" fill="#000">0</text>
<line x1="255" y1="264.26" x2="259.5" y2="264.26" stroke="#000" stroke-width="1.2"/>
<text x="253.5" y="267.24" font-size="8.4" text-anchor="end" fill="#000">2</text>
<line x1="255" y1="236.22" x2="259.5" y2="236.22" stroke="#000" stroke-width="1.2"/>
<text x="253.5" y="239.2" font-size="8.4" text-anchor="end" fill="#000">4</text>
<line x1="255" y1="208.18" x2="259.5" y2="208.18" stroke="#000" stroke-width="1.2"/>
<text x="253.5" y="211.16" font-size="8.4" text-anchor="end" fill="#000">6</text>
<line x1="255" y1="180.14" x2="259.5" y2="180.14" stroke="#000" stroke-width="1.2"/>
<text x="253.5" y="183.12" font-size="8.4" text-anchor="end" fill="#000">8</text>
<line x1="262.5" y1="267.34" x2="340.5" y2="267.34" stroke="#000" stroke-width="1.1" stroke-dasharray="1.1 2.6"/>
<path d="M268.05 292.3 V219.12 H282.15 V292.3" fill="none" stroke="#000" stroke-width="1.55" stroke-linejoin="miter"/>
<line x1="275.1" y1="211.26" x2="275.1" y2="226.97" stroke="#111" stroke-width="0.9"/>
<line x1="272.1" y1="211.26" x2="278.1" y2="211.26" stroke="#111" stroke-width="0.9"/>
<line x1="272.1" y1="226.97" x2="278.1" y2="226.97" stroke="#111" stroke-width="0.9"/>
<circle cx="275.1" cy="207.34" r="1.85" fill="#000"/>
<circle cx="275.1" cy="214.77" r="1.85" fill="#000"/>
<circle cx="275.1" cy="221.22" r="1.85" fill="#000"/>
<circle cx="271.5" cy="225" r="1.85" fill="#000"/>
<circle cx="278.7" cy="225" r="1.85" fill="#000"/>
<path d="M292.05 292.3 V263.28 H306.15 V292.3" fill="none" stroke="#f04848" stroke-width="1.55" stroke-linejoin="miter"/>
<line x1="299.1" y1="256.55" x2="299.1" y2="269.87" stroke="#f47c7c" stroke-width="0.9"/>
<line x1="296.1" y1="256.55" x2="302.1" y2="256.55" stroke="#f47c7c" stroke-width="0.9"/>
<line x1="296.1" y1="269.87" x2="302.1" y2="269.87" stroke="#f47c7c" stroke-width="0.9"/>
<circle cx="295.7" cy="256.69" r="1.85" fill="#f04848"/>
<circle cx="302.5" cy="256.69" r="1.85" fill="#f04848"/>
<circle cx="299.1" cy="267.34" r="1.85" fill="#f04848"/>
<circle cx="295.7" cy="267.34" r="1.85" fill="#f04848"/>
<circle cx="302.5" cy="267.34" r="1.85" fill="#f04848"/>
<path d="M316.15 292.3 V230.47 H330.25 V292.3" fill="none" stroke="#0000ff" stroke-width="1.55" stroke-linejoin="miter"/>
<line x1="323.2" y1="218.55" x2="323.2" y2="241.41" stroke="#2a2aff" stroke-width="0.9"/>
<line x1="320.2" y1="218.55" x2="326.2" y2="218.55" stroke="#2a2aff" stroke-width="0.9"/>
<line x1="320.2" y1="241.41" x2="326.2" y2="241.41" stroke="#2a2aff" stroke-width="0.9"/>
<circle cx="323.2" cy="221.5" r="1.85" fill="#0000ff"/>
<circle cx="319.6" cy="225" r="1.85" fill="#0000ff"/>
<circle cx="326.8" cy="225" r="1.85" fill="#0000ff"/>
<circle cx="323.2" cy="228.79" r="1.85" fill="#0000ff"/>
<circle cx="323.2" cy="249.68" r="1.85" fill="#0000ff"/>
<text x="278.16" y="298.8" font-size="8.5" text-anchor="end" fill="#000" transform="rotate(-90 278.16 298.8)">Vehicle</text>
<text x="302.16" y="298.8" font-size="8.5" text-anchor="end" fill="#000" transform="rotate(-90 302.16 298.8)">ETV</text>
<text x="326.26" y="298.8" font-size="8.5" text-anchor="end" fill="#000" transform="rotate(-90 326.26 298.8)">NTV</text>
<line x1="358.9" y1="179.54" x2="358.9" y2="292.9" stroke="#000" stroke-width="1.3"/>
<line x1="354.4" y1="292.3" x2="439.9" y2="292.3" stroke="#000" stroke-width="1.3"/>
<line x1="354.4" y1="292.3" x2="358.9" y2="292.3" stroke="#000" stroke-width="1.2"/>
<text x="352.9" y="295.28" font-size="8.4" text-anchor="end" fill="#000">0</text>
<line x1="354.4" y1="264.26" x2="358.9" y2="264.26" stroke="#000" stroke-width="1.2"/>
<text x="352.9" y="267.24" font-size="8.4" text-anchor="end" fill="#000">2</text>
<line x1="354.4" y1="236.22" x2="358.9" y2="236.22" stroke="#000" stroke-width="1.2"/>
<text x="352.9" y="239.2" font-size="8.4" text-anchor="end" fill="#000">4</text>
<line x1="354.4" y1="208.18" x2="358.9" y2="208.18" stroke="#000" stroke-width="1.2"/>
<text x="352.9" y="211.16" font-size="8.4" text-anchor="end" fill="#000">6</text>
<line x1="354.4" y1="180.14" x2="358.9" y2="180.14" stroke="#000" stroke-width="1.2"/>
<text x="352.9" y="183.12" font-size="8.4" text-anchor="end" fill="#000">8</text>
<line x1="361.9" y1="267.34" x2="439.9" y2="267.34" stroke="#000" stroke-width="1.1" stroke-dasharray="1.1 2.6"/>
<path d="M368.15 292.3 V207.48 H382.25 V292.3" fill="none" stroke="#000" stroke-width="1.55" stroke-linejoin="miter"/>
<line x1="375.2" y1="203.27" x2="375.2" y2="211.69" stroke="#111" stroke-width="0.9"/>
<line x1="372.2" y1="203.27" x2="378.2" y2="203.27" stroke="#111" stroke-width="0.9"/>
<line x1="372.2" y1="211.69" x2="378.2" y2="211.69" stroke="#111" stroke-width="0.9"/>
<circle cx="375.2" cy="201.17" r="1.85" fill="#000"/>
<circle cx="375.2" cy="203.97" r="1.85" fill="#000"/>
<circle cx="371.6" cy="210.28" r="1.85" fill="#000"/>
<circle cx="378.8" cy="210.28" r="1.85" fill="#000"/>
<circle cx="375.2" cy="209.58" r="1.85" fill="#000"/>
<path d="M392.15 292.3 V257.25 H406.25 V292.3" fill="none" stroke="#f04848" stroke-width="1.55" stroke-linejoin="miter"/>
<line x1="399.2" y1="250.24" x2="399.2" y2="263.56" stroke="#f47c7c" stroke-width="0.9"/>
<line x1="396.2" y1="250.24" x2="402.2" y2="250.24" stroke="#f47c7c" stroke-width="0.9"/>
<line x1="396.2" y1="263.56" x2="402.2" y2="263.56" stroke="#f47c7c" stroke-width="0.9"/>
<circle cx="395.6" cy="253.04" r="1.85" fill="#f04848"/>
<circle cx="402.8" cy="253.04" r="1.85" fill="#f04848"/>
<circle cx="399.2" cy="253.75" r="1.85" fill="#f04848"/>
<circle cx="399.2" cy="267.06" r="1.85" fill="#f04848"/>
<path d="M416.35 292.3 V225 H430.45 V292.3" fill="none" stroke="#0000ff" stroke-width="1.55" stroke-linejoin="miter"/>
<line x1="423.4" y1="215.19" x2="423.4" y2="233.42" stroke="#2a2aff" stroke-width="0.9"/>
<line x1="420.4" y1="215.19" x2="426.4" y2="215.19" stroke="#2a2aff" stroke-width="0.9"/>
<line x1="420.4" y1="233.42" x2="426.4" y2="233.42" stroke="#2a2aff" stroke-width="0.9"/>
<circle cx="423.4" cy="215.19" r="1.85" fill="#0000ff"/>
<circle cx="419.8" cy="222.2" r="1.85" fill="#0000ff"/>
<circle cx="427" cy="222.2" r="1.85" fill="#0000ff"/>
<circle cx="423.4" cy="239.02" r="1.85" fill="#0000ff"/>
<text x="378.26" y="298.8" font-size="8.5" text-anchor="end" fill="#000" transform="rotate(-90 378.26 298.8)">Vehicle</text>
<text x="402.26" y="298.8" font-size="8.5" text-anchor="end" fill="#000" transform="rotate(-90 402.26 298.8)">ETV</text>
<text x="426.46" y="298.8" font-size="8.5" text-anchor="end" fill="#000" transform="rotate(-90 426.46 298.8)">NTV</text>
<text x="240.93" y="236.3" font-size="7.85" text-anchor="middle" fill="#000" transform="rotate(-90 240.93 236.3)">Virus titre (Log<tspan font-size="5.65" dy="1.57">10</tspan><tspan dy="-1.57">TCID</tspan><tspan font-size="5.65" dy="1.57">50</tspan><tspan dy="-1.57">/mL)</tspan></text>
<text x="298" y="171.57" font-size="9.5" text-anchor="middle" fill="#000">Nasal turbinate</text>
<line x1="255.7" y1="173.8" x2="340.3" y2="173.8" stroke="#000" stroke-width="1.5"/>
<text x="396.8" y="171.57" font-size="9.5" text-anchor="middle" fill="#000">Lung</text>
<line x1="353.8" y1="173.8" x2="439.4" y2="173.8" stroke="#000" stroke-width="1.5"/>
<line x1="275.2" y1="183.4" x2="322.8" y2="183.4" stroke="#000" stroke-width="1"/>
<text x="299" y="181.89" font-size="7.3" text-anchor="middle" fill="#000">P = 0.0311</text>
<line x1="275.2" y1="192.7" x2="299.2" y2="192.7" stroke="#000" stroke-width="1"/>
<text x="268.8" y="190.89" font-size="7.3" text-anchor="start" fill="#000">P &lt; 0.0001</text>
<line x1="375.6" y1="183" x2="423.1" y2="183" stroke="#000" stroke-width="1"/>
<text x="399" y="181.89" font-size="7.3" text-anchor="middle" fill="#000">P = 0.0017</text>
<line x1="375.6" y1="192.6" x2="399" y2="192.6" stroke="#000" stroke-width="1"/>
<text x="368.9" y="191.09" font-size="7.3" text-anchor="start" fill="#000">P &lt; 0.0001</text>
<text x="230.6" y="348.6" font-size="9.2" text-anchor="start" font-weight="bold" fill="#000">h</text>
<line x1="259.5" y1="350.64" x2="259.5" y2="464" stroke="#000" stroke-width="1.3"/>
<line x1="255" y1="463.4" x2="340.5" y2="463.4" stroke="#000" stroke-width="1.3"/>
<line x1="255" y1="463.4" x2="259.5" y2="463.4" stroke="#000" stroke-width="1.2"/>
<text x="253.5" y="466.38" font-size="8.4" text-anchor="end" fill="#000">0</text>
<line x1="255" y1="435.36" x2="259.5" y2="435.36" stroke="#000" stroke-width="1.2"/>
<text x="253.5" y="438.34" font-size="8.4" text-anchor="end" fill="#000">2</text>
<line x1="255" y1="407.32" x2="259.5" y2="407.32" stroke="#000" stroke-width="1.2"/>
<text x="253.5" y="410.3" font-size="8.4" text-anchor="end" fill="#000">4</text>
<line x1="255" y1="379.28" x2="259.5" y2="379.28" stroke="#000" stroke-width="1.2"/>
<text x="253.5" y="382.26" font-size="8.4" text-anchor="end" fill="#000">6</text>
<line x1="255" y1="351.24" x2="259.5" y2="351.24" stroke="#000" stroke-width="1.2"/>
<text x="253.5" y="354.22" font-size="8.4" text-anchor="end" fill="#000">8</text>
<line x1="262.5" y1="438.44" x2="340.5" y2="438.44" stroke="#000" stroke-width="1.1" stroke-dasharray="1.1 2.6"/>
<path d="M268.05 463.4 V389.79 H282.15 V463.4" fill="none" stroke="#000" stroke-width="1.55" stroke-linejoin="miter"/>
<line x1="275.1" y1="386.29" x2="275.1" y2="393.3" stroke="#111" stroke-width="0.9"/>
<line x1="272.1" y1="386.29" x2="278.1" y2="386.29" stroke="#111" stroke-width="0.9"/>
<line x1="272.1" y1="393.3" x2="278.1" y2="393.3" stroke="#111" stroke-width="0.9"/>
<circle cx="271.5" cy="385.59" r="1.85" fill="#000"/>
<circle cx="278.7" cy="385.59" r="1.85" fill="#000"/>
<circle cx="275.1" cy="390.5" r="1.85" fill="#000"/>
<circle cx="271.5" cy="393.3" r="1.85" fill="#000"/>
<circle cx="278.7" cy="393.3" r="1.85" fill="#000"/>
<path d="M292.05 463.4 V430.03 H306.15 V463.4" fill="none" stroke="#f04848" stroke-width="1.55" stroke-linejoin="miter"/>
<line x1="299.1" y1="419.24" x2="299.1" y2="440.97" stroke="#f47c7c" stroke-width="0.9"/>
<line x1="296.1" y1="419.24" x2="302.1" y2="419.24" stroke="#f47c7c" stroke-width="0.9"/>
<line x1="296.1" y1="440.97" x2="302.1" y2="440.97" stroke="#f47c7c" stroke-width="0.9"/>
<circle cx="299.1" cy="414.33" r="1.85" fill="#f04848"/>
<circle cx="299.1" cy="422.74" r="1.85" fill="#f04848"/>
<circle cx="299.1" cy="432.56" r="1.85" fill="#f04848"/>
<circle cx="295.5" cy="438.16" r="1.85" fill="#f04848"/>
<circle cx="302.7" cy="438.16" r="1.85" fill="#f04848"/>
<path d="M316.15 463.4 V392.6 H330.25 V463.4" fill="none" stroke="#0000ff" stroke-width="1.55" stroke-linejoin="miter"/>
<line x1="323.2" y1="384.19" x2="323.2" y2="400.31" stroke="#2a2aff" stroke-width="0.9"/>
<line x1="320.2" y1="384.19" x2="326.2" y2="384.19" stroke="#2a2aff" stroke-width="0.9"/>
<line x1="320.2" y1="400.31" x2="326.2" y2="400.31" stroke="#2a2aff" stroke-width="0.9"/>
<circle cx="323.2" cy="382.08" r="1.85" fill="#0000ff"/>
<circle cx="323.2" cy="384.89" r="1.85" fill="#0000ff"/>
<circle cx="323.2" cy="390.5" r="1.85" fill="#0000ff"/>
<circle cx="319.6" cy="398.91" r="1.85" fill="#0000ff"/>
<circle cx="326.8" cy="398.91" r="1.85" fill="#0000ff"/>
<text x="278.16" y="469.9" font-size="8.5" text-anchor="end" fill="#000" transform="rotate(-90 278.16 469.9)">Vehicle</text>
<text x="302.16" y="469.9" font-size="8.5" text-anchor="end" fill="#000" transform="rotate(-90 302.16 469.9)">ETV</text>
<text x="326.26" y="469.9" font-size="8.5" text-anchor="end" fill="#000" transform="rotate(-90 326.26 469.9)">NTV</text>
<line x1="358.9" y1="350.64" x2="358.9" y2="464" stroke="#000" stroke-width="1.3"/>
<line x1="354.4" y1="463.4" x2="439.9" y2="463.4" stroke="#000" stroke-width="1.3"/>
<line x1="354.4" y1="463.4" x2="358.9" y2="463.4" stroke="#000" stroke-width="1.2"/>
<text x="352.9" y="466.38" font-size="8.4" text-anchor="end" fill="#000">0</text>
<line x1="354.4" y1="435.36" x2="358.9" y2="435.36" stroke="#000" stroke-width="1.2"/>
<text x="352.9" y="438.34" font-size="8.4" text-anchor="end" fill="#000">2</text>
<line x1="354.4" y1="407.32" x2="358.9" y2="407.32" stroke="#000" stroke-width="1.2"/>
<text x="352.9" y="410.3" font-size="8.4" text-anchor="end" fill="#000">4</text>
<line x1="354.4" y1="379.28" x2="358.9" y2="379.28" stroke="#000" stroke-width="1.2"/>
<text x="352.9" y="382.26" font-size="8.4" text-anchor="end" fill="#000">6</text>
<line x1="354.4" y1="351.24" x2="358.9" y2="351.24" stroke="#000" stroke-width="1.2"/>
<text x="352.9" y="354.22" font-size="8.4" text-anchor="end" fill="#000">8</text>
<line x1="361.9" y1="438.44" x2="439.9" y2="438.44" stroke="#000" stroke-width="1.1" stroke-dasharray="1.1 2.6"/>
<path d="M368.15 463.4 V376.2 H382.25 V463.4" fill="none" stroke="#000" stroke-width="1.55" stroke-linejoin="miter"/>
<line x1="375.2" y1="372.97" x2="375.2" y2="379.28" stroke="#111" stroke-width="0.9"/>
<line x1="372.2" y1="372.97" x2="378.2" y2="372.97" stroke="#111" stroke-width="0.9"/>
<line x1="372.2" y1="379.28" x2="378.2" y2="379.28" stroke="#111" stroke-width="0.9"/>
<circle cx="371.6" cy="371.57" r="1.85" fill="#000"/>
<circle cx="378.8" cy="371.57" r="1.85" fill="#000"/>
<circle cx="371.6" cy="377.88" r="1.85" fill="#000"/>
<circle cx="378.8" cy="377.88" r="1.85" fill="#000"/>
<path d="M392.15 463.4 V433.96 H406.25 V463.4" fill="none" stroke="#f04848" stroke-width="1.55" stroke-linejoin="miter"/>
<line x1="399.2" y1="426.95" x2="399.2" y2="438.16" stroke="#f47c7c" stroke-width="0.9"/>
<line x1="396.2" y1="426.95" x2="402.2" y2="426.95" stroke="#f47c7c" stroke-width="0.9"/>
<line x1="396.2" y1="438.16" x2="402.2" y2="438.16" stroke="#f47c7c" stroke-width="0.9"/>
<circle cx="399.2" cy="424.14" r="1.85" fill="#f04848"/>
<circle cx="399.2" cy="428.35" r="1.85" fill="#f04848"/>
<circle cx="395.6" cy="438.16" r="1.85" fill="#f04848"/>
<circle cx="399.2" cy="438.16" r="1.85" fill="#f04848"/>
<circle cx="402.8" cy="438.16" r="1.85" fill="#f04848"/>
<path d="M416.35 463.4 V390.5 H430.45 V463.4" fill="none" stroke="#0000ff" stroke-width="1.55" stroke-linejoin="miter"/>
<line x1="423.4" y1="385.59" x2="423.4" y2="395.4" stroke="#2a2aff" stroke-width="0.9"/>
<line x1="420.4" y1="385.59" x2="426.4" y2="385.59" stroke="#2a2aff" stroke-width="0.9"/>
<line x1="420.4" y1="395.4" x2="426.4" y2="395.4" stroke="#2a2aff" stroke-width="0.9"/>
<circle cx="423.4" cy="381.38" r="1.85" fill="#0000ff"/>
<circle cx="423.4" cy="387.69" r="1.85" fill="#0000ff"/>
<circle cx="419.8" cy="393.3" r="1.85" fill="#0000ff"/>
<circle cx="427" cy="393.3" r="1.85" fill="#0000ff"/>
<text x="378.26" y="469.9" font-size="8.5" text-anchor="end" fill="#000" transform="rotate(-90 378.26 469.9)">Vehicle</text>
<text x="402.26" y="469.9" font-size="8.5" text-anchor="end" fill="#000" transform="rotate(-90 402.26 469.9)">ETV</text>
<text x="426.46" y="469.9" font-size="8.5" text-anchor="end" fill="#000" transform="rotate(-90 426.46 469.9)">NTV</text>
<text x="240.93" y="407.4" font-size="7.85" text-anchor="middle" fill="#000" transform="rotate(-90 240.93 407.4)">Virus titre (Log<tspan font-size="5.65" dy="1.57">10</tspan><tspan dy="-1.57">TCID</tspan><tspan font-size="5.65" dy="1.57">50</tspan><tspan dy="-1.57">/mL)</tspan></text>
<line x1="275.2" y1="354.3" x2="299.2" y2="354.3" stroke="#000" stroke-width="1"/>
<text x="269.2" y="353.39" font-size="7.3" text-anchor="start" fill="#000">P &lt; 0.0001</text>
<line x1="375" y1="354" x2="423.9" y2="354" stroke="#000" stroke-width="1"/>
<text x="399.5" y="352.19" font-size="7.3" text-anchor="middle" fill="#000">P = 0.0012</text>
<line x1="375" y1="363.5" x2="399.9" y2="363.5" stroke="#000" stroke-width="1"/>
<text x="368.9" y="362.09" font-size="7.3" text-anchor="start" fill="#000">P &lt; 0.0001</text>
<text x="230.8" y="516.8" font-size="9.2" text-anchor="start" font-weight="bold" fill="#000">i</text>
<line x1="259.5" y1="518.94" x2="259.5" y2="632.3" stroke="#000" stroke-width="1.3"/>
<line x1="255" y1="631.7" x2="340.5" y2="631.7" stroke="#000" stroke-width="1.3"/>
<line x1="255" y1="631.7" x2="259.5" y2="631.7" stroke="#000" stroke-width="1.2"/>
<text x="253.5" y="634.68" font-size="8.4" text-anchor="end" fill="#000">0</text>
<line x1="255" y1="603.66" x2="259.5" y2="603.66" stroke="#000" stroke-width="1.2"/>
<text x="253.5" y="606.64" font-size="8.4" text-anchor="end" fill="#000">2</text>
<line x1="255" y1="575.62" x2="259.5" y2="575.62" stroke="#000" stroke-width="1.2"/>
<text x="253.5" y="578.6" font-size="8.4" text-anchor="end" fill="#000">4</text>
<line x1="255" y1="547.58" x2="259.5" y2="547.58" stroke="#000" stroke-width="1.2"/>
<text x="253.5" y="550.56" font-size="8.4" text-anchor="end" fill="#000">6</text>
<line x1="255" y1="519.54" x2="259.5" y2="519.54" stroke="#000" stroke-width="1.2"/>
<text x="253.5" y="522.52" font-size="8.4" text-anchor="end" fill="#000">8</text>
<line x1="262.5" y1="606.74" x2="340.5" y2="606.74" stroke="#000" stroke-width="1.1" stroke-dasharray="1.1 2.6"/>
<path d="M268.05 631.7 V558.1 H282.15 V631.7" fill="none" stroke="#000" stroke-width="1.55" stroke-linejoin="miter"/>
<line x1="275.1" y1="549.68" x2="275.1" y2="565.81" stroke="#111" stroke-width="0.9"/>
<line x1="272.1" y1="549.68" x2="278.1" y2="549.68" stroke="#111" stroke-width="0.9"/>
<line x1="272.1" y1="565.81" x2="278.1" y2="565.81" stroke="#111" stroke-width="0.9"/>
<circle cx="271.5" cy="549.68" r="1.85" fill="#000"/>
<circle cx="278.7" cy="549.68" r="1.85" fill="#000"/>
<circle cx="275.1" cy="558.1" r="1.85" fill="#000"/>
<circle cx="275.1" cy="565.11" r="1.85" fill="#000"/>
<circle cx="275.1" cy="567.21" r="1.85" fill="#000"/>
<path d="M292.05 631.7 V565.81 H306.15 V631.7" fill="none" stroke="#f04848" stroke-width="1.55" stroke-linejoin="miter"/>
<line x1="299.1" y1="552.49" x2="299.1" y2="578.42" stroke="#f47c7c" stroke-width="0.9"/>
<line x1="296.1" y1="552.49" x2="302.1" y2="552.49" stroke="#f47c7c" stroke-width="0.9"/>
<line x1="296.1" y1="578.42" x2="302.1" y2="578.42" stroke="#f47c7c" stroke-width="0.9"/>
<circle cx="299.1" cy="551.09" r="1.85" fill="#f04848"/>
<circle cx="299.1" cy="554.59" r="1.85" fill="#f04848"/>
<circle cx="299.1" cy="563.7" r="1.85" fill="#f04848"/>
<circle cx="299.1" cy="575.62" r="1.85" fill="#f04848"/>
<circle cx="299.1" cy="577.72" r="1.85" fill="#f04848"/>
<path d="M316.15 631.7 V579.83 H330.25 V631.7" fill="none" stroke="#0000ff" stroke-width="1.55" stroke-linejoin="miter"/>
<line x1="323.2" y1="559.5" x2="323.2" y2="598.05" stroke="#2a2aff" stroke-width="0.9"/>
<line x1="320.2" y1="559.5" x2="326.2" y2="559.5" stroke="#2a2aff" stroke-width="0.9"/>
<line x1="320.2" y1="598.05" x2="326.2" y2="598.05" stroke="#2a2aff" stroke-width="0.9"/>
<circle cx="323.2" cy="554.59" r="1.85" fill="#0000ff"/>
<circle cx="323.2" cy="572.12" r="1.85" fill="#0000ff"/>
<circle cx="323.2" cy="582.63" r="1.85" fill="#0000ff"/>
<circle cx="323.2" cy="583.33" r="1.85" fill="#0000ff"/>
<circle cx="323.2" cy="606.46" r="1.85" fill="#0000ff"/>
<text x="278.16" y="638.2" font-size="8.5" text-anchor="end" fill="#000" transform="rotate(-90 278.16 638.2)">Vehicle</text>
<text x="302.16" y="638.2" font-size="8.5" text-anchor="end" fill="#000" transform="rotate(-90 302.16 638.2)">ETV</text>
<text x="326.26" y="638.2" font-size="8.5" text-anchor="end" fill="#000" transform="rotate(-90 326.26 638.2)">NTV</text>
<line x1="358.9" y1="518.94" x2="358.9" y2="632.3" stroke="#000" stroke-width="1.3"/>
<line x1="354.4" y1="631.7" x2="439.9" y2="631.7" stroke="#000" stroke-width="1.3"/>
<line x1="354.4" y1="631.7" x2="358.9" y2="631.7" stroke="#000" stroke-width="1.2"/>
<text x="352.9" y="634.68" font-size="8.4" text-anchor="end" fill="#000">0</text>
<line x1="354.4" y1="603.66" x2="358.9" y2="603.66" stroke="#000" stroke-width="1.2"/>
<text x="352.9" y="606.64" font-size="8.4" text-anchor="end" fill="#000">2</text>
<line x1="354.4" y1="575.62" x2="358.9" y2="575.62" stroke="#000" stroke-width="1.2"/>
<text x="352.9" y="578.6" font-size="8.4" text-anchor="end" fill="#000">4</text>
<line x1="354.4" y1="547.58" x2="358.9" y2="547.58" stroke="#000" stroke-width="1.2"/>
<text x="352.9" y="550.56" font-size="8.4" text-anchor="end" fill="#000">6</text>
<line x1="354.4" y1="519.54" x2="358.9" y2="519.54" stroke="#000" stroke-width="1.2"/>
<text x="352.9" y="522.52" font-size="8.4" text-anchor="end" fill="#000">8</text>
<line x1="361.9" y1="606.74" x2="439.9" y2="606.74" stroke="#000" stroke-width="1.1" stroke-dasharray="1.1 2.6"/>
<path d="M368.15 631.7 V553.19 H382.25 V631.7" fill="none" stroke="#000" stroke-width="1.55" stroke-linejoin="miter"/>
<line x1="375.2" y1="551.79" x2="375.2" y2="554.59" stroke="#111" stroke-width="0.9"/>
<line x1="372.2" y1="551.79" x2="378.2" y2="551.79" stroke="#111" stroke-width="0.9"/>
<line x1="372.2" y1="554.59" x2="378.2" y2="554.59" stroke="#111" stroke-width="0.9"/>
<circle cx="371.6" cy="551.09" r="1.85" fill="#000"/>
<circle cx="375.2" cy="552.49" r="1.85" fill="#000"/>
<circle cx="378.8" cy="553.19" r="1.85" fill="#000"/>
<circle cx="371.6" cy="554.59" r="1.85" fill="#000"/>
<circle cx="378.8" cy="554.59" r="1.85" fill="#000"/>
<path d="M392.15 631.7 V560.62 H406.25 V631.7" fill="none" stroke="#f04848" stroke-width="1.55" stroke-linejoin="miter"/>
<line x1="399.2" y1="554.59" x2="399.2" y2="566.51" stroke="#f47c7c" stroke-width="0.9"/>
<line x1="396.2" y1="554.59" x2="402.2" y2="554.59" stroke="#f47c7c" stroke-width="0.9"/>
<line x1="396.2" y1="566.51" x2="402.2" y2="566.51" stroke="#f47c7c" stroke-width="0.9"/>
<circle cx="395.6" cy="554.59" r="1.85" fill="#f04848"/>
<circle cx="402.8" cy="554.59" r="1.85" fill="#f04848"/>
<circle cx="399.2" cy="560.9" r="1.85" fill="#f04848"/>
<circle cx="399.2" cy="563.7" r="1.85" fill="#f04848"/>
<circle cx="399.2" cy="567.21" r="1.85" fill="#f04848"/>
<path d="M416.35 631.7 V599.45 H430.45 V631.7" fill="none" stroke="#0000ff" stroke-width="1.55" stroke-linejoin="miter"/>
<line x1="423.4" y1="581.23" x2="423.4" y2="616.28" stroke="#2a2aff" stroke-width="0.9"/>
<line x1="420.4" y1="581.23" x2="426.4" y2="581.23" stroke="#2a2aff" stroke-width="0.9"/>
<line x1="420.4" y1="616.28" x2="426.4" y2="616.28" stroke="#2a2aff" stroke-width="0.9"/>
<circle cx="423.4" cy="568.61" r="1.85" fill="#0000ff"/>
<circle cx="419.8" cy="606.46" r="1.85" fill="#0000ff"/>
<circle cx="423.4" cy="606.46" r="1.85" fill="#0000ff"/>
<circle cx="427" cy="606.46" r="1.85" fill="#0000ff"/>
<circle cx="423.4" cy="606.46" r="1.85" fill="#0000ff"/>
<text x="378.26" y="638.2" font-size="8.5" text-anchor="end" fill="#000" transform="rotate(-90 378.26 638.2)">Vehicle</text>
<text x="402.26" y="638.2" font-size="8.5" text-anchor="end" fill="#000" transform="rotate(-90 402.26 638.2)">ETV</text>
<text x="426.46" y="638.2" font-size="8.5" text-anchor="end" fill="#000" transform="rotate(-90 426.46 638.2)">NTV</text>
<text x="240.93" y="575.7" font-size="7.85" text-anchor="middle" fill="#000" transform="rotate(-90 240.93 575.7)">Virus titre (Log<tspan font-size="5.65" dy="1.57">10</tspan><tspan dy="-1.57">TCID</tspan><tspan font-size="5.65" dy="1.57">50</tspan><tspan dy="-1.57">/mL)</tspan></text>
<line x1="274.8" y1="523.1" x2="322.9" y2="523.1" stroke="#000" stroke-width="1"/>
<text x="298.9" y="521.19" font-size="7.3" text-anchor="middle" fill="#000">P = 0.0654</text>
<line x1="374.3" y1="523.1" x2="424.1" y2="523.1" stroke="#000" stroke-width="1"/>
<text x="399.4" y="521.19" font-size="7.3" text-anchor="middle" fill="#000">P &lt; 0.0001</text>
<text x="230.6" y="685" font-size="9.2" text-anchor="start" font-weight="bold" fill="#000">j</text>
<line x1="259.5" y1="686.74" x2="259.5" y2="800.1" stroke="#000" stroke-width="1.3"/>
<line x1="255" y1="799.5" x2="340.5" y2="799.5" stroke="#000" stroke-width="1.3"/>
<line x1="255" y1="799.5" x2="259.5" y2="799.5" stroke="#000" stroke-width="1.2"/>
<text x="253.5" y="802.48" font-size="8.4" text-anchor="end" fill="#000">0</text>
<line x1="255" y1="771.46" x2="259.5" y2="771.46" stroke="#000" stroke-width="1.2"/>
<text x="253.5" y="774.44" font-size="8.4" text-anchor="end" fill="#000">2</text>
<line x1="255" y1="743.42" x2="259.5" y2="743.42" stroke="#000" stroke-width="1.2"/>
<text x="253.5" y="746.4" font-size="8.4" text-anchor="end" fill="#000">4</text>
<line x1="255" y1="715.38" x2="259.5" y2="715.38" stroke="#000" stroke-width="1.2"/>
<text x="253.5" y="718.36" font-size="8.4" text-anchor="end" fill="#000">6</text>
<line x1="255" y1="687.34" x2="259.5" y2="687.34" stroke="#000" stroke-width="1.2"/>
<text x="253.5" y="690.32" font-size="8.4" text-anchor="end" fill="#000">8</text>
<line x1="262.5" y1="774.54" x2="340.5" y2="774.54" stroke="#000" stroke-width="1.1" stroke-dasharray="1.1 2.6"/>
<path d="M268.05 799.5 V717.2 H282.15 V799.5" fill="none" stroke="#000" stroke-width="1.55" stroke-linejoin="miter"/>
<line x1="275.1" y1="709.07" x2="275.1" y2="724.49" stroke="#111" stroke-width="0.9"/>
<line x1="272.1" y1="709.07" x2="278.1" y2="709.07" stroke="#111" stroke-width="0.9"/>
<line x1="272.1" y1="724.49" x2="278.1" y2="724.49" stroke="#111" stroke-width="0.9"/>
<circle cx="275.1" cy="704.16" r="1.85" fill="#000"/>
<circle cx="275.1" cy="715.38" r="1.85" fill="#000"/>
<circle cx="271.5" cy="718.18" r="1.85" fill="#000"/>
<circle cx="278.7" cy="722.39" r="1.85" fill="#000"/>
<circle cx="271.5" cy="723.09" r="1.85" fill="#000"/>
<path d="M292.05 799.5 V724.21 H306.15 V799.5" fill="none" stroke="#f04848" stroke-width="1.55" stroke-linejoin="miter"/>
<line x1="299.1" y1="713.28" x2="299.1" y2="735.01" stroke="#f47c7c" stroke-width="0.9"/>
<line x1="296.1" y1="713.28" x2="302.1" y2="713.28" stroke="#f47c7c" stroke-width="0.9"/>
<line x1="296.1" y1="735.01" x2="302.1" y2="735.01" stroke="#f47c7c" stroke-width="0.9"/>
<circle cx="299.1" cy="704.16" r="1.85" fill="#f04848"/>
<circle cx="295.5" cy="725.89" r="1.85" fill="#f04848"/>
<circle cx="299.1" cy="725.89" r="1.85" fill="#f04848"/>
<circle cx="302.7" cy="725.89" r="1.85" fill="#f04848"/>
<circle cx="299.1" cy="726.6" r="1.85" fill="#f04848"/>
<path d="M316.15 799.5 V740.2 H330.25 V799.5" fill="none" stroke="#0000ff" stroke-width="1.55" stroke-linejoin="miter"/>
<line x1="323.2" y1="737.11" x2="323.2" y2="743.42" stroke="#2a2aff" stroke-width="0.9"/>
<line x1="320.2" y1="737.11" x2="326.2" y2="737.11" stroke="#2a2aff" stroke-width="0.9"/>
<line x1="320.2" y1="743.42" x2="326.2" y2="743.42" stroke="#2a2aff" stroke-width="0.9"/>
<circle cx="319.6" cy="735.71" r="1.85" fill="#0000ff"/>
<circle cx="326.8" cy="735.71" r="1.85" fill="#0000ff"/>
<circle cx="323.2" cy="739.91" r="1.85" fill="#0000ff"/>
<circle cx="323.2" cy="742.72" r="1.85" fill="#0000ff"/>
<circle cx="323.2" cy="744.12" r="1.85" fill="#0000ff"/>
<text x="278.16" y="806" font-size="8.5" text-anchor="end" fill="#000" transform="rotate(-90 278.16 806)">Vehicle</text>
<text x="302.16" y="806" font-size="8.5" text-anchor="end" fill="#000" transform="rotate(-90 302.16 806)">ETV</text>
<text x="326.26" y="806" font-size="8.5" text-anchor="end" fill="#000" transform="rotate(-90 326.26 806)">NTV</text>
<line x1="358.9" y1="686.74" x2="358.9" y2="800.1" stroke="#000" stroke-width="1.3"/>
<line x1="354.4" y1="799.5" x2="439.9" y2="799.5" stroke="#000" stroke-width="1.3"/>
<line x1="354.4" y1="799.5" x2="358.9" y2="799.5" stroke="#000" stroke-width="1.2"/>
<text x="352.9" y="802.48" font-size="8.4" text-anchor="end" fill="#000">0</text>
<line x1="354.4" y1="771.46" x2="358.9" y2="771.46" stroke="#000" stroke-width="1.2"/>
<text x="352.9" y="774.44" font-size="8.4" text-anchor="end" fill="#000">2</text>
<line x1="354.4" y1="743.42" x2="358.9" y2="743.42" stroke="#000" stroke-width="1.2"/>
<text x="352.9" y="746.4" font-size="8.4" text-anchor="end" fill="#000">4</text>
<line x1="354.4" y1="715.38" x2="358.9" y2="715.38" stroke="#000" stroke-width="1.2"/>
<text x="352.9" y="718.36" font-size="8.4" text-anchor="end" fill="#000">6</text>
<line x1="354.4" y1="687.34" x2="358.9" y2="687.34" stroke="#000" stroke-width="1.2"/>
<text x="352.9" y="690.32" font-size="8.4" text-anchor="end" fill="#000">8</text>
<line x1="361.9" y1="774.54" x2="439.9" y2="774.54" stroke="#000" stroke-width="1.1" stroke-dasharray="1.1 2.6"/>
<path d="M368.15 799.5 V716.5 H382.25 V799.5" fill="none" stroke="#000" stroke-width="1.55" stroke-linejoin="miter"/>
<line x1="375.2" y1="706.97" x2="375.2" y2="725.19" stroke="#111" stroke-width="0.9"/>
<line x1="372.2" y1="706.97" x2="378.2" y2="706.97" stroke="#111" stroke-width="0.9"/>
<line x1="372.2" y1="725.19" x2="378.2" y2="725.19" stroke="#111" stroke-width="0.9"/>
<circle cx="375.2" cy="704.87" r="1.85" fill="#000"/>
<circle cx="371.6" cy="713.98" r="1.85" fill="#000"/>
<circle cx="378.8" cy="713.98" r="1.85" fill="#000"/>
<circle cx="375.2" cy="722.39" r="1.85" fill="#000"/>
<circle cx="375.2" cy="729.4" r="1.85" fill="#000"/>
<path d="M392.15 799.5 V731.5 H406.25 V799.5" fill="none" stroke="#f04848" stroke-width="1.55" stroke-linejoin="miter"/>
<line x1="399.2" y1="728" x2="399.2" y2="736.41" stroke="#f47c7c" stroke-width="0.9"/>
<line x1="396.2" y1="728" x2="402.2" y2="728" stroke="#f47c7c" stroke-width="0.9"/>
<line x1="396.2" y1="736.41" x2="402.2" y2="736.41" stroke="#f47c7c" stroke-width="0.9"/>
<circle cx="399.2" cy="728" r="1.85" fill="#f04848"/>
<circle cx="395.6" cy="730.8" r="1.85" fill="#f04848"/>
<circle cx="402.8" cy="731.5" r="1.85" fill="#f04848"/>
<circle cx="399.2" cy="732.9" r="1.85" fill="#f04848"/>
<circle cx="399.2" cy="738.51" r="1.85" fill="#f04848"/>
<path d="M416.35 799.5 V773.28 H430.45 V799.5" fill="none" stroke="#0000ff" stroke-width="1.55" stroke-linejoin="miter"/>
<line x1="423.4" y1="767.25" x2="423.4" y2="777.07" stroke="#2a2aff" stroke-width="0.9"/>
<line x1="420.4" y1="767.25" x2="426.4" y2="767.25" stroke="#2a2aff" stroke-width="0.9"/>
<line x1="420.4" y1="777.07" x2="426.4" y2="777.07" stroke="#2a2aff" stroke-width="0.9"/>
<circle cx="423.4" cy="764.45" r="1.85" fill="#0000ff"/>
<circle cx="419.8" cy="774.26" r="1.85" fill="#0000ff"/>
<circle cx="423.4" cy="774.26" r="1.85" fill="#0000ff"/>
<circle cx="427" cy="774.26" r="1.85" fill="#0000ff"/>
<text x="378.26" y="806" font-size="8.5" text-anchor="end" fill="#000" transform="rotate(-90 378.26 806)">Vehicle</text>
<text x="402.26" y="806" font-size="8.5" text-anchor="end" fill="#000" transform="rotate(-90 402.26 806)">ETV</text>
<text x="426.46" y="806" font-size="8.5" text-anchor="end" fill="#000" transform="rotate(-90 426.46 806)">NTV</text>
<text x="240.93" y="743.5" font-size="7.85" text-anchor="middle" fill="#000" transform="rotate(-90 240.93 743.5)">Virus titre (Log<tspan font-size="5.65" dy="1.57">10</tspan><tspan dy="-1.57">TCID</tspan><tspan font-size="5.65" dy="1.57">50</tspan><tspan dy="-1.57">/mL)</tspan></text>
<line x1="274.8" y1="689.7" x2="322.9" y2="689.7" stroke="#000" stroke-width="1"/>
<text x="298.9" y="688.39" font-size="7.3" text-anchor="middle" fill="#000">P = 0.0008</text>
<line x1="374.3" y1="690.3" x2="424.1" y2="690.3" stroke="#000" stroke-width="1"/>
<text x="398.4" y="689.09" font-size="7.3" text-anchor="middle" fill="#000">P &lt; 0.0001</text>
<line x1="374.3" y1="699.3" x2="399" y2="699.3" stroke="#000" stroke-width="1"/>
<text x="368.5" y="698.69" font-size="7.3" text-anchor="start" fill="#000">P = 0.0012</text>
<text x="458.2" y="173.6" font-size="9.2" text-anchor="start" font-weight="bold" fill="#000">k</text>
<clipPath id="ck00"><rect x="479.3" y="176.8" width="50.1" height="49.4"/></clipPath>
<g clip-path="url(#ck00)">
<rect x="479.3" y="176.8" width="50.1" height="49.4" fill="#d592e6"/>
<path d="M488.3 185.7 C490.5 184.4 498.8 183.4 504.4 183.2 C509.9 183.1 518.3 183.7 521.9 184.7 C525.5 185.7 526.3 187.8 525.9 189.2 C525.5 190.5 523 192.7 519.4 193.1 C515.8 193.5 509 191.9 504.4 191.6 C499.7 191.3 494 192.1 491.3 191.1 C488.7 190.1 486.1 187 488.3 185.7Z" fill="#bd70dc"/>
<path d="M501.3 204.5 C503.7 203.4 510.4 202.4 514.4 202.5 C518.4 202.6 523.2 203.5 525.4 205 C527.6 206.4 528.4 209.7 527.4 211.4 C526.4 213 522.8 214.6 519.4 214.8 C516 215.1 510 213.8 506.9 212.9 C503.7 211.9 501.3 210.3 500.3 208.9 C499.4 207.5 499 205.5 501.3 204.5Z" fill="#bb6cdb"/>
<path d="M479.3 192.6 C480.5 188.3 484.6 195.4 486.3 198.5 C488 201.7 489.5 207.1 489.3 211.4 C489.2 215.7 487 222.1 485.3 224.2 C483.6 226.4 480.3 229.5 479.3 224.2 C478.3 219 478.1 196.9 479.3 192.6Z" fill="#dea6ec"/>
<ellipse cx="498.8" cy="201" rx="5" ry="3" fill="#ffffff"/>
<path d="M488.3 219.8 C490.2 218.6 495 216.9 499.3 216.3 C503.7 215.7 509.9 216 514.4 216.3 C518.8 216.6 523.8 217 525.9 218.3 C528 219.6 529.7 223.5 526.9 224.2 C524.1 225 514.8 222.7 509.4 222.7 C503.9 222.8 497.8 224.6 494.3 224.7 C490.8 224.8 489.3 224.1 488.3 223.2 C487.3 222.4 486.5 220.9 488.3 219.8Z" fill="#ffffff"/>
<path d="M508.4 181.7 C509.5 180.8 516 179.5 519.4 179.3 C522.7 179 526.9 179 528.4 180.3 C529.9 181.5 529.4 185.9 528.4 186.7 C527.4 187.4 525.1 185 522.4 184.7 C519.7 184.4 514.7 185.2 512.4 184.7 C510 184.2 507.2 182.6 508.4 181.7Z" fill="#ffffff"/>
<path d="M523.4 191.6 C524.4 189.8 527.4 188.2 528.4 190.6 C529.4 193.1 529.9 203.6 529.4 206.4 C528.9 209.3 526.6 208.7 525.4 207.9 C524.2 207.1 522.7 204.2 522.4 201.5 C522.1 198.8 522.4 193.4 523.4 191.6Z" fill="#f3e6f8"/>
<ellipse cx="490.3" cy="211.4" rx="1.4" ry="1.2" fill="#ffffff"/>
<ellipse cx="499.8" cy="214.8" rx="1.5" ry="1" fill="#ffffff"/>
<ellipse cx="525.9" cy="202.5" rx="1.5" ry="3" fill="#c070dc"/>
<rect x="480.5" y="224" width="6.5" height="1.8" fill="#000"/>
</g>
<clipPath id="ck01"><rect x="529.4" y="176.8" width="49.2" height="49.4"/></clipPath>
<g clip-path="url(#ck01)">
<rect x="529.4" y="176.8" width="49.2" height="49.4" fill="#eeedf4"/>
<rect x="529.4" y="205.5" width="49.2" height="20.7" fill="#e0deeb"/>
<rect x="529.4" y="198.5" width="49.2" height="3" fill="#dcbb98"/>
<rect x="529.4" y="201.5" width="49.2" height="3" fill="#fbf8f4"/>
<rect x="529.4" y="204.5" width="49.2" height="3" fill="#dcc0a2"/>
<path d="M534.3 176.8 C535 178.6 536.9 183.9 538.3 187.7 C539.6 191.5 541.5 197.5 542.2 199.5" fill="none" stroke="#d8bca4" stroke-width="2.5" stroke-linecap="round"/>
<ellipse cx="545.6" cy="200" rx="3" ry="1.5" fill="#b8743c"/>
<path d="M548.6 191.6L546.6 197.5M546.4 195.6L546.6 197.5L548 196.1" fill="none" stroke="#222" stroke-width="0.7"/>
<path d="M553 213.8L549.1 209.4M550.9 210.2L549.1 209.4L549.6 211.3" fill="none" stroke="#222" stroke-width="0.7"/>
<path d="M562.9 213.8L559.4 209.4M561.2 210.3L559.4 209.4L559.8 211.4" fill="none" stroke="#222" stroke-width="0.7"/>
<rect x="530.6" y="224" width="6.5" height="1.8" fill="#000"/>
</g>
<clipPath id="ck02"><rect x="578.6" y="176.8" width="49.7" height="49.4"/></clipPath>
<g clip-path="url(#ck02)">
<rect x="578.6" y="176.8" width="49.7" height="49.4" fill="#b29de2"/>
<path d="M595.1 179.3h0M598.7 179.6h0M605.3 179.3h0M611.7 179.2h0M613.9 178.7h0M593.5 181.4h0M617.1 182.6h0M599.3 185.4h0M601.4 184.7h0M615.2 185.3h0M619.8 184.9h0M626.8 183.8h0M608.8 186.9h0M615.9 186.7h0M626.9 187.3h0M618.8 189.2h0M621.5 188.9h0M625.3 189.3h0M601.7 192.3h0M604.7 191.8h0M614.2 193.2h0M620.3 192.8h0M628.3 191.9h0M598.7 195.3h0M609.8 194.5h0M620.3 194.3h0M625.6 195.8h0M630.3 195.7h0M595.8 198.1h0M603.8 197.5h0M611.5 197.5h0M618.3 197h0M620.7 198.1h0M623.7 197.5h0M626.1 198.2h0M597.8 199.7h0M617 199.7h0M621.2 199.4h0M627.1 200h0M628.7 199.6h0" stroke="#ffffff" stroke-width="1.2" stroke-linecap="round"/>
<path d="M600.8 179.2h0M603.5 180.3h0M607.8 179.6h0M616.6 179.6h0M619.2 179.1h0M627.3 180.2h0M596.2 182.8h0M606.7 181.8h0M610.1 181.8h0M611.8 182.7h0M615.4 181.4h0M620.5 181.7h0M623.4 182.1h0M625.2 181.6h0M630.9 182.5h0M593.9 185.2h0M607 184.4h0M617.1 185.4h0M624.7 185.4h0M629.9 184.5h0M594.4 187.7h0M597.8 186.8h0M606.2 188h0M613.2 186.5h0M618.3 186.5h0M628.8 186.9h0M593.2 190.2h0M598.6 190h0M602 188.9h0M604.1 190.4h0M606.2 189.1h0M608.7 189h0M614.3 189.4h0M627.2 190.5h0M629.6 189.4h0M593.3 193.1h0M597.4 192.4h0M599.3 192.3h0M609 192.8h0M612.1 192.2h0M616.9 193.2h0M623 193.1h0M624.6 192.8h0M630.2 193h0M593.1 194.3h0M602.2 195.4h0M605 194.4h0M617 194.6h0M597.6 198h0M599.9 197.9h0M605.1 198.3h0M594.5 200.3h0M610.3 199.9h0M613.1 200.6h0M618.1 199.5h0" stroke="#ffffff" stroke-width="1.7" stroke-linecap="round"/>
<path d="M621.2 179h0M623 179.3h0M629.2 179.7h0M598.6 182.7h0M602.4 181.5h0M604.7 181.3h0M627.6 181.6h0M596.2 183.8h0M605.1 184.2h0M608.5 184h0M611.9 184.3h0M622.9 184.2h0M601.4 187.8h0M602.9 187.5h0M611.8 186.6h0M621.9 186.4h0M624 187.5h0M596.8 190.4h0M611.3 190.4h0M617.4 189.8h0M606.8 193h0M595.7 195h0M605.9 194.2h0M611.3 195.5h0M614.5 194.3h0M622.6 194.5h0M627.1 195.9h0M607.3 197.3h0M613.3 198.1h0M615.9 198.3h0M629.3 198h0M600 199.4h0M603.6 199.6h0M605.8 200.5h0M607.9 200.9h0M624.7 200.4h0" stroke="#ffffff" stroke-width="1.5" stroke-linecap="round"/>
<path d="M581 204.6h0M586.7 204.3h0M598.3 204.3h0M579.8 206.4h0M596 206h0M589 210.4h0M596.5 210.6h0M579.1 212.7h0M581.9 215.1h0M591.9 222.5h0M578.6 224.6h0M597.7 225.8h0M586.2 228.1h0M598.1 227.5h0" stroke="#ffffff" stroke-width="1" stroke-linecap="round"/>
<path d="M585 203.9h0M585.4 206h0M594.8 207.8h0M601 207.2h0M581 210.1h0M592.1 210.5h0M598.4 210h0M583.8 212.9h0M588.5 212.6h0M600.2 212.5h0M580.8 217h0M588.5 216.1h0M592.3 216.9h0M595.7 215h0M600.4 215.4h0M579.2 219.1h0M587 218.8h0M602 218h0M597.6 222.2h0M601.3 221.3h0M587.5 225.8h0M595 224.9h0M600.3 225.9h0M580.7 228.6h0M589.9 227h0M593.8 228.8h0M595.4 227.8h0" stroke="#ffffff" stroke-width="1.7" stroke-linecap="round"/>
<path d="M590.4 204.6h0M593.6 204.2h0M596.7 204.7h0M582.6 206.4h0M587.5 206.4h0M591.9 207h0M582.9 209.5h0M585.8 210.4h0M586.3 213.4h0M592.9 212.2h0M594.1 212.3h0M597.2 212.6h0M586.8 216.8h0M597 216.9h0M582 219.8h0M589.1 218.3h0M593 219.6h0M595.2 219.7h0M598.3 218.7h0M580.2 221.3h0M581.7 221.2h0M584.7 223h0M588.4 222.8h0M595.1 222.5h0M582.9 225.6h0M584.9 225.2h0M590.7 224.1h0M582.8 228.2h0" stroke="#ffffff" stroke-width="1.3" stroke-linecap="round"/>
<path d="M600.3 201.8h0M585.3 182.1h0M604.6 217.3h0M626.3 197.9h0M605.3 218.4h0M586.4 192.1h0M587.5 199.8h0M578.8 186.8h0M619.1 219.6h0M603 225.2h0M581.3 187h0M581.9 184.7h0M618.4 210.5h0M600.8 213.3h0M614.5 211.4h0M620.3 203h0M625.5 193.2h0" stroke="#ffffff" stroke-width="0.8" stroke-linecap="round"/>
<path d="M626.9 209.9h0M605.5 179.5h0M626.3 225h0M620.9 207h0M605.3 201.2h0M627.9 184.5h0M602 191h0M602.9 208h0M628.2 177.6h0M618 221.9h0M607.2 204.2h0M618.4 215.2h0M625.1 191.3h0M602 177.1h0M594.9 194.3h0M618.8 185.8h0M591.5 205.3h0" stroke="#ffffff" stroke-width="1.1" stroke-linecap="round"/>
<path d="M614.6 187.7h0M608.9 180.7h0M604.4 211.4h0M593.3 226h0M600.1 206.4h0M605.3 202.4h0M592.1 204.9h0M606.5 214.2h0M619 191.9h0M604.4 186.2h0M603.4 211.9h0M594.7 213.3h0M590.6 180.7h0M585.7 215.2h0M591.8 202.6h0M608.7 202.6h0M616.5 198h0M615 183.2h0M605 202.5h0M623.6 179.2h0M617.1 201.1h0M601.5 177.2h0M616.9 200.5h0M591.8 216.6h0M622 215.5h0M582.7 199.5h0" stroke="#ffffff" stroke-width="1.5" stroke-linecap="round"/>
<path d="M596.5 200.5 C598.1 200.8 602.6 201.4 605.9 202 C609.2 202.6 614.6 203.6 616.4 204" fill="none" stroke="#ffffff" stroke-width="2.5" stroke-linecap="round"/>
<path d="M599.5 210.4 C601.4 210.7 607.1 211.8 610.9 212.4 C614.7 212.9 620.4 213.6 622.3 213.8" fill="none" stroke="#ffffff" stroke-width="3" stroke-linecap="round"/>
<ellipse cx="624.3" cy="185.7" rx="3" ry="2.5" fill="#ffffff"/>
<path d="M614.4 220.8 C615.4 220.8 618.4 221.3 620.3 221.3 C622.3 221.3 625.3 220.8 626.3 220.8" fill="none" stroke="#e590e6" stroke-width="1.7" stroke-linecap="round"/>
<rect x="579.8" y="224" width="6.5" height="1.8" fill="#000"/>
</g>
<clipPath id="ck03"><rect x="628.3" y="176.8" width="50.2" height="49.4"/></clipPath>
<g clip-path="url(#ck03)">
<rect x="628.3" y="176.8" width="50.2" height="49.4" fill="#8482cc"/>
<path d="M630.3 177.5h0M644.7 178.8h0M653.4 178.7h0M657.3 177.7h0M663.7 178h0M667.5 178.9h0M675 177.2h0M681.9 178.5h0M635 181.9h0M644.3 180.5h0M655.9 181.5h0M669.1 180.7h0M647.1 185.3h0M651.7 183.8h0M656.2 185.1h0M660.6 185.6h0M663.6 185.5h0M670.7 185.7h0M674.9 185.3h0M678.1 184.5h0M629.4 187.8h0M633 188.3h0M645.8 188.4h0M661.3 187.6h0M667.2 187h0M681.5 187h0M633 190.6h0M635.6 191.3h0M648.6 191h0M657.3 192.3h0M679.9 192h0M647.1 195.9h0M652.1 193.7h0M656.9 194.1h0M662.2 195.1h0M670.6 194.8h0M633.1 198.7h0M635.4 199h0M642.5 197.3h0M648.6 197.6h0M652.1 198.9h0M661.8 198.7h0M643.9 202.1h0M658.4 202.8h0M664.6 201h0M667.5 202.5h0M674.5 202.7h0M661.8 204h0M665 204.2h0M672.9 204.7h0M631.4 207.9h0M633.1 208.8h0M645.1 208.9h0M647.9 207.7h0M651.2 207.9h0M653.5 209.1h0M658.3 207.7h0M665.4 209.3h0M682.3 208.3h0M627.8 212.8h0M632.2 211.2h0M661.8 210.9h0M668.7 211.9h0M679.6 211.1h0M641.1 215.8h0M645.4 216.3h0M652.1 215.9h0M655.4 216.5h0M661.9 216.3h0M664 215.9h0M672.4 215.6h0M675.7 214.4h0M681.2 216.1h0M636.5 219.5h0M640.5 219.4h0M646.2 219.5h0M654 217.7h0M669.7 219h0M677.3 217.8h0M658.7 221h0M664.3 221.4h0M669.4 221.2h0M631.7 225.2h0M636.8 226h0M653.7 226.1h0M631 229.1h0M634.4 229.1h0M641.8 230h0M643.4 228.3h0M647.3 228.5h0M655.6 228.5h0M661 229.2h0M665.1 228.2h0M668.6 228.5h0M678.5 228.6h0" stroke="#ffffff" stroke-width="2.9" stroke-linecap="round"/>
<path d="M634.5 177.8h0M651.3 176.8h0M677.9 177.2h0M631.5 182.4h0M641.8 180.8h0M649.6 182h0M652.1 182.2h0M662.4 180.4h0M666.4 180.6h0M672 180.1h0M676.5 182.3h0M680.2 181.9h0M630.2 185.6h0M636.4 183.9h0M639.8 183.6h0M644 185.4h0M680.8 183.9h0M636.6 188.9h0M650.7 187.1h0M672.9 188.4h0M641.9 192.4h0M659.7 191.7h0M662.9 190.6h0M668.9 190.5h0M676.6 192.4h0M638 194.7h0M640.3 194.9h0M666.8 194.8h0M682.1 195h0M629.8 198.4h0M638.2 198.6h0M655.1 199.3h0M658.8 199h0M666.8 197.3h0M631.9 202.2h0M637 202.1h0M640.2 201.5h0M653.5 201.1h0M661.3 200.9h0M671 202h0M634.6 205.3h0M640.7 205.2h0M644.8 204.8h0M652.8 205.3h0M679.1 204.2h0M637 207.7h0M640.1 208h0M661.7 208.5h0M668.2 208.8h0M670.3 207.8h0M678.7 207.4h0M634.6 212.3h0M638.1 210.9h0M642 211.1h0M645 211.2h0M650 211.2h0M652 212.5h0M656.6 211h0M666.8 212.4h0M629.5 215.7h0M636.9 215.6h0M647.3 215.4h0M658.5 215.8h0M630.4 218.7h0M661.1 219.6h0M662.8 218.2h0M665.8 219.6h0M681.4 218.4h0M630.9 223.2h0M637.9 221.4h0M643.6 221.6h0M655.4 222.8h0M675.4 222.8h0M640.5 226.1h0M644.5 225h0M649.9 224.6h0M660.2 226.1h0M665.1 225.1h0M674.6 224.6h0M678.5 224.6h0M682.6 225.7h0M638.4 229.4h0M651.4 228.1h0M657.7 228.7h0M671.7 229.1h0M675.4 229.5h0" stroke="#ffffff" stroke-width="2.5" stroke-linecap="round"/>
<path d="M636.2 176.9h0M639.5 178.9h0M648.2 178.8h0M661.5 178.5h0M670.2 177.3h0M637.6 181.5h0M659 180.3h0M633.4 184.8h0M653.5 185.6h0M667.2 185.1h0M638.9 188.3h0M644 187.8h0M653.3 187.7h0M656.5 187.8h0M662.8 188.8h0M670.8 188.2h0M678.1 187.2h0M628.5 190.7h0M639.2 192.4h0M645 190.7h0M653.2 190.5h0M667 192.1h0M672 192.1h0M629.7 193.9h0M633.3 195.3h0M643.3 194.7h0M654.6 194.3h0M665.7 193.9h0M675.8 194.6h0M677.4 194.4h0M645.9 197.6h0M670.8 198.4h0M672.2 198.8h0M675.4 197.2h0M679.8 197.4h0M635.3 202.8h0M648.6 201.6h0M651.1 201.4h0M678.2 201.1h0M681.1 201.7h0M630.8 205.1h0M638.5 206.1h0M647.4 205.4h0M656 205.8h0M659 205.1h0M668 205.8h0M674.4 205h0M674.2 209.1h0M659.6 211.4h0M672.1 212.9h0M675.2 211.9h0M633.3 215.1h0M668.1 216.3h0M678.4 215.3h0M632.6 218.2h0M643.2 218.6h0M650.4 218.1h0M656.4 217.9h0M673.4 217.6h0M633.9 222.6h0M640.8 221h0M647.8 221h0M651 222.1h0M662.6 223h0M672.2 222.2h0M677.6 221.5h0M634.6 224.4h0M646.8 225h0M658 225h0M669.1 224.6h0M672.1 224.9h0" stroke="#ffffff" stroke-width="3.2" stroke-linecap="round"/>
<path d="M650.9 181.7 C652.9 179.3 661.7 179.1 664.4 180.8 C667.2 182.4 668 188.6 667.5 191.6 C667 194.7 663.9 198.4 661.4 199 C658.9 199.7 654.2 198.5 652.4 195.6 C650.6 192.7 648.9 184.2 650.9 181.7Z" fill="#ffffff"/>
<path d="M652.4 208.4 C653.7 206.1 660.4 204.8 663.4 205.5 C666.5 206.1 669.8 209.9 670.5 212.4 C671.1 214.8 669.9 219.1 667.5 220.3 C665 221.4 658.4 221.3 655.9 219.3 C653.4 217.3 651.1 210.7 652.4 208.4Z" fill="#ffffff"/>
<path d="M630.8 191.6 C631.8 190 636.9 189.4 638.3 190.6 C639.8 191.9 640.3 197.4 639.3 199 C638.3 200.7 633.7 201.7 632.3 200.5 C630.9 199.3 629.8 193.3 630.8 191.6Z" fill="#ffffff"/>
<path d="M663.5 200.5h0M676.9 184.4h0M650.4 215.3h0M675.3 179.2h0" stroke="#a07868" stroke-width="1.6" stroke-linecap="round"/>
<path d="M673.7 210.9h0M677.9 192.1h0M632.4 205.2h0M646.3 202.4h0" stroke="#a07868" stroke-width="2.2" stroke-linecap="round"/>
<path d="M662.9 224.8h0M672.7 207.9h0" stroke="#a07868" stroke-width="1.9" stroke-linecap="round"/>
<path d="M669.5 193.6L672.5 196.6M670.6 195.9L672.5 196.6L671.8 194.7" fill="none" stroke="#222" stroke-width="0.7"/>
<path d="M650.9 207.4L647.4 209.4M648.5 207.8L647.4 209.4L649.4 209.3" fill="none" stroke="#222" stroke-width="0.7"/>
<path d="M655.9 216.3L651.4 218.3M652.7 216.8L651.4 218.3L653.4 218.4" fill="none" stroke="#222" stroke-width="0.7"/>
<path d="M668.5 210.4L665.4 207.4M667.3 208.1L665.4 207.4L666.1 209.3" fill="none" stroke="#222" stroke-width="0.7"/>
<rect x="629.5" y="224" width="6.5" height="1.8" fill="#000"/>
</g>
<clipPath id="ck10"><rect x="479.3" y="226.2" width="50.1" height="50.1"/></clipPath>
<g clip-path="url(#ck10)">
<rect x="479.3" y="226.2" width="50.1" height="50.1" fill="#cd80e3"/>
<path d="M479.3 226.2 C480.6 225.4 486.3 225.5 487.3 226.2 C488.3 226.9 486.6 229.4 485.3 230.2 C484 231 480.3 231.9 479.3 231.2 C478.3 230.5 478 227 479.3 226.2Z" fill="#ffffff"/>
<path d="M480.8 235.7 C482.1 234.2 485.4 233.2 489.3 232.7 C493.2 232.2 500.8 232.3 504.4 232.7 C507.9 233.1 510 234 510.9 235.2 C511.7 236.4 511.7 238.7 509.4 239.7 C507 240.7 501.4 240.9 496.8 241.2 C492.2 241.6 484.5 242.6 481.8 241.7 C479.1 240.8 479.6 237.2 480.8 235.7Z" fill="#ffffff"/>
<path d="M486.8 246.2 C489 244.9 494.3 244.2 499.3 243.2 C504.3 242.2 513.2 240.4 516.9 240.2 C520.5 240.1 521.6 240.9 521.4 242.2 C521.1 243.6 517.4 246.2 515.4 248.2 C513.4 250.2 512 252.8 509.4 254.3 C506.7 255.8 502.8 256.8 499.3 257.3 C495.8 257.7 490.5 257.8 488.3 256.8 C486.1 255.8 486.6 253 486.3 251.2 C486.1 249.5 484.6 247.6 486.8 246.2Z" fill="#ffffff"/>
<path d="M491.8 262.3 C493.9 260.8 500.2 260.2 504.4 259.3 C508.5 258.3 513.3 257.5 516.9 256.8 C520.5 256 524.5 253.3 525.9 254.8 C527.3 256.2 527.3 262.7 525.4 265.3 C523.5 267.9 518.7 269.2 514.4 270.3 C510 271.4 503.1 272.1 499.3 271.8 C495.6 271.5 493.1 269.9 491.8 268.3 C490.6 266.7 489.7 263.8 491.8 262.3Z" fill="#ffffff"/>
<path d="M522.4 226.2 C523.4 224.5 528.2 222.7 529.4 226.2 C530.6 229.7 530.1 243.9 529.4 247.2 C528.7 250.6 526.4 248.1 525.4 246.2 C524.4 244.4 523.9 239.6 523.4 236.2 C522.9 232.9 521.4 227.9 522.4 226.2Z" fill="#ffffff"/>
<path d="M479.3 257.3 C480.1 254.8 483.1 258.1 484.3 261.3 C485.5 264.4 487.1 273.8 486.3 276.3 C485.5 278.8 480.5 279.5 479.3 276.3 C478.1 273.1 478.5 259.8 479.3 257.3Z" fill="#ffffff"/>
<path d="M524.4 268.3 C525.4 266.6 528.6 264.9 529.4 266.3 C530.2 267.6 530.4 274.6 529.4 276.3 C528.4 278 524.2 277.6 523.4 276.3 C522.6 275 523.4 270 524.4 268.3Z" fill="#f2e6f6"/>
<ellipse cx="495.8" cy="248.7" rx="3" ry="1.5" fill="#b058d0"/>
<ellipse cx="507.9" cy="265.8" rx="5" ry="1.5" fill="#b058d0"/>
<ellipse cx="490.3" cy="238.2" rx="1.5" ry="1" fill="#b058d0"/>
<ellipse cx="516.9" cy="252.3" rx="6" ry="2.5" fill="#b864d8"/>
<rect x="480.5" y="274.1" width="6.5" height="1.8" fill="#000"/>
</g>
<clipPath id="ck11"><rect x="529.4" y="226.2" width="49.2" height="50.1"/></clipPath>
<g clip-path="url(#ck11)">
<rect x="529.4" y="226.2" width="49.2" height="50.1" fill="#f7f5f8"/>
<rect x="529.4" y="248.7" width="49.2" height="27.6" fill="#dad8ea"/>
<rect x="529.4" y="247.7" width="49.2" height="2" fill="#e2c6a8"/>
<ellipse cx="556.5" cy="267.3" rx="15.7" ry="4" fill="#e4e2ef"/>
<ellipse cx="543.2" cy="239.7" rx="3" ry="1.5" fill="#eed9cc"/>
<path d="M559.4 259.8L556 255.8M557.8 256.6L556 255.8L556.5 257.7" fill="none" stroke="#222" stroke-width="0.7"/>
<rect x="530.6" y="274.1" width="6.5" height="1.8" fill="#000"/>
</g>
<clipPath id="ck12"><rect x="578.6" y="226.2" width="49.7" height="50.1"/></clipPath>
<g clip-path="url(#ck12)">
<rect x="578.6" y="226.2" width="49.7" height="50.1" fill="#bcaae8"/>
<path d="M580.1 226.7h0M587 226.2h0M595.1 227.4h0M605.8 226h0M609.9 225.9h0M620.3 227.4h0M585.3 229.9h0M591.7 229.8h0M598.6 228.7h0M612.7 228.8h0M615.3 229.3h0M628.1 229.5h0M581.7 230.7h0M585.4 231.5h0M599.2 232h0M604.7 231.2h0M610.4 232h0M614.2 230.8h0M619.8 232h0M593.9 234.5h0M606.5 234.3h0M622.6 234.6h0M626.3 233.9h0M580.8 236.9h0M604.4 237h0M615.7 237.3h0M618.7 236.3h0M625.5 235.9h0M588.6 239.6h0M591.2 239.6h0M595.5 238.3h0M606 238.6h0M613.1 238.2h0M618.2 238.6h0M579.8 241.4h0M599.8 241.9h0M607.8 242h0M612.8 241.9h0M585.6 243.4h0M588.6 243.2h0M594.7 244.3h0M599 244.6h0M609.2 243.6h0M610.7 244.2h0M616.7 244.8h0M618.9 244.5h0M627 244.3h0M629.4 243.3h0M588.1 246h0M593.3 247.1h0M595.5 247.3h0M601.2 245.8h0M620.2 246.4h0M618.9 248.9h0M620.2 249.2h0M628.9 249.8h0M630 248.9h0M579.3 252h0M584.1 251.4h0M591.6 252.1h0M605 251.2h0M607.1 250.9h0M621.2 251.5h0M600.3 254.9h0M614.9 254.6h0M616.7 253.9h0M619.5 253.9h0M621.8 253.4h0M624.9 253.7h0M582.4 256h0M587.8 256.8h0M591.2 257.1h0M598.1 257.3h0M603.4 256.8h0M618.1 256.8h0M620.1 256.3h0M622.1 256.3h0M595 259h0M601.8 259.8h0M605.8 259.3h0M609.6 258.3h0M614.9 259.5h0M622.2 259.3h0M630.6 259.2h0M580.1 262.3h0M593.1 260.8h0M594.8 261.5h0M599.6 262.1h0M602.4 262h0M604 262.1h0M610.3 261.8h0M614.8 261.2h0M617.4 261.6h0M619 262h0M597.1 263.3h0M603.8 264.8h0M611.6 264h0M619.6 263.5h0M628.7 263.9h0M585.9 267.1h0M590.1 266.8h0M596.1 267.3h0M608.2 266.6h0M609.8 266.9h0M630.9 266.4h0M585 269.4h0M591.5 269.9h0M592.5 269.9h0M605.9 268.5h0M612.8 268.4h0M617.5 268.3h0M622.9 268.7h0M579.7 271.1h0M585.3 272.2h0M586.3 272.3h0M591.2 271.1h0M615.2 271.6h0M630.2 271.6h0M581.9 274.6h0M583 274.6h0M595.6 274.1h0M600.7 274.1h0M624.3 274.5h0M580.1 275.7h0M586.6 277.1h0M589.1 277.4h0M590.9 275.9h0M604.1 276.4h0M608.6 277.1h0M611.9 275.7h0" stroke="#ffffff" stroke-width="1.8" stroke-linecap="round"/>
<path d="M582.7 226.1h0M585.8 227.4h0M589.9 226.3h0M598.3 227.3h0M607.5 226.5h0M612.5 226.1h0M615.7 226.1h0M618.3 226.9h0M625 225.8h0M627.8 227.4h0M630.8 227h0M581.6 229.9h0M588.2 228.5h0M593.3 228.5h0M619 228.4h0M623.1 229.6h0M580.5 232.1h0M587.4 231.3h0M589.9 231.7h0M591.9 231.4h0M612.2 231.6h0M621.4 231.5h0M629 231.4h0M581.7 233.5h0M590.7 234.5h0M597.4 233.9h0M602.9 233.7h0M607.5 234.5h0M610.7 233.5h0M615.3 234.4h0M619 233.6h0M620.8 234.4h0M629.1 234.8h0M583.3 236.2h0M596.4 237.3h0M599.5 237.4h0M610.7 236.2h0M579.3 239.5h0M581.7 238.3h0M583.6 239.9h0M586.7 238.6h0M603.7 239.1h0M608.1 239.9h0M623.7 239.5h0M582.7 242.1h0M584.4 241.9h0M587.5 241.3h0M589.9 241.7h0M592.2 241.5h0M594.8 241.7h0M597.1 241.1h0M609.2 241.6h0M615 241h0M617.6 240.8h0M620.7 241h0M622.8 241.7h0M624.7 241.2h0M627.2 242.3h0M590.7 243.7h0M597.1 243.8h0M601.7 244.3h0M604.2 243.9h0M621.7 244.8h0M585.8 246.3h0M590.3 245.7h0M598.2 246.7h0M606.6 246.3h0M608.4 246.1h0M613.3 245.8h0M616.7 246.7h0M622.9 245.9h0M626 246.6h0M628.7 245.9h0M580.8 248.5h0M582.6 249.9h0M595.9 248.5h0M600.9 249.8h0M605.8 249.4h0M611 249.9h0M612.8 248.4h0M616.2 249.2h0M623.2 248.9h0M626.6 248.2h0M594.5 252.4h0M601.4 251.3h0M609.9 251.3h0M616.8 251.4h0M619.6 251.5h0M625.3 251h0M627.7 251h0M629.8 251.2h0M581.6 253.2h0M592.8 253.6h0M595.2 253.2h0M597.4 254.7h0M602.7 254.8h0M605.2 254.3h0M606.8 253.5h0M626.9 254h0M629.6 253.6h0M580.5 256.6h0M595.8 256.9h0M625 256.5h0M628.5 257.1h0M579.5 258.9h0M584.2 258.3h0M600.7 259.8h0M607.1 259.8h0M617.7 258.5h0M619.7 259.2h0M625.1 258.7h0M627.6 258.2h0M597.1 262.2h0M607.3 262.4h0M613.1 262.1h0M627.4 261.4h0M579 263.6h0M600.9 263.7h0M606.2 264.6h0M613.8 264.5h0M616.2 263.6h0M621.1 264.5h0M583 266.1h0M588.3 266.1h0M621.2 266.9h0M622.2 266.9h0M624.7 266.3h0M627.5 267.3h0M583.4 268.2h0M587.6 269.4h0M598.1 269.4h0M600.1 269.8h0M602.4 269.6h0M608.6 269.5h0M610.7 268.6h0M620.4 269.9h0M626.2 269.9h0M581.6 272h0M588.8 272.3h0M596.4 272.1h0M599.1 271.9h0M602.5 272h0M606.4 270.9h0M612.2 270.9h0M619.6 270.8h0M588.2 274.4h0M593.4 274.3h0M598 274.4h0M607.8 273.3h0M613.6 274.5h0M618.5 274.9h0M621.3 274.4h0M581.5 275.8h0M602.6 276.3h0M606.9 275.8h0M614 276.4h0M621.8 276.4h0" stroke="#ffffff" stroke-width="1.4" stroke-linecap="round"/>
<path d="M593.1 226.4h0M600.6 226.2h0M602.9 226.6h0M622.7 226.3h0M583.8 229.9h0M596 228.7h0M601.5 228.4h0M603.7 229.6h0M605.3 228.6h0M608.6 228.5h0M611.7 229.1h0M621.9 229h0M625.8 229h0M594 230.9h0M597 232h0M602.6 231.3h0M607.8 232h0M616.4 230.9h0M623.9 231.2h0M627 232.3h0M583.7 233.6h0M585.6 234.2h0M588.6 233.4h0M596.5 234.8h0M601.1 234.3h0M613.3 234.4h0M630.7 234.2h0M578.6 236.3h0M585.8 236.3h0M588.8 236.9h0M590.5 236.6h0M593.8 236h0M601.2 235.8h0M606.2 236.2h0M608.4 237.1h0M614.6 236.4h0M621.9 237.2h0M623.7 236.8h0M629.1 236.6h0M593.3 239.5h0M598.7 239.4h0M600.4 239.6h0M611.6 238.9h0M617 239.3h0M622 238.3h0M625.6 239.5h0M629.4 239.8h0M603 240.7h0M605.3 241.8h0M629.6 242.3h0M578.6 244.8h0M581.6 244.5h0M583.5 243.4h0M605.9 244.4h0M613.5 244.7h0M623.9 244h0M580.1 247.3h0M584.1 246.9h0M602.9 247.2h0M610.9 246.8h0M617.7 247.4h0M585 249.3h0M588.8 248.9h0M591 248.3h0M593.6 248.5h0M599 248.5h0M603.4 249.4h0M607.7 248.6h0M582.5 251.4h0M586.3 251.7h0M588.9 252.3h0M596.5 251.9h0M599.5 251.5h0M611.4 252h0M614.3 251.4h0M580.5 254.5h0M585.7 253.3h0M587.7 254.9h0M589.3 254.9h0M609 253.9h0M611.8 254.4h0M586.1 256.3h0M592.7 256.1h0M600.6 257.1h0M605.1 255.8h0M607.2 255.9h0M611 256.3h0M612.6 257.2h0M615.8 256.1h0M630.1 256.5h0M582.1 258.6h0M587.7 259.6h0M590 258.7h0M592.3 259.6h0M597.4 259.5h0M613.1 259.2h0M581.4 261h0M584.1 261.2h0M587.1 261.5h0M589.2 261.1h0M622.8 261h0M625.2 262.1h0M629 260.7h0M581.5 263.5h0M583.6 264h0M586.1 264.7h0M589.9 264.1h0M591.6 263.3h0M594.7 264.3h0M598.8 264.4h0M609.7 264.2h0M624.3 264.1h0M627.2 264.4h0M579.9 266.1h0M592.4 266.2h0M597.7 266.7h0M600.4 267.2h0M602.7 266.4h0M606.1 266.5h0M612.9 266.4h0M615.7 266.6h0M617.1 265.7h0M581 268.5h0M596.5 269.4h0M616.4 268.8h0M627.9 268.9h0M630.9 269.9h0M595.3 272.3h0M603.6 271.6h0M608.6 271h0M616.8 271.2h0M622 271.5h0M623.6 272h0M626.7 271.2h0M585.4 274.8h0M590.4 274.2h0M603.9 274h0M606.4 273.8h0M610.3 273.3h0M615.7 274.6h0M626.3 273.4h0M628.8 273.8h0M584.4 276.5h0M594.9 275.8h0M596.5 276.4h0M599 276.7h0M617.5 276h0M619.4 276.2h0M624.5 276.9h0M626.9 275.8h0M629.5 275.7h0" stroke="#ffffff" stroke-width="1.6" stroke-linecap="round"/>
<path d="M605.9 226.2 C608.9 225.4 624.6 224.4 628.3 226.2 C632 228 630 235.6 628.3 237.2 C626.6 238.8 621.3 236.7 618.4 235.7 C615.4 234.7 612.5 232.8 610.4 231.2 C608.3 229.6 603 227 605.9 226.2Z" fill="#ffffff"/>
<path d="M589.5 277.3 C591.7 275.3 598 269.3 602.5 265.3 C606.9 261.3 614.1 255.3 616.4 253.3" fill="none" stroke="#ffffff" stroke-width="3" stroke-linecap="round"/>
<path d="M578.6 254.3 C579.1 253.6 580.5 251.8 581.6 250.2 C582.7 248.7 584.5 246.1 585.1 245.2" fill="none" stroke="#ffffff" stroke-width="2" stroke-linecap="round"/>
<ellipse cx="609.4" cy="256.3" rx="2.5" ry="1.5" fill="#d89ae6"/>
<rect x="579.8" y="274.1" width="6.5" height="1.8" fill="#000"/>
</g>
<clipPath id="ck13"><rect x="628.3" y="226.2" width="50.2" height="50.1"/></clipPath>
<g clip-path="url(#ck13)">
<rect x="628.3" y="226.2" width="50.2" height="50.1" fill="#8c8ad2"/>
<path d="M629.9 229h0M632.3 227h0M639.4 227.2h0M653.4 226.8h0M657 227.3h0M678.5 228.8h0M680.5 231.5h0M656.3 238h0M676.3 235.7h0M636 240.3h0M663 242.8h0M652 245h0M630.4 249.4h0M640 251.2h0M648.9 250.1h0M681.8 249.3h0M638.6 254.1h0M653 256.1h0M676.2 256.8h0M635.1 258.8h0M645.7 259.1h0M663.3 259.3h0M674.5 258.8h0M678.2 259.1h0M681.4 258.5h0M647.8 264.6h0M658.4 263.5h0M666.4 264.5h0M639.3 270.5h0M643.8 269.9h0M647.2 269h0M667.4 268.2h0M633.9 275h0M643.8 274.7h0M657.5 274.1h0M667.7 275.1h0M633.9 277.8h0M640.7 279.3h0M655.3 278.7h0" stroke="#ffffff" stroke-width="4.9" stroke-linecap="round"/>
<path d="M642.5 228.7h0M666.4 228.7h0M676.8 226.4h0M643.7 233.6h0M647.2 231.5h0M659.2 232.8h0M670.7 231.8h0M627.8 236.4h0M632.8 237.2h0M643.3 236.9h0M665.3 235.8h0M669.4 236.6h0M647.9 242.1h0M653.6 241.5h0M676.5 242.7h0M639 246.5h0M642.1 244.8h0M655.6 246.1h0M666.3 246.8h0M673.6 245.8h0M680.6 247.2h0M635 251h0M644 249.3h0M652.8 249.8h0M659.8 249.7h0M664.3 250.4h0M667.3 250.6h0M674.1 250h0M633.8 256.7h0M657.5 255.6h0M667.4 254.6h0M669 254.1h0M651.9 258.6h0M654.9 261.2h0M668.5 261.3h0M633.7 263h0M679.8 264.9h0M629.3 269.5h0M675.7 270.4h0M632.1 274.3h0M639.1 272.5h0M649 272.6h0M652.6 272.8h0M662.3 272.9h0M672.6 273.7h0M682.6 274.2h0M645 278.2h0M649.6 278.9h0M674.7 277h0M679.4 279.1h0" stroke="#ffffff" stroke-width="5.3" stroke-linecap="round"/>
<path d="M647.1 227.4h0M660.8 226.7h0M669.2 229.2h0M628.1 233.5h0M632.3 230.9h0M637 231.5h0M650.7 230.7h0M655.2 232.1h0M664.7 232.9h0M674 230.7h0M638.4 236.8h0M646.7 235.4h0M651.5 236.8h0M662.6 235.3h0M679.3 238h0M629.9 240.7h0M638.5 242.3h0M644.5 240.5h0M657.3 242.9h0M666.4 242.7h0M671 240.8h0M680.1 240.9h0M629.2 246.2h0M634.3 246.4h0M647.1 245.9h0M660.8 247.4h0M671 245.7h0M676.3 252.2h0M630.4 256.2h0M642.7 253.7h0M647.3 256.1h0M660 255.9h0M681 256.1h0M633 261.1h0M639.6 258.8h0M659.7 258.7h0M629.2 265.5h0M637.6 263.4h0M642.5 264.3h0M651.2 263.3h0M662.3 263.1h0M669.6 263.2h0M675.7 265h0M633.7 270.1h0M653.1 269.6h0M657.8 268.1h0M662.8 267.9h0M670.4 267.6h0M681.2 270.4h0M677.1 274.6h0M636.6 278.1h0M661.6 278.1h0M665.5 278.8h0M669.7 276.9h0" stroke="#ffffff" stroke-width="4.4" stroke-linecap="round"/>
<path d="M655.9 226.2 C659.4 224.9 674.7 222.9 678.5 226.2 C682.3 229.5 680.6 243.3 678.5 246.2 C676.4 249.2 669.5 245.8 666 243.7 C662.4 241.6 659.1 236.6 657.4 233.7 C655.7 230.8 652.4 227.5 655.9 226.2Z" fill="#ffffff"/>
<path d="M658.4 256.3 C660.9 252.5 672.6 250.4 676 253.8 C679.3 257.1 681 272.5 678.5 276.3 C676 280.1 664.3 279.6 660.9 276.3 C657.6 273 655.9 260 658.4 256.3Z" fill="#ffffff"/>
<ellipse cx="643.4" cy="261.3" rx="2" ry="3" fill="#a88898"/>
<path d="M654.4 265.3L650.4 262.3M652.4 262.7L650.4 262.3L651.3 264" fill="none" stroke="#222" stroke-width="0.7"/>
<rect x="629.5" y="274.1" width="6.5" height="1.8" fill="#000"/>
</g>
<clipPath id="ck20"><rect x="479.3" y="276.3" width="50.1" height="49.6"/></clipPath>
<g clip-path="url(#ck20)">
<rect x="479.3" y="276.3" width="50.1" height="49.6" fill="#d48ee6"/>
<path d="M479.3 276.3 C480.3 273.5 484.6 273.8 485.3 276.3 C486 278.8 484.3 288.4 483.3 291.2 C482.3 294 480 295.6 479.3 293.2 C478.6 290.7 478.3 279.1 479.3 276.3Z" fill="#ffffff"/>
<path d="M488.3 277.3 C487.8 279.2 486.3 284.9 485.3 288.7 C484.3 292.5 482.8 298.2 482.3 300.1" fill="none" stroke="#dcb0ee" stroke-width="3" stroke-linecap="round"/>
<path d="M512.4 282.3 C513.5 282.2 517 281.7 519.4 281.8 C521.7 281.8 525.2 282.6 526.4 282.7" fill="none" stroke="#f6ecf8" stroke-width="1.5" stroke-linecap="round"/>
<rect x="479.3" y="284.7" width="50.1" height="4.5" fill="#cc7ee2"/>
<path d="M491.8 290.2 C493.5 289.1 497.7 288.5 501.8 288.7 C506 288.9 513 290.4 516.9 291.2 C520.8 292 523.7 292.4 525.4 293.7 C527.1 294.9 527.5 297.4 526.9 298.6 C526.3 299.9 524.8 301.1 521.9 301.1 C519 301.1 512.7 298.7 509.4 298.6 C506 298.5 504.5 300.4 501.8 300.6 C499.2 300.8 495 300.5 493.3 299.6 C491.7 298.7 492.1 296.7 491.8 295.1 C491.6 293.6 490.2 291.3 491.8 290.2Z" fill="#ffffff"/>
<ellipse cx="500.3" cy="297.1" rx="4" ry="1" fill="#d8c0f0"/>
<ellipse cx="515.4" cy="302.1" rx="6" ry="3.5" fill="#b050d0"/>
<path d="M483.3 307.1 C485 305.9 490 305.1 494.3 305.1 C498.7 305.1 504.8 306.2 509.4 307.1 C514 307.9 518.9 309 521.9 310 C524.9 311.1 527.4 312.5 527.4 313.5 C527.4 314.5 524.9 316.1 521.9 316 C518.9 315.8 514 313.1 509.4 312.5 C504.8 311.9 498.5 312.6 494.3 312.5 C490.2 312.4 486.1 312.9 484.3 312 C482.5 311.1 481.6 308.2 483.3 307.1Z" fill="#ffffff"/>
<path d="M484.3 318.5 C486 317.8 490.2 319.4 494.3 319.9 C498.5 320.5 505.2 321.8 509.4 321.9 C513.5 322.1 516.4 320.9 519.4 320.9 C522.4 320.9 526.1 321.2 527.4 321.9 C528.7 322.7 532.1 324.8 527.4 325.4 C522.7 326 506.5 325.7 499.3 325.4 C492.2 325.2 486.8 325.1 484.3 323.9 C481.8 322.8 482.6 319.1 484.3 318.5Z" fill="#ffffff"/>
<path d="M489.3 313 C491.2 312.3 498.1 312.7 501.8 313 C505.6 313.3 510.4 314 511.9 315 C513.3 316 512.4 318.4 510.4 319 C508.3 319.5 502.7 318.8 499.3 318.5 C496 318.1 492 317.9 490.3 317 C488.7 316.1 487.4 313.7 489.3 313Z" fill="#b868d8"/>
<ellipse cx="506.9" cy="316.5" rx="1.3" ry="1" fill="#ffffff"/>
<rect x="479.3" y="301.1" width="3.5" height="24.8" fill="#d48ee6"/>
<rect x="480.5" y="323.7" width="6.5" height="1.8" fill="#000"/>
</g>
<clipPath id="ck21"><rect x="529.4" y="276.3" width="49.2" height="49.6"/></clipPath>
<g clip-path="url(#ck21)">
<rect x="529.4" y="276.3" width="49.2" height="49.6" fill="#f1eff5"/>
<rect x="529.4" y="304.1" width="49.2" height="21.8" fill="#dcdaec"/>
<rect x="529.4" y="302.6" width="49.2" height="2" fill="#fbfafb"/>
<path d="M535.6 305.7h0M564.9 304.4h0M565.9 304.8h0M576.4 305h0" stroke="#dcb898" stroke-width="2" stroke-linecap="round"/>
<path d="M552.8 304.2h0M533 304.5h0M546.1 305.4h0M569.9 304.3h0M563.8 306.1h0M564.6 306.7h0" stroke="#dcb898" stroke-width="1.4" stroke-linecap="round"/>
<path d="M568 286.9h0" stroke="#e2c4a8" stroke-width="1.8" stroke-linecap="round"/>
<path d="M564.4 292.7h0M554.2 289.8h0M542.8 290.9h0" stroke="#e2c4a8" stroke-width="1.2" stroke-linecap="round"/>
<path d="M547.2 287.1h0M539.8 294.4h0" stroke="#e2c4a8" stroke-width="1.5" stroke-linecap="round"/>
<path d="M552 317L548.1 312.5M549.9 313.3L548.1 312.5L548.6 314.4" fill="none" stroke="#222" stroke-width="0.7"/>
<path d="M568.3 316L564.8 311.5M566.6 312.4L564.8 311.5L565.2 313.5" fill="none" stroke="#222" stroke-width="0.7"/>
<rect x="530.6" y="323.7" width="6.5" height="1.8" fill="#000"/>
</g>
<clipPath id="ck22"><rect x="578.6" y="276.3" width="49.7" height="49.6"/></clipPath>
<g clip-path="url(#ck22)">
<rect x="578.6" y="276.3" width="49.7" height="49.6" fill="#b6a0e4"/>
<path d="M580.5 279h0M582.5 277.8h0M587.2 278.8h0M591.3 277.9h0M595.5 279h0M612.8 277.7h0M619.7 278.8h0M582.8 279.9h0M588.5 280.7h0M591.2 280h0M594 281.3h0M597.8 281.2h0M600.4 280.3h0M608 280.4h0M613.1 280.3h0M621.3 279.9h0M626.3 280.9h0M627.8 281.2h0M588.9 284h0M593.2 283.2h0M597.8 283.8h0M606.7 282.5h0M610.4 283h0M620.5 283.1h0M628.3 283.4h0M580.5 284.9h0M582.9 285.4h0M594.9 285h0M599 285.1h0M610.8 286.3h0M619.2 285.4h0M580.3 288h0M586.2 287.9h0M597.3 288h0M602.4 288.5h0M610.7 287.3h0M612.2 288.7h0M630.2 287.6h0M579.2 291.2h0M586.8 290.5h0M597.1 290.4h0M607.5 290h0M623.3 290.8h0M629.6 290h0M579.6 293.7h0M592.6 294h0M597.5 294h0M601.3 294h0M607.5 292.6h0M619 294.1h0M627.9 292.4h0M580.5 295.3h0M586.5 295.4h0M593.1 296h0M600.2 296h0M610 295.9h0M620.8 296.3h0M623.2 295h0M628.6 296.3h0M579.1 298.6h0M581.2 298h0M587.3 298h0M591.4 298.8h0M594.8 297.6h0M597.6 297.4h0M598.9 299h0M601.8 298.2h0M606.1 298.3h0M617.7 298.2h0M627.4 297.4h0M629.6 298.1h0M606 299.8h0M616.7 299.9h0M618.4 301h0M620.9 300.2h0M623.5 301.3h0M592.9 302.7h0M595.3 302.6h0M599.4 303.9h0M604.2 302.5h0M610.7 303.9h0M620.7 302.5h0M579.9 304.9h0M582.8 305.4h0M592.3 305.6h0M595 306.4h0M602.9 305.9h0M620 304.9h0M583.4 308.9h0M590.1 307.4h0M592.9 308.9h0M595.3 309h0M598.5 308.3h0M623.3 308.8h0M626.5 307.7h0M582.3 311.1h0M587.6 311.2h0M592.9 311h0M594.8 310.9h0M596.5 310.4h0M599.5 310.4h0M604.3 311.1h0M609.9 311h0M616.9 311.3h0M586.1 313.8h0M589.2 312.8h0M601.4 313.5h0M611.8 313h0M621 312.4h0M624.6 313.7h0M580.8 316.3h0M588.6 315.6h0M591.8 315.8h0M592.9 315.3h0M595.5 314.9h0M613.7 315.2h0M616.4 315.9h0M620.6 315.3h0M584.8 318h0M592.8 318.9h0M596.6 318.9h0M601.9 317.4h0M604.8 318.7h0M619.1 317.7h0M624.2 318.4h0M628 317.6h0M580.9 320.8h0M591.4 320.1h0M594.9 321.3h0M602.4 321.2h0M610.9 320.3h0M616 320.2h0M621.5 320.1h0M623.1 319.9h0M625.4 321.2h0M630.4 320.1h0M579.5 323.7h0M607.4 322.7h0M610.4 323.8h0M624.7 323.1h0M589.4 326.4h0M594.2 325h0M599.2 326.3h0M600.7 325.4h0M614.3 325.9h0M622.3 325.8h0M624.2 325.1h0M625.8 325.2h0M581.4 327.9h0M583.8 327.7h0M597.8 327.8h0M600.4 328.5h0M610.7 328.9h0M618.8 328.8h0" stroke="#ffffff" stroke-width="1.7" stroke-linecap="round"/>
<path d="M585.8 277.8h0M592.8 278.2h0M597.9 278.7h0M603.8 277.4h0M605.9 277.9h0M607.9 277.5h0M623.2 278.5h0M627.2 277.5h0M630.4 278.8h0M596 281.5h0M603.9 280.6h0M609.9 280.4h0M615.1 280.9h0M623.2 280.8h0M580.1 282.7h0M584 283.7h0M585.5 283.8h0M591 283.8h0M596.3 282.9h0M602.8 283h0M623.6 282.6h0M626.7 283.3h0M584.3 286.5h0M586.6 286.5h0M592.1 286.6h0M598.2 285.8h0M604.9 286.5h0M612.8 285.5h0M614 285.3h0M622.5 286.5h0M624.9 285.7h0M582.4 287.4h0M593.7 288.1h0M596 289h0M600.1 287.9h0M608.4 288.4h0M615.4 287.4h0M620 288.5h0M625.3 287.3h0M590.4 291.3h0M592.2 291.2h0M594.7 290.1h0M610.4 291.3h0M617.1 291.1h0M604.5 292.9h0M613.9 292.8h0M616.8 293.5h0M622.8 293h0M625.1 292.9h0M602.7 295.9h0M605.9 296.2h0M608.5 294.8h0M612.8 296h0M616.2 295.6h0M618.8 294.9h0M630.6 294.8h0M609 298.7h0M612.6 298.8h0M619.7 298.6h0M623.6 297.9h0M578.4 300.1h0M584.3 300.3h0M588.9 300.1h0M591.5 299.9h0M595.7 300.7h0M601.6 301h0M604.8 300.3h0M612 299.9h0M626.2 301h0M579.2 302.4h0M580.5 303.9h0M585.6 304h0M589.1 302.7h0M606.4 302.7h0M612.9 303.2h0M623.8 303.6h0M628.2 302.5h0M591.2 305.9h0M599.5 305.7h0M605.3 305.8h0M615 305.6h0M618.1 305.5h0M623 306.5h0M587.7 308h0M601.4 307.4h0M611.1 308.9h0M613 308.9h0M629.3 308.2h0M585.8 311.3h0M590.3 311.4h0M601.8 311.5h0M608 310.8h0M620.3 311.3h0M630.4 310.1h0M579.1 314h0M582.4 312.7h0M583.5 312.5h0M591.8 313h0M598.9 313.8h0M616.9 314h0M619.6 312.7h0M629.9 313.6h0M586.1 315.3h0M598.6 315.5h0M601.6 316h0M605.7 315.3h0M607.9 314.8h0M617.7 316.5h0M622.7 315.7h0M626.8 315h0M582.5 317.5h0M587.9 317.4h0M589.2 319h0M600.7 317.4h0M610.6 318.5h0M611.9 318.6h0M617.4 317.8h0M597.6 319.8h0M600.8 321.1h0M607.5 320.6h0M612.7 320.3h0M583 323.6h0M585 323.1h0M587.5 322.7h0M593 322.9h0M595.1 323.8h0M614.6 322.8h0M620.2 323.6h0M627.8 323.1h0M578.8 326h0M591.1 325.5h0M605.9 326.4h0M609.6 324.8h0M611.8 326.2h0M628.6 326h0M593.2 327.4h0M602.3 327.4h0M613.5 328.7h0M621.2 327.4h0M623.6 327.3h0M627.5 327.6h0" stroke="#ffffff" stroke-width="1.4" stroke-linecap="round"/>
<path d="M600.8 278.9h0M610.3 278.3h0M616.2 278.4h0M617.2 278h0M625.6 278.7h0M580.3 281.2h0M586.4 281.1h0M605.9 281.5h0M618.1 279.8h0M630.2 280.8h0M600.3 283.9h0M608.6 283h0M614.2 282.7h0M615.7 282.6h0M617.7 283.8h0M589 285h0M602.2 286.1h0M607.9 286.2h0M617.8 285.1h0M627.7 286.2h0M629.5 285.1h0M587.3 289h0M590.5 288.7h0M605.2 288.9h0M617.7 288.8h0M622.4 288h0M628.7 289h0M582.9 291.1h0M584.6 290.9h0M599.3 290.9h0M603 289.9h0M605.3 290h0M613.3 290.9h0M614.7 291.1h0M619.6 290.5h0M624.2 291.3h0M628.1 290.5h0M582.5 293.9h0M584.4 293.1h0M586.8 293.9h0M590.5 293.8h0M594.5 294h0M599.1 293.7h0M610.2 293.1h0M611.4 293.8h0M629.9 292.6h0M584 296.3h0M588.3 295.3h0M590.3 295h0M595.6 296.5h0M598.8 295.9h0M626.2 295.9h0M584.7 298.6h0M590.2 297.6h0M604.3 298.1h0M615.1 298.4h0M621.9 298.4h0M581.6 299.9h0M585.7 300.7h0M593.6 301.3h0M598.2 300.9h0M609.5 301.4h0M614.8 300.8h0M628.2 301.2h0M583.7 303.3h0M591.9 302.8h0M601.2 303.8h0M608.9 304h0M615.7 303h0M618.9 303.1h0M626.5 303.4h0M585.7 305.9h0M587.5 306.1h0M597.5 306.2h0M607.8 306.5h0M611.1 305.1h0M612.2 305.3h0M624.9 304.9h0M627.9 305h0M629.5 306.1h0M581.3 308.1h0M585.9 308.1h0M603.4 309h0M605.2 308h0M607.8 309h0M616.6 307.9h0M618.2 308.8h0M621.1 307.8h0M579.5 311.3h0M611.9 310.6h0M615.7 310.6h0M623.1 310.8h0M625.5 310.3h0M626.6 310.7h0M594.7 312.7h0M596.8 312.8h0M605 313.2h0M607.3 313.9h0M609 312.9h0M613.6 313.6h0M627.1 312.4h0M582.7 315.4h0M603.2 315.1h0M610.8 316.2h0M629.1 315.1h0M579.1 318.6h0M595.1 319h0M606.9 317.7h0M614.9 317.5h0M622 318.2h0M630.4 318.7h0M582.7 320.2h0M585.2 320.1h0M587.6 320h0M593.3 320.5h0M605.3 321h0M618.1 320.8h0M628.3 320.8h0M590.2 323.2h0M597 324h0M600.4 322.6h0M602.4 323.7h0M605.3 323.6h0M613.2 323.5h0M618.1 322.8h0M622.4 322.7h0M630 323.1h0M581.3 325.8h0M584.3 325h0M585.6 325.5h0M596.3 325.1h0M604.1 326h0M615.9 324.9h0M618.9 326.4h0M586.4 328.5h0M588.4 328.7h0M590.7 329h0M595 327.6h0M606.1 328.9h0M608.9 327.6h0M615 327.5h0M624.8 328.8h0M630.2 327.9h0" stroke="#ffffff" stroke-width="1.2" stroke-linecap="round"/>
<ellipse cx="590.5" cy="296.1" rx="2.5" ry="1.5" fill="#e196e2"/>
<path d="M578.6 319 C578.9 318.1 579.9 315.6 580.6 314 C581.3 312.3 582.2 309.9 582.6 309" fill="none" stroke="#ec9ce4" stroke-width="2" stroke-linecap="round"/>
<rect x="579.8" y="323.7" width="6.5" height="1.8" fill="#000"/>
</g>
<clipPath id="ck23"><rect x="628.3" y="276.3" width="50.2" height="49.6"/></clipPath>
<g clip-path="url(#ck23)">
<rect x="628.3" y="276.3" width="50.2" height="49.6" fill="#7274c2"/>
<path d="M628.8 277.9h0M631.8 276.5h0M636.7 276.7h0M640.8 277.2h0M645.7 276.7h0M659.3 277.7h0M665.7 277.2h0M669.2 276.7h0M673.9 277.6h0M680.4 276.8h0M632.9 280.4h0M647.8 279.2h0M650.4 279.7h0M659.2 280.4h0M660.3 280.6h0M664.4 281h0M666.2 279.2h0M675.9 279.8h0M681.5 279.5h0M635.3 282.7h0M637.7 283.3h0M640.8 283.2h0M646.6 283.6h0M652.5 282.7h0M659.2 282.2h0M662.4 282.3h0M665.9 283h0M669.4 282.7h0M676.5 283.6h0M678.8 283.7h0M632.6 286.4h0M638.3 285.9h0M640.9 286.5h0M652.9 286.5h0M675.4 285.1h0M632.7 289.3h0M638.3 288h0M641 289.2h0M644.2 288.1h0M646.7 288h0M652.5 288.6h0M655.1 287.6h0M660.4 289.4h0M678.4 288.9h0M632.5 290.4h0M639.7 291.2h0M641.8 290.6h0M647.9 292.2h0M652.1 291h0M655.8 290.5h0M660.3 291.1h0M672.9 292.2h0M674.5 290.8h0M680.5 290.7h0M630.6 294.6h0M647.4 293.6h0M649.2 293.4h0M656.7 294.9h0M659.1 294.3h0M660.8 294.2h0M678 293.2h0M640.5 297.5h0M646 296.1h0M651.1 296.6h0M653.3 296.9h0M662.9 297.6h0M677.3 296.3h0M679.8 296.4h0M629.6 300.2h0M631.7 299.2h0M641.4 299.2h0M642.5 300.6h0M649 300.3h0M665.1 300.1h0M667.7 299h0M635.1 303.4h0M649.2 302.8h0M669 302.6h0M635.7 305.6h0M644.8 305.1h0M655.3 306h0M659 304.4h0M661.6 305.2h0M668.8 305.2h0M678.3 304.5h0M680.9 306.1h0M629.7 308.1h0M637.4 308.9h0M639.6 308.3h0M651.9 307.4h0M653.4 308.5h0M656.4 308.7h0M659.9 308.2h0M665.7 308.1h0M668.7 308.2h0M671.6 308.1h0M674.1 307.9h0M680.1 308.9h0M628.6 311.8h0M644.3 311.4h0M645.8 310.6h0M652.7 311.7h0M654.7 311.5h0M668.9 310.2h0M676.7 310.4h0M627.6 313.4h0M634.8 314.5h0M642 314.7h0M648.4 313.8h0M654.7 313.4h0M658.3 313.6h0M668 314.6h0M673.9 314.4h0M677 313h0M630.2 317.1h0M633.1 316.1h0M653.8 316.7h0M661.1 315.9h0M663.3 316h0M673.4 316.4h0M629.6 319.4h0M632 319h0M634.4 320h0M639.6 320h0M645.5 319.5h0M654.1 318.5h0M662.1 318.7h0M665.2 318.6h0M678.3 319.4h0M631 321.5h0M636.4 321.7h0M639 321.6h0M648.7 322.4h0M651.4 322.7h0M656 321.3h0M665.8 322.7h0M628.6 325h0M631.4 325.8h0M634.8 325.5h0M636.5 325.1h0M639 324.1h0M647.4 325.8h0M651.6 324.6h0M658.4 325h0M667.7 324.9h0M671.2 324.6h0M678.9 324.2h0M648.6 326.9h0M662.8 327.2h0M673.4 328.4h0" stroke="#ffffff" stroke-width="2.1" stroke-linecap="round"/>
<path d="M634 276.7h0M642.2 277h0M656.4 277.7h0M662.2 276.4h0M670.6 277.7h0M677.5 277.7h0M643.6 280.6h0M670.5 279.9h0M678.4 280h0M657.6 282.6h0M673.3 282.5h0M636.9 285.6h0M643.7 286.6h0M647.5 285.1h0M649.6 285.2h0M655.1 285.5h0M659 286.1h0M669.6 286.3h0M678.9 286h0M680.3 284.9h0M630.2 287.8h0M659 288.4h0M666.7 288.5h0M681.4 288.8h0M629.9 291.7h0M635.8 291.9h0M650.6 291.8h0M657.9 290.8h0M663.3 291.6h0M666.7 290.5h0M668.7 291.3h0M636.6 295.1h0M638.2 294.9h0M645.2 293.2h0M667.1 293.7h0M668.7 294.6h0M673.4 294.5h0M681.8 293.8h0M628 296.7h0M632.2 296.7h0M643.8 297.3h0M647.9 296.9h0M657 296.1h0M665.9 296.6h0M667.6 297.5h0M673 296.9h0M652.6 299.6h0M660.9 300.5h0M662.7 300.4h0M671.6 300.1h0M677.1 299.7h0M630.1 302.5h0M632 301.7h0M642.9 301.9h0M651.9 301.7h0M657.9 302.3h0M660.8 302.4h0M665 303.4h0M670.9 301.9h0M673.5 303.2h0M676.5 302.1h0M633.3 305.3h0M650.2 305.3h0M675.3 305.8h0M635.4 308.4h0M646.5 307.8h0M648.8 307.6h0M677.7 307.4h0M635.9 310.8h0M648.5 311.2h0M656.6 311.9h0M671.7 310.6h0M674.8 310.2h0M636.8 313.5h0M662.5 313.5h0M669.8 314h0M636.1 317.4h0M644.1 316h0M645.9 317.2h0M649 316.5h0M652.5 316.9h0M658.2 317.2h0M668.5 317h0M642.1 320h0M649.3 320.1h0M651.4 318.7h0M668.1 319h0M672.9 319.4h0M645.2 322h0M663.2 321.4h0M670.5 323h0M665.1 324.2h0M674.3 324.5h0M628.2 328.2h0M633.4 328.4h0M637.6 328.4h0M642.1 327.1h0M646.1 327.2h0M650.2 326.8h0M654.7 328.5h0M665.6 326.8h0M667.9 326.9h0M671 327.3h0M679.7 327.2h0" stroke="#ffffff" stroke-width="1.8" stroke-linecap="round"/>
<path d="M648.2 277.8h0M651.3 278h0M653.5 277.7h0M631 280.3h0M635.5 280.4h0M639.4 279.6h0M642.5 280.1h0M653.7 281h0M654.8 280h0M672.9 281h0M629.1 283.4h0M631.7 283.6h0M643.9 283.2h0M648.7 282.6h0M655.3 283.6h0M672.3 283.2h0M630.6 285.9h0M660.9 286h0M663.7 286.5h0M667.1 285.6h0M671.5 284.9h0M636.9 288.8h0M651.1 289.1h0M663.3 289.1h0M670.6 287.9h0M672.9 287.6h0M675.5 288.8h0M643.6 290.6h0M678.5 291.3h0M633.4 294.4h0M641.5 293.9h0M652.4 294.3h0M664.4 293.7h0M675.6 293.7h0M635.2 296.4h0M637.8 296.4h0M658.9 296.5h0M670.6 296.7h0M635 299.7h0M637 298.8h0M646.5 299.4h0M654.7 299.9h0M657.7 299.9h0M674.9 298.9h0M679.1 300.1h0M637.8 302.7h0M641.3 301.8h0M646.9 302.5h0M654.9 301.6h0M662.1 301.6h0M680 302.9h0M629.9 306h0M639.5 305h0M642.7 305.7h0M647.5 304.4h0M652 305.3h0M664.6 305.8h0M667.5 305.9h0M672.1 304.7h0M632.7 308.4h0M643.9 307.3h0M662.5 307.4h0M632.2 310.3h0M638.8 310.3h0M641.5 310.5h0M660.4 311.3h0M662.6 311.5h0M666.1 310.5h0M679.5 310.1h0M630.7 313.5h0M638.9 314.1h0M645.2 314.7h0M651.5 313.2h0M655.8 313.1h0M664.6 314.4h0M678.5 313.2h0M637.4 316.2h0M640.2 316.3h0M665.6 315.9h0M671.9 316h0M676.8 316.8h0M680.1 316.1h0M637.5 318.8h0M656 319.1h0M658.6 319.2h0M670.3 319.9h0M676.8 318.8h0M628.3 322.4h0M633.3 321.8h0M642.9 321.4h0M653.8 322.9h0M658.6 322.7h0M667.4 321.4h0M673.1 322.9h0M676.6 322.9h0M678.3 321.3h0M641.9 325.1h0M645.7 324.1h0M653.7 325.5h0M655.7 325.1h0M662.1 324.4h0M677 325.1h0M631.3 328.1h0M640.1 327.3h0M657.3 328.5h0M660.1 327.5h0M676.9 326.8h0" stroke="#ffffff" stroke-width="1.5" stroke-linecap="round"/>
<path d="M633.3 312 C634.8 309.5 641.2 309.5 643.4 311 C645.5 312.5 646.4 318.5 646.4 320.9 C646.4 323.4 645.4 325.1 643.4 325.9 C641.4 326.7 636 328.2 634.3 325.9 C632.7 323.6 631.8 314.5 633.3 312Z" fill="#ffffff"/>
<path d="M671.5 296.1 C672.3 293.5 677.3 292.5 678.5 295.1 C679.7 297.8 679.3 309.4 678.5 312 C677.7 314.7 674.7 313.7 673.5 311 C672.3 308.4 670.6 298.8 671.5 296.1Z" fill="#ffffff"/>
<ellipse cx="671.5" cy="283.2" rx="4" ry="3" fill="#6a4a70"/>
<ellipse cx="661.4" cy="302.1" rx="2.5" ry="2.5" fill="#c8c0c0"/>
<path d="M635.8 298.6L632.3 296.1M634.3 296.5L632.3 296.1L633.3 297.9" fill="none" stroke="#222" stroke-width="0.7"/>
<path d="M673.5 305.1L670.5 301.1M672.2 302L670.5 301.1L670.9 303.1" fill="none" stroke="#222" stroke-width="0.7"/>
<rect x="629.5" y="323.7" width="6.5" height="1.8" fill="#000"/>
</g>
<line x1="479.3" y1="176.8" x2="479.3" y2="325.9" stroke="#4a4a4a" stroke-width="0.9"/>
<line x1="529.4" y1="176.8" x2="529.4" y2="325.9" stroke="#4a4a4a" stroke-width="0.9"/>
<line x1="578.6" y1="176.8" x2="578.6" y2="325.9" stroke="#4a4a4a" stroke-width="0.9"/>
<line x1="628.3" y1="176.8" x2="628.3" y2="325.9" stroke="#4a4a4a" stroke-width="0.9"/>
<line x1="678.5" y1="176.8" x2="678.5" y2="325.9" stroke="#4a4a4a" stroke-width="0.9"/>
<line x1="479.3" y1="176.8" x2="678.5" y2="176.8" stroke="#4a4a4a" stroke-width="0.9"/>
<line x1="479.3" y1="226.2" x2="678.5" y2="226.2" stroke="#4a4a4a" stroke-width="0.9"/>
<line x1="479.3" y1="276.3" x2="678.5" y2="276.3" stroke="#4a4a4a" stroke-width="0.9"/>
<line x1="479.3" y1="325.9" x2="678.5" y2="325.9" stroke="#4a4a4a" stroke-width="0.9"/>
<text x="474.24" y="201.5" font-size="9" text-anchor="middle" fill="#000" transform="rotate(-90 474.24 201.5)">Vehicle</text>
<line x1="476.5" y1="179.8" x2="476.5" y2="221.7" stroke="#000" stroke-width="1.3"/>
<text x="474.24" y="251.25" font-size="9" text-anchor="middle" fill="#000" transform="rotate(-90 474.24 251.25)">ETV</text>
<line x1="476.5" y1="229.2" x2="476.5" y2="271.8" stroke="#000" stroke-width="1.3"/>
<text x="474.24" y="301.1" font-size="9" text-anchor="middle" fill="#000" transform="rotate(-90 474.24 301.1)">NTV</text>
<line x1="476.5" y1="279.3" x2="476.5" y2="321.4" stroke="#000" stroke-width="1.3"/>
<text x="530.5" y="171.52" font-size="8.5" text-anchor="middle" fill="#000" letter-spacing="-0.35">Nasal turbinate</text>
<line x1="482.7" y1="174" x2="576.7" y2="174" stroke="#000" stroke-width="1.5"/>
<text x="628.1" y="171.52" font-size="8.5" text-anchor="middle" fill="#000">Lung</text>
<line x1="580.5" y1="174" x2="675.3" y2="174" stroke="#000" stroke-width="1.5"/>
<text x="458.8" y="347.1" font-size="9.2" text-anchor="start" font-weight="bold" fill="#000">l</text>
<clipPath id="cl00"><rect x="479.3" y="347.5" width="50.1" height="49.9"/></clipPath>
<g clip-path="url(#cl00)">
<rect x="479.3" y="347.5" width="50.1" height="49.9" fill="#d48ce6"/>
<ellipse cx="506.9" cy="367.5" rx="16" ry="3" fill="#bf6fdc"/>
<path d="M483.3 351.5 C485.4 350.4 496.2 349.2 499.3 349.5 C502.5 349.8 504.4 352.4 502.3 353.5 C500.3 354.6 490 356.3 486.8 356 C483.6 355.7 481.2 352.6 483.3 351.5Z" fill="#ffffff"/>
<path d="M506.9 350.5 C509.2 349.3 520.3 348.8 523.4 349.5 C526.5 350.2 527.7 353.3 525.4 354.5 C523.1 355.7 512.4 357.1 509.4 356.5 C506.3 355.8 504.5 351.7 506.9 350.5Z" fill="#ffffff"/>
<path d="M491.8 358.5 C495.6 357.6 512.3 357 516.9 357.5 C521.5 358 523.1 360.6 519.4 361.5 C515.6 362.4 498.9 363.5 494.3 363 C489.7 362.5 488.1 359.4 491.8 358.5Z" fill="#f2e2f6"/>
<path d="M490.3 377.4 C492.7 375.6 499.3 372.1 504.4 371.5 C509.4 370.8 517.4 372.3 520.4 373.4 C523.4 374.6 524.2 377.6 522.4 378.4 C520.5 379.3 513.5 377.8 509.4 378.4 C505.2 379.1 500.5 381.8 497.3 382.4 C494.2 383.1 491.5 383.3 490.3 382.4 C489.2 381.6 488 379.3 490.3 377.4Z" fill="#ffffff"/>
<path d="M481.3 389.4 C485.1 388 496.7 387.3 504.4 387.4 C512 387.6 523.6 389 527.4 390.4 C531.2 391.8 535.1 395 527.4 395.9 C519.7 396.8 489 397 481.3 395.9 C473.6 394.8 477.5 390.8 481.3 389.4Z" fill="#ffffff"/>
<path d="M481.3 365 C482.6 363.8 487.8 364.4 489.3 365.5 C490.8 366.5 491.6 370.3 490.3 371.5 C489.1 372.6 483.3 373.5 481.8 372.4 C480.3 371.4 480.1 366.1 481.3 365Z" fill="#e4b0f0"/>
<rect x="480.5" y="395.2" width="6.5" height="1.8" fill="#000"/>
</g>
<clipPath id="cl01"><rect x="529.4" y="347.5" width="49.2" height="49.9"/></clipPath>
<g clip-path="url(#cl01)">
<rect x="529.4" y="347.5" width="49.2" height="49.9" fill="#efedf4"/>
<rect x="529.4" y="370" width="49.2" height="27.4" fill="#e3e1ee"/>
<rect x="529.4" y="361" width="49.2" height="7.5" fill="#e6d4bc"/>
<rect x="529.4" y="359.5" width="49.2" height="2" fill="#f8f3ec"/>
<path d="M540.9 362.6h0M568.4 365.3h0M571 364.6h0M560.1 361.6h0" stroke="#d4ac84" stroke-width="2" stroke-linecap="round"/>
<path d="M563.7 365.2h0M569.6 365.5h0M532.3 364.4h0M552.5 364.5h0M544.4 360.7h0" stroke="#d4ac84" stroke-width="1.4" stroke-linecap="round"/>
<path d="M548.7 366.5h0" stroke="#d4ac84" stroke-width="1.7" stroke-linecap="round"/>
<ellipse cx="569.7" cy="390.4" rx="1.5" ry="1" fill="#c8965a"/>
<path d="M558.9 377.4L555 372.9M556.8 373.7L555 372.9L555.5 374.9" fill="none" stroke="#222" stroke-width="0.7"/>
<path d="M569.7 370.5L565.8 366M567.6 366.7L565.8 366L566.3 367.9" fill="none" stroke="#222" stroke-width="0.7"/>
<path d="M576.1 371.5L572.2 367M574 367.7L572.2 367L572.7 368.9" fill="none" stroke="#222" stroke-width="0.7"/>
<rect x="530.6" y="395.2" width="6.5" height="1.8" fill="#000"/>
</g>
<clipPath id="cl02"><rect x="578.6" y="347.5" width="49.7" height="49.9"/></clipPath>
<g clip-path="url(#cl02)">
<rect x="578.6" y="347.5" width="49.7" height="49.9" fill="#a993dd"/>
<path d="M580.4 349.4h0M586.3 347.9h0M590.3 348.3h0M593.7 349.4h0M595.5 351.3h0M596.7 351.5h0M607.6 350.6h0M588.9 353.6h0M593.7 353.6h0M600.2 354.4h0M601.4 354.4h0M604.2 353.8h0M585.9 357.3h0M605.2 356.9h0M607.7 357.3h0M588.7 359.8h0M607.4 361.8h0M586.1 365h0M608 366.3h0M579.1 369h0M585.1 367.8h0M587.2 367.7h0M601.7 367.8h0M604.1 368.9h0M578.6 371.8h0M596.2 370.6h0M602.2 370.7h0M604.8 371.6h0M609.3 370.5h0M580.3 373.7h0M588.6 374.4h0M592.2 374h0M601 373.4h0M603.3 373.9h0M605.3 372.9h0M579.1 377.2h0M606.4 376.3h0M580.6 378.8h0M587 379.2h0M589.3 379.6h0M580.9 382.4h0M598.6 381.8h0M600 382.5h0M606.7 382.2h0M581.4 385.2h0M590.3 385.6h0M597 384.2h0M610.9 384.8h0M581.9 387.3h0M599.7 387.7h0M600.9 386.8h0M607.6 387.8h0M580.2 391.2h0M582.5 390.6h0M585.8 389.8h0M595.1 391.5h0M599.1 391.2h0M608.9 391.5h0M579.1 392.9h0M584.1 393h0M587.3 394.1h0M599.4 392.4h0M607.5 394.3h0M607.5 395.2h0M583.8 398.7h0M587 399.9h0M588.6 398.5h0M595.6 399.8h0M597.4 399.6h0M606.7 398.7h0M609.5 399h0" stroke="#ffffff" stroke-width="1.7" stroke-linecap="round"/>
<path d="M582.2 348.1h0M588.2 348.7h0M597.5 347.8h0M598.9 347.8h0M602.3 348.4h0M610.2 348.3h0M591.3 350.6h0M602 350.4h0M579.1 354.1h0M585.8 355.1h0M590.6 354h0M580.1 357.9h0M583.1 356.4h0M596.2 356.3h0M602.1 357.4h0M610 357h0M583.4 359h0M587 360.2h0M601.2 359.4h0M602.6 359.2h0M608.3 358.8h0M580.8 362.6h0M586.4 363.1h0M595.2 362.5h0M596.3 363.2h0M599.8 362.3h0M611.7 361.7h0M582.4 366.2h0M592.7 366h0M594.7 364.6h0M604 364.5h0M605.1 366.3h0M580.8 367.3h0M590.7 368.2h0M593.3 368.1h0M598.1 368.1h0M582.8 371.6h0M589.8 370.4h0M593.3 371.7h0M597.9 371.8h0M607.8 370.3h0M586.6 372.9h0M598.2 374.3h0M609.5 373.6h0M587.1 375.8h0M593.9 376.7h0M595.4 375.6h0M599.5 376.8h0M604.8 377.2h0M609.2 377h0M583.5 379.2h0M592.8 378.9h0M597.8 380.3h0M586 381.5h0M589.5 381.2h0M591.5 383h0M594.8 381.8h0M579.7 385.3h0M587.3 384.5h0M603.9 384.5h0M606.8 384.2h0M585.6 388.2h0M594.3 387.2h0M596.4 388.3h0M611.1 387.4h0M588.2 389.7h0M591 390h0M597.8 390.7h0M590.1 392.8h0M593.8 393.7h0M583 396.1h0M586.9 397.1h0M592.7 396.8h0M598.4 395.5h0M601.2 395.2h0M604.8 395.6h0M600.7 399.1h0" stroke="#ffffff" stroke-width="1.4" stroke-linecap="round"/>
<path d="M604.8 348.9h0M607.6 347.9h0M579.5 352.3h0M584.2 351h0M586.9 350.8h0M589.6 351.4h0M600.2 352.1h0M604.8 350.7h0M582.2 353.3h0M596.4 354.2h0M608.4 354.7h0M611 353.8h0M588.3 356.6h0M591.6 356.7h0M593.6 357.2h0M599.8 357.2h0M580.4 360.3h0M593 359.7h0M595.2 359.3h0M598.6 359.1h0M605.3 359h0M583 362.7h0M588.1 363.3h0M592.5 362.7h0M602.6 363.2h0M605.4 361.7h0M580.6 364.7h0M589.4 365.7h0M598.3 365.9h0M599.7 366h0M595 367.8h0M607.6 368.2h0M610.4 367.6h0M584.6 371.7h0M586.8 370.2h0M583.3 373.9h0M594.2 373.8h0M580.9 376.9h0M585.4 376.8h0M589.8 377h0M600.4 376.9h0M595 378.5h0M600.4 379.2h0M604.1 379.6h0M605.8 379.1h0M609.2 378.7h0M584.2 381.7h0M604.1 383.1h0M608.4 383h0M585 385.7h0M593.9 384.7h0M598.8 385.4h0M600.8 385.2h0M579.1 387.1h0M588.7 387.8h0M591.3 387.6h0M604.1 388.2h0M602.9 390.4h0M605 390.9h0M582.9 393.9h0M596.7 392.4h0M602.6 392.8h0M604.7 393.5h0M610.7 393.8h0M579.8 397.1h0M585.2 396.6h0M590.6 395.5h0M597.2 395.5h0M610 396.9h0M580.3 398.6h0M592 399.2h0M602.3 398.5h0" stroke="#ffffff" stroke-width="1.1" stroke-linecap="round"/>
<path d="M608.9 348.6h0M617.8 348.6h0M627.7 349.2h0M608.3 351.8h0M614.1 351.7h0M616.4 351.6h0M612.3 353.2h0M614.6 354.3h0M617.4 352.8h0M630.4 352.7h0M617.5 355.1h0M624.7 355.5h0M630.4 356.2h0M606.4 358.3h0M609 357.7h0M612.3 358.3h0M623.9 358.3h0M628.9 358.2h0M606.3 360.6h0M609.3 360.2h0M621.3 360.8h0M623.7 360.1h0M625.9 360.5h0M628.7 361.3h0M608 363.5h0M614.6 362.8h0M622.4 362.2h0M625.2 362.7h0M618.7 365.2h0M622.7 366.1h0M625.2 365h0M626.9 365.7h0M612.9 368.2h0M614.6 368.3h0M617.1 368h0M620.3 367.2h0M623.4 368.5h0M615.5 369.6h0M621.1 370.8h0M622.9 370.5h0M625.9 369.7h0M627.7 371h0M631.2 369.8h0M616.7 372.5h0M621.7 371.9h0M607.1 375.7h0M616.5 375.3h0M628.6 374.6h0M612.5 378.1h0M610 379h0M617.5 379h0M624.4 379.6h0M617.1 382.3h0M623.2 382.2h0M626.8 382h0M610.8 384.2h0M613.4 385.4h0M620 384.4h0M608.2 387.3h0M625 387.5h0M627.1 387h0M612.3 390.2h0M624.1 389.7h0M607.8 391.1h0M614 392.3h0M615.7 391.1h0M618.4 391.6h0M622.6 391.9h0M629.6 391.8h0M609.3 394.4h0M616.9 394.5h0M621.5 394.9h0M629.7 394.1h0M607.6 396.1h0M618.5 397h0M625.7 397.5h0M627.6 396.5h0M624 399.4h0M626 399.6h0" stroke="#ffffff" stroke-width="1.7" stroke-linecap="round"/>
<path d="M609.9 347.8h0M623.2 349h0M625.1 349.2h0M611 351.7h0M618.8 351.1h0M620.9 351.1h0M622.6 351.6h0M624.6 351.9h0M607.4 353.9h0M623.2 353.1h0M624.6 353.6h0M608.9 356.6h0M610.6 356h0M621.3 356h0M622.1 358.5h0M626.7 358.8h0M610.9 360.7h0M614.1 361h0M616.7 360.4h0M616.8 363.5h0M608.5 365.1h0M615.9 365.2h0M619.7 365.5h0M608 368.1h0M627.2 367.9h0M611.4 369.9h0M618 370.6h0M612.9 372.9h0M615.6 371.9h0M620 373.4h0M625.3 373.3h0M627.2 372.3h0M612.1 374.6h0M620.2 374.9h0M625 374.3h0M626.8 375.9h0M619.7 376.7h0M623.9 377.7h0M627.4 376.9h0M607.6 379.3h0M626.5 380.7h0M609 382h0M610.5 382.6h0M618 384.9h0M621.9 383.9h0M624.5 385.3h0M626.4 385.3h0M606.6 387.7h0M611.6 387h0M614 386.8h0M616.4 386.9h0M620.2 386.3h0M608.1 390.3h0M627.6 389.5h0M605.4 392h0M620.9 391.9h0M626 391.4h0M627.9 392.1h0M614.4 394.6h0M613.7 396.7h0M616.2 398.5h0M618.3 398.9h0M621.2 399.7h0M627.9 398.2h0" stroke="#ffffff" stroke-width="1.5" stroke-linecap="round"/>
<path d="M613.6 349h0M615.1 348.4h0M620.9 348.2h0M629.1 348.1h0M606.8 351.6h0M628.2 350.3h0M630.3 351.1h0M610.4 353.9h0M620.7 354.2h0M627.8 354h0M605.4 356.5h0M613.1 356.7h0M616.3 355.2h0M623.7 355.2h0M627.4 356.5h0M614.7 358.8h0M617 357.9h0M618.5 357.4h0M619.2 360.1h0M629.8 360.6h0M610.8 362.7h0M611.8 362.9h0M619.8 362.6h0M626.8 362.4h0M629.7 363.8h0M610.6 366h0M612.4 365.2h0M630.4 364.8h0M611.2 367.2h0M625.4 367.8h0M629.2 367.4h0M606.2 370.3h0M609.5 370.5h0M613 369.5h0M607.9 373.3h0M610.1 373h0M630 373h0M609.1 375.6h0M615.3 374.4h0M621.3 374.3h0M607.4 377.1h0M610.5 376.6h0M614.1 376.7h0M617.7 377.5h0M622.6 376.8h0M629.4 377h0M611.9 379.7h0M614.8 379.7h0M619.8 380h0M621.8 379.4h0M630.3 380.6h0M612.5 381.5h0M615 382.8h0M619.5 381.6h0M625.3 382h0M629.8 381.6h0M607.3 385.1h0M615.4 384.3h0M629.7 385.4h0M617.6 387.1h0M623.5 387.1h0M630.7 387.5h0M609.8 388.7h0M614.8 388.7h0M616.8 389.4h0M620 390h0M622.6 390.1h0M629.9 390.3h0M610.8 392.2h0M607.1 394.4h0M612.9 394.7h0M618.7 393.6h0M624.8 394h0M627.2 393.6h0M610.9 396.3h0M615.9 396.1h0M621 396.6h0M623.4 395.9h0M629.7 397h0M606.6 399.6h0M608.5 399.2h0M611.9 399h0M614.1 399h0" stroke="#ffffff" stroke-width="1.3" stroke-linecap="round"/>
<ellipse cx="597.5" cy="366.5" rx="1" ry="1" fill="#e890e0"/>
<rect x="579.8" y="395.2" width="6.5" height="1.8" fill="#000"/>
</g>
<clipPath id="cl03"><rect x="628.3" y="347.5" width="50.2" height="49.9"/></clipPath>
<g clip-path="url(#cl03)">
<rect x="628.3" y="347.5" width="50.2" height="49.9" fill="#6e6eba"/>
<path d="M639.3 367.5 C641.4 363.7 648.4 362.5 650.9 365 C653.4 367.5 655.2 377.7 654.4 382.4 C653.6 387.2 648.5 392.6 645.9 393.4 C643.2 394.2 639.4 391.7 638.3 387.4 C637.3 383.1 637.3 371.2 639.3 367.5Z" fill="#7c6c9e"/>
<path d="M628.3 346.9h0M650 347.6h0M657.4 347.1h0M659.6 347.7h0M661.8 348.1h0M666.1 346.9h0M668.3 348.2h0M670.2 346.8h0M676.3 348.6h0M628.8 349.6h0M631 350.3h0M635.8 350.6h0M647.1 350.2h0M652.2 350.4h0M658.1 350.9h0M660 350.6h0M664.7 349.8h0M630.9 353h0M634.4 353.7h0M636.8 353.3h0M641.6 353.5h0M649.2 353.3h0M652.2 353.2h0M660.1 353.7h0M670.6 352.5h0M680.5 353.1h0M637.2 355.3h0M653.6 355.9h0M656.4 355.6h0M658.1 355.3h0M667.2 355.6h0M668.3 356.2h0M674.9 355.5h0M628.1 358.4h0M649.8 357.5h0M655.5 358.7h0M657.2 358.2h0M660.6 357.5h0M671.1 358.5h0M633 360.9h0M647.4 359.9h0M648.5 360.9h0M654.7 360.6h0M656.4 360.3h0M670.6 360.4h0M639.2 363.2h0M650 363.5h0M657.7 363.6h0M678.1 364.1h0M632.7 365.1h0M650.2 365h0M662.8 365.8h0M645.5 369.4h0M653.3 368.8h0M658.1 368.9h0M663.7 369.4h0M667.8 368.4h0M671 369.2h0M631.7 370.2h0M640.4 370.3h0M644.1 370.6h0M647.8 371.3h0M652.5 370.7h0M637.2 374.3h0M642.6 373.1h0M650.1 374.5h0M652.3 373h0M658.8 374.3h0M668.6 372.8h0M675.5 374.1h0M642 376.1h0M649.3 377.1h0M654.2 376.2h0M657 376.3h0M660.7 376h0M661.7 377.1h0M665.7 376.8h0M672.9 376.5h0M680.1 376.9h0M628.7 378.8h0M645 378.5h0M652.3 378.3h0M658.8 379.6h0M663.8 378.8h0M669.1 379h0M670.7 379.6h0M673 379.4h0M676.1 378.1h0M630.1 382.1h0M635 382.2h0M637.9 381.3h0M646.7 381.1h0M649.2 382.1h0M660.2 381h0M665.8 380.7h0M677.9 381.7h0M636.9 383.4h0M638.9 383.6h0M646.8 384.1h0M650.7 383.3h0M653.2 384h0M657.7 384.7h0M664 384.7h0M634.2 386.2h0M639.6 387.3h0M644.8 386.7h0M653.8 386.1h0M660.3 387.5h0M663.4 387.5h0M671.6 387.6h0M674.1 387h0M678.2 387.1h0M632.8 389.8h0M641.5 388.7h0M650.8 389.2h0M656.4 389.8h0M667.8 389.1h0M675 389.3h0M628.4 392.6h0M641.3 391.3h0M644 391.6h0M647.1 392.7h0M651.4 392.2h0M657.7 392.8h0M665.5 391.6h0M673.3 392h0M675.9 392h0M634.6 394.8h0M639.4 394.3h0M644.3 395h0M649.7 394.5h0M659.4 395h0M681 394h0M630.8 396.9h0M632.9 396.6h0M636 397.4h0M648.1 397.3h0M656.8 396.6h0M661.1 396.8h0M666.8 396.4h0M674.3 397.7h0M676.8 396.9h0M679 397.1h0M632.4 400.4h0M642.4 399.8h0M644.1 399.4h0M654.3 400.5h0M658.4 400.2h0M663.4 400h0M676.1 399.3h0" stroke="#ffffff" stroke-width="1.4" stroke-linecap="round"/>
<path d="M632 347h0M640 347.8h0M642.5 348h0M644.7 348h0M647.4 348.5h0M677.6 346.9h0M633.1 349.9h0M638.9 351.1h0M649.4 349.7h0M654.4 350.9h0M662.8 350.3h0M667.7 350.7h0M669.9 350.9h0M672.7 351h0M639.6 353.5h0M643.3 353.5h0M665.3 353.3h0M666.7 352.7h0M677.4 353.3h0M632.6 355.6h0M642.7 354.8h0M648.7 355.9h0M660.9 355.3h0M663.8 356.4h0M676.2 354.8h0M679.5 354.9h0M634 358.6h0M646.6 357.8h0M667.2 357.9h0M673.3 357.2h0M675.7 357.6h0M678.2 359h0M680.9 358.7h0M635.7 361.3h0M642.2 360.5h0M644.6 360.6h0M651.7 360.3h0M658.7 361.2h0M665.5 360.6h0M672.6 360.5h0M680.4 360.7h0M628.4 363.3h0M631.8 363.7h0M634.9 364h0M637.7 364.2h0M642.2 363h0M645.1 363.2h0M660 362.9h0M662.4 363.4h0M671.3 363.9h0M672.8 362.7h0M675.3 362.5h0M629.8 365.3h0M635.6 366.2h0M637.8 365.4h0M639.4 365.2h0M645.6 366.5h0M647.3 366.7h0M653.2 366.4h0M666 366.7h0M669.2 365.9h0M670.9 365.7h0M673.3 366h0M676.3 365.7h0M629.4 368.4h0M632.1 368.2h0M636.6 368.3h0M639.6 368.7h0M642.7 368.6h0M654.9 368.7h0M665.2 368.5h0M673.8 368.7h0M675.8 368.5h0M681.4 368.1h0M635.3 371.8h0M641.5 371.6h0M655.9 370.2h0M657.7 371.2h0M662.5 370.2h0M665.4 370.7h0M668.2 371.2h0M673.1 370.3h0M676.6 371.9h0M633.9 373.3h0M639.8 373.5h0M644.2 373.4h0M674.5 373.1h0M631 376.5h0M634.3 377.2h0M639.1 375.5h0M652.2 376.9h0M668.2 375.8h0M678.5 376.7h0M631.3 378.1h0M635.2 378.4h0M640.3 379.4h0M656.2 378.5h0M661 378.1h0M665.1 378.8h0M678.6 379.4h0M632.2 381h0M640.5 381.3h0M645.7 382.1h0M652.8 382.1h0M657.8 381.2h0M668.3 381.7h0M631.2 385h0M634 383.3h0M660 383.9h0M666.1 383.6h0M632.1 386.1h0M636.8 386.7h0M647.5 386.8h0M654.8 386.8h0M657.7 387h0M636.8 390.1h0M638.6 389.1h0M654.1 389.4h0M659.2 389.3h0M661.6 389.8h0M669.5 389h0M671.7 390.1h0M680 390.2h0M634.1 391.9h0M639.2 392.4h0M648.5 391.3h0M659 391.4h0M662.7 392.5h0M667.5 391.7h0M670.3 392.4h0M678 392.4h0M681.1 392h0M636.2 395h0M641.5 394.3h0M652.8 393.6h0M654.2 393.6h0M657.5 393.7h0M662.3 394.1h0M665.4 394.2h0M671 395.1h0M673.7 394.9h0M639.8 396.3h0M642.6 396.6h0M646 396.5h0M668.9 397.3h0M671.6 397.2h0M629 398.8h0M633.8 399.2h0M637 399.2h0M652.1 399.7h0M660 400.6h0M669.1 399.9h0M679.4 400h0" stroke="#ffffff" stroke-width="1.7" stroke-linecap="round"/>
<path d="M634.9 347.5h0M635.9 348.2h0M652.4 346.9h0M654.9 347.9h0M672.2 347.6h0M680.4 346.9h0M642.1 351h0M644 350.7h0M676.1 349.6h0M677.8 350.3h0M681.3 350.8h0M628 352.8h0M646.7 352.5h0M654.3 353.3h0M656.3 353.5h0M662.3 353.3h0M672.6 352.1h0M675 352.3h0M629.7 355.4h0M635.6 356.1h0M640.5 355.9h0M645.3 355.1h0M650.6 354.7h0M670.6 355.7h0M630.8 358.3h0M637.4 358.4h0M639 357.2h0M642.1 357.6h0M645.2 357.9h0M651.7 358.3h0M662.9 357.8h0M664.3 358.8h0M627.7 360.4h0M631.7 361.3h0M639 360h0M662.9 360.5h0M666.9 360.7h0M674.7 361.5h0M678 360.2h0M647.4 363.9h0M651.9 362.7h0M655.8 363.6h0M665.3 362.5h0M668.4 363.3h0M642 365.8h0M656.5 365.8h0M659.3 366.3h0M660.7 366.3h0M679.1 366.6h0M634.2 369h0M647.1 369.2h0M650.6 368.6h0M659.7 369.2h0M679.3 369.3h0M629.9 371.2h0M636.1 370.7h0M649.5 371.2h0M661.2 371.4h0M670.6 370.3h0M679.2 370.5h0M630.1 374.2h0M632 374h0M647.8 373.3h0M656.2 373.1h0M661.3 372.9h0M662.7 374.3h0M665.6 374.6h0M671.4 374.4h0M678.7 374.1h0M628.2 376.2h0M635.9 376.9h0M644.4 376.5h0M646.7 375.5h0M671.2 376.2h0M676 376.6h0M637 379.1h0M643 378.4h0M647.9 378.3h0M650.7 378.9h0M641.9 381.4h0M655.7 381.4h0M662.4 380.9h0M671.3 381.6h0M673.2 380.7h0M675.4 381.8h0M629.8 383.7h0M641.6 383.6h0M645.5 385h0M654.6 384.2h0M668.9 383.9h0M671.2 383.4h0M673.8 383.3h0M675.6 384.1h0M679.6 383.4h0M628.8 386.7h0M642 386.1h0M649.7 386.6h0M666.5 386.3h0M668.5 386.2h0M676.5 386.2h0M630.5 388.7h0M644.7 388.5h0M647.1 388.9h0M649.4 389.8h0M664.2 389.4h0M678.4 389.5h0M630.8 391.3h0M636.9 391.9h0M654.6 392.5h0M629.4 394.3h0M631 393.9h0M647 394.4h0M667.5 394.4h0M675.3 394.6h0M677.4 394.1h0M638.6 397.6h0M650.3 398h0M653.5 396.4h0M659 396.5h0M664.2 397.9h0M639.9 399.2h0M647.3 399.1h0M649.5 398.8h0M665.3 400.5h0M669.9 400.5h0M673.7 400.2h0" stroke="#ffffff" stroke-width="1.2" stroke-linecap="round"/>
<path d="M646.1 377.1h0M641.6 386.5h0M642.9 373.5h0M638.8 382.8h0M651.9 384.3h0M638.3 389.7h0M650.4 370.8h0M654.9 386h0M647.5 368h0M653.7 384h0M643.2 384.1h0M647.7 378.4h0M641.5 383.5h0M649.1 384.6h0M651.9 387.6h0M646.2 391.6h0M640.4 382.2h0M641.4 383.6h0M650.7 390h0M648.4 389.5h0M651 373.2h0" stroke="#9a7060" stroke-width="1.4" stroke-linecap="round"/>
<path d="M647.3 385.4h0M642.4 385.7h0M655.3 385.1h0M638.1 368.3h0M654 375.9h0M650.1 374.9h0M650.4 376h0M654.1 365.4h0" stroke="#9a7060" stroke-width="2.2" stroke-linecap="round"/>
<path d="M651.6 382.2h0M652.2 381.2h0M648.6 375.2h0M650.8 378.4h0M645 385.9h0M640.2 365.2h0M650.6 372.8h0M648.2 385h0M638.4 391.4h0M652 385.2h0M653.6 373.2h0" stroke="#9a7060" stroke-width="1.8" stroke-linecap="round"/>
<path d="M640.3 350.5 C644.5 348.7 663.1 347.5 667.5 349.5 C671.8 351.5 669 359.8 666.5 362.5 C663.9 365.1 656.4 365.8 652.4 365.5 C648.4 365.1 644.4 363 642.4 360.5 C640.3 358 636.2 352.3 640.3 350.5Z" fill="#ffffff"/>
<path d="M651.4 383.4 C654.7 381 669.5 379.4 673.5 381.4 C677.4 383.4 678.3 393 675 395.4 C671.6 397.8 657.3 397.9 653.4 395.9 C649.5 393.9 648 385.8 651.4 383.4Z" fill="#ffffff"/>
<path d="M628.3 386.4 C629.3 384.3 633 382.6 634.3 384.4 C635.7 386.3 637.3 395.2 636.3 397.4 C635.3 399.6 629.6 399.2 628.3 397.4 C627 395.6 627.3 388.6 628.3 386.4Z" fill="#f8f4f0"/>
<path d="M657.4 359.5L663.4 356.5M662.2 358.1L663.4 356.5L661.4 356.5" fill="none" stroke="#222" stroke-width="0.7"/>
<path d="M655.9 389.4L653.4 386.4M655.2 387.2L653.4 386.4L653.9 388.4" fill="none" stroke="#222" stroke-width="0.7"/>
<path d="M668.5 389.4L666.5 386.4M668.2 387.4L666.5 386.4L666.7 388.4" fill="none" stroke="#222" stroke-width="0.7"/>
<rect x="629.5" y="395.2" width="6.5" height="1.8" fill="#000"/>
</g>
<clipPath id="cl10"><rect x="479.3" y="397.4" width="50.1" height="49.4"/></clipPath>
<g clip-path="url(#cl10)">
<rect x="479.3" y="397.4" width="50.1" height="49.4" fill="#cf84e4"/>
<path d="M481.8 400.9 C488.5 399.6 514.9 399.1 521.9 399.9 C528.9 400.6 530.6 404.1 523.9 405.3 C517.2 406.5 488.8 408 481.8 407.3 C474.8 406.5 475.1 402.1 481.8 400.9Z" fill="#ffffff"/>
<path d="M484.3 410.7 C488.5 409.7 504.9 408.7 509.4 409.3 C513.8 409.8 515 413.1 510.9 414.2 C506.7 415.3 488.7 416.3 484.3 415.7 C479.9 415.1 480.1 411.8 484.3 410.7Z" fill="#ffffff"/>
<path d="M481.8 418.1 C488.9 416.7 517 415.7 524.4 416.7 C531.7 417.7 533 422.6 525.9 424.1 C518.8 425.6 489.2 426.5 481.8 425.6 C474.5 424.6 474.7 419.6 481.8 418.1Z" fill="#ffffff"/>
<path d="M489.3 428 C494.3 426.9 513.9 425.9 519.4 426.5 C524.9 427.2 527.4 430.8 522.4 432 C517.4 433.1 494.8 434.1 489.3 433.5 C483.8 432.8 484.3 429.2 489.3 428Z" fill="#ffffff"/>
<path d="M489.3 435.9 C493.7 434.9 510.7 434.2 515.4 434.9 C520 435.7 521.7 439.3 517.4 440.4 C513 441.4 494 442.1 489.3 441.4 C484.6 440.6 485 437 489.3 435.9Z" fill="#ffffff"/>
<ellipse cx="484.3" cy="419.6" rx="3" ry="1.5" fill="#a050c8"/>
<ellipse cx="506.9" cy="434.4" rx="3" ry="1.5" fill="#a050c8"/>
<rect x="480.5" y="444.6" width="6.5" height="1.8" fill="#000"/>
</g>
<clipPath id="cl11"><rect x="529.4" y="397.4" width="49.2" height="49.4"/></clipPath>
<g clip-path="url(#cl11)">
<rect x="529.4" y="397.4" width="49.2" height="49.4" fill="#fbfafb"/>
<rect x="529.4" y="423.1" width="49.2" height="23.7" fill="#dcdcee"/>
<rect x="529.4" y="422.1" width="49.2" height="2" fill="#e6d0b8"/>
<ellipse cx="546.6" cy="423.1" rx="3.4" ry="1.2" fill="#d4a47a"/>
<ellipse cx="551.5" cy="438.9" rx="15.7" ry="3" fill="#e6e6f2"/>
<ellipse cx="553" cy="408.3" rx="0.7" ry="0.7" fill="#d8a070"/>
<path d="M556 429L552 424.6M553.9 425.3L552 424.6L552.6 426.5" fill="none" stroke="#222" stroke-width="0.7"/>
<rect x="530.6" y="444.6" width="6.5" height="1.8" fill="#000"/>
</g>
<clipPath id="cl12"><rect x="578.6" y="397.4" width="49.7" height="49.4"/></clipPath>
<g clip-path="url(#cl12)">
<rect x="578.6" y="397.4" width="49.7" height="49.4" fill="#c2b4ec"/>
<path d="M578.6 397.4 C581.5 390.8 593.5 391.6 596 397.4 C598.5 403.2 596.4 425.4 593.5 432 C590.6 438.6 581.1 442.7 578.6 436.9 C576.1 431.2 575.7 404 578.6 397.4Z" fill="#b4a4e6"/>
<path d="M580.5 399.4h0M584.3 399.8h0M586.4 399.7h0M593.3 399.9h0M602.5 400h0M604.5 399.5h0M608.2 400.2h0M609.9 399.8h0M617 400.1h0M627.6 399.2h0M584.1 401.1h0M591 401.4h0M592.7 401.1h0M598.3 402.2h0M602.2 402.4h0M604.8 401.3h0M611.1 402.1h0M618.5 402.6h0M622.9 402.5h0M625.9 401.6h0M629.4 401.2h0M585 403.7h0M614.1 404h0M615.3 404.4h0M626.5 404.1h0M629.5 404.3h0M583.1 406.8h0M584.6 406.5h0M587.6 407h0M593.7 406.1h0M596.9 406.1h0M607.1 406.1h0M626.3 406.1h0M627.9 406.1h0M584.6 408.8h0M597.1 408.5h0M605.8 408.4h0M612.3 408.8h0M616.3 409.2h0M621.8 409.3h0M583.3 410.7h0M594.2 411.7h0M601.8 411h0M611 411.8h0M617.2 410.6h0M621.5 411h0M629.5 410.3h0M582.1 413h0M585.9 413.7h0M588.1 412.9h0M591.1 412.8h0M602.1 413.2h0M605.2 412.9h0M608.8 413.8h0M612.1 414.1h0M585 415.2h0M586.6 416.4h0M590.7 415.5h0M607.2 415.8h0M624.3 415.5h0M628.6 416.2h0M586.1 418.2h0M588.3 418.3h0M599.9 418.7h0M604.3 418.5h0M606.3 418.4h0M608 418.2h0M612.9 417.5h0M615.3 418.6h0M618.2 417.4h0M630 417.5h0M584.2 420.9h0M588.6 420.3h0M597.5 420.3h0M605.2 419.9h0M606.4 420.6h0M614.8 420.1h0M618.7 420.9h0M626.1 419.5h0M629.8 421h0M578.6 423.1h0M581.7 423.3h0M584 422.5h0M593.3 422.1h0M595.4 423h0M599.5 422.9h0M601.7 422h0M608.6 422.8h0M614.2 423h0M624.7 421.9h0M579 425.4h0M585.9 424.6h0M599.3 424.1h0M602 424.2h0M613.4 424.5h0M617.7 425.6h0M622.5 425h0M624.4 425.4h0M580.1 427.6h0M586.6 426.4h0M588.1 426.9h0M595.8 427h0M611.2 426.4h0M621.2 426.5h0M628.1 426.4h0M587.3 429.2h0M593.5 429.8h0M598.7 429.6h0M600.5 429h0M610.7 429.9h0M612.3 430.1h0M625.7 429.6h0M579.6 431.9h0M587.4 432.1h0M593.5 432.2h0M598.9 431.2h0M599.8 431.9h0M603.2 431.6h0M609.8 432.3h0M614.1 432.1h0M619.3 432h0M622.9 431h0M626.2 431.9h0M628.7 431.6h0M580.5 434.6h0M584.1 434.4h0M597.5 433.6h0M603.9 434.4h0M609.3 433.5h0M611.2 433.9h0M623.2 434.4h0M588.9 435.6h0M591.2 436.4h0M595.7 437h0M611.5 436.2h0M614.7 435.5h0M616.9 436.8h0M618.5 436.5h0M620.6 436h0M626.5 436.7h0M581.5 439h0M624.8 438.6h0M579.2 440.9h0M582 441.2h0M590.6 441.7h0M610 440.7h0M616.9 440.2h0M620.4 441.3h0M628.6 441.3h0M580.8 442.6h0M592.6 442.8h0M599.6 443.2h0M601.7 442.6h0M604.1 443h0M605.4 443.7h0M608.6 442.6h0M610.6 443.5h0M612.9 443.1h0M620.4 443.9h0M625 443.6h0M581.5 445h0M594.4 444.8h0M599.7 445.5h0M604.4 445.8h0M611.6 444.8h0M619.9 445.2h0M624.8 446.1h0M627.2 445.7h0M585.4 448.2h0M586.3 448.1h0M600.9 447.9h0M607.8 447.3h0M609.9 447.2h0M621.7 447.4h0M623.3 447.6h0M626.5 447.9h0" stroke="#ffffff" stroke-width="1.5" stroke-linecap="round"/>
<path d="M582.5 399.3h0M591.4 398.8h0M595.5 399.2h0M598.3 398.8h0M623.1 400.1h0M578.9 402h0M586.1 402.4h0M606.2 402.2h0M608.6 401.5h0M613.8 401.9h0M615.6 402.6h0M620.3 401.5h0M626.8 401.2h0M578.8 403.8h0M590.9 403.7h0M593 404.7h0M594.3 404.6h0M599 404.7h0M604.6 404h0M608.2 404.7h0M620 404.4h0M622.3 403.9h0M624.2 403.3h0M591.5 406.1h0M598.5 406.6h0M603.3 406h0M612.9 406.4h0M617.7 405.8h0M622.3 406.3h0M587.6 409.1h0M594 409.4h0M598.9 408.6h0M600.6 409.1h0M609.9 408.9h0M615.5 409.2h0M624.3 408.8h0M579.9 411h0M588 411.1h0M589.5 410.4h0M598.3 410.7h0M603.9 410.2h0M605.8 410.7h0M614.9 410.6h0M626.2 411.8h0M579.9 414.1h0M583.4 412.7h0M598 412.6h0M600.7 413h0M614.3 412.8h0M616.9 413h0M617.9 413.7h0M620.9 412.9h0M625.5 412.7h0M630 414.1h0M580.8 415.9h0M593.5 415.3h0M597.9 415.1h0M601.4 415.6h0M603.1 414.9h0M606 415.6h0M617.2 415.9h0M621.2 414.9h0M625.2 415.7h0M578.4 418.4h0M581.3 417.9h0M582.7 418.6h0M589.9 418.6h0M596.5 418.7h0M620.4 418.5h0M623.2 417.8h0M626.9 418.5h0M582.3 420.1h0M586.3 420.4h0M590.9 420.4h0M593.9 421h0M596.4 420.9h0M602.2 420.9h0M611 420.9h0M586 423h0M590.4 422.6h0M597.6 422.8h0M604.9 421.7h0M607.3 422.4h0M611.2 423.2h0M620.1 423.2h0M622.5 422.5h0M626.8 422h0M629.4 423.2h0M583.2 424.6h0M588.8 424.2h0M597.1 424.6h0M604.8 424.8h0M612.1 425.4h0M620.5 425.1h0M626.9 424.9h0M629.4 424.2h0M590.7 427.2h0M592.7 427.1h0M600.3 427.7h0M606.8 427.9h0M608.6 427h0M616.4 426.9h0M623.7 427.6h0M626.1 426.6h0M630.1 427.7h0M582.8 428.8h0M591.8 429.8h0M602.4 430h0M607.1 428.7h0M613.8 429.7h0M616.1 429h0M618.8 429.5h0M621 429.7h0M585.1 431.6h0M591.6 432.3h0M595.7 431.6h0M606.8 431.9h0M616.5 432.1h0M586.6 434.3h0M587.4 433.2h0M590.5 433.4h0M593 434.4h0M600.1 434.1h0M601.2 433.3h0M616.6 434.3h0M625.3 433.3h0M626.7 434.6h0M581.5 437h0M583.9 437.1h0M598.5 436.9h0M605.1 437h0M623.9 436.9h0M585.2 439.1h0M587.6 438.3h0M596.5 438h0M598.8 439.4h0M601 439.2h0M603.7 437.9h0M606.3 439.4h0M612.7 439.3h0M615 439.1h0M627.5 438.5h0M589.6 440.1h0M602.5 440.8h0M604.5 440.9h0M614.5 440.2h0M619 441.7h0M589.9 444h0M594.1 443.8h0M617.3 443h0M626.5 443h0M579.2 445.2h0M597.4 446.3h0M606.3 444.9h0M609.4 446h0M613.9 446.2h0M629.8 445.9h0M593.2 448.1h0M598.2 447.2h0M603 447.5h0M612.9 448.4h0M614.4 447.6h0M627.7 447.3h0" stroke="#ffffff" stroke-width="1.8" stroke-linecap="round"/>
<path d="M588.3 400.2h0M600.6 400.1h0M611.7 400.1h0M613.9 399.1h0M618.3 400.3h0M622 399.4h0M626.3 399.8h0M630 399.1h0M581.7 401.8h0M588.2 401.9h0M595.9 402.3h0M600.5 402.3h0M580.7 403.3h0M582.9 404h0M588 403.4h0M596.9 403.5h0M601.6 404.5h0M607 403.4h0M610.7 403.6h0M617.5 403.4h0M579.9 406.6h0M589.2 406.6h0M601.4 406h0M606.1 407.1h0M610.5 406.7h0M614.1 405.7h0M619.1 406.9h0M623.5 407h0M579.9 408.8h0M583.1 409.5h0M590.3 409h0M591.2 408.7h0M603.2 408.9h0M607.1 409.3h0M619 408.6h0M625.7 409.2h0M628.1 408h0M585.9 411.6h0M592 411.8h0M596.8 410.9h0M607.9 410.3h0M613.2 411.1h0M620.1 410.3h0M624.5 410.7h0M592.9 412.7h0M595.6 413.4h0M606.9 413.4h0M623.4 413.3h0M627.7 413.8h0M581.9 416.2h0M588.4 415h0M595.4 415.4h0M610.5 415.7h0M612.4 415.5h0M614.7 415.6h0M619.9 415.7h0M591.9 418.3h0M594.6 418.1h0M601.3 417.9h0M610.4 417.7h0M624.6 418h0M578.8 420.7h0M600.9 420.5h0M608.9 419.6h0M616.7 419.6h0M621 420.1h0M624 419.6h0M627.3 420.2h0M588.8 421.8h0M615.7 422.7h0M618.9 421.8h0M582.1 425.4h0M590.7 424.4h0M592.8 424h0M595.4 424.7h0M606.9 424.4h0M608.8 424.8h0M615.4 424.5h0M581 427.7h0M583.4 427.3h0M598.6 426.4h0M602.2 427h0M604.5 426.8h0M614.7 427.3h0M618.8 427h0M580.1 430.1h0M584.1 429.5h0M589.9 428.6h0M595.5 429.6h0M605.1 428.9h0M624.4 429.9h0M628 429.1h0M581.7 432h0M589.1 432.1h0M605.2 431.7h0M612.4 431.7h0M621.7 431.5h0M630.3 431.9h0M579.3 434.7h0M595.7 433.7h0M606.7 433.7h0M613.1 434.8h0M618.7 434h0M620.6 434.4h0M630.1 434h0M580.7 436.6h0M587 436.7h0M593.8 436.9h0M601.3 437.1h0M603.1 436h0M608.3 436.2h0M610.6 436.3h0M629 436.5h0M630.2 436.9h0M583.7 437.8h0M590.1 438h0M592.9 438.8h0M594.7 438.7h0M608.7 438.3h0M610.9 437.9h0M617.1 438.6h0M620.3 438.4h0M621.8 438.5h0M629.7 439.2h0M583.6 440.2h0M587.1 441.6h0M593.3 440.7h0M596.5 440.6h0M598.1 441.1h0M601.1 441.3h0M608 441.4h0M611.9 441.5h0M623.9 441.2h0M625.3 440.3h0M630.2 441.2h0M583 443.6h0M585.6 442.7h0M586.9 443h0M597.3 443h0M615.1 443.2h0M621.6 443.5h0M629.5 443.5h0M584.3 445.9h0M585.7 445.4h0M588.9 445.7h0M589.6 445h0M592.5 445.3h0M601.5 445h0M615 445.5h0M617.9 446.3h0M623.1 445.9h0M580.3 448.5h0M582.5 448.3h0M589.4 448.6h0M591.7 447h0M596.2 448.1h0M605.1 447.5h0M616.6 448.2h0M619.6 448.4h0" stroke="#ffffff" stroke-width="1.7" stroke-linecap="round"/>
<path d="M582.6 403.3 C583.4 405.3 585.9 411.1 587.5 415.2 C589.2 419.3 591.7 425.9 592.5 428" fill="none" stroke="#e088e4" stroke-width="2" stroke-linecap="round"/>
<path d="M580.6 412.2 C581.1 413.9 582.7 418.8 583.6 422.1 C584.4 425.4 585.2 430.3 585.6 432" fill="none" stroke="#f4eef8" stroke-width="1.5" stroke-linecap="round"/>
<rect x="579.8" y="444.6" width="6.5" height="1.8" fill="#000"/>
</g>
<clipPath id="cl13"><rect x="628.3" y="397.4" width="50.2" height="49.4"/></clipPath>
<g clip-path="url(#cl13)">
<rect x="628.3" y="397.4" width="50.2" height="49.4" fill="#7f7fcc"/>
<path d="M631.1 401.3h0M637.4 401.2h0M644.7 399.8h0M672.4 400.1h0M681.8 401.8h0M633.4 405.7h0M657.2 405.1h0M675.8 406.6h0M679.4 405.5h0M641.2 410.8h0M649.5 411.1h0M672.9 409.2h0M672 415.4h0M675.8 415.9h0M679.6 415.8h0M641.8 418.8h0M655.2 419h0M658.4 418.3h0M682.9 418.3h0M629.1 422.8h0M639.5 423.8h0M647.4 423.3h0M660.9 424.2h0M674.9 423h0M655.2 428.2h0M659.8 429.1h0M666.2 427.7h0M641.5 433.7h0M684 431.7h0M633.9 436.6h0M650.2 435.9h0M665.9 437.8h0M672.7 436.3h0M651.8 442.6h0M657.9 441.8h0M669 442h0M676.9 441.9h0M634.5 445.8h0M639.5 447.8h0M644.1 445.2h0M657.4 447.4h0M659.4 445.3h0M673 446.6h0M646 451.4h0M654 452h0M657.7 450.6h0M664.6 450.8h0M682.6 452.2h0" stroke="#ffffff" stroke-width="4.8" stroke-linecap="round"/>
<path d="M640.2 402.6h0M661 400.5h0M670 401.6h0M677.6 400h0M628.7 406.5h0M639.5 406.5h0M644.1 406.6h0M666.7 405h0M670.1 406.2h0M630.7 411.3h0M655.9 410.1h0M666.6 410.1h0M682.7 410h0M639.3 416.4h0M643.6 413.7h0M653.6 416h0M657.4 415.5h0M632.7 419.9h0M664.1 420h0M673.7 420.6h0M677.7 418.6h0M632.5 422.3h0M641.6 423.1h0M653 422.4h0M666.3 424.1h0M679.8 423.1h0M629.9 428.2h0M633.7 429.5h0M652.1 427.8h0M670.9 428.7h0M678.4 428.5h0M629.1 431.5h0M633.3 434.3h0M655.9 434.1h0M661.7 432.2h0M668.9 434.1h0M677.9 433.8h0M628.3 437.5h0M638.2 436.1h0M641.7 437.9h0M648.2 438.3h0M659.9 437.2h0M631.2 441.9h0M637.5 440.5h0M664.1 441.2h0M671.4 442.2h0M629.3 447.2h0M645.9 446.7h0M678 447.5h0M630.6 450.4h0M637.2 450.8h0M651.2 450.9h0M678.3 451.9h0" stroke="#ffffff" stroke-width="4" stroke-linecap="round"/>
<path d="M651.7 399.7h0M653.8 401.5h0M663.9 402.5h0M647.5 405.3h0M653.1 406.7h0M659.9 406.7h0M635.8 411.5h0M645 410h0M659.2 408.9h0M663.1 411.1h0M676.5 410.5h0M631.1 414.2h0M635.9 414.1h0M648.5 416h0M661.8 414.3h0M667.1 413.4h0M636.6 417.8h0M647.5 419.9h0M652.3 420.5h0M668.1 420.2h0M654.9 423h0M669.9 423.2h0M637.4 428.8h0M642.5 427.7h0M647.4 428h0M673.5 426.9h0M639.1 433.1h0M647.7 431.6h0M651.3 431.4h0M664.3 432.6h0M675.3 431.7h0M655.2 435.8h0M668.6 436.2h0M680.2 437.6h0M639.8 443h0M646.1 441.9h0M656.3 442.2h0M683 441.6h0M651.8 447h0M665.7 445.5h0M669.6 447.4h0M641.6 451.2h0M667.8 449.4h0M673.6 450.1h0" stroke="#ffffff" stroke-width="4.4" stroke-linecap="round"/>
<path d="M648.4 404.8 C653 400.5 668.5 397.6 673.5 401.4 C678.5 405.1 680.2 421.1 678.5 427 C676.8 433 668.9 436.9 663.4 436.9 C658 436.9 648.4 432.4 645.9 427 C643.4 421.7 643.8 409.1 648.4 404.8Z" fill="#ffffff"/>
<rect x="629.5" y="444.6" width="6.5" height="1.8" fill="#000"/>
</g>
<clipPath id="cl20"><rect x="479.3" y="446.8" width="50.1" height="49.5"/></clipPath>
<g clip-path="url(#cl20)">
<rect x="479.3" y="446.8" width="50.1" height="49.5" fill="#d08ae4"/>
<path d="M481.8 451.3 C486.8 449.9 506.4 448.7 511.9 449.3 C517.3 449.9 519.4 453.4 514.4 454.7 C509.4 456 487.2 457.8 481.8 457.2 C476.4 456.6 476.8 452.6 481.8 451.3Z" fill="#ffffff"/>
<path d="M486.8 461.7 C490.2 460 504.6 459.2 509.4 460.2 C514.1 461.2 518.7 465.9 515.4 467.6 C512 469.2 494.1 471.1 489.3 470.1 C484.6 469.1 483.5 463.3 486.8 461.7Z" fill="#ffffff"/>
<path d="M481.8 472.5 C484.7 471.6 496 470.6 499.3 471.1 C502.7 471.6 504.8 474.5 501.8 475.5 C498.9 476.5 485.1 477.5 481.8 477 C478.5 476.5 478.9 473.5 481.8 472.5Z" fill="#ffffff"/>
<path d="M496.8 476.5 C501 475.3 517.4 474.4 521.9 475 C526.4 475.7 528.1 479.3 523.9 480.5 C519.7 481.6 501.3 482.6 496.8 481.9 C492.3 481.3 492.7 477.7 496.8 476.5Z" fill="#ffffff"/>
<path d="M481.8 484.4 C487.6 482.9 512.6 482.9 519.4 483.9 C526.1 484.9 528.2 488.9 522.4 490.4 C516.5 491.8 491.1 493.8 484.3 492.8 C477.5 491.8 476 485.9 481.8 484.4Z" fill="#ffffff"/>
<ellipse cx="489.3" cy="473.5" rx="4" ry="1.5" fill="#a450c8"/>
<rect x="480.5" y="494.1" width="6.5" height="1.8" fill="#000"/>
</g>
<clipPath id="cl21"><rect x="529.4" y="446.8" width="49.2" height="49.5"/></clipPath>
<g clip-path="url(#cl21)">
<rect x="529.4" y="446.8" width="49.2" height="49.5" fill="#fbfafb"/>
<rect x="529.4" y="470.1" width="49.2" height="26.2" fill="#dddcee"/>
<rect x="529.4" y="469.1" width="49.2" height="2" fill="#e2c8aa"/>
<ellipse cx="555" cy="469.6" rx="4.4" ry="1" fill="#d4a070"/>
<path d="M538.3 477.5L534.3 473M536.2 473.8L534.3 473L534.9 475" fill="none" stroke="#222" stroke-width="0.7"/>
<path d="M563.8 477.5L559.9 473M561.7 473.8L559.9 473L560.4 475" fill="none" stroke="#222" stroke-width="0.7"/>
<rect x="530.6" y="494.1" width="6.5" height="1.8" fill="#000"/>
</g>
<clipPath id="cl22"><rect x="578.6" y="446.8" width="49.7" height="49.5"/></clipPath>
<g clip-path="url(#cl22)">
<rect x="578.6" y="446.8" width="49.7" height="49.5" fill="#b5a2e4"/>
<path d="M580.6 446.9h0M582.7 446.6h0M591.9 448.1h0M596.7 446.9h0M607.2 448h0M615.5 446.5h0M583.9 449.5h0M601.2 450.6h0M621.6 450.7h0M581.4 451.6h0M586.1 452h0M595 453.1h0M601.1 453h0M610.1 453.2h0M617.4 452.8h0M579.3 454.8h0M586.7 454.9h0M591.7 454.5h0M597.2 455.1h0M601.5 454.2h0M604.8 454h0M621.7 454h0M579.1 457.8h0M581.1 458.1h0M584.5 457.2h0M588.9 457.1h0M599.4 456.8h0M609.3 456.7h0M613.5 456.9h0M618.6 457.3h0M620.6 456.9h0M582.4 460.6h0M585.7 460.3h0M588 459.5h0M592.9 459.3h0M595.9 459.1h0M598.1 460.5h0M600.5 459.7h0M602.4 459.6h0M616 459.7h0M625.8 459.1h0M629.7 459.9h0M579.3 461.8h0M586.1 462.9h0M603.4 463.1h0M618.7 463.1h0M621.6 461.8h0M580.5 464.8h0M581.6 464.9h0M585.2 464h0M587.1 464.5h0M593.1 464.5h0M596.8 465.2h0M614.7 464.2h0M626.8 464.6h0M589 466.9h0M605.5 467.5h0M609.1 468h0M611 467.3h0M622.8 467.7h0M627.8 466.6h0M630.7 467.3h0M579.4 469.3h0M589.4 470.4h0M594.6 469.4h0M599 469.8h0M608.9 470.3h0M622.4 469.5h0M627.3 470.6h0M580.6 472h0M584.1 472.4h0M594 471.9h0M601.6 472.2h0M611.6 472.7h0M614.6 472.5h0M615.7 471.5h0M618.8 472.9h0M620.6 472.1h0M623.9 472.8h0M581.5 474.5h0M591.3 475.5h0M595.4 475.4h0M600 474.5h0M604.1 474.6h0M618.7 474.8h0M619.4 477.3h0M578.6 479.4h0M593.1 479.1h0M596.1 480.4h0M599.8 480.1h0M617.2 479h0M583.6 483h0M586 483.1h0M600.8 482.5h0M612.1 482.4h0M615.8 482.5h0M626.1 483h0M584.9 485.6h0M587.3 484.5h0M595.4 484.2h0M598 484.7h0M600.7 484.2h0M612.5 485h0M625.9 485.3h0M583.8 487h0M586.3 487.5h0M589.6 487.3h0M597.9 486.8h0M601.7 487.4h0M603.9 488h0M614.8 486.7h0M617.2 487.2h0M626.9 487.8h0M582.6 490.1h0M589.7 489.3h0M591.8 489.3h0M596.5 489.9h0M602.4 489.4h0M604.6 489.8h0M609 489.6h0M612.3 489.8h0M629.9 490.2h0M581.2 492.4h0M585.6 493.1h0M591 492.1h0M598.6 492.2h0M614.3 492.7h0M627 491.5h0M594.1 495.4h0M600.7 494.9h0M602.6 494.8h0M612.6 495.4h0M622.2 494.1h0M626.5 495.6h0M629.5 494.8h0M582.6 497h0M584.9 497.1h0M594.6 497h0M597.2 497.8h0M607.7 497.9h0M609.4 496.5h0M620.3 497.5h0M623 497.7h0M624.6 498.1h0M628.4 497.4h0" stroke="#ffffff" stroke-width="1.3" stroke-linecap="round"/>
<path d="M584.6 447.8h0M587.8 447.4h0M589.4 447.5h0M595.7 447.9h0M610 448.1h0M617.2 447.2h0M619.6 447.4h0M578.9 449.8h0M581.1 449.3h0M587.2 450.4h0M589.2 449.6h0M604.5 449h0M609.6 449.2h0M617.6 449.8h0M589.8 452h0M591 451.7h0M599.2 452.6h0M611.9 452h0M614.8 452.8h0M618.5 451.5h0M621.3 452.3h0M629.4 452.9h0M582.3 454.7h0M589.2 455h0M593.3 455.2h0M598.8 454.9h0M606.1 455h0M619.1 454.5h0M626.8 454.4h0M590.7 457.5h0M593 457.6h0M615.7 458h0M628.3 458h0M579.6 460.1h0M608.5 460.2h0M612.6 460.6h0M619.6 460.2h0M622.3 460.2h0M580.9 461.6h0M583.9 462h0M588.3 462.8h0M599.3 461.6h0M609.8 462.2h0M623.3 462h0M590.4 464.8h0M595.1 464.9h0M600.1 464.4h0M601.8 465.4h0M604.4 464h0M590.7 466.8h0M592.3 467.2h0M613.7 468.1h0M616 467.9h0M584 470.4h0M587.1 470.6h0M591.5 470.1h0M597.9 470.4h0M602.4 469.9h0M604.3 469.8h0M619.8 470.7h0M624.2 469.2h0M629.6 469.4h0M587 472.2h0M591.3 473.1h0M604 472.5h0M605.7 471.8h0M625.4 472.5h0M628.2 473.1h0M583.1 474.8h0M593 475.2h0M599 475h0M609.9 475.3h0M615.3 474.7h0M620.5 475h0M625.7 475.1h0M628.7 474.3h0M578.5 477.6h0M585.1 476.7h0M589.9 477.1h0M590.9 477h0M593.5 477.4h0M599.9 476.8h0M601.2 476.9h0M604.6 477.2h0M607.1 476.5h0M614.4 476.8h0M616.6 478.1h0M580.8 480.6h0M583.5 480.7h0M588.7 479.2h0M591.7 480.4h0M602.3 479.3h0M611.5 479.6h0M620.7 480.3h0M581 482.3h0M587.4 481.6h0M591.3 482.3h0M598.5 481.6h0M602.6 483h0M610.4 482.3h0M618 481.5h0M620.2 482h0M627.4 482.7h0M630.8 483h0M581 484.3h0M592.5 484.5h0M603.6 485.2h0M608.7 485h0M610.7 485h0M616 485.3h0M618.3 484.3h0M620.1 484.7h0M623.7 484.5h0M630.9 484.7h0M578.8 487.8h0M581.3 487h0M607.4 488h0M608.8 486.7h0M612.5 487.5h0M624.6 487.9h0M587.3 490.1h0M594.8 490.3h0M599.6 489.1h0M607 489.8h0M617 489h0M622.6 489.6h0M626.7 490.4h0M583.4 491.9h0M589.3 492.7h0M595.6 492.2h0M603 491.9h0M609.3 492.3h0M611.9 492.7h0M616.5 492.6h0M619 492.4h0M621.4 492.8h0M629.4 492.5h0M582.8 494h0M604.8 494.1h0M610.7 494.7h0M617.4 494.3h0M620.2 494.5h0M580.7 498h0M588.1 498h0M589.3 498.1h0M592.2 497.2h0M599.3 497.7h0M605.7 497.6h0M614.5 498h0M630 497.1h0" stroke="#ffffff" stroke-width="1.8" stroke-linecap="round"/>
<path d="M600.7 447.7h0M603.1 446.6h0M605.9 447.8h0M611.9 447.2h0M621.9 447.2h0M624.9 447.5h0M626.8 447.7h0M630.8 447.2h0M592 449.1h0M594.1 450.1h0M597.5 449.5h0M599.7 449.6h0M606.3 449.3h0M611.2 450.4h0M614.2 449.8h0M619.3 449.9h0M625.1 449.3h0M626.8 450.5h0M629.9 449.9h0M578.6 452h0M584.2 452.3h0M597.2 451.8h0M604.7 452.4h0M606.5 452.6h0M624.1 452.7h0M626.3 452h0M583.5 455.4h0M609.3 454.7h0M611 455.7h0M613.5 455h0M617 454.2h0M624.5 454.7h0M629.2 454.6h0M585.5 457h0M596.3 456.7h0M600.5 456.7h0M604.6 457h0M605.4 457.6h0M610.9 457.1h0M623.5 458.2h0M627.1 457.5h0M589.9 460h0M604.9 459.9h0M610.7 459.3h0M617.1 459.4h0M627.1 459.4h0M592.4 462.1h0M593.4 462h0M596.8 461.8h0M601.9 461.8h0M606.7 461.8h0M612.1 462.8h0M613.3 463.2h0M616.6 463.2h0M626.5 461.7h0M629.3 462.9h0M608.2 464.4h0M610 465h0M613.1 465.5h0M617.3 464.7h0M619.3 465.1h0M622.4 464.7h0M625 465.1h0M630.6 465.1h0M580.2 466.7h0M582.8 466.8h0M586.6 466.8h0M596.2 467.3h0M598.1 468.1h0M600.9 467.2h0M603.4 466.7h0M617.4 466.8h0M620.4 468.2h0M625.7 468h0M582.5 470h0M607.7 470.2h0M611.8 470.6h0M614.4 470.1h0M616.4 470.3h0M579.5 472.5h0M588.5 472.4h0M596.4 472.1h0M599.3 473h0M608.3 471.8h0M586.6 474.5h0M587.9 474.2h0M604.9 474.9h0M607.7 474.3h0M613.7 475.6h0M622.9 474.3h0M631.5 475.1h0M581.2 476.7h0M586.8 477.6h0M596.4 477.7h0M608.8 477.1h0M612.5 478h0M622.2 477.8h0M623.9 477.3h0M626.5 478h0M629.8 476.9h0M587.2 479.8h0M604 479.4h0M607.1 479.9h0M609 479.2h0M614.2 479h0M618.1 479.5h0M624.5 480.3h0M627 479.9h0M629.1 479.8h0M592.4 482.2h0M595.2 482.1h0M605.6 481.8h0M607.7 483.1h0M622.7 481.9h0M583.7 484.9h0M590.9 484.6h0M605 484.6h0M628.2 484.1h0M592.4 488h0M594.3 486.7h0M599.2 488.1h0M620.3 488.2h0M621.6 487.8h0M629.9 487.8h0M580.3 489.7h0M584.1 490h0M614.6 489.3h0M619.4 489.8h0M625.5 490.1h0M578 492h0M593.8 492.2h0M600.7 492.6h0M606.2 492.9h0M623.8 492.1h0M579.1 495.4h0M584.9 494.3h0M587.1 494.8h0M590.5 495.2h0M593 495h0M598.2 494.1h0M608.2 494.9h0M615 494.1h0M625.2 495.6h0M603.3 497.7h0M612.3 498.1h0M617 497.1h0" stroke="#ffffff" stroke-width="1.6" stroke-linecap="round"/>
<rect x="579.8" y="494.1" width="6.5" height="1.8" fill="#000"/>
</g>
<clipPath id="cl23"><rect x="628.3" y="446.8" width="50.2" height="49.5"/></clipPath>
<g clip-path="url(#cl23)">
<rect x="628.3" y="446.8" width="50.2" height="49.5" fill="#7a68a0"/>
<path d="M643.4 456.7 C647.1 453.4 664.7 457.1 668.5 461.7 C672.2 466.2 669.7 480.6 666 483.9 C662.2 487.2 649.6 486 645.9 481.4 C642.1 476.9 639.6 460 643.4 456.7Z" fill="#8c7088"/>
<path d="M630.4 447.7h0M633.3 447.6h0M641.8 446.2h0M658.3 447.3h0M661.2 446.5h0M666.3 446.9h0M674.2 447.8h0M676.6 446.6h0M640 450.6h0M652 449.9h0M661.7 450.1h0M671.7 449.5h0M673 449.2h0M676.5 449.7h0M631.3 452.5h0M642.3 452.1h0M648 453.5h0M656.9 452.5h0M661.3 452h0M672.3 452.6h0M675.6 452.8h0M630.3 455.2h0M632.4 455.7h0M647.1 455.9h0M665.8 455.8h0M669.8 455h0M672.1 455.8h0M674.3 455.2h0M630.9 458.9h0M642.6 457.9h0M648.8 459h0M654.6 458.5h0M655.9 458h0M662.7 457.3h0M664.9 458.1h0M673.3 457.8h0M629.7 460.2h0M632 460.8h0M638.1 461.2h0M646.7 460.4h0M656 460.4h0M658.9 461.3h0M660.3 461.8h0M670 461h0M673.9 461.4h0M677.2 460.9h0M635.1 463.9h0M638.1 464.1h0M640.5 462.9h0M653.1 462.8h0M657.5 464.7h0M661.2 463.5h0M664.3 463.8h0M672 463.5h0M639 465.8h0M655.4 465.7h0M668.2 466.3h0M678.2 466.2h0M631.6 469.4h0M641.2 470.1h0M653.7 469.8h0M656.9 469.2h0M659.5 469.7h0M666.1 470.3h0M673.2 470.1h0M630.8 472.6h0M636.2 472.8h0M646.2 472.1h0M655.9 471.6h0M660.9 472.2h0M663.3 472h0M666.9 472.4h0M671.6 472.3h0M677.3 471.8h0M631.5 474.6h0M637.8 475.8h0M659.5 475.4h0M663.5 474.2h0M673.2 475.8h0M676.7 475.9h0M635.6 477.5h0M651.1 478.5h0M653.3 477.9h0M655.4 477.8h0M658.4 478.7h0M667.2 477.8h0M673.6 477.4h0M675.2 478.2h0M628.6 480.7h0M634.4 480.8h0M645.1 480.1h0M653.8 480.4h0M657 480.8h0M671.3 479.7h0M639.5 483.8h0M642.7 483.8h0M644.9 483.3h0M666.8 484.2h0M674.7 482.6h0M639.6 485.2h0M659.4 486h0M661.7 485.9h0M631.1 488.8h0M634.4 489.8h0M639.9 489.6h0M654.7 489.8h0M658.7 488.6h0M630.3 492h0M649.7 492.6h0M651.7 491.3h0M666.9 490.9h0M674.8 491.8h0M629.7 495.3h0M635.1 494.5h0M641 493.9h0M644.8 495.2h0M649.4 494.8h0M654.7 493.7h0M665 494.5h0M655.7 496.7h0M661.5 497.3h0M663.9 496.5h0M666.1 496.7h0" stroke="#ffffff" stroke-width="1.4" stroke-linecap="round"/>
<path d="M635.7 447.7h0M649.5 447.5h0M652.1 447.7h0M663.3 447h0M672.4 446.4h0M628.3 448.8h0M637.6 449.2h0M646.3 449.8h0M648.7 449.2h0M665.1 449.5h0M668.3 448.9h0M636.5 453.3h0M638.3 452h0M653.1 453.4h0M664.7 453.2h0M667.6 452.7h0M670.7 453.3h0M678.7 453.3h0M680.5 452.9h0M638.2 456h0M653.4 456.2h0M663.1 455.3h0M678.1 455.8h0M681.4 456.2h0M628.5 458h0M634.8 458.1h0M640 457.7h0M667.6 458.7h0M670.1 457.4h0M675.6 457.9h0M678.9 458.1h0M634.8 461.9h0M641.8 461.3h0M650 460.8h0M662.9 460.6h0M667.1 460.9h0M671.3 460.2h0M681.3 461.7h0M629.8 462.9h0M634 462.9h0M643.3 462.9h0M655.2 464.4h0M665.8 463.9h0M668.5 464.1h0M674 463.6h0M681.4 464.6h0M630.2 467.5h0M633 466.1h0M640.9 467.4h0M645.9 466.9h0M651.6 466.8h0M661 466h0M673.8 467.4h0M680.2 465.6h0M635.5 469.9h0M649.4 468.4h0M651.4 470.1h0M662.4 468.6h0M671.5 469.4h0M649 473h0M657.3 471.2h0M680.9 471.4h0M628.2 475.6h0M642.3 474.8h0M649.2 475.8h0M666 474.3h0M669.1 474.3h0M671.9 475.4h0M679 475.5h0M641.5 478.5h0M644.4 478h0M663.6 477.5h0M631.7 479.9h0M639.9 479.6h0M647.7 480.5h0M651.7 479.6h0M658.9 479.6h0M664.7 480.7h0M674.2 480.9h0M675.8 480.8h0M679.5 480.4h0M630.7 483.4h0M650.3 482.4h0M652.5 483.2h0M655.2 484.3h0M658.9 483.6h0M668.9 483.8h0M672.6 484.3h0M681.3 483.5h0M631.9 485.5h0M642.4 486.4h0M652.9 486.5h0M669.8 485.7h0M675.4 485.3h0M678.4 485.9h0M636.8 488.9h0M642.4 489.3h0M646.2 488.9h0M657.4 489h0M664.7 488.9h0M670.7 488.6h0M674.2 488.1h0M675.7 489.9h0M632.1 492.5h0M640.9 491.1h0M647.8 492.4h0M658.8 491.8h0M661.5 492.5h0M671.3 491.6h0M680 492.2h0M633.8 493.9h0M638.7 494.9h0M646.6 494.5h0M653.2 494.9h0M665.8 494.1h0M672.3 493.8h0M678.7 493.9h0M629.5 496.9h0M641.7 496.4h0M653.1 497.2h0M658.3 497.2h0M672.9 496.8h0M679.9 497.4h0" stroke="#ffffff" stroke-width="2" stroke-linecap="round"/>
<path d="M638.6 446.1h0M644 446.7h0M647.1 446.5h0M655.8 446.3h0M669.7 446h0M679.2 447.1h0M632.1 449h0M634.2 449h0M642.9 450h0M654 450.3h0M656.7 450h0M659.1 450.2h0M678.7 450.4h0M634.6 452.1h0M645 453.2h0M649.7 452.6h0M657.9 451.9h0M635.5 456.1h0M641.6 456.3h0M645.2 454.8h0M649.9 454.4h0M655.2 455.4h0M658.7 454.9h0M661.3 455.3h0M637.6 457.6h0M645.2 457.3h0M651.6 458.3h0M659.2 457.3h0M644.2 460.7h0M651.9 461.5h0M647.9 464.1h0M649.2 464.7h0M678.1 464.2h0M635.7 466.8h0M644 467.5h0M650.3 467.1h0M657.1 465.9h0M663.9 466.6h0M667.1 467.5h0M672.2 465.6h0M629.6 469.9h0M638.5 470.1h0M642.9 470.1h0M645.3 470.3h0M667.4 469h0M677 468.6h0M679.2 470.1h0M633.1 472.6h0M639 471.8h0M641.6 471.2h0M645 471.2h0M653 472.1h0M668.6 471.7h0M675.9 472.8h0M635.3 475.5h0M640.8 475.2h0M645.3 474.5h0M650.7 475.3h0M654.2 475.8h0M658 475.9h0M631.6 477h0M633.8 477h0M638.1 477.7h0M647.2 477.3h0M660.9 478.1h0M670.5 477.1h0M678 477.5h0M681.2 478.6h0M637.9 480.5h0M642.2 480.6h0M662.3 480.7h0M668.5 480.9h0M633.7 483.2h0M636.8 482.5h0M648.2 484h0M661.6 482.5h0M665.1 482.7h0M678.8 483.7h0M633.9 487h0M637.6 486.6h0M644.8 485.4h0M648.3 486.3h0M650.4 485.7h0M656.9 486.1h0M664.6 485.4h0M668.3 487.1h0M673.5 485.8h0M628.3 489.3h0M647.6 489.2h0M651 488h0M662.2 488.7h0M667.1 488.4h0M679 488.1h0M636.3 490.8h0M638.1 490.9h0M644.1 491.1h0M656.2 491.7h0M663.3 490.8h0M669.2 491.1h0M677.9 491.3h0M658.5 493.7h0M662 493.8h0M670.5 494.5h0M674.5 493.7h0M680.3 493.9h0M633.6 497.5h0M634.6 496.5h0M638.4 498.3h0M643.1 496.9h0M647.4 496.6h0M649.5 497.1h0M669.8 497.9h0M674.2 498.1h0M677.1 496.4h0" stroke="#ffffff" stroke-width="1.7" stroke-linecap="round"/>
<path d="M670.4 495.7h0M647.3 481.6h0M675.4 451.5h0M658.3 463.7h0M667.9 459.7h0M657.2 491.6h0" stroke="#a88060" stroke-width="1.6" stroke-linecap="round"/>
<path d="M656.4 466.7h0M630.1 495.8h0M646.4 447.7h0M676 484.8h0M647.1 494.7h0M652 456.9h0M635.7 480.5h0M629.2 476.9h0M661.7 461.8h0" stroke="#a88060" stroke-width="2.1" stroke-linecap="round"/>
<path d="M650.7 493.2h0M672.5 452.9h0M678 479.1h0M634.1 462.6h0M654.7 489.9h0M673 476.2h0M662 471.6h0M630.1 448h0M632.1 459.5h0M637.5 454.3h0M631.7 487.4h0M651.3 484.1h0M652.6 483.1h0M658.5 446.8h0M630.5 459.4h0" stroke="#a88060" stroke-width="2.6" stroke-linecap="round"/>
<path d="M628.3 481.4 C629.3 479.1 633.5 480 634.3 482.4 C635.2 484.9 634.3 494 633.3 496.3 C632.3 498.6 629.1 498.8 628.3 496.3 C627.5 493.8 627.3 483.8 628.3 481.4Z" fill="#ffffff"/>
<rect x="629.5" y="494.1" width="6.5" height="1.8" fill="#000"/>
</g>
<line x1="479.3" y1="347.5" x2="479.3" y2="496.3" stroke="#4a4a4a" stroke-width="0.9"/>
<line x1="529.4" y1="347.5" x2="529.4" y2="496.3" stroke="#4a4a4a" stroke-width="0.9"/>
<line x1="578.6" y1="347.5" x2="578.6" y2="496.3" stroke="#4a4a4a" stroke-width="0.9"/>
<line x1="628.3" y1="347.5" x2="628.3" y2="496.3" stroke="#4a4a4a" stroke-width="0.9"/>
<line x1="678.5" y1="347.5" x2="678.5" y2="496.3" stroke="#4a4a4a" stroke-width="0.9"/>
<line x1="479.3" y1="347.5" x2="678.5" y2="347.5" stroke="#4a4a4a" stroke-width="0.9"/>
<line x1="479.3" y1="397.4" x2="678.5" y2="397.4" stroke="#4a4a4a" stroke-width="0.9"/>
<line x1="479.3" y1="446.8" x2="678.5" y2="446.8" stroke="#4a4a4a" stroke-width="0.9"/>
<line x1="479.3" y1="496.3" x2="678.5" y2="496.3" stroke="#4a4a4a" stroke-width="0.9"/>
<text x="474.24" y="372.45" font-size="9" text-anchor="middle" fill="#000" transform="rotate(-90 474.24 372.45)">Vehicle</text>
<line x1="476.5" y1="350.5" x2="476.5" y2="392.9" stroke="#000" stroke-width="1.3"/>
<text x="474.24" y="422.1" font-size="9" text-anchor="middle" fill="#000" transform="rotate(-90 474.24 422.1)">ETV</text>
<line x1="476.5" y1="400.4" x2="476.5" y2="442.3" stroke="#000" stroke-width="1.3"/>
<text x="474.24" y="471.55" font-size="9" text-anchor="middle" fill="#000" transform="rotate(-90 474.24 471.55)">NTV</text>
<line x1="476.5" y1="449.8" x2="476.5" y2="491.8" stroke="#000" stroke-width="1.3"/>
<text x="457.6" y="516.8" font-size="9.2" text-anchor="start" font-weight="bold" fill="#000">m</text>
<clipPath id="cm00"><rect x="479.3" y="517.5" width="50.1" height="49.1"/></clipPath>
<g clip-path="url(#cm00)">
<rect x="479.3" y="517.5" width="50.1" height="49.1" fill="#fdf8fd"/>
<path d="M479.3 517.5 C480.1 509.3 483.1 515 484.3 517.5 C485.5 520 486.1 527.3 486.3 532.2 C486.5 537.1 485.6 541.2 485.3 547 C485 552.7 485.3 563.3 484.3 566.6 C483.3 569.9 480.1 574.8 479.3 566.6 C478.5 558.4 478.5 525.7 479.3 517.5Z" fill="#e094e4"/>
<path d="M480.8 519 C482.9 517.6 492.4 517.7 494.3 519 C496.3 520.2 494.4 524.9 492.3 526.3 C490.2 527.7 483.7 528.5 481.8 527.3 C479.9 526.1 478.7 520.4 480.8 519Z" fill="#f6e6f6"/>
<path d="M485.3 527.3 C486 525.9 490.7 525.4 494.3 524.4 C497.9 523.4 502.7 522.2 506.9 521.4 C511 520.6 515.9 519.7 519.4 519.5 C522.9 519.2 526.9 519.1 527.9 520 C528.9 520.9 527.6 523.6 525.4 524.9 C523.1 526.2 518.3 526.8 514.4 527.8 C510.4 528.8 505.9 529.9 501.8 530.8 C497.8 531.6 493.1 533.3 490.3 532.7 C487.6 532.1 484.6 528.7 485.3 527.3Z" fill="#aa6ad8"/>
<path d="M486.3 533.7 C489.5 532.4 500.8 532.4 504.4 534.2 C507.9 536 507.8 542.1 507.4 544.5 C506.9 546.9 504.9 547.9 501.8 548.4 C498.8 549 492.1 549 489.3 547.9 C486.6 546.9 485.8 544.4 485.3 542 C484.8 539.7 483.1 535 486.3 533.7Z" fill="#e6a0e2"/>
<ellipse cx="488.3" cy="541.1" rx="2.5" ry="2.9" fill="#ffffff"/>
<path d="M504.4 539.1 C505.5 537.4 511.6 536.5 514.4 536.6 C517.1 536.8 520.2 538.5 520.9 540.1 C521.6 541.6 520.6 544.8 518.4 546 C516.1 547.1 509.7 548.1 507.4 547 C505 545.8 503.2 540.8 504.4 539.1Z" fill="#8656c6"/>
<path d="M484.3 546 C486.4 546.5 492.7 548.3 496.8 548.9 C501 549.6 504.4 550.6 509.4 549.9 C514.4 549.3 524 545.8 526.9 545" fill="none" stroke="#a462d2" stroke-width="3.5" stroke-linecap="round"/>
<path d="M504.4 551.9 C505.9 550.3 510.5 550.6 514.4 549.9 C518.2 549.3 525.6 547 527.4 547.9 C529.2 548.9 527.1 553.3 525.4 555.8 C523.6 558.3 519.5 561 516.9 562.7 C514.2 564.3 511.3 566.2 509.4 565.6 C507.4 565 506.2 561.5 505.4 559.2 C504.5 556.9 502.8 553.4 504.4 551.9Z" fill="#a664d4"/>
<path d="M483.3 556.8 C485.1 557.4 490.8 559.7 494.3 560.7 C497.8 561.7 502.7 562.3 504.4 562.7" fill="none" stroke="#c880dc" stroke-width="2.5" stroke-linecap="round"/>
<rect x="479.3" y="564.6" width="50.1" height="2" fill="#d090e0"/>
<rect x="480.5" y="564.4" width="6.5" height="1.8" fill="#000"/>
</g>
<clipPath id="cm01"><rect x="529.4" y="517.5" width="49.2" height="49.1"/></clipPath>
<g clip-path="url(#cm01)">
<rect x="529.4" y="517.5" width="49.2" height="49.1" fill="#d4d0e4"/>
<rect x="529.4" y="527.3" width="49.2" height="12.8" fill="#dcc6b4"/>
<path d="M544.8 538.9h0M571.9 545.4h0M546.5 544h0M576.8 542.8h0M578.3 537h0M575.7 543.8h0M541.9 546h0M551.9 537.3h0M561.1 528.6h0M537.6 540.5h0M537.9 532.4h0M530.6 528.9h0M544.9 529.8h0M565.7 542.9h0M537.5 543.1h0M557.9 537h0M546 542.7h0M535.1 532.1h0M555 538.5h0M564.7 538.6h0M553 526.4h0M573.9 540h0M561.4 548.5h0M563.9 543.1h0" stroke="#d0aa88" stroke-width="0.9" stroke-linecap="round"/>
<path d="M553.1 536.1h0M552 538.8h0M559 528.2h0M549.4 529.1h0M578.1 530.4h0M571.4 538.3h0M540.6 546.3h0M559 548.4h0M545.3 544.7h0M554.6 529.6h0M554.9 528.8h0M552.7 531.2h0M554.9 546h0M532.3 527.3h0M560.6 532.2h0M549.1 533.2h0M564.8 541.2h0M532.9 529.7h0M533.9 541h0M564.6 537.3h0M558.1 544.3h0M541.1 528.2h0M539.8 527.8h0M572 538.2h0M561.9 526.3h0M546.4 539.6h0M557.3 545.1h0M557.4 547h0M570.5 531.1h0" stroke="#d0aa88" stroke-width="1.5" stroke-linecap="round"/>
<path d="M568.9 544.6h0M544.9 542.9h0M553.4 540.1h0M532.9 536.6h0M568.9 534.1h0M536.1 536.5h0M563 533h0M555.9 533.2h0M573 544.1h0M564.3 536.5h0M540.7 540.9h0M534.1 531.6h0M558.4 537.8h0M572.1 548.9h0M531.2 532.1h0M531.1 543.2h0M578.4 530h0M574.9 530h0M536.2 529.5h0M534.3 543.4h0M543.5 531h0M555.3 526.9h0M539.7 542.3h0M557.4 541.9h0M563.1 548.6h0M548.4 546.6h0M566.1 536.5h0M540.9 541.4h0M559.7 531.8h0M566.1 533.3h0M563.6 541.5h0M532 538.1h0M575 546.2h0M572.4 536.1h0M552.2 527.1h0M564.3 543.4h0M574.5 527.3h0" stroke="#d0aa88" stroke-width="1.2" stroke-linecap="round"/>
<rect x="529.4" y="549.4" width="49.2" height="3.4" fill="#f4f0ec"/>
<rect x="529.4" y="552.9" width="49.2" height="6.9" fill="#cfa882"/>
<ellipse cx="549.1" cy="555.8" rx="12.8" ry="2.5" fill="#c08a58"/>
<rect x="529.4" y="559.7" width="49.2" height="6.9" fill="#d0cce0"/>
<ellipse cx="538.3" cy="526.3" rx="2.2" ry="2.2" fill="#bb8452"/>
<path d="M547.1 528.3L543.2 524.4M545.1 525L543.2 524.4L543.8 526.3" fill="none" stroke="#222" stroke-width="0.7"/>
<path d="M571.7 564.6L568.8 560.7M570.5 561.6L568.8 560.7L569.1 562.7" fill="none" stroke="#222" stroke-width="0.7"/>
<rect x="530.6" y="564.4" width="6.5" height="1.8" fill="#000"/>
</g>
<clipPath id="cm02"><rect x="578.6" y="517.5" width="49.7" height="49.1"/></clipPath>
<g clip-path="url(#cm02)">
<rect x="578.6" y="517.5" width="49.7" height="49.1" fill="#d0b6ec"/>
<path d="M580.7 519.4h0M584.7 519h0M589.2 519.2h0M598.8 518.8h0M602 518.6h0M604.4 518.8h0M622.7 518.9h0M630.8 518.6h0M578.5 521.2h0M585.5 521.2h0M605 522.1h0M607.8 521h0M616.5 522.1h0M624.8 521.3h0M581.4 523.4h0M589.1 523.8h0M610.4 523.6h0M617.3 524.5h0M620 523.8h0M622.4 523.2h0M578.2 526.3h0M583.5 525.7h0M593.2 526.8h0M596.3 525.4h0M602.3 525.7h0M607.3 525.3h0M610.5 526.1h0M624.6 525.2h0M626.4 526h0M583.1 528.5h0M589 529h0M597.6 528.3h0M615.3 528.3h0M618.2 529.3h0M623.6 528h0M628.1 527.6h0M629.9 528.7h0M579 531.1h0M590.8 530.6h0M598.1 530.9h0M624.2 531.1h0M626.5 530.2h0M587.9 533.3h0M600.5 533.3h0M612 534h0M629 532.7h0M607.1 535.2h0M616.7 535.5h0M618.7 535.3h0M621.5 535.9h0M623.7 536.2h0M625.6 534.9h0M584.8 538.4h0M588.1 537.5h0M592.8 538.6h0M601.6 537.6h0M604.6 537.6h0M609.2 537.9h0M614.9 538.1h0M618.6 537.6h0M593.9 539.7h0M596 540.5h0M599.3 540.4h0M600.9 540.4h0M608.1 540.5h0M630.7 540.2h0M589.8 542.3h0M591.7 543.6h0M596.5 543.5h0M601.6 542.4h0M623.8 542.7h0M625.5 543.6h0M579.8 544.6h0M587.8 544.5h0M594.8 545.9h0M599 544.4h0M602.8 545.4h0M611.9 545.6h0M614.1 545.1h0M618.8 545.9h0M624.4 544.9h0M628.5 545.4h0M583.6 547h0M586.3 547.1h0M591.2 548.3h0M596.3 547h0M601.6 547.5h0M606.1 547.8h0M608.3 547h0M619.4 547.9h0M625.6 547.5h0M627.8 547.5h0M578.8 550.7h0M589.6 550.3h0M592 550.6h0M596.4 550.6h0M600.7 549.4h0M603.4 550.5h0M605.3 550.1h0M613.4 550.3h0M620.8 550.4h0M624.2 550.4h0M583.4 553.1h0M587.1 552.3h0M597.5 552.1h0M607.7 552.7h0M611.1 551.9h0M616.4 551.8h0M619.6 551.6h0M581.9 554.3h0M583.9 554.3h0M587.3 554.4h0M589.5 555.1h0M590.8 554.6h0M598.5 554.3h0M609.1 554.5h0M613.3 554.1h0M628.3 555.5h0M586.4 557.7h0M589.8 557h0M591.3 556.6h0M594.2 556.8h0M606.2 557.7h0M611.1 557.6h0M615.3 556.6h0M617.6 557.7h0M627.1 557h0M629.9 558h0M580.7 559.9h0M584.1 559.3h0M595.2 559.9h0M617.7 560.4h0M618.7 559.2h0M585.6 561.8h0M588.8 562.2h0M590.8 562.4h0M595.8 561.9h0M597.5 561.3h0M600.3 562.3h0M612.1 562h0M615.8 562.5h0M619.5 562.8h0M630.2 562.5h0M607.8 564.2h0M611.6 564.8h0M621.7 564.6h0M627.1 564.8h0M590.7 567.1h0M592.9 567.2h0M596.7 567h0M602.5 566.3h0M607.1 566.3h0M610 567.6h0M611 567.4h0M621.7 566.8h0M628.8 567.5h0" stroke="#ffffff" stroke-width="1.6" stroke-linecap="round"/>
<path d="M582.3 519.6h0M586.5 519.6h0M597 519.4h0M606.4 518.9h0M609.2 518.7h0M611.1 518.9h0M618.5 519h0M620.4 518.8h0M625.5 519.4h0M590.6 521.3h0M602.9 520.7h0M619.5 521.2h0M626.2 521.2h0M579.5 523.7h0M583.6 524.2h0M595.6 524.2h0M602.3 522.9h0M604.7 523.6h0M608 523.3h0M611.7 523.7h0M615.5 524.1h0M626.2 523.2h0M629.9 524.2h0M586.3 526.2h0M590.5 525.2h0M599.7 526.7h0M614.7 526.3h0M618.8 525.9h0M621.3 525.7h0M629 526.2h0M580.4 529.1h0M585.1 528.2h0M587.5 527.6h0M611.3 528h0M614 528h0M581.3 531.7h0M584.4 530.3h0M600.4 530.7h0M602.8 530.2h0M612.2 530.2h0M615 531.3h0M617.5 531.2h0M619.4 531.3h0M623.3 531.6h0M629.2 530.5h0M581.2 533.6h0M583.6 533.4h0M601.7 532.6h0M609.6 533.8h0M614.6 532.9h0M619 533.5h0M626.1 533h0M579.4 536.1h0M582 536h0M585.5 535.3h0M587 536.2h0M593.9 535.7h0M596.4 536h0M603.7 536.2h0M609 535h0M628.2 535.1h0M631.1 536.1h0M596.9 538.4h0M622 537.4h0M629.5 538.1h0M584.5 540.7h0M606.8 540.1h0M611.8 540.6h0M621.3 539.8h0M623.5 541.1h0M627.9 540.1h0M580.2 543.3h0M582.5 542.9h0M604.5 542.6h0M606.8 542.4h0M609.4 542.8h0M611.3 542.5h0M614.6 543h0M616 543.5h0M621.8 542.9h0M593.1 544.5h0M597.3 544.9h0M604.1 545.6h0M606.3 545.3h0M620.6 545.3h0M589.5 547.3h0M598.5 547.3h0M602.8 547.8h0M613.2 547.1h0M614.5 546.9h0M622.5 547.9h0M629.7 548.1h0M584.7 550.2h0M608.5 550.7h0M610.3 549.9h0M615.1 549.2h0M617.9 550h0M621.8 549.4h0M627.2 550.6h0M629.8 550.9h0M610 553h0M614.9 552.5h0M627.8 552.2h0M579.3 554.1h0M593.2 554.1h0M600.5 554.7h0M604.4 555.2h0M610.2 554.9h0M617.5 555.2h0M620.4 554.2h0M625 554.1h0M630.4 555.6h0M581 557h0M599.2 557.9h0M619.5 557.4h0M622.9 557.1h0M579.4 558.8h0M585.1 558.9h0M588.6 559.3h0M593.6 559h0M598.7 559.1h0M603 558.9h0M604.3 558.9h0M607.9 559.6h0M621.9 560.5h0M624.9 559.3h0M629.8 560.4h0M584 562.9h0M605.5 561.9h0M607.8 561.7h0M610 561.7h0M581.2 565.2h0M582.9 564h0M585 565h0M587.7 565.2h0M593.3 563.7h0M595.7 564.3h0M597.2 564.8h0M600.7 564.5h0M616.7 563.7h0M629.6 563.8h0M582.8 567.6h0M587.8 566.8h0M604.5 567.3h0M615.8 566.6h0M618.4 567.1h0M626.8 566.8h0" stroke="#ffffff" stroke-width="1.8" stroke-linecap="round"/>
<path d="M591.5 518.3h0M593.5 518.1h0M614.1 518.8h0M616.8 518.9h0M628 519.3h0M581.3 520.6h0M582.9 520.7h0M589.1 521.4h0M592.8 521.1h0M595.3 521h0M597.9 521.4h0M599.7 520.4h0M609.8 521.6h0M612.5 521.8h0M614.4 521.2h0M622.8 521.9h0M629.5 521.5h0M585.7 524.3h0M591.1 524.5h0M593.9 524.2h0M598.4 524.3h0M599.8 523h0M623.9 523.8h0M581.3 525.3h0M588.2 526.4h0M598.2 526.6h0M605.7 526.1h0M613.1 526.2h0M617.1 525.9h0M591.6 528.6h0M595 527.7h0M598.7 529.2h0M601.8 528.3h0M603.7 528.4h0M606.3 528.1h0M609.5 527.9h0M621.3 527.7h0M625.4 528.6h0M587.3 530.6h0M589.2 530.3h0M593 530.1h0M595.5 530.7h0M605.6 531.4h0M608.6 531h0M610 531.6h0M585.2 533.7h0M591.1 533.8h0M593 533.8h0M594.5 532.9h0M597.1 532.5h0M605 532.6h0M607.6 533.8h0M616.5 532.6h0M621.2 533.6h0M623.7 534h0M590.1 535.2h0M592.2 535.4h0M599.2 535h0M601.5 536h0M610.9 535.6h0M613.1 536.1h0M580.5 537.6h0M583.1 537.5h0M589.5 538.2h0M596 538.2h0M600.6 538.7h0M607.8 537.3h0M612.7 538.1h0M616.5 538.1h0M623.4 538h0M626.3 538.6h0M580.1 541h0M583.2 540.3h0M587.2 539.6h0M589.3 540.5h0M591.6 540.3h0M604.6 540.6h0M614 539.8h0M615.5 539.9h0M617.6 539.9h0M624.9 540.8h0M584.7 542.2h0M588.5 543.5h0M594.9 543.3h0M600.4 543.2h0M618.8 542.1h0M628.2 542.3h0M582.7 545.4h0M585.4 545.7h0M590.1 544.9h0M609.2 546.1h0M617 545.2h0M626.3 545.8h0M578.7 547.1h0M582 547.2h0M594.2 548.4h0M609.7 548.3h0M618 547.1h0M581 550.1h0M587.4 550.1h0M594.6 550h0M599 549.5h0M581 552.4h0M584.5 553.2h0M590.8 551.6h0M592.1 552.4h0M594.8 551.9h0M600.5 552.2h0M601.9 552.6h0M605 552.2h0M620.6 552h0M622.9 552.1h0M625.5 552.6h0M596.8 554.7h0M606.6 554.2h0M615.1 554.2h0M622.3 554.8h0M579.3 558.1h0M584 556.9h0M596.8 557.9h0M600.3 556.9h0M603.6 556.7h0M607.6 556.6h0M612.2 556.7h0M624.4 556.7h0M590 559.4h0M599.8 560.3h0M609.6 559.7h0M612.3 560.1h0M614.1 559.4h0M626.8 559.1h0M579.3 561.4h0M581.5 562.3h0M593.6 561.5h0M602.7 561.5h0M617.7 561.6h0M623 562h0M624.4 561.9h0M626.4 561.5h0M590.6 563.8h0M601.9 563.8h0M605.3 563.9h0M609.9 564.9h0M615.1 564.3h0M618.9 565.2h0M623.8 565h0M579.6 566.4h0M585 566.4h0M595.5 567.2h0M600.3 566.8h0M613.2 566.5h0M623 567.5h0" stroke="#ffffff" stroke-width="2" stroke-linecap="round"/>
<ellipse cx="617.4" cy="524.4" rx="2" ry="4.9" fill="#ffffff"/>
<rect x="579.8" y="564.4" width="6.5" height="1.8" fill="#000"/>
</g>
<clipPath id="cm03"><rect x="628.3" y="517.5" width="50.2" height="49.1"/></clipPath>
<g clip-path="url(#cm03)">
<rect x="628.3" y="517.5" width="50.2" height="49.1" fill="#c8a49c"/>
<path d="M650.9 559.3h0M666.7 533.9h0M634.4 552.1h0M673.8 548.7h0M678.2 564.7h0M668.1 551.4h0M659.2 526h0M677.9 525.4h0M676.2 560.3h0M635.2 530.9h0M673.5 517.6h0M664.9 536.8h0M657.3 535.3h0M628.5 551.3h0M662.3 558h0M648.8 548.1h0M664.3 552h0M665.3 535.3h0M663.7 552h0M633.8 550.5h0" stroke="#aaa8d6" stroke-width="2.3" stroke-linecap="round"/>
<path d="M677 558.6h0M637.6 526.9h0M630.4 559.3h0M630.4 563.7h0M642.8 551h0M643.3 532.7h0M655.4 524.7h0M647.5 535.8h0M638.7 553.3h0M653.4 548.9h0M673 538.8h0M636.5 556.9h0M677.9 520.9h0M660.4 543.1h0M643 545.1h0M634.8 529.7h0M668.6 539.3h0M672.1 550.3h0" stroke="#aaa8d6" stroke-width="1.8" stroke-linecap="round"/>
<path d="M662.4 565.7h0M673.5 528.6h0M665 538.3h0M647.8 563.3h0M639.4 540.4h0M650 559h0M661.8 527.7h0M635 529.1h0M660.2 536.2h0M639 537.9h0M662.2 560.4h0M658.3 526.2h0" stroke="#aaa8d6" stroke-width="2.8" stroke-linecap="round"/>
<path d="M668.7 546.9h0M673.1 543.3h0M658 537.7h0M642.6 542.8h0M631.2 534.7h0M630.3 520.1h0M638.6 552.9h0M635.9 528.1h0M672.1 557.3h0M634.6 545h0M632.3 532.5h0M646.1 518.8h0M633.4 534.9h0M678.2 563.1h0M645.3 537.8h0" stroke="#c87a48" stroke-width="1.8" stroke-linecap="round"/>
<path d="M656.3 559.1h0M644 535.2h0M631.3 533.5h0M648.2 536.4h0M669.3 564.2h0M672.7 543.7h0M639.8 554h0M633.9 531h0M628.7 520.2h0M633.3 529.5h0M629.6 541.7h0" stroke="#c87a48" stroke-width="2.2" stroke-linecap="round"/>
<path d="M635.3 529.1h0M656.1 547.2h0M644.3 565.6h0M665.9 517.8h0M638.3 549.3h0M659.7 553.5h0M636.6 559.9h0M660.8 535.4h0M643.8 527.3h0M645.9 558.4h0M633.1 557.8h0M632.6 535.3h0M638.5 554.9h0M661.3 540.1h0" stroke="#c87a48" stroke-width="1.4" stroke-linecap="round"/>
<path d="M632.5 517.1h0M641.4 520h0M653.5 520.4h0M636.2 525.8h0M642.1 525.7h0M641.6 534h0M659 536.5h0M645.5 548.3h0M651.3 550.8h0M667.3 550h0M630.9 555.3h0M653.5 556.6h0M670.4 554.5h0M663.5 563.3h0M653.8 571.7h0" stroke="#ffffff" stroke-width="8" stroke-linecap="round"/>
<path d="M646.9 519.9h0M663.6 519.5h0M667.3 521.8h0M663 529.4h0M649.2 533.7h0M665.4 532.4h0M643.7 539.6h0M656.5 540.1h0M637.9 558.1h0M663 556.3h0M637.3 563.5h0M656.9 563.2h0M633.6 570.4h0M648.7 573.4h0M669.3 572.6h0" stroke="#ffffff" stroke-width="7.5" stroke-linecap="round"/>
<path d="M648.8 525.8h0M657.8 526.5h0M632.6 536.3h0M631.4 540.9h0M646.2 543.4h0M662.6 539.2h0M629.4 547.5h0M636.2 547.3h0M660.6 549.8h0M647 556.2h0M632.6 564.1h0M648.3 562.1h0M668.6 561.8h0M638.7 571.2h0M661.4 569.9h0" stroke="#ffffff" stroke-width="7.1" stroke-linecap="round"/>
<path d="M668.8 518.1h0M663.9 524.6h0M670.8 523.1h0M672.3 531.3h0M665.1 538.1h0M683.1 539.5h0M668.3 547.1h0M677.9 548.9h0M670 558.7h0M675.3 559.2h0M679.5 557.7h0M681.4 562.7h0M668.9 569h0M672.7 569.7h0" stroke="#ffffff" stroke-width="4.6" stroke-linecap="round"/>
<path d="M672.1 518.1h0M679.7 518.2h0M674.2 522.7h0M674.7 528.6h0M677.6 529h0M668.1 532.1h0M675.4 533.9h0M680.3 531.7h0M678.2 537.3h0M664.3 542h0M669.2 541.4h0M676.1 542.9h0M682.5 549.1h0M667.9 553.3h0M681.2 551.3h0M663.2 557.7h0M674.2 564.6h0M664.8 568.8h0M680.4 569.6h0" stroke="#ffffff" stroke-width="3.8" stroke-linecap="round"/>
<path d="M683.3 518.8h0M679.4 522.7h0M662.7 529.3h0M669.3 527.9h0M670.2 537.3h0M680.5 544h0M671.7 547.1h0M670.9 552.2h0M675.4 553.8h0M667.5 563.7h0M679.4 561.8h0" stroke="#ffffff" stroke-width="4.2" stroke-linecap="round"/>
<path d="M648.4 541.1L653.4 544.5M651.4 544.2L653.4 544.5L652.4 542.8" fill="none" stroke="#222" stroke-width="0.7"/>
<path d="M649.4 554.3L644.4 557.8M645.4 556L644.4 557.8L646.3 557.5" fill="none" stroke="#222" stroke-width="0.7"/>
<rect x="629.5" y="564.4" width="6.5" height="1.8" fill="#000"/>
</g>
<clipPath id="cm10"><rect x="479.3" y="566.6" width="50.1" height="49.5"/></clipPath>
<g clip-path="url(#cm10)">
<rect x="479.3" y="566.6" width="50.1" height="49.5" fill="#fdfafd"/>
<path d="M521.9 566.6 C522.6 562.5 528.1 562.1 529.4 566.6 C530.7 571.1 530.1 589.7 529.4 593.8 C528.7 598 526.6 595.9 525.4 591.4 C524.1 586.8 521.2 570.7 521.9 566.6Z" fill="#f0d8f4"/>
<path d="M516.9 569.1 C514.4 569 506.4 568.2 501.8 568.6 C497.3 569 492.6 569.4 489.3 571.6 C486.1 573.7 483.6 577.3 482.3 581.5 C481.1 585.6 481.5 591.8 481.8 596.3 C482.1 600.8 482.2 605.7 484.3 608.7 C486.4 611.6 490.2 613.2 494.3 614.1 C498.5 615 506.9 614.1 509.4 614.1" fill="none" stroke="#9c58cc" stroke-width="4" stroke-linecap="round"/>
<path d="M486.8 577.5 C488.1 575.6 490.6 573.5 494.3 572.5 C498.1 571.6 505.9 571.3 509.4 571.6 C512.9 571.8 514.5 572.4 515.4 574 C516.2 575.7 515.8 579.6 514.4 581.5 C513 583.3 510.2 584.6 506.9 585.4 C503.5 586.2 497.7 586.6 494.3 586.4 C491 586.2 488.1 585.4 486.8 583.9 C485.6 582.4 485.6 579.4 486.8 577.5Z" fill="#a060d0"/>
<ellipse cx="499.3" cy="580.5" rx="9" ry="2" fill="#c890e0"/>
<ellipse cx="502.3" cy="575.5" rx="7" ry="1.5" fill="#ffffff"/>
<path d="M490.3 595.3 C491.8 594 495.3 592.2 499.3 591.4 C503.3 590.5 511.4 589.9 514.4 590.4 C517.4 590.8 518 592.3 517.4 593.8 C516.7 595.3 513.8 598.2 510.4 599.3 C506.9 600.3 500.2 600.3 496.8 600.3 C493.5 600.3 491.4 600.1 490.3 599.3 C489.2 598.4 488.8 596.6 490.3 595.3Z" fill="#9c58cc"/>
<ellipse cx="499.3" cy="596.3" rx="5" ry="0.9" fill="#ffffff"/>
<path d="M516.9 569.1 C517.7 571.1 520.5 577.3 521.9 581.5 C523.3 585.6 524.8 591.8 525.4 593.8" fill="none" stroke="#a060d0" stroke-width="1.5" stroke-linecap="round"/>
<path d="M506.9 605.2 C508.1 603.2 513.5 602.9 516.9 602.2 C520.3 601.6 525.6 599.4 527.4 601.2 C529.2 603.1 530.9 611.5 527.9 613.6 C524.9 615.8 512.9 615.5 509.4 614.1 C505.9 612.7 505.6 607.2 506.9 605.2Z" fill="#b070d8"/>
<ellipse cx="517.9" cy="608.2" rx="6.5" ry="2.5" fill="#f8ecf8"/>
<rect x="480.5" y="613.9" width="6.5" height="1.8" fill="#000"/>
</g>
<clipPath id="cm11"><rect x="529.4" y="566.6" width="49.2" height="49.5"/></clipPath>
<g clip-path="url(#cm11)">
<rect x="529.4" y="566.6" width="49.2" height="49.5" fill="#fcfafa"/>
<rect x="529.4" y="585.4" width="49.2" height="8.9" fill="#d8ae86"/>
<ellipse cx="540.2" cy="588.4" rx="10.8" ry="3.5" fill="#c28a56"/>
<rect x="529.4" y="594.3" width="49.2" height="11.9" fill="#dccac2"/>
<rect x="529.4" y="606.2" width="49.2" height="9.9" fill="#d8d0e0"/>
<ellipse cx="559.9" cy="599.3" rx="3.7" ry="3.7" fill="#b07038"/>
<path d="M573.8 615.4h0M571.7 608.5h0M544.5 605.8h0M554.1 605.4h0M562.8 609.7h0M546.4 607.9h0M574.9 606h0" stroke="#d4b498" stroke-width="1.4" stroke-linecap="round"/>
<path d="M535.5 607.2h0M575.4 611.2h0M554.4 609h0" stroke="#d4b498" stroke-width="2.2" stroke-linecap="round"/>
<path d="M563.1 606.7h0M549.9 610.3h0M541.6 609.1h0M578.3 610.4h0" stroke="#d4b498" stroke-width="1.8" stroke-linecap="round"/>
<path d="M570.5 585.1h0M572.8 584.4h0M576.7 582h0" stroke="#c89060" stroke-width="1.7" stroke-linecap="round"/>
<path d="M563.4 584.6h0M555.5 585.2h0M555.7 586.2h0M554.9 585.7h0" stroke="#c89060" stroke-width="1.4" stroke-linecap="round"/>
<path d="M555.6 583.2h0" stroke="#c89060" stroke-width="2" stroke-linecap="round"/>
<path d="M550.1 601.2L546.1 597.3M548 598L546.1 597.3L546.8 599.2" fill="none" stroke="#222" stroke-width="0.7"/>
<rect x="530.6" y="613.9" width="6.5" height="1.8" fill="#000"/>
</g>
<clipPath id="cm12"><rect x="578.6" y="566.6" width="49.7" height="49.5"/></clipPath>
<g clip-path="url(#cm12)">
<rect x="578.6" y="566.6" width="49.7" height="49.5" fill="#c6a6e6"/>
<path d="M579.7 566.3h0M582.8 566.7h0M585 566.9h0M589.8 567.3h0M601.2 567.2h0M605.3 566.4h0M613 566.8h0M617.8 566h0M625.9 566.4h0M578.6 569.4h0M582.2 569.9h0M607.8 569.9h0M617.9 568.6h0M622.9 569.8h0M587 570.9h0M601.3 572.4h0M605.7 570.9h0M614.8 572.2h0M619.7 571.5h0M583.6 573.6h0M591.1 574.3h0M593.9 574.3h0M595.6 574.8h0M612 574.3h0M617.8 574.5h0M622.5 573.7h0M578.5 576.9h0M586.3 576.1h0M594 576.9h0M600 576.9h0M602.8 576.5h0M614.9 576.3h0M624.9 575.9h0M629 577.1h0M581.9 579.2h0M588.2 578.8h0M593 579.1h0M595.5 579.5h0M611.4 579.1h0M615.1 578.6h0M619.5 579.2h0M629.6 579h0M579.6 581.7h0M580.4 580.6h0M586 581.7h0M598.3 581.9h0M599.7 581.7h0M602.9 581.2h0M610.4 581.9h0M624.4 581h0M629.9 581h0M580.1 582.9h0M584.3 584.1h0M586 582.8h0M593.2 583.9h0M597.1 584.2h0M598 584.3h0M606.4 584h0M610.1 583.7h0M612.7 584.1h0M629.5 583.1h0M582.2 586.5h0M583 586.8h0M586.3 586.8h0M596.3 586h0M603.7 586.1h0M606.2 585.3h0M610.8 586.1h0M612.7 586.3h0M620 585.7h0M586.2 588.6h0M591.1 588.6h0M593.3 588.3h0M627.3 589h0M629.1 587.7h0M582.7 590.4h0M586.3 590.7h0M622.7 591.3h0M625.6 591h0M627.3 591.4h0M629.4 590.7h0M583.3 593.5h0M587.8 593.2h0M589.7 593.5h0M595 593.1h0M597.7 593.1h0M600.5 593.4h0M602.9 593.9h0M624.2 592.6h0M628.6 593.8h0M579.8 595.6h0M604.4 595.8h0M606.9 596h0M627.9 596.4h0M629.9 594.9h0M588.5 597.4h0M604.3 597.3h0M610.7 597.7h0M612.6 597.3h0M622.1 598.5h0M629.2 597.6h0M587.9 600.2h0M594.3 601h0M617.3 599.9h0M625.6 599.6h0M578.5 602.8h0M585.4 602.4h0M599.9 602.7h0M604.7 602.3h0M610 603h0M615.1 603.5h0M617.8 602.4h0M584.3 605.3h0M590.3 605.6h0M601.3 605.5h0M606.7 605.6h0M610.9 605.4h0M616.5 605.1h0M618.5 604.6h0M626 604.8h0M627.7 606.1h0M630.7 605.5h0M582.9 607.4h0M586.3 607.2h0M596.7 607.7h0M600.9 608.4h0M603.1 608.1h0M615.2 608.5h0M617.6 608.2h0M620.8 606.9h0M625.4 608.2h0M580 609.6h0M589.1 610.7h0M605.5 609.7h0M619.7 610.4h0M622.7 610.8h0M579.7 612.9h0M585.3 612.1h0M593 612h0M600 613.2h0M602.3 611.9h0M606.1 613.2h0M608.7 612.7h0M611.1 611.8h0M618.6 611.7h0M621.8 611.9h0M629.2 613.2h0M583.4 615.6h0M586.9 614.7h0M588.3 614.5h0M600.6 615.3h0M602.7 615.1h0M606.1 614.4h0M608 614.3h0M610.3 615h0M618.3 615.5h0M621.7 614.5h0M582.9 616.6h0M591.5 617.2h0M594.5 616.8h0M605.4 617.9h0M615.9 616.9h0M621 617.4h0M623.5 617.9h0" stroke="#ffffff" stroke-width="1.5" stroke-linecap="round"/>
<path d="M586.9 566.5h0M594.4 566.2h0M599.3 566.1h0M608.7 566.5h0M611 566.2h0M620.7 567.5h0M622.2 566.7h0M583.3 569.4h0M596.1 569.8h0M600.6 568.7h0M615 569.9h0M624.1 569.7h0M627.3 569h0M580.1 571.8h0M581.4 571.5h0M591.8 571.9h0M596.6 571.9h0M610.7 571.1h0M617.1 570.9h0M627.5 572h0M630.4 572h0M579.8 574h0M597.7 573.2h0M608.2 573.9h0M611 574.3h0M614.9 574.2h0M624.6 573.8h0M630.1 574.3h0M590.3 577.1h0M595 575.8h0M598.6 576.1h0M610.5 575.7h0M618.2 576.3h0M622.3 576.7h0M626.2 576.8h0M579.7 579.3h0M586 579.3h0M590.6 579.1h0M600.4 578.1h0M604.1 578.3h0M605.3 578.9h0M617.1 578.2h0M622.5 578.5h0M625 579.6h0M628.2 578.3h0M584.1 581.9h0M590.1 581h0M596.5 581.7h0M607.2 581h0M622.4 582h0M627.6 581.9h0M589.5 583.3h0M591.3 584.3h0M600.8 583.8h0M602.9 584.4h0M618.2 583.5h0M620.6 584.1h0M623.3 583.5h0M593.2 585.3h0M616.6 585.5h0M621.5 585.2h0M625 585.7h0M584.1 588.5h0M587.9 589.2h0M594.7 588.3h0M597 588.1h0M602.8 587.7h0M606.9 589.1h0M610.5 589.3h0M612.9 588h0M614.9 588.4h0M617.7 588.2h0M621.6 588h0M592.5 590.9h0M597 591.6h0M613.1 591.1h0M581 593.1h0M585.6 592.6h0M593.4 592.7h0M604.8 593.5h0M607.5 592.7h0M614.2 593.1h0M622 593.7h0M625.8 593.3h0M585.1 595.7h0M587.3 595.4h0M589.9 595.2h0M592.6 596.4h0M593.6 596.4h0M595.9 594.8h0M601.3 595.6h0M609 596.4h0M610.6 595.9h0M613.5 595.8h0M623.7 595.3h0M625.2 596.3h0M581.6 598.1h0M584.8 598h0M594.6 597.6h0M601.6 597.9h0M580.9 600.9h0M583.3 599.8h0M584.9 600h0M591.8 601.2h0M597.7 600h0M600 599.9h0M606.8 601.1h0M609.3 599.6h0M611.8 601.3h0M614.4 600.6h0M618.3 601h0M624.3 600.1h0M628.8 601h0M581.7 602.8h0M598.3 602.7h0M603.1 602.7h0M611.7 603.6h0M586.4 605.5h0M594.8 605.3h0M608.2 605.4h0M613.9 606h0M621.4 605.9h0M623 606h0M584.5 608.4h0M589.5 608.3h0M591.8 607.7h0M594.5 607.5h0M605.4 607.1h0M611.3 607.3h0M613.4 607.5h0M629.6 608h0M581.6 610h0M583.3 609.3h0M591.4 609.5h0M593.8 610h0M596.7 609.7h0M598.7 609.8h0M603.2 609.5h0M607.7 609.2h0M612.6 610.1h0M618.1 610.9h0M625 610.6h0M630.4 610.4h0M582.3 612.3h0M594.5 611.9h0M616.6 611.8h0M622.9 613h0M580.1 614.9h0M581.6 614.3h0M592.9 614.4h0M619.3 614.6h0M624 614.9h0M626.8 615.1h0M579.5 617.5h0M589.4 617.4h0M598.6 617.7h0M608.5 617.6h0M610.8 617.6h0M612.6 617h0M624.9 616.5h0" stroke="#ffffff" stroke-width="1.7" stroke-linecap="round"/>
<path d="M591.7 566.2h0M596.7 566.7h0M604.2 566.5h0M615.4 566.1h0M627.1 567.2h0M630.2 567.2h0M587.2 568.5h0M589.3 569.5h0M590.9 569.8h0M593.1 569.8h0M598.3 569.2h0M602.8 570h0M605.5 569.9h0M609.8 568.5h0M613.3 569.2h0M620.3 569.4h0M629.2 569.2h0M584.2 571.4h0M588.3 571.3h0M593.6 572h0M599.4 571.5h0M604.2 571.1h0M607.8 572.1h0M612.5 570.9h0M622.6 572.4h0M624.9 571.6h0M580.9 573.5h0M585.9 573.3h0M589.5 574.2h0M601.5 573.2h0M603.3 574.7h0M605.9 574.7h0M620 574.1h0M627.5 574.2h0M581.4 576h0M583.6 576.4h0M588.1 576.8h0M605.7 575.9h0M607.4 576.8h0M612.5 576.7h0M619.9 575.9h0M585 578.8h0M598.9 578.1h0M607.4 579.5h0M612.9 578.5h0M589 581.8h0M593.6 581.7h0M605.6 580.7h0M611.6 581.4h0M615.2 581.3h0M617.3 581h0M620.5 582h0M581.6 583.2h0M608.3 583h0M616 582.8h0M625.1 583.3h0M628.1 584.4h0M579.5 586.1h0M588.2 586.5h0M590.7 585.4h0M597.5 585.6h0M601.1 585.5h0M607.2 585.5h0M614.8 585.4h0M626.3 585.7h0M629.7 585.9h0M581.4 588.2h0M600.5 587.6h0M605.6 589.1h0M620 587.8h0M624.8 589.2h0M579 590.2h0M585.4 590.5h0M589.6 590.4h0M593.4 590.3h0M598.6 591.1h0M602.1 591.2h0M603.3 591.1h0M606 591.5h0M608.1 590.2h0M611.8 591.6h0M615 591.4h0M617.6 590h0M620.5 590.5h0M609.6 592.9h0M611.4 593.1h0M617.5 593.8h0M619.6 593.8h0M582.8 595.3h0M598.4 596.1h0M616.2 595.7h0M618.3 595.6h0M620.8 596h0M580.4 598.7h0M587.6 598.7h0M591.2 597.3h0M596.5 598.5h0M599 598.2h0M606 597.6h0M607.9 598.4h0M615.5 598h0M617.8 598.2h0M619.9 598.8h0M624.4 597.3h0M626.9 598.3h0M590.2 599.8h0M601.6 600.6h0M605.4 600.4h0M620.8 600.3h0M584.4 603.1h0M587.8 603.5h0M590.4 603.1h0M593.5 602.2h0M595.5 603.6h0M607.6 602h0M620.1 603.4h0M621.4 602.4h0M624.2 602.7h0M627.3 602.9h0M629.5 603.3h0M580.2 604.5h0M582.2 605.3h0M591.9 605.3h0M596.4 606h0M599.5 604.6h0M604.8 605.2h0M580.1 607.3h0M598.9 607.4h0M609.3 607.2h0M622.4 607.1h0M626.9 608.5h0M585.9 609.7h0M600.5 610.1h0M610.8 609.6h0M614.6 610.8h0M627.5 609.4h0M587.7 611.6h0M590.8 611.9h0M597.3 612.8h0M603.8 613.2h0M614.9 612.2h0M626.3 612.1h0M591.7 615.1h0M595.7 614.9h0M598.9 615.7h0M612.6 615.3h0M615.1 614.7h0M629.6 614.1h0M584.6 617h0M586.9 617.5h0M596.6 616.5h0M601.2 617.6h0M603.4 617.1h0M617.9 617.1h0M627.2 617.3h0M629.9 617.9h0" stroke="#ffffff" stroke-width="1.9" stroke-linecap="round"/>
<ellipse cx="582.6" cy="580.5" rx="1.5" ry="4" fill="#ffffff"/>
<rect x="579.8" y="613.9" width="6.5" height="1.8" fill="#000"/>
</g>
<clipPath id="cm13"><rect x="628.3" y="566.6" width="50.2" height="49.5"/></clipPath>
<g clip-path="url(#cm13)">
<rect x="628.3" y="566.6" width="50.2" height="49.5" fill="#c0b0c4"/>
<path d="M662.6 612.5h0M672.1 584.2h0M639.1 604.6h0M644.8 599.9h0M643.4 581.2h0M666.5 586.6h0M675.3 610.8h0" stroke="#c08860" stroke-width="2.3" stroke-linecap="round"/>
<path d="M643.9 590.4h0M633.5 576.7h0M669 599h0M653.3 568.4h0M674.5 584.9h0" stroke="#c08860" stroke-width="1.8" stroke-linecap="round"/>
<path d="M643.8 591.8h0M628.7 610.3h0M646.5 605h0M664.7 586.1h0M635.8 590h0M636.1 578.4h0M644 567.5h0M651.3 593.7h0" stroke="#c08860" stroke-width="2.8" stroke-linecap="round"/>
<path d="M633.2 569h0M635.5 566.8h0M683.8 569.1h0M633.9 573.7h0M654.3 572.3h0M672 571.7h0M676.8 572.9h0M634.6 578.3h0M638.1 576.2h0M662.6 578h0M665.4 578.6h0M648.2 581h0M657.4 583.4h0M666 580.6h0M650.4 586.3h0M654.8 587.8h0M659.1 586.7h0M664.9 592.2h0M675.6 592.1h0M658.8 597.3h0M676 596.8h0M628.2 601.4h0M634.5 602h0M646.3 601.6h0M657.5 600.5h0M666.3 599.1h0M629.9 604.3h0M653.5 605.9h0M673.2 605.6h0M681.5 604.3h0M641.9 609.8h0M658.5 610h0M674.7 608.7h0M678.5 608.7h0M629.8 613.3h0M634.6 613.1h0M649 615.7h0M651.9 613h0M674.5 615.4h0M657.8 620.1h0M670.8 618.2h0M673.7 619.8h0" stroke="#ffffff" stroke-width="4" stroke-linecap="round"/>
<path d="M640.4 569h0M646.9 569.9h0M658.9 567.7h0M665.2 569.5h0M667.4 569.4h0M676.6 568.3h0M644.5 573.6h0M663.8 572.4h0M668.3 574.1h0M682.1 573.2h0M630.5 577.4h0M645.4 577.2h0M658.2 576.6h0M676.7 578.6h0M680.8 578h0M639.2 582.2h0M645.1 581.8h0M662.1 582.6h0M631.7 588.3h0M635.8 585.5h0M677.8 586.1h0M637.6 591.6h0M647.5 592.8h0M652.6 591.9h0M655.3 590.7h0M680.9 592.5h0M629.6 595.9h0M636.5 595h0M640.8 597.4h0M649.1 596.7h0M667.1 597.3h0M671.5 596.4h0M660.3 600.1h0M681.4 600.4h0M635.6 603.9h0M642.6 606h0M635.5 610.2h0M637.3 610.7h0M664.7 610.9h0M656.9 615.2h0M666.6 615.1h0M628.5 619.7h0M637.8 617.6h0M651.4 619h0M667.1 618h0" stroke="#ffffff" stroke-width="4.4" stroke-linecap="round"/>
<path d="M649.2 568.3h0M656 569.1h0M673.2 569.4h0M629.9 572.9h0M640 573.6h0M650 572.1h0M659.2 571.9h0M649.8 578.3h0M652.4 578.6h0M670.3 577.8h0M631.5 582.6h0M636.2 582.6h0M653.7 580.6h0M671.2 581.5h0M676.6 581.2h0M679.7 581.4h0M640.3 587.2h0M645.9 587.8h0M664.9 586.8h0M667 587.7h0M674.5 588.3h0M682.4 585.2h0M629.1 590.8h0M633.1 590.9h0M642.9 592h0M660 591.5h0M669.6 591.3h0M644.9 595.7h0M655.7 596.8h0M661.8 595.4h0M680.4 597.1h0M638 599.2h0M643.3 600.7h0M653.3 599.6h0M670.7 599.3h0M674.1 601.9h0M638.3 605.1h0M649.9 603.6h0M658.6 603.6h0M663 604.5h0M668.5 604.1h0M676 605h0M629.9 609.1h0M647.5 609.5h0M652 610h0M660.3 608.3h0M671.9 609.4h0M640.4 613.6h0M642.5 614h0M663.4 615.6h0M670.2 613.2h0M679 614.9h0M633.7 618.2h0M641.8 618h0M648.9 618h0M661.9 618.8h0M680.9 617.7h0" stroke="#ffffff" stroke-width="3.5" stroke-linecap="round"/>
<path d="M650.9 569.1 C653.4 566.2 673.9 565.8 678.5 569.1 C683.1 572.4 681 586 678.5 588.9 C676 591.8 668 589.7 663.4 586.4 C658.8 583.1 648.4 572 650.9 569.1Z" fill="#ffffff"/>
<path d="M658.4 596.3 C659.7 593.8 666 592.2 668.5 593.8 C671 595.5 674.7 603.7 673.5 606.2 C672.2 608.7 663.4 610.3 660.9 608.7 C658.4 607 657.2 598.8 658.4 596.3Z" fill="#ffffff"/>
<path d="M633.3 580.5L637.3 579.5M635.8 580.7L637.3 579.5L635.4 579.1" fill="none" stroke="#222" stroke-width="0.7"/>
<path d="M657.4 605.2L654.4 608.2M655.1 606.3L654.4 608.2L656.3 607.5" fill="none" stroke="#222" stroke-width="0.7"/>
<rect x="629.5" y="613.9" width="6.5" height="1.8" fill="#000"/>
</g>
<clipPath id="cm20"><rect x="479.3" y="616.1" width="50.1" height="49.1"/></clipPath>
<g clip-path="url(#cm20)">
<rect x="479.3" y="616.1" width="50.1" height="49.1" fill="#fdfafd"/>
<path d="M479.3 616.1 C481.4 615.1 490.2 615.4 491.8 616.1 C493.5 616.8 491.4 619 489.3 620 C487.2 621 481 622.6 479.3 622 C477.6 621.3 477.2 617.1 479.3 616.1Z" fill="#a060d0"/>
<path d="M480.8 626.9 C483.1 626.6 489.6 625.6 494.3 624.9 C499.1 624.3 504.5 623.8 509.4 623 C514.2 622.2 521.1 620.5 523.4 620" fill="none" stroke="#9c58cc" stroke-width="2" stroke-linecap="round"/>
<path d="M484.3 638.2 C485 637.4 487 634.7 488.3 633.3 C489.7 631.9 491.7 630.4 492.3 629.8" fill="none" stroke="#9a56ca" stroke-width="2.5" stroke-linecap="round"/>
<ellipse cx="497.3" cy="635.7" rx="7" ry="3.4" fill="#9a56ca"/>
<ellipse cx="497.3" cy="635.7" rx="3.5" ry="1.5" fill="#c090e0"/>
<path d="M501.8 629.8 C503.3 628 509.8 628.4 514.4 627.9 C519 627.4 526.9 624.6 529.4 626.9 C531.9 629.2 531.9 639.3 529.4 641.6 C526.9 643.9 518.4 641.1 514.4 640.7 C510.4 640.2 507.4 640.5 505.4 638.7 C503.3 636.9 500.3 631.6 501.8 629.8Z" fill="#c482de"/>
<path d="M479.3 644.6 C481.8 644.7 489.3 645.7 494.3 645.6 C499.3 645.4 503.5 644 509.4 643.6 C515.2 643.2 526.1 643.2 529.4 643.1" fill="none" stroke="#9c58cc" stroke-width="2.5" stroke-linecap="round"/>
<path d="M501.8 647.5 C502.7 646.4 507.9 645.9 509.4 646.5 C510.8 647.2 511.2 650.3 510.4 651.5 C509.5 652.6 505.8 654.1 504.4 653.4 C502.9 652.8 501 648.7 501.8 647.5Z" fill="#9a56ca"/>
<path d="M479.3 654.4 C481 654.7 486 655.5 489.3 656.4 C492.7 657.2 497.7 658.8 499.3 659.3" fill="none" stroke="#9c58cc" stroke-width="4.5" stroke-linecap="round"/>
<path d="M494.3 659.3 C496.8 658 503.5 658 509.4 657.3 C515.2 656.7 526.1 654.1 529.4 655.4 C532.7 656.7 535.2 663.6 529.4 665.2 C523.6 666.8 500.2 666.2 494.3 665.2 C488.5 664.2 491.8 660.6 494.3 659.3Z" fill="#d090e0"/>
<ellipse cx="520.4" cy="659.3" rx="6" ry="2" fill="#ffffff"/>
<path d="M479.3 660.3 C481.4 659.6 489.7 660.5 491.8 661.3 C493.9 662.1 493.9 664.5 491.8 665.2 C489.7 665.9 481.4 666 479.3 665.2 C477.2 664.4 477.2 660.9 479.3 660.3Z" fill="#ffffff"/>
<rect x="480.5" y="663" width="6.5" height="1.8" fill="#000"/>
</g>
<clipPath id="cm21"><rect x="529.4" y="616.1" width="49.2" height="49.1"/></clipPath>
<g clip-path="url(#cm21)">
<rect x="529.4" y="616.1" width="49.2" height="49.1" fill="#f8f4f4"/>
<path d="M540.1 628.2h0M552.3 627.8h0M565.7 628.4h0M533.7 617.9h0M557.3 629.2h0M535.1 626.4h0" stroke="#e0c0a8" stroke-width="1.4" stroke-linecap="round"/>
<path d="M559.7 625.2h0M553.8 629.9h0" stroke="#e0c0a8" stroke-width="1.7" stroke-linecap="round"/>
<path d="M534.6 629.5h0M541.5 623.9h0M531.9 620.1h0M532.4 621.6h0M570.4 620.3h0M556 630.9h0" stroke="#e0c0a8" stroke-width="1.1" stroke-linecap="round"/>
<rect x="529.4" y="635.7" width="49.2" height="29.5" fill="#d0d0e4"/>
<rect x="529.4" y="646.5" width="49.2" height="18.7" fill="#dadaeb"/>
<ellipse cx="539.2" cy="636.2" rx="2.5" ry="1.7" fill="#c08850"/>
<path d="M550.1 642.6L546.1 638.7M548 639.3L546.1 638.7L546.8 640.6" fill="none" stroke="#222" stroke-width="0.7"/>
<rect x="530.6" y="663" width="6.5" height="1.8" fill="#000"/>
</g>
<clipPath id="cm22"><rect x="578.6" y="616.1" width="49.7" height="49.1"/></clipPath>
<g clip-path="url(#cm22)">
<rect x="578.6" y="616.1" width="49.7" height="49.1" fill="#dcc6f0"/>
<path d="M579.6 616.8h0M581.8 616.8h0M584.3 617.4h0M591 617.6h0M593.4 616.9h0M610.7 616.7h0M617.3 616.2h0M625.8 617.1h0M627.7 616.9h0M583 619.7h0M595 619.9h0M599.4 619.1h0M602.1 619.8h0M604.6 619h0M608.9 620h0M617.5 619.5h0M624.9 619.6h0M629 619.9h0M582 621.9h0M585.9 621.5h0M597.4 621.6h0M627.8 621.3h0M580.6 624.1h0M583.3 623.8h0M587.7 624.3h0M591.2 623.2h0M594.4 623.9h0M597.3 623.5h0M602.6 623.2h0M607.2 623.5h0M611.2 623.2h0M613.4 624.2h0M619.7 623.2h0M624.6 623.2h0M588.1 626.6h0M593.2 626h0M605.6 626.2h0M607.8 626.3h0M618.8 626.4h0M624 626.6h0M630.7 626.4h0M579.6 628.9h0M583.1 628.6h0M585 629.2h0M592.3 628.1h0M601.6 629.2h0M616.7 629h0M621.1 628.7h0M628.6 629.2h0M579.8 631.2h0M584 630.3h0M601.2 631.3h0M617.2 630.6h0M621 630.1h0M628.3 630.8h0M578.4 632.6h0M597.5 633.7h0M613.2 632.3h0M623.3 632.9h0M624.3 632.8h0M585.5 635h0M592.9 635.6h0M596.1 635.2h0M607.5 635.2h0M618.2 635.4h0M619 635.4h0M626.8 634.9h0M579.8 636.9h0M583.1 637.1h0M592.1 638.2h0M599.5 636.9h0M608.4 637.5h0M618 637.1h0M584.7 640.3h0M591.4 640.5h0M596.3 639.7h0M598 639.9h0M610.9 640.7h0M624 640.5h0M597.2 641.9h0M618.7 642.4h0M630 642.7h0M580.3 644.4h0M588.5 645.3h0M590.2 644h0M596.7 645h0M599.3 645.3h0M604.7 644.6h0M608.6 644.8h0M628.6 644.8h0M581.3 647.4h0M588 646.1h0M606.7 647.2h0M584.8 649.4h0M596.5 648.5h0M598.4 648.7h0M608.1 648.4h0M621.4 649.2h0M626.4 649.8h0M583 651.1h0M589.7 650.7h0M597.2 651h0M599.9 650.7h0M604.4 651.7h0M608.2 651.5h0M618.6 652h0M619.5 651.8h0M622.4 650.7h0M579.5 653.1h0M584.8 653.9h0M586.7 653.3h0M591.1 653h0M594 654h0M599 654.3h0M603.8 654.5h0M617.4 653.5h0M623.4 654h0M581.2 656.1h0M586.9 655.5h0M593.2 656.6h0M595.9 656.1h0M598.4 655.5h0M600.7 655.7h0M605.2 656.2h0M609.4 656h0M615.4 656.4h0M579.6 657.9h0M593.4 658.4h0M602.6 657.8h0M616.7 658.6h0M619.1 658.5h0M622.9 658.2h0M627.8 659h0M630.8 658.4h0M583.1 660.5h0M590.9 661.3h0M595.5 660.6h0M597.4 661.4h0M600 660.4h0M601.3 660.2h0M604.3 660.1h0M606.8 660.2h0M608.2 660.2h0M610.9 661h0M615.5 660.7h0M618.4 659.9h0M626.9 661.1h0M584.4 662.2h0M590.1 662.3h0M604.8 663.4h0M610.5 662.3h0M584.3 665.5h0M587.3 664.5h0M598.9 665.4h0M607.4 665.5h0M613.1 665.5h0M614.4 665.3h0M619.3 665.4h0M625.7 665.5h0" stroke="#ffffff" stroke-width="1.6" stroke-linecap="round"/>
<path d="M587.4 616.7h0M588.7 616.4h0M595.4 617.6h0M598.9 616.5h0M600.6 617.7h0M605.1 616.9h0M612.6 616.4h0M614.5 616.9h0M621.1 617.7h0M624.2 616.3h0M630.7 616.9h0M581.7 619.2h0M587.5 619.4h0M597.7 619.3h0M607.3 619.4h0M616.4 618.6h0M622.7 620h0M627.3 619.6h0M591.8 620.9h0M594.2 621.3h0M595.2 621.4h0M600.2 621.2h0M605.1 621.7h0M607.5 620.9h0M614.2 622.2h0M586.2 624.4h0M604.9 623.8h0M615.7 624h0M618.9 624.2h0M622.5 623.6h0M626.6 623.2h0M584.1 625.8h0M586.5 625.5h0M590.8 626.2h0M600.4 625.7h0M602.7 626.4h0M610.2 625.5h0M611.1 625.7h0M614.4 626.2h0M616.8 626.4h0M620.9 626.7h0M626 626.9h0M589.3 629.3h0M596.1 629h0M604.9 627.7h0M607.3 628h0M623.8 628.1h0M625.9 627.9h0M589.9 631h0M594 630.5h0M596.4 630.6h0M603.1 631h0M584 633.8h0M586.1 633h0M590.7 632.7h0M592 633.7h0M594.5 632.7h0M600.2 632.4h0M601.6 633.2h0M604.9 632.7h0M606.4 633.2h0M617.8 633.1h0M621 632.7h0M629 633.6h0M583.5 635.1h0M593.7 634.7h0M598.8 636.1h0M601 634.7h0M605.8 635.9h0M610.3 635.1h0M622.7 635.5h0M585.9 637.1h0M589.5 637.2h0M606.3 637.4h0M614.4 637.7h0M619.6 637.4h0M622.1 638.4h0M626.7 638.4h0M582.7 640.4h0M587.5 639.9h0M589.9 640.6h0M594 639.7h0M601.2 640.3h0M608.3 640.3h0M612.2 640.4h0M615.4 639.3h0M617.8 640.1h0M618.6 640.1h0M621.4 640.7h0M584.1 642.8h0M585.7 641.7h0M599.6 642.3h0M605.8 642.9h0M611.3 641.5h0M613.6 642.2h0M616.3 641.8h0M620.9 642.4h0M623.4 642.2h0M625.4 642h0M606.5 644.1h0M611.6 645h0M614 645.1h0M617.1 644.8h0M621.8 644.8h0M624.7 644.8h0M589.9 647.4h0M596.8 647.4h0M608.9 646.6h0M611.2 647h0M615.3 647.5h0M617.8 646.9h0M619.8 647h0M622.6 647.3h0M624.6 646.8h0M580.5 649h0M582.4 649.1h0M586.5 649.6h0M592.1 649.2h0M600.6 649h0M609.8 649.2h0M611.6 649.4h0M614.1 649.9h0M618.7 648.8h0M624 648.4h0M627.5 649.1h0M579.1 652.1h0M611.3 652h0M627.1 651.7h0M629.7 651.4h0M588.6 654.3h0M601.4 654.2h0M608.3 653.4h0M610.2 654h0M619.3 653.6h0M621 653.2h0M625.6 653.7h0M578.8 655.4h0M590.6 656.3h0M601.5 655.4h0M606.3 656.5h0M611.6 656.8h0M613.5 656.2h0M627.6 655.5h0M581.7 658.8h0M586.6 658.3h0M588.9 657.6h0M590.9 658.3h0M595.1 658.6h0M597.3 657.6h0M600.7 658.2h0M604.2 658.8h0M621.2 658.7h0M624.9 659h0M578.4 661.4h0M586.5 661.3h0M625 661h0M580.2 662.6h0M582.9 663.6h0M587.5 662.3h0M592.2 662.9h0M596 662.9h0M597.9 663.6h0M607.2 663.2h0M619.1 663.4h0M622.3 662.5h0M624.5 662.8h0M625.7 663.3h0M629.2 663.3h0M582.4 665.2h0M591.9 664.5h0M597.1 664.6h0M600.3 664.8h0M606.2 665.6h0M610 665.3h0M616.7 665.9h0M623.6 665.4h0" stroke="#ffffff" stroke-width="2" stroke-linecap="round"/>
<path d="M602.4 617.4h0M607 616.9h0M618.6 616.8h0M579.2 619.8h0M586.4 618.9h0M590.1 618.7h0M592.8 619.8h0M611.4 619.3h0M613.7 619.8h0M619.7 619.3h0M580 622.1h0M584.2 620.9h0M588.8 622.2h0M601.9 621.8h0M608.8 621h0M611.2 622.3h0M617.3 621.1h0M619.6 621h0M620.8 621.7h0M624.1 622.1h0M625.6 621.5h0M630.2 621.9h0M578.4 623.8h0M592.1 623.5h0M600.2 624.1h0M608.2 624.2h0M629.5 623.4h0M579.2 626.7h0M581.1 625.5h0M595.8 626.5h0M597.3 626.4h0M628.3 626.5h0M586.7 629.1h0M594 628h0M598.5 628.6h0M603.8 628.6h0M609.5 628.3h0M612.2 628.9h0M615.5 627.7h0M619.5 627.7h0M581.8 630.7h0M587 630.4h0M592 630.4h0M598.8 630.2h0M605.6 630.9h0M607.7 630.4h0M609.8 631.2h0M612.8 631.1h0M614.5 631.3h0M619.4 631.2h0M623.4 631.4h0M626.4 630.9h0M581.9 633.4h0M588.7 633.5h0M609.2 632.4h0M611.4 632.3h0M616.5 633.7h0M628 633.1h0M581.1 635.4h0M587.6 636.1h0M590.3 634.6h0M603.9 635h0M613.6 636h0M614.4 636.1h0M624.9 636.2h0M628.3 635.7h0M587 638.2h0M595.1 637.7h0M597.1 637.4h0M601.5 637.2h0M602.9 637.7h0M610.9 638.2h0M613.2 637.5h0M624.9 637.6h0M628.7 637.6h0M580.4 639.3h0M603 639.8h0M605.2 640.6h0M627 640.4h0M628 639.2h0M578.4 642.5h0M581.2 642.2h0M588.8 641.7h0M589.7 642h0M592.5 641.7h0M594.5 641.6h0M602.5 642h0M604.9 642.5h0M608.5 641.9h0M627.9 642.5h0M579.2 645.2h0M583.2 643.9h0M586.1 644.9h0M591.9 644.3h0M594.7 644.2h0M601.1 643.8h0M615 645h0M620.9 645.2h0M626.9 644.9h0M579 646.5h0M583.7 646.9h0M586.3 646.9h0M593.3 646.4h0M594.6 646.1h0M599.5 647.6h0M602.8 647.3h0M604.7 647.3h0M614.2 646.5h0M627.9 646.2h0M630.5 646.5h0M588.8 649h0M594.2 648.6h0M603.7 648.4h0M605.4 648.5h0M617.1 648.8h0M630.4 650h0M580.8 651.2h0M585.2 651.6h0M587.4 651.3h0M593 652h0M594.8 652.1h0M602.2 650.8h0M607.1 651h0M613.3 650.8h0M615.9 652h0M624 651.4h0M582.6 654.2h0M595.4 653.8h0M605.8 654h0M612.9 654.5h0M614.3 653h0M627.7 653.2h0M584.5 656.3h0M589 656.6h0M617.7 656.3h0M620.3 656.1h0M623.3 656.2h0M624.8 655.4h0M629.8 655.8h0M584.6 658.4h0M606.9 658.9h0M609.6 657.7h0M611 658.9h0M613.3 658.8h0M580.8 660.8h0M588.6 660.9h0M592.8 660.3h0M613.3 660.9h0M620.8 659.9h0M623.2 661.1h0M629.9 660.3h0M594.3 663.5h0M600.6 663.1h0M603.6 662.8h0M613 662.3h0M614.3 662.7h0M617.2 662.7h0M579.5 664.7h0M589.3 665.9h0M594.7 664.5h0M602.6 665.5h0M621.9 664.8h0M628.7 664.6h0" stroke="#ffffff" stroke-width="1.8" stroke-linecap="round"/>
<rect x="579.8" y="663" width="6.5" height="1.8" fill="#000"/>
</g>
<clipPath id="cm23"><rect x="628.3" y="616.1" width="50.2" height="49.1"/></clipPath>
<g clip-path="url(#cm23)">
<rect x="628.3" y="616.1" width="50.2" height="49.1" fill="#aca6d4"/>
<path d="M634.8 621h0M640.6 619.4h0M646.9 618.5h0M671 618.2h0M629.3 627.8h0M638.6 628.1h0M665.9 628.1h0M679 627.8h0M682.8 627.1h0M661.5 631h0M671.6 632.8h0M680.5 633.4h0M633.2 638.1h0M645.7 637.7h0M660.7 640.9h0M634.3 646.8h0M639.4 646.2h0M659.4 647.8h0M679.2 646.2h0M632.8 653.7h0M676.5 652.6h0M631.2 658h0M640 658.4h0M665.6 657.9h0M671.5 660.3h0M638.8 667.2h0" stroke="#ffffff" stroke-width="7.8" stroke-linecap="round"/>
<path d="M653.2 621.4h0M651.7 625.3h0M658.5 625.2h0M671.2 628.2h0M645.1 633.8h0M667.6 633.1h0M651.2 639.3h0M668.5 639h0M674.7 638h0M644.6 645.2h0M652.3 646.3h0M666.7 644.1h0M671.2 644.3h0M638.8 653.5h0M647.2 650.4h0M653.9 652.9h0M684.5 653.7h0M648.5 661.2h0M651.3 660.5h0M657.8 661h0M635.2 667.7h0M646.4 664.6h0M654.3 667.4h0M674.8 667.5h0M680.6 666.8h0" stroke="#ffffff" stroke-width="7.3" stroke-linecap="round"/>
<path d="M660.6 619.4h0M665.9 620.2h0M677.4 620.9h0M642.9 628.6h0M635 635.3h0M638.7 634h0M652.1 632.2h0M638.1 640.7h0M679.6 638.1h0M657.1 653.6h0M666.8 652.4h0M669 651.6h0M681.1 659.9h0M661.2 666h0M664.9 664.8h0" stroke="#ffffff" stroke-width="6.8" stroke-linecap="round"/>
<path d="M648.4 618.6 C651.3 615.7 671 614.9 676 618.6 C681 622.2 681.4 637.8 678.5 640.7 C675.6 643.5 663.4 639.4 658.4 635.7 C653.4 632.1 645.5 621.4 648.4 618.6Z" fill="#ffffff"/>
<path d="M656.4 645.6L652.4 641.6M654.3 642.3L652.4 641.6L653.1 643.5" fill="none" stroke="#222" stroke-width="0.7"/>
<rect x="629.5" y="663" width="6.5" height="1.8" fill="#000"/>
</g>
<line x1="479.3" y1="517.5" x2="479.3" y2="665.2" stroke="#4a4a4a" stroke-width="0.9"/>
<line x1="529.4" y1="517.5" x2="529.4" y2="665.2" stroke="#4a4a4a" stroke-width="0.9"/>
<line x1="578.6" y1="517.5" x2="578.6" y2="665.2" stroke="#4a4a4a" stroke-width="0.9"/>
<line x1="628.3" y1="517.5" x2="628.3" y2="665.2" stroke="#4a4a4a" stroke-width="0.9"/>
<line x1="678.5" y1="517.5" x2="678.5" y2="665.2" stroke="#4a4a4a" stroke-width="0.9"/>
<line x1="479.3" y1="517.5" x2="678.5" y2="517.5" stroke="#4a4a4a" stroke-width="0.9"/>
<line x1="479.3" y1="566.6" x2="678.5" y2="566.6" stroke="#4a4a4a" stroke-width="0.9"/>
<line x1="479.3" y1="616.1" x2="678.5" y2="616.1" stroke="#4a4a4a" stroke-width="0.9"/>
<line x1="479.3" y1="665.2" x2="678.5" y2="665.2" stroke="#4a4a4a" stroke-width="0.9"/>
<text x="474.24" y="542.05" font-size="9" text-anchor="middle" fill="#000" transform="rotate(-90 474.24 542.05)">Vehicle</text>
<line x1="476.5" y1="520.5" x2="476.5" y2="562.1" stroke="#000" stroke-width="1.3"/>
<text x="474.24" y="591.35" font-size="9" text-anchor="middle" fill="#000" transform="rotate(-90 474.24 591.35)">ETV</text>
<line x1="476.5" y1="569.6" x2="476.5" y2="611.6" stroke="#000" stroke-width="1.3"/>
<text x="474.24" y="640.65" font-size="9" text-anchor="middle" fill="#000" transform="rotate(-90 474.24 640.65)">NTV</text>
<line x1="476.5" y1="619.1" x2="476.5" y2="660.7" stroke="#000" stroke-width="1.3"/>
<text x="458" y="684.3" font-size="9.2" text-anchor="start" font-weight="bold" fill="#000">n</text>
<clipPath id="cn00"><rect x="479.3" y="684.6" width="50.1" height="49.1"/></clipPath>
<g clip-path="url(#cn00)">
<rect x="479.3" y="684.6" width="50.1" height="49.1" fill="#d08ae4"/>
<path d="M509.4 685.6 C512.5 684.6 526.1 683.3 529.4 684.6 C532.7 685.9 531.1 692.3 529.4 693.4 C527.7 694.6 522.6 692 519.4 691.5 C516.2 691 512 691.5 510.4 690.5 C508.7 689.5 506.2 686.6 509.4 685.6Z" fill="#ffffff"/>
<path d="M483.3 698.3 C485.6 695.4 493.8 695.6 499.3 695.4 C504.9 695.2 513.7 695.6 516.4 697.4 C519 699.2 518.2 703.7 515.4 706.2 C512.5 708.7 504.3 711 499.3 712.1 C494.3 713.2 488 715.4 485.3 713.1 C482.6 710.8 481 701.3 483.3 698.3Z" fill="#ffffff"/>
<path d="M497.3 701.8 C498.7 701.9 502.7 702 505.4 702.3 C508 702.5 512 703.1 513.4 703.3" fill="none" stroke="#9a4cc8" stroke-width="2" stroke-linecap="round"/>
<ellipse cx="518.4" cy="715" rx="3" ry="2.9" fill="#a458cc"/>
<path d="M484.3 722.9 C487.1 721.8 496.8 721.1 501.8 720.9 C506.9 720.8 511.4 722.1 514.4 721.9 C517.3 721.8 518.7 718.8 519.4 720 C520 721.1 521.3 727.5 518.4 728.8 C515.5 730.1 507.4 728 501.8 727.8 C496.3 727.6 488.2 728.6 485.3 727.8 C482.4 727 481.6 724 484.3 722.9Z" fill="#ffffff"/>
<path d="M521.4 699.3 C522.4 697.9 528.1 696.9 529.4 698.3 C530.7 699.8 530.4 706.7 529.4 708.2 C528.4 709.6 524.7 708.7 523.4 707.2 C522.1 705.7 520.4 700.8 521.4 699.3Z" fill="#f0e0f6"/>
<rect x="480.5" y="731.5" width="6.5" height="1.8" fill="#000"/>
</g>
<clipPath id="cn01"><rect x="529.4" y="684.6" width="49.2" height="49.1"/></clipPath>
<g clip-path="url(#cn01)">
<rect x="529.4" y="684.6" width="49.2" height="49.1" fill="#efe8e6"/>
<path d="M562.8 700h0M531.7 684.9h0M547.1 688.3h0M572.4 687.8h0M570 688.7h0M552 692.8h0M532.4 704h0M560.9 699.2h0M566.7 691.7h0M536.1 702.9h0M574.2 685.1h0M574.1 686.5h0M545.6 690.3h0M543.4 698h0M573.7 695.8h0M545.1 701.1h0M577.9 695.5h0M544.6 702.4h0M539.3 696.5h0M542 687.3h0M572.5 686.3h0M575.4 691.1h0" stroke="#d4aa88" stroke-width="0.9" stroke-linecap="round"/>
<path d="M530.9 693.7h0M567.6 698.2h0M575.3 688.6h0M547.3 702.9h0M534 696.3h0M568.4 693.4h0M571.2 685.2h0M552.8 685.1h0M550 699.7h0M529.6 698.5h0M552.2 691.2h0M577 684.9h0M530.1 701.5h0M542.9 690h0M563.5 685.4h0M538 691.2h0M532.3 701.5h0M537.3 692.7h0M573.4 701.1h0M558.1 699.1h0" stroke="#d4aa88" stroke-width="1.5" stroke-linecap="round"/>
<path d="M573.3 692.5h0M568 700.9h0M546.8 696.9h0M537.8 700.7h0M541.2 690.4h0M561.4 703.3h0M571.2 697.8h0M540.3 686.6h0M575.4 688.6h0M543.7 699.7h0M564.3 685.9h0M576.4 693.3h0M537.3 691.8h0M576.7 698.7h0M570.6 684.7h0M565.4 691.5h0M546.3 685.6h0M565.9 695.8h0" stroke="#d4aa88" stroke-width="1.2" stroke-linecap="round"/>
<rect x="529.4" y="707.7" width="49.2" height="13.7" fill="#d8b898"/>
<rect x="529.4" y="721.4" width="49.2" height="12.3" fill="#dcdaec"/>
<ellipse cx="564.8" cy="708.2" rx="7.9" ry="5.9" fill="#c08a58"/>
<rect x="529.4" y="704.7" width="49.2" height="2.9" fill="#fbf8f2"/>
<ellipse cx="564.8" cy="704.2" rx="3.4" ry="2.9" fill="#6a3a18"/>
<path d="M549.1 720L545.6 716M547.5 716.8L545.6 716L546.2 718" fill="none" stroke="#222" stroke-width="0.7"/>
<path d="M573.7 720.9L570.2 717M572.1 717.8L570.2 717L570.8 718.9" fill="none" stroke="#222" stroke-width="0.7"/>
<rect x="530.6" y="731.5" width="6.5" height="1.8" fill="#000"/>
</g>
<clipPath id="cn02"><rect x="578.6" y="684.6" width="49.7" height="49.1"/></clipPath>
<g clip-path="url(#cn02)">
<rect x="578.6" y="684.6" width="49.7" height="49.1" fill="#a892dc"/>
<path d="M579.4 686.1h0M585.5 685.7h0M592.7 685.9h0M602.8 685.8h0M588.6 688.3h0M597.3 690.1h0M584.8 691.4h0M592.1 692.3h0M602.4 692.7h0M586.2 694.5h0M590.1 695.7h0M598.8 695.5h0M581.1 702h0M586.3 700h0M591.9 701.7h0M594.6 700.7h0M601.9 700.5h0M583.3 703.7h0M585 703.4h0M600.9 705.1h0M585.3 707.9h0M589.3 707.2h0M590.9 708.1h0M594.4 707.5h0M580.5 709.6h0M587.1 710.2h0M589.7 711h0M593.7 710.1h0M595.2 710.4h0M583.2 713.4h0M598.1 712.7h0M603.6 713.7h0M590.5 716.1h0M599.9 716h0M588.8 719.5h0M594.4 719h0M600.5 719.6h0M582.1 722.7h0M588.6 722.1h0M590.2 721.3h0M600.3 721.9h0M581.3 725.5h0M589.3 724.5h0M598.9 724.9h0M585.7 727.7h0M588.9 729.1h0M594.3 728.8h0M584.4 730.9h0M586.9 735h0M589.6 733.8h0M592.7 734.5h0M597.7 733.1h0" stroke="#ffffff" stroke-width="1" stroke-linecap="round"/>
<path d="M581.9 686.4h0M587.8 685.6h0M594.7 686.3h0M578.7 689.4h0M581.3 688.8h0M591.9 689.1h0M594.6 690.1h0M599.8 688.5h0M581.5 691.5h0M588.3 691.6h0M595.1 691.6h0M599.5 693h0M584.1 695.5h0M579.8 697.3h0M583.2 697.6h0M593.1 699.1h0M594.2 698.7h0M598 697.7h0M601.3 697.8h0M584.2 701.3h0M597.8 700.8h0M590.6 704.1h0M603.1 703.3h0M578.6 707.6h0M582.2 707.8h0M584.3 709.3h0M591.8 713.2h0M585 715.2h0M592.9 715.8h0M579.2 719.8h0M585.9 719.6h0M598.6 719.7h0M594.9 722.5h0M597.6 722.2h0M603.4 722h0M592.2 725.5h0M602.5 724.9h0M579.2 727.6h0M591.9 727.2h0M597.2 728.3h0M600 727.1h0M604.5 727.4h0M581.3 730.7h0M590 732h0M593.9 730.1h0M599.3 730.3h0M601.5 730.1h0M582.9 734.6h0M600.8 733.3h0" stroke="#ffffff" stroke-width="1.3" stroke-linecap="round"/>
<path d="M597.2 686.1h0M600.9 685.2h0M585.5 688.3h0M603.5 689.9h0M579.2 691.9h0M597.8 693h0M582.2 694.7h0M593.8 694.5h0M596.5 694h0M601.9 695h0M586.9 698.3h0M589.1 697.9h0M588.3 700.5h0M579.5 704.7h0M588.9 703.9h0M595 705.1h0M596.8 703.6h0M596.8 707.8h0M600.4 707h0M604.3 707.4h0M599.2 709.8h0M601.9 710.8h0M579.5 712.9h0M585.9 713.3h0M589.7 713.1h0M595.4 713.7h0M600.1 712.3h0M581.8 715.8h0M586.8 716.7h0M595 716.7h0M602.9 716.6h0M583.3 719.2h0M591.5 718.8h0M579.3 722.2h0M584.5 722.1h0M584.4 725.3h0M587.5 724.3h0M595.3 725h0M582.6 728.1h0M587 731.4h0M596.7 731.6h0M579.5 733.9h0M595 733.7h0" stroke="#ffffff" stroke-width="1.6" stroke-linecap="round"/>
<path d="M599.9 687.4h0M602.3 687.5h0M605.5 686.8h0M610.5 687.3h0M615.7 687.2h0M630.8 687h0M602.9 689.7h0M605.8 690.4h0M608.8 690.3h0M611.1 690h0M621 690.4h0M623.4 689.6h0M598.8 692.9h0M609.3 691.6h0M619.3 691.8h0M626.4 691.2h0M598.2 694.9h0M626.3 694.3h0M603.5 696.3h0M608.8 696.5h0M618.9 697h0M621.3 696.9h0M623.2 697.6h0M629.5 697.1h0M605.4 700.4h0M625.3 700.2h0M628.2 699.2h0M598 702.5h0M601.2 702.3h0M620.6 701.8h0M629.2 702.6h0M601 705.3h0M604.4 704.1h0M609.9 704.5h0M616.3 704.5h0M621.6 707.4h0M625 707.3h0M627 706.9h0M599.4 708.8h0M601.1 709.5h0M606.1 709.6h0M612.3 708.7h0M621.3 710.3h0M600.2 712.3h0M603.6 712.1h0M612.1 711.6h0M614.9 711.7h0M617.9 711.3h0M622.1 712.8h0M625.5 711.6h0M617.3 713.8h0M612.9 717.5h0M621.1 716.4h0M625.4 717.2h0M628.6 717.1h0M602.5 719.1h0M605.8 719.9h0M614.9 719.3h0M620.5 719.7h0M610.8 721.7h0M619.5 722.5h0M623.4 722.7h0M625.8 722.3h0M598 725.1h0M606.3 724.2h0M610.6 724.4h0M615.9 724.8h0M619.2 725.3h0M620.8 725.4h0M629.3 724.4h0M600.4 727.9h0M601.6 726.4h0M627 727.8h0M598.7 730h0M622.1 729.4h0M624.9 729.4h0M599.4 732.9h0M606.4 732.1h0M612.3 731.8h0M613.9 732.8h0M626.6 732.7h0M604.6 734.2h0M607.1 735.3h0M608.7 734.7h0M612.5 733.8h0M617 735.3h0M624.7 734.1h0" stroke="#ffffff" stroke-width="1.6" stroke-linecap="round"/>
<path d="M607.4 687.2h0M613.2 686.9h0M618.6 687.6h0M620 687.2h0M627.6 686.5h0M613.8 689.5h0M618.4 689.9h0M626.1 689h0M628.7 690.1h0M606 691.9h0M614.5 692.5h0M616.1 691.6h0M629.1 692.8h0M603.2 694.6h0M619.1 693.9h0M623.1 695h0M628.6 693.8h0M599.4 697.7h0M601.4 697h0M607.1 697.6h0M611.2 697.7h0M613.8 697.3h0M597.8 700.2h0M600.6 700.3h0M603.7 700.2h0M614.4 698.9h0M616.5 699.7h0M618.8 700h0M604.5 701.8h0M608.8 702.1h0M616.3 701.4h0M618.2 702.3h0M626.5 702h0M611.2 703.9h0M619.8 704.2h0M624.2 703.9h0M627.5 705.4h0M599.4 707.2h0M601.7 706.2h0M610.3 707.2h0M613.1 707.3h0M616.6 706.3h0M603.9 709h0M614.5 709.1h0M616.1 709.9h0M618.5 709.6h0M625.9 710.3h0M629.4 709.6h0M610.7 711.8h0M630.2 711.8h0M602.9 714.1h0M607.4 714.4h0M609.7 715.2h0M623.4 714h0M627.4 714.4h0M629.7 715h0M599.7 717.5h0M604.7 717.9h0M609.9 717.6h0M614.6 717.4h0M617.8 717h0M622.3 716.3h0M601.1 719.7h0M608.3 719.9h0M622.5 720.2h0M625.3 719.4h0M598.7 722.2h0M603.7 722h0M606.7 721.6h0M616.8 721.5h0M620.5 722h0M629 722.9h0M601.5 724.6h0M603.4 724.6h0M614.5 725.1h0M623.3 724.3h0M626.3 723.8h0M605.5 726.7h0M606.9 728h0M610.5 726.9h0M611.9 727.1h0M617.6 726.2h0M620 726.5h0M629.3 727.2h0M602.5 729.3h0M615 729.3h0M619.9 730.4h0M626.3 729.9h0M609.8 731.3h0M616.5 731.8h0M619.7 732.9h0M621.9 731.3h0M630.6 732.5h0M620 734.7h0M622.6 734.1h0M628.5 734.3h0" stroke="#ffffff" stroke-width="1.9" stroke-linecap="round"/>
<path d="M623.7 687.7h0M625 687.4h0M601.1 689.1h0M615.6 689.9h0M631.4 690.1h0M601.5 692.4h0M604.3 691.3h0M612 692h0M622.2 692.3h0M623.6 691.5h0M600.3 694.1h0M606.3 695.2h0M607.9 695.2h0M611.6 695.2h0M613.9 695h0M615.3 695h0M621 695.4h0M616 697.8h0M625.9 697.7h0M609.4 699.5h0M611.1 699.5h0M621.6 699.9h0M624 699.6h0M605.5 701.4h0M611.9 702.2h0M614.3 701.6h0M624.3 701.8h0M599.9 705.3h0M606.5 704.5h0M613.6 704.6h0M621.6 705h0M628.7 704.8h0M605.4 707.5h0M608.2 706.6h0M614.7 707.6h0M619.4 707.3h0M629.9 706.7h0M609.7 709h0M624.2 709.2h0M604.7 711.5h0M607.9 712.4h0M619.8 711.6h0M628.3 711.4h0M601.1 714.5h0M606 715h0M612.8 713.9h0M616.1 714.2h0M620.7 714.9h0M625.1 714h0M602.9 717.3h0M608.1 717.5h0M630.2 716.5h0M611.1 720.4h0M613 719.9h0M617.9 719.1h0M627.4 719.2h0M631.3 720.1h0M602.1 722.2h0M608.8 722.2h0M613.5 721.4h0M608 723.8h0M614.7 726.4h0M622.9 727.3h0M624.7 727.9h0M603.9 728.7h0M606.7 730h0M609.4 729.4h0M612.1 729.1h0M616.4 729.4h0M630.1 730h0M602.6 731.7h0M604.6 732.1h0M624.1 732.3h0M598.8 733.9h0M602.2 734.2h0M614.4 734.3h0M627.3 734.5h0" stroke="#ffffff" stroke-width="1.4" stroke-linecap="round"/>
<ellipse cx="626.3" cy="729.8" rx="2.5" ry="3.4" fill="#ffffff"/>
<rect x="579.8" y="731.5" width="6.5" height="1.8" fill="#000"/>
</g>
<clipPath id="cn03"><rect x="628.3" y="684.6" width="50.2" height="49.1"/></clipPath>
<g clip-path="url(#cn03)">
<rect x="628.3" y="684.6" width="50.2" height="49.1" fill="#5252aa"/>
<path d="M631 686.9h0M632.3 686.5h0M637 687.4h0M640.1 686.8h0M642.8 685.7h0M648.8 686.9h0M659.3 686.2h0M662.6 686.1h0M666.2 686.7h0M668.6 687.8h0M672.1 687h0M675.3 686.4h0M649.3 689.7h0M663.8 689.2h0M679.3 690.2h0M628.2 693.5h0M632 692.4h0M644.2 693.5h0M650.9 693.5h0M674.2 692.8h0M680.5 693.3h0M636.4 696.6h0M642.6 695.5h0M648.3 696.5h0M651.9 695.3h0M669.7 696.3h0M674.5 696.3h0M634.8 698.7h0M644.3 698.9h0M649.2 697.9h0M664.7 698h0M628.5 702.1h0M632.9 702.5h0M646.6 702.4h0M649.1 702h0M668.3 702.1h0M671.4 701.5h0M674.7 702.3h0M654.5 704.2h0M666.8 703.9h0M668.8 704.5h0M672 704.7h0M674.5 703.9h0M651.4 708.8h0M653.9 707.7h0M667 707.8h0M668.6 708.8h0M675.7 708.4h0M630.8 709.8h0M643.1 711.7h0M661 710.4h0M663.5 711.4h0M677.8 711.1h0M633.1 713.4h0M645.4 713.3h0M653.3 713.3h0M657.2 712.9h0M663.4 714.4h0M679.5 713h0M639.9 717.7h0M646.9 716.3h0M653 717.7h0M655.6 716.2h0M667.1 717h0M670.4 716.7h0M631.6 720.3h0M637.4 719.6h0M647.1 718.9h0M669 719.6h0M671.6 718.9h0M632.6 723.4h0M648.8 723.5h0M651.2 723.3h0M673.5 723.8h0M629 725.6h0M631.6 726.1h0M639.1 725.6h0M647.9 725.1h0M650 725.8h0M674.4 726.8h0M678.2 725.4h0M642.4 729.1h0M647.8 729.4h0M654.3 727.8h0M657.5 729.1h0M666.3 728.7h0M672.5 729.7h0M631.9 732h0M643 731h0M664.2 731.8h0M672 731.1h0M631.9 735.7h0M633.7 734.8h0M640.9 734h0M655.3 734.5h0M657.2 733.9h0M666.6 734.4h0M676.9 734.7h0" stroke="#ffffff" stroke-width="1.4" stroke-linecap="round"/>
<path d="M645.7 686.7h0M657.8 685.9h0M678.3 686.7h0M638.8 689.9h0M643.5 690h0M652.6 690.8h0M654.7 690.2h0M659.7 690.5h0M676 690h0M638 692.1h0M641 692.2h0M647 693.1h0M656.2 693.8h0M677.4 692.6h0M639 695.7h0M646.1 695.5h0M654.2 696.1h0M657.4 696.8h0M661.2 696h0M664.2 695.3h0M665.7 696.7h0M671.5 695.5h0M632.1 698.7h0M646.8 698.9h0M653.5 699h0M658.2 699.2h0M674.5 698.4h0M676.3 698.4h0M679.3 698.3h0M637.5 700.8h0M641.7 700.9h0M653.5 701.1h0M655.3 701h0M662.2 701.8h0M664.7 702.2h0M680.9 701.3h0M630.4 704.6h0M636.7 704.1h0M644 703.8h0M647.3 705.8h0M657.3 704.1h0M659.7 704.5h0M680.8 705.8h0M630 708.7h0M634.4 707.8h0M636.2 708.3h0M638.6 707.8h0M642.5 708.3h0M659.5 707.4h0M671.6 708.4h0M635.7 710.3h0M649.1 710.4h0M652.4 711.8h0M658.7 710.1h0M665.7 710.5h0M672.8 710.3h0M676 711h0M647.1 714.4h0M650.7 712.8h0M658.7 713.9h0M665.5 714.1h0M667.4 714.8h0M671.3 714.8h0M628.2 717.5h0M632.2 717.3h0M635.6 716.5h0M644.6 716.6h0M658.4 717.6h0M665.7 717.5h0M674.1 717.2h0M677.7 716.3h0M680.6 717.7h0M635 718.8h0M640.9 718.8h0M643.3 719.2h0M659.2 720.2h0M673.1 720.5h0M642.6 723.6h0M646.2 722.9h0M659.8 722.3h0M664 722.5h0M674.7 723h0M635 725.7h0M657.5 725.1h0M659.2 726.1h0M670.9 726.4h0M635.4 728.9h0M638.4 729.7h0M645.2 728h0M651.3 729.5h0M662.5 729.8h0M670.1 728.6h0M675.2 727.8h0M678.5 728.8h0M680.5 728h0M634 732h0M640.4 731.8h0M646.4 732.3h0M662.1 732h0M667.9 732.1h0M676.9 732.6h0M679.1 731.6h0M635.9 735.2h0M642.9 733.9h0M645.7 734h0M669.5 735.1h0M673.4 735.8h0" stroke="#ffffff" stroke-width="2.1" stroke-linecap="round"/>
<path d="M651.3 687.1h0M655.2 687h0M680.7 686.6h0M630.7 689.6h0M633.4 688.8h0M637.5 690.2h0M645.5 689.7h0M658.2 689.1h0M666.4 690.6h0M668.9 689.1h0M672.2 690.8h0M635.7 693.8h0M652.8 693h0M659.2 692.9h0M662 691.7h0M665.5 692.1h0M668.4 692.1h0M671.2 692.7h0M630.8 696.2h0M633.7 696h0M679.3 696.7h0M680.3 696.2h0M629.7 699.6h0M638.6 698.9h0M640.7 698h0M655.5 698h0M661.4 699h0M667.1 698.6h0M671.4 697.8h0M634.7 700.8h0M644.3 701.1h0M660 702.5h0M676.9 702.2h0M633.6 705.3h0M639.8 705.4h0M642.3 704h0M651.8 705.2h0M661.8 703.9h0M678 705.3h0M646 707.5h0M649 708.1h0M657.4 706.8h0M663.6 707.6h0M679.2 707.5h0M681 708.1h0M633.4 710h0M640.4 710.5h0M646.3 710.1h0M655.5 710.3h0M669.9 710.7h0M629.8 712.9h0M636.2 712.8h0M637.9 714.5h0M642 714.1h0M674.2 714.2h0M677.5 712.8h0M637.9 716.1h0M649.5 716.6h0M662.1 717.6h0M628.9 720.8h0M649.5 719.4h0M653.4 719.8h0M656.1 720.6h0M662.5 720.7h0M664.1 719.1h0M676.1 719.6h0M679.5 719.6h0M630.9 722.7h0M636.1 722.6h0M638.6 723.4h0M654.2 721.8h0M657.1 722.8h0M666.7 722.7h0M669.6 722.6h0M678.1 722.1h0M681.9 722.2h0M640.9 725.1h0M644.7 725.1h0M654.2 725h0M663.3 726.7h0M666 725.1h0M669.6 725.6h0M679.9 725.1h0M629.3 729.7h0M632.9 728.6h0M660.4 728h0M629.5 731.6h0M637.6 730.9h0M649.6 731.1h0M653.5 730.7h0M656.4 731.1h0M660 732.7h0M673.6 732.1h0M649.5 733.9h0M651.2 735.1h0M660.3 734.9h0M662.9 734h0M679.1 735.2h0" stroke="#ffffff" stroke-width="1.7" stroke-linecap="round"/>
<path d="M643.8 699.4h0M643.4 704.9h0M653.3 705.3h0M658.2 709.3h0M651.7 711.7h0M659.9 712.2h0M646.1 719.6h0M650.2 720.8h0M659.2 719.9h0M661.6 721.4h0M647.3 726.1h0M658.1 725.8h0" stroke="#ffffff" stroke-width="3.4" stroke-linecap="round"/>
<path d="M648.9 702h0M665.3 701.3h0M647.7 704.1h0M655.2 705h0M659.3 704.7h0M646.2 709.5h0M646.6 712.6h0M654.3 712.1h0M662.9 712.2h0M667 713h0M650.8 718.2h0M666.3 722.1h0M653.8 725.5h0M666.7 724.7h0" stroke="#ffffff" stroke-width="3" stroke-linecap="round"/>
<path d="M652 700.8h0M658.2 701.1h0M662.4 700.4h0M663 704.7h0M650.6 707.6h0M654.2 708h0M660.7 709.1h0M665.7 708.7h0M645.4 717.5h0M653.4 715.6h0M657.9 717.4h0M661.1 716.8h0M665.8 715.5h0M655.7 720.3h0M651.7 724.9h0M663.7 725.5h0" stroke="#ffffff" stroke-width="2.6" stroke-linecap="round"/>
<path d="M645.9 687.1 C647.5 685.4 656.5 684.4 658.4 685.6 C660.3 686.8 659.1 692.8 657.4 694.4 C655.7 696.1 650.3 696.6 648.4 695.4 C646.5 694.2 644.2 688.7 645.9 687.1Z" fill="#ffffff"/>
<ellipse cx="649.4" cy="693.4" rx="2.5" ry="2" fill="#8a6a70"/>
<path d="M652.4 688.5L648.4 691.5M649.3 689.7L648.4 691.5L650.3 691.1" fill="none" stroke="#222" stroke-width="0.7"/>
<path d="M650.9 712.1L648.4 716M648.6 714L648.4 716L650.1 715" fill="none" stroke="#222" stroke-width="0.7"/>
<rect x="629.5" y="731.5" width="6.5" height="1.8" fill="#000"/>
</g>
<clipPath id="cn10"><rect x="479.3" y="733.7" width="50.1" height="49.4"/></clipPath>
<g clip-path="url(#cn10)">
<rect x="479.3" y="733.7" width="50.1" height="49.4" fill="#d08ae4"/>
<path d="M479.3 733.7 C487.3 731.9 519.4 732.1 527.4 733.7 C535.4 735.3 531.2 741.6 527.4 743.6 C523.6 745.6 512.4 745.4 504.4 745.6 C496.3 745.7 483.5 746.5 479.3 744.6 C475.1 742.6 471.3 735.5 479.3 733.7Z" fill="#ffffff"/>
<path d="M484.3 748.5 C487.2 748.7 496.4 748.8 501.8 749.5 C507.3 750.2 513.1 752.5 516.9 752.5 C520.6 752.5 523.1 750 524.4 749.5" fill="none" stroke="#9a50c8" stroke-width="2.5" stroke-linecap="round"/>
<path d="M481.3 750.5 C482 748.2 484.6 748.4 485.3 750.5 C486 752.6 486 761 485.3 763.3 C484.6 765.6 482 766.5 481.3 764.3 C480.6 762.2 480.6 752.8 481.3 750.5Z" fill="#ffffff"/>
<path d="M486.3 753.5 C488.7 752.3 498.7 751.6 501.3 752.5 C504 753.3 504.7 757.2 502.3 758.4 C500 759.6 490 760.2 487.3 759.4 C484.6 758.6 484 754.6 486.3 753.5Z" fill="#ffffff"/>
<path d="M502.3 759.4 C506.4 758.5 522.8 758.6 526.9 759.4 C531 760.2 531 763.4 526.9 764.3 C522.8 765.2 506.4 765.6 502.3 764.8 C498.3 764 498.3 760.3 502.3 759.4Z" fill="#ffffff"/>
<path d="M499.3 769.3 C503.5 768.3 520.1 768 524.4 768.8 C528.6 769.6 529.1 773.2 524.9 774.2 C520.7 775.2 503.6 775.5 499.3 774.7 C495.1 773.9 495.2 770.3 499.3 769.3Z" fill="#ffffff"/>
<path d="M502.3 776.2 C506 775.4 520.7 775.1 524.4 775.7 C528.1 776.3 528.1 778.9 524.4 779.6 C520.7 780.4 506 780.7 502.3 780.1 C498.7 779.6 498.7 776.9 502.3 776.2Z" fill="#ffffff"/>
<rect x="480.5" y="780.9" width="6.5" height="1.8" fill="#000"/>
</g>
<clipPath id="cn11"><rect x="529.4" y="733.7" width="49.2" height="49.4"/></clipPath>
<g clip-path="url(#cn11)">
<rect x="529.4" y="733.7" width="49.2" height="49.4" fill="#f7f3f0"/>
<path d="M530.5 743h0M549.6 745.2h0M543.6 735.1h0M536.8 734.5h0M531.2 737.1h0M544.8 736.9h0M533.7 746.4h0M551 738.2h0M560.4 746h0M543.9 738h0M544.7 746.2h0M543.6 733.8h0M548.2 734.6h0M541.8 746.6h0M536.1 736.1h0M539.5 741.2h0M548 736.9h0M559.4 744h0M541.7 740.6h0M555.2 742.9h0M556.4 747.1h0M562.3 745.1h0" stroke="#cca078" stroke-width="2" stroke-linecap="round"/>
<path d="M558.5 744.8h0M540.4 738.8h0M533.5 738.5h0M554.2 743.7h0M552.6 736.1h0M540.1 743.2h0M534.2 742.7h0M530.5 739.6h0M541.3 746.2h0M542 738.1h0M554.3 734.2h0M547 736.7h0M541.9 747.4h0M530.7 738.6h0M550.7 742.3h0M554.4 743.8h0M544.4 746.3h0" stroke="#cca078" stroke-width="1.5" stroke-linecap="round"/>
<path d="M542.5 737.4h0M559.9 743.9h0M534.5 738.5h0M543 739.1h0M532.8 741.1h0M553.6 737.2h0M556.9 744h0M552.7 744.1h0M559.1 741.5h0M534.8 747.2h0M533.7 741.8h0M556.4 735.2h0M559.1 738.8h0M538.9 740.3h0M547.3 737.3h0M562.5 742.2h0M535.3 738.2h0M558.1 735.6h0M544.2 743.2h0M561.6 741.1h0M532.8 742.4h0" stroke="#cca078" stroke-width="2.5" stroke-linecap="round"/>
<path d="M567.9 750.1h0M577.2 744.3h0M569.1 747.3h0M573.8 744.6h0" stroke="#d8b090" stroke-width="1.5" stroke-linecap="round"/>
<path d="M555.7 749.5h0M566.1 750h0M568.3 748.2h0M578.2 749.8h0M576.3 748.5h0" stroke="#d8b090" stroke-width="1.2" stroke-linecap="round"/>
<path d="M572.1 748.5h0M557.8 748.1h0M560.7 750.3h0" stroke="#d8b090" stroke-width="1.8" stroke-linecap="round"/>
<rect x="529.4" y="757.4" width="49.2" height="25.7" fill="#dad5e2"/>
<rect x="529.4" y="757.4" width="49.2" height="1.5" fill="#c89060"/>
<ellipse cx="557.4" cy="759.4" rx="2" ry="2" fill="#7a4520"/>
<ellipse cx="544.2" cy="768.3" rx="12.3" ry="4.9" fill="#d8c8c8"/>
<path d="M561.9 766.3L558.4 762.4M560.3 763.1L558.4 762.4L559 764.3" fill="none" stroke="#222" stroke-width="0.7"/>
<rect x="530.6" y="780.9" width="6.5" height="1.8" fill="#000"/>
</g>
<clipPath id="cn12"><rect x="578.6" y="733.7" width="49.7" height="49.4"/></clipPath>
<g clip-path="url(#cn12)">
<rect x="578.6" y="733.7" width="49.7" height="49.4" fill="#b6a0e4"/>
<path d="M579.7 734.9h0M582 734.8h0M588.7 734.3h0M601 735.2h0M603.4 735.8h0M618.6 734.5h0M622.2 734.5h0M624.7 735.3h0M581.5 738.1h0M589.7 737h0M596.6 736.8h0M604 736.7h0M615.2 737.1h0M629.7 737.4h0M580.2 739.1h0M586.2 740.2h0M587.5 739.1h0M590.8 740.1h0M622.2 740.3h0M627.1 739.5h0M628.8 739.5h0M581.2 742.7h0M586.6 742.2h0M596.6 742.2h0M601.5 743h0M608 742.6h0M615.3 741.7h0M617.5 742.9h0M629.6 742.4h0M578.8 744.4h0M584.2 744.5h0M611.3 745.4h0M615.8 744.2h0M622.7 745.2h0M583 746.8h0M586.9 747.4h0M602.5 747.6h0M606.1 747.5h0M608.2 746.3h0M618.1 747.4h0M586.4 749.1h0M600.3 749.3h0M606.5 748.8h0M609 749.4h0M612 748.9h0M624.1 749.2h0M626.8 749.2h0M629.5 748.6h0M578.3 752.2h0M583.2 751.1h0M588.2 752.6h0M590.1 752h0M593.1 752.4h0M595.1 751.5h0M598.3 752.2h0M602.5 752.5h0M605.1 751.6h0M611.7 751.9h0M619.3 751.9h0M624.2 751.8h0M582.7 755h0M596.9 753.5h0M604.1 754.7h0M616.8 753.6h0M626.7 754.6h0M579.6 756.1h0M599.6 755.9h0M613.7 756h0M616.9 756.4h0M628.5 756h0M581.2 758.8h0M584.4 758.8h0M585.3 758.4h0M602.1 759.6h0M610.2 758.4h0M626.5 758.4h0M579.7 761.4h0M585.1 761.1h0M588.1 761.3h0M609.4 761.4h0M610.8 761.9h0M613.1 761.8h0M621.5 760.6h0M628.2 761.5h0M585.4 763.3h0M587.9 764.5h0M597.2 763.9h0M600.6 763.5h0M610.7 763.5h0M613.1 763.6h0M617.2 764.5h0M626.4 764.4h0M593.3 766.8h0M595.5 766.5h0M606.3 767.1h0M612.2 766.7h0M622.1 765.5h0M623.6 766.6h0M600.3 768.3h0M606.1 768.8h0M608 768.7h0M609.7 768.7h0M583.6 771.3h0M584.7 770.8h0M592.6 771.5h0M597.3 770.9h0M604.3 770.2h0M610.2 771.5h0M621 771.3h0M626.2 770.6h0M628 771.3h0M579.3 774h0M584 773.7h0M587.2 772.6h0M595.9 773.3h0M609 772.8h0M614.9 774h0M617.9 773.1h0M626 773h0M627.8 773.7h0M586.6 775.8h0M591 775.2h0M604.7 775.3h0M612.3 776.2h0M621.4 776.4h0M583.3 777.6h0M585.1 778.4h0M588.1 777.9h0M605.4 778.8h0M610 778.9h0M612.8 778.3h0M594.3 780.1h0M596.7 781.4h0M599.4 780.6h0M609.8 780.4h0M611.9 781.4h0M617.2 780.4h0M625.8 780.9h0M582.4 783h0M584.8 782.8h0M594 783.7h0M599 782.5h0M600 783.6h0M605.6 783.2h0M608.3 782.2h0M610.3 782.8h0M618 782.7h0M620.5 783.1h0M621.9 782.6h0M628.8 783.7h0M579.7 785.5h0M593.3 786.1h0M595.8 785.4h0M598.1 784.8h0M603.8 786.1h0M605.8 785.9h0M618.3 785.1h0M619.8 785.5h0M624.5 785.3h0" stroke="#ffffff" stroke-width="1.8" stroke-linecap="round"/>
<path d="M583.9 735.6h0M596.1 735.1h0M598.7 734.7h0M608.2 734.8h0M613.3 734.3h0M615.1 734.2h0M621.3 734.3h0M579.2 736.9h0M594.6 736.9h0M599.5 737.2h0M606.6 737.1h0M623.6 736.7h0M627 737.8h0M595.8 739.8h0M597.4 740.6h0M603.8 739.2h0M624.4 740.4h0M579.7 742.4h0M584.1 742.4h0M589.3 742.3h0M594.3 742.5h0M598.6 741.5h0M604 741.5h0M605.1 742.3h0M612.9 742.2h0M619.3 742.6h0M627.5 742.7h0M581.3 744.5h0M586.8 745.1h0M588.5 745.4h0M596.3 745.1h0M602.7 745.2h0M618.4 745.1h0M628 744.8h0M578.8 747.4h0M588.2 747.5h0M593.5 746.6h0M612.9 746.9h0M619.9 747h0M627.4 747.1h0M581.4 749.9h0M582.5 750.1h0M590.7 749h0M593.5 749.7h0M595.9 748.8h0M602.1 749.9h0M614.3 749.3h0M585.7 752.6h0M600.3 751.1h0M607.9 751.6h0M615.4 752.5h0M626.6 752.3h0M581.1 754.3h0M584.3 754.6h0M587.8 754.2h0M591.6 753.6h0M600.2 753.6h0M610.8 753.6h0M613.8 754.9h0M621.7 754.9h0M623.4 754.6h0M628.1 754.3h0M630.2 754.2h0M584.5 757.3h0M589.6 755.9h0M597.5 756.5h0M602.2 757h0M604.6 756.8h0M609.2 756.2h0M617.8 756.3h0M620.3 756.5h0M630.1 756.1h0M579.1 758.3h0M591.2 759.8h0M598.7 758.3h0M601.1 759.7h0M605 758.6h0M608.4 758.7h0M611.9 759.5h0M615.5 759.5h0M622 758.4h0M624 759.6h0M590.5 761.3h0M592.5 761.4h0M594.7 761.7h0M597.7 761.8h0M599.2 762.2h0M602.4 761.5h0M604.6 761.4h0M606.8 761.6h0M616.5 761.1h0M617.8 760.9h0M630.2 760.8h0M579.5 763.7h0M580.4 763.2h0M583.3 764h0M591.4 764.1h0M592.5 764.3h0M595.8 763.4h0M605.6 764.6h0M614.5 764.1h0M628.8 764.2h0M580.2 765.9h0M582.4 765.6h0M597.1 767.1h0M599.1 765.7h0M601.8 766h0M604.1 766.5h0M614.8 765.4h0M615.7 766.8h0M619 765.7h0M628.6 766.9h0M580.8 768.9h0M598.4 769.2h0M629.6 768.6h0M580 771.7h0M590.1 770.9h0M600.6 771.5h0M619.8 770.4h0M588.8 773.4h0M603.2 773h0M623.1 773.5h0M587.5 775.4h0M592.9 775.3h0M602.6 775.8h0M617.2 776.4h0M624 776.5h0M581.4 778.5h0M591 777.6h0M592.7 777.6h0M599.4 777.7h0M602.2 778h0M614.8 778.3h0M616.3 778.8h0M620 777.5h0M622.3 778.3h0M584.5 780.3h0M590.5 780.8h0M601.8 781h0M603.6 780.6h0M606.4 781h0M613.7 779.9h0M620.8 780h0M627.8 780.3h0M624.1 782.8h0M626.4 782.9h0M582.7 785.7h0M584.4 786h0M587.5 785.4h0M588.9 784.6h0M609.1 784.8h0M612.5 786.2h0M615.2 784.8h0M622.9 785.1h0" stroke="#ffffff" stroke-width="1.4" stroke-linecap="round"/>
<path d="M586.6 735.2h0M591.1 734.8h0M593.6 735.1h0M606.9 735.2h0M610.7 735.5h0M627.4 734.5h0M630.2 734.5h0M584.9 737.3h0M587.1 737.6h0M591.5 738h0M601.1 738.2h0M607.9 738.2h0M611.7 737.9h0M613 737.3h0M618.8 737h0M620.8 737.4h0M624.7 737.1h0M582.6 739.9h0M593.4 739.2h0M599.7 740h0M602.7 740.3h0M606.6 739.1h0M610.1 740.5h0M611.2 739.9h0M613.6 740h0M616.7 740.1h0M618.9 739.3h0M590.8 742.7h0M610.1 742.3h0M623.2 742h0M624.6 742.5h0M591.5 744.1h0M594 744.2h0M598.4 744.1h0M601.6 745.5h0M605.4 745.4h0M608.8 744.7h0M613.3 743.9h0M619.6 744.3h0M625.4 745.2h0M630.1 744.7h0M581.2 747.7h0M591.3 746.5h0M595.2 747.8h0M598.2 746.7h0M601 746.6h0M609.6 747.4h0M614.6 747.8h0M621.6 746.3h0M625.4 746.8h0M630 747.6h0M587.6 748.8h0M597 749.8h0M604.1 748.6h0M617 749.9h0M618.6 750.1h0M622 749.6h0M582 752.3h0M610 752.3h0M616.6 751.6h0M622.1 751.1h0M629.9 751.1h0M590.7 754.1h0M593.9 754.7h0M602.1 754.2h0M605.9 754.3h0M609.1 754.3h0M618.7 754.2h0M583.4 756h0M588.1 756.2h0M591.7 756.9h0M594.9 756.5h0M606.5 756.8h0M611.3 755.9h0M624.2 756.7h0M625.1 755.9h0M588.5 758.9h0M593.5 758.5h0M596.3 758.9h0M617.2 758.6h0M620.2 758.9h0M629.6 758.8h0M582.3 762h0M622.9 761.9h0M626.4 761.8h0M602.3 763.9h0M607.7 764.2h0M618.9 763.6h0M622.2 764.4h0M624.8 763.4h0M585.7 765.7h0M587.1 767h0M590.8 765.7h0M608.5 766.7h0M626.3 767h0M579.4 768.7h0M583.4 768.5h0M585.6 768.8h0M588.3 768.9h0M590.8 768.9h0M592.9 768.9h0M595.2 769.2h0M602.6 768.4h0M612.7 768.9h0M615.3 768.7h0M617.8 769.1h0M619.9 768.9h0M622.5 768.6h0M624.4 768.6h0M626.5 769.2h0M587.5 771.3h0M596 770.4h0M602.6 770.3h0M607 771.5h0M611.5 771.5h0M614.7 771.8h0M617.1 770.6h0M623.4 771.8h0M582.6 774.1h0M591.3 772.7h0M594.7 773.7h0M598.9 772.8h0M600.6 773.7h0M605.5 773.4h0M611.3 772.8h0M612.8 773.9h0M620 773.8h0M629.8 773.6h0M578.4 775.3h0M580.4 775.3h0M583.9 776.2h0M595.3 776.1h0M597.6 775.4h0M600.6 776.1h0M608.2 775.3h0M609.6 776.4h0M614.4 776.3h0M620 776.6h0M626.2 775.5h0M629.1 775.6h0M594.8 778.8h0M598.6 778.4h0M607.7 778.1h0M623.7 778.7h0M627 777.7h0M629.2 777.9h0M580.9 780h0M582.8 781.1h0M587.3 781h0M592.2 781.2h0M619.5 780.2h0M623.6 779.8h0M578.8 782.7h0M586.6 782.9h0M588.2 783.4h0M591.3 782.3h0M595.8 783.2h0M602.8 782.3h0M612.6 783.7h0M615.6 783h0M591 785.2h0M600.6 785.9h0M611 784.8h0M628.5 786.2h0M630.7 785.4h0" stroke="#ffffff" stroke-width="1.6" stroke-linecap="round"/>
<path d="M589.5 765.8 C591.2 766.1 596.2 768 599.5 767.3 C602.8 766.6 607.8 762.4 609.4 761.4" fill="none" stroke="#e886e0" stroke-width="2.5" stroke-linecap="round"/>
<ellipse cx="583.6" cy="769.3" rx="4" ry="3" fill="#ffffff"/>
<ellipse cx="599.5" cy="775.2" rx="2" ry="1.5" fill="#ffffff"/>
<rect x="579.8" y="780.9" width="6.5" height="1.8" fill="#000"/>
</g>
<clipPath id="cn13"><rect x="628.3" y="733.7" width="50.2" height="49.4"/></clipPath>
<g clip-path="url(#cn13)">
<rect x="628.3" y="733.7" width="50.2" height="49.4" fill="#c8c2e2"/>
<path d="M652.3 774.8h0M645.2 760.5h0M629.7 734.8h0M670 737.1h0M632.6 764.1h0M639.2 768.4h0M665.5 773h0M655.2 754.8h0M666.2 770.1h0M669.4 759.7h0M662.3 765.5h0M672.2 773.2h0M650.2 756.2h0M674 736.1h0M660.9 758.4h0M664.1 776.8h0M673.5 743.5h0M659.2 767.8h0M646.4 752.4h0M639.8 740.1h0M643.6 740.7h0M648.2 735.1h0M635.5 740.3h0M674.7 748.1h0M661.6 749.2h0M676.7 748.8h0M646.9 776.6h0M651 768h0M640.7 742.1h0M668.1 754.6h0M629.5 783h0M636.1 742.3h0M653.4 740.9h0M670.1 776.1h0M653.4 743.1h0M661.7 778.3h0M651.8 742.6h0M642 749h0M669.9 745.9h0M656.9 770.9h0M660 744.3h0M644.7 736.4h0M660.9 779.7h0M639 738.5h0M672.9 766.6h0M655.1 775.2h0M653.9 744.4h0M637.2 781.4h0M672.3 759.4h0M652.4 764.1h0M629.9 742.1h0M647.9 758.3h0" stroke="#9c98d0" stroke-width="1.3" stroke-linecap="round"/>
<path d="M671.1 774.4h0M650.8 745.7h0M628.3 743.2h0M667.8 773.4h0M674.7 757.6h0M670.3 748.7h0M673.8 761.1h0M631.5 738.3h0M667.1 742h0M664.1 758.2h0M657.6 738h0M666.3 756.2h0M638.2 759.2h0M654.9 745.5h0M675.2 752.2h0M649.8 759.7h0M648 742.6h0M666.8 768.9h0M661.8 765.3h0M634.3 768h0M671.8 779.7h0M653.8 764.7h0M632.2 759.6h0M667.9 747.3h0M642.3 775.2h0M631.7 767.8h0M673.2 753.8h0M641.4 735.3h0M659.5 769.3h0M664.1 780.8h0M647.6 765.4h0M673.2 750.3h0M657.2 745.3h0M665.4 780.3h0M671.5 741.6h0M652.3 772.9h0M676.3 781.9h0M657.6 775h0M633.5 757.5h0M643.6 780.4h0M651.4 741.2h0M637.3 741.1h0M631.8 742.8h0M634.4 757.3h0M651 743.7h0M628.4 761.7h0M632.6 783.1h0M647.7 764.1h0M657.6 748.9h0M651.9 742h0M637.4 750.1h0M663.2 758.7h0M668.9 742.4h0M635.3 745.9h0M631.8 770h0M645.3 768h0" stroke="#9c98d0" stroke-width="1.6" stroke-linecap="round"/>
<path d="M635.7 778.9h0M662.8 742h0M678.1 774.5h0M668.4 774.3h0M635.9 752.4h0M677.1 738.3h0M666.1 749h0M631 757.2h0M643.5 740.9h0M674.7 741.8h0M636 755h0M644.9 775.4h0M652.1 746.7h0M636.6 747.9h0M670.8 741.1h0M677.4 734.8h0M677.2 768.5h0M643.6 780.5h0M635.4 751.4h0M654.3 777.4h0M665 774.9h0M657.4 743.8h0M673.3 781.3h0M668.2 741h0M666 740.5h0M630.2 781.4h0M649.9 780.4h0M637.1 782.2h0M636.7 764.5h0M665.2 758.7h0M654.3 782.2h0M645.5 770.5h0M644.9 767.9h0M672.7 766h0M642.1 734.2h0M631.7 753h0M632.4 752.2h0M648.1 735.5h0M654.4 767.6h0M640.9 741.1h0M649.8 755.9h0M671.9 765.9h0M658.3 742.9h0M630.1 747.5h0M669.7 762.1h0M645.8 759.9h0M647.9 736.5h0M655.1 755.5h0M641.3 782.2h0M673.9 766.9h0M663.6 753.9h0M647.8 737h0" stroke="#9c98d0" stroke-width="1" stroke-linecap="round"/>
<path d="M630.8 735.7h0M637.5 734.7h0M661.1 735.5h0M670.6 735.9h0M673.5 735.2h0M636.1 738h0M646.7 737.5h0M662.7 738.9h0M665.3 738.7h0M672.2 737.2h0M675.5 738.8h0M638.4 741.3h0M640.2 741.8h0M657.8 742h0M659.8 740.5h0M675.4 741.4h0M634.9 745.3h0M640.7 744h0M656.5 743.4h0M659.2 744.6h0M666.1 745.3h0M672.5 744.7h0M675.4 743.4h0M679.3 743.9h0M637.4 748h0M641.7 746.7h0M648 748.2h0M667.3 747.6h0M670.9 747.3h0M676.4 746.8h0M632.7 751.9h0M642.5 751.6h0M645.1 750.5h0M668.8 749.9h0M678.2 750.3h0M640.6 753.1h0M645.6 754.3h0M670 754.3h0M679 754.6h0M630.4 756.7h0M642.1 756.5h0M651.1 758.4h0M655.2 758.1h0M665.3 756.4h0M668.8 756.5h0M628.8 760.1h0M639.5 760.1h0M643.4 760.9h0M654.8 761.4h0M658.8 760.4h0M668.3 760.4h0M674.3 761.3h0M680.3 759.8h0M637 763.6h0M639.6 764.7h0M646.2 763h0M649.2 762.7h0M652.1 764.5h0M656.3 763.9h0M662.6 763h0M675.4 764.3h0M632 767.6h0M651.4 766h0M662.3 766.3h0M665.4 766.4h0M672.9 767.9h0M678.7 766.5h0M650.8 770.5h0M653.5 769.2h0M657.2 769.6h0M663 771h0M665.6 770.8h0M671.3 770.9h0M675 770h0M627.9 772.4h0M631.6 772.1h0M639.6 773.7h0M645.2 773.3h0M651.2 774.4h0M657 773.1h0M661.6 774h0M664 773.3h0M666.5 772.7h0M670.9 774.2h0M661 776.2h0M667 775.7h0M630.4 778.8h0M647.8 778.6h0M655.2 779h0M670.4 780.4h0M674.2 780.3h0M635.2 783.2h0M655.9 782.4h0M669.1 782.4h0M672.7 783.3h0M679.4 782.1h0M635 785.2h0M640.8 786.5h0M650.7 787.1h0M656.7 786.7h0" stroke="#ffffff" stroke-width="1.6" stroke-linecap="round"/>
<path d="M634.5 734.1h0M640.2 733.8h0M644 733.9h0M653.1 735.6h0M656.5 734.3h0M663.5 735h0M632.8 738.7h0M642.4 737.3h0M649.7 737.2h0M652.4 738h0M669.4 739.1h0M677.4 738.9h0M680.8 737.8h0M631.3 740.5h0M634.1 740.8h0M647.8 741.5h0M672.1 741.1h0M679.1 740.7h0M643.9 743.9h0M650 745.4h0M663.8 744.8h0M631.1 747.9h0M633.9 747h0M653.2 746.7h0M663.5 747.7h0M679.2 746.8h0M630.4 750.2h0M648.6 751.1h0M652.3 750.5h0M657.4 751.1h0M662.2 751.8h0M673.7 750.8h0M629.9 753.6h0M633.1 754.2h0M636 753.8h0M653.8 753.2h0M655.6 753.4h0M663.3 754.6h0M666.7 753.7h0M632 757.9h0M639.7 757.7h0M647 757.1h0M658.4 757.9h0M662.5 757.2h0M670.6 756.7h0M673.7 758h0M677.3 757.8h0M660.9 760.8h0M665.6 760h0M671.3 760.2h0M678.4 763.8h0M681.6 764.6h0M633.3 767.8h0M641.4 766.6h0M675.7 767.2h0M633.5 771.1h0M647.8 770.2h0M658.4 769h0M635.4 772.9h0M642.3 773.6h0M648.4 772.2h0M655.2 773.2h0M673.9 772.3h0M677.5 773.3h0M643.8 776.3h0M647.1 776.2h0M654 777.2h0M668.5 775.9h0M675.3 776.4h0M679.5 775.5h0M632.6 779.4h0M635.2 778.9h0M640.2 780h0M645.3 780.2h0M653 779.2h0M657.4 779.8h0M661.5 780.1h0M677.2 779h0M681.5 779.6h0M630.9 782.1h0M642.8 783.6h0M648.1 782h0M649.9 782.2h0M659.1 783.4h0M663.3 782.5h0M667.2 783.8h0M676.7 783.3h0M628.9 786.1h0M631.9 786.5h0M636.9 785.6h0M646.7 785.6h0M662.4 786.2h0M678.8 786.1h0" stroke="#ffffff" stroke-width="1.3" stroke-linecap="round"/>
<path d="M648.6 734.3h0M649.8 735.8h0M666.5 735.1h0M676.1 734.7h0M678.6 734.8h0M629.5 737.1h0M640.7 738.9h0M656.6 737.9h0M657.9 737.6h0M643.9 740.5h0M651.4 741.7h0M652.8 740.2h0M663.9 742.4h0M667.3 740.9h0M670.5 741.2h0M630.5 744h0M636.7 745.1h0M646.4 744.6h0M653.8 745.1h0M669.6 744.4h0M643.7 747.7h0M650.6 748.4h0M657 747.9h0M661.3 748.5h0M673 748.6h0M636 750h0M639 749.8h0M654.4 750h0M664.2 750.2h0M670.4 750.4h0M681.8 750.9h0M643 754.7h0M649 753.5h0M659.7 753h0M673.1 753.3h0M674.5 754.3h0M637.2 757.5h0M650.2 757.3h0M680.6 758.3h0M632.6 760.8h0M635.2 759.4h0M645.6 759.5h0M648.5 760.1h0M652 760.5h0M677.8 760h0M629.1 764.2h0M633.2 764.3h0M642 764.4h0M659.7 763.2h0M665.9 762.9h0M668.8 763.2h0M670.4 763.3h0M638.4 766.7h0M644.5 767.3h0M647.3 765.8h0M654.1 767.2h0M657.2 766.6h0M659.9 767.8h0M668.5 766.7h0M630.2 769.3h0M636.1 769.5h0M641.2 770.5h0M642.8 769.1h0M670.3 771h0M679.6 770.1h0M679.2 774h0M631.9 776h0M634 776.3h0M638.3 775.9h0M641.1 777.1h0M650.4 777.5h0M656.8 776.1h0M664.1 775.5h0M671.7 777.1h0M641.7 780h0M665.2 779.4h0M668.9 778.6h0M636.6 782.9h0M641.4 782h0M654.5 784h0M643.6 786.2h0M652.9 785.8h0M660.2 786h0M666.5 785.1h0M669.5 785.8h0M673.7 785.4h0M676.5 787.1h0" stroke="#ffffff" stroke-width="1" stroke-linecap="round"/>
<rect x="628.3" y="733.7" width="50.2" height="4.9" fill="#e2dada"/>
<ellipse cx="638.3" cy="751.5" rx="5" ry="6.9" fill="#d0bcc0"/>
<path d="M640.8 770.8 C642.3 768.6 648.8 767.6 650.9 769.3 C653 770.9 654.8 778.5 653.4 780.6 C652 782.8 644.4 783.8 642.4 782.1 C640.3 780.5 639.4 772.9 640.8 770.8Z" fill="#ffffff"/>
<ellipse cx="669.5" cy="751.5" rx="1.5" ry="1.5" fill="#9a6a50"/>
<ellipse cx="658.4" cy="763.3" rx="1" ry="1" fill="#7a5040"/>
<path d="M674.5 760.4L671.5 756.4M673.3 757.3L671.5 756.4L671.9 758.4" fill="none" stroke="#222" stroke-width="0.7"/>
<path d="M665.4 769.3L662.4 765.3M664.2 766.2L662.4 765.3L662.8 767.3" fill="none" stroke="#222" stroke-width="0.7"/>
<rect x="629.5" y="780.9" width="6.5" height="1.8" fill="#000"/>
</g>
<clipPath id="cn20"><rect x="479.3" y="783.1" width="50.1" height="49.2"/></clipPath>
<g clip-path="url(#cn20)">
<rect x="479.3" y="783.1" width="50.1" height="49.2" fill="#d08ae4"/>
<path d="M481.8 783.1 C484.3 782.4 494.8 782.5 497.3 783.1 C499.8 783.7 499.3 785.9 496.8 786.5 C494.3 787.2 484.8 787.6 482.3 787 C479.8 786.5 479.3 783.8 481.8 783.1Z" fill="#ffffff"/>
<path d="M491.3 790 C495.3 788.7 517.9 786.9 523.4 789 C528.9 791.1 529.6 800.3 524.4 802.8 C519.2 805.2 496.5 804.7 492.3 803.8 C488.2 802.8 499.5 799.2 499.3 796.9 C499.2 794.6 487.3 791.3 491.3 790Z" fill="#ffffff"/>
<ellipse cx="510.4" cy="795.4" rx="10" ry="3.4" fill="#b060d4"/>
<ellipse cx="511.4" cy="795.4" rx="4" ry="1.5" fill="#8040b8"/>
<path d="M483.3 804.7 C486.2 803.4 498.5 804.4 501.8 805.7 C505.2 807 506.3 811.3 503.3 812.6 C500.4 813.9 487.6 814.9 484.3 813.6 C481 812.3 480.4 806.1 483.3 804.7Z" fill="#ffffff"/>
<path d="M499.3 808.7 C504.2 807.5 519 806.2 523.4 807.7 C527.7 809.2 530.7 815.6 525.4 817.5 C520 819.5 496.5 820 491.3 819.5 C486.1 819 493 816.4 494.3 814.6 C495.7 812.8 494.5 809.8 499.3 808.7Z" fill="#ffffff"/>
<ellipse cx="509.4" cy="812.6" rx="10" ry="2.5" fill="#b466d6"/>
<path d="M479.3 822.5 C483 821.1 497.5 820.3 501.3 821.5 C505.2 822.6 506 828 502.3 829.3 C498.7 830.7 483.1 831 479.3 829.8 C475.5 828.7 475.6 823.9 479.3 822.5Z" fill="#ffffff"/>
<path d="M508.4 823.4 C510.5 822.4 519.9 821.6 522.4 822.5 C524.9 823.3 525.6 827.3 523.4 828.4 C521.2 829.4 511.9 829.7 509.4 828.9 C506.9 828 506.2 824.5 508.4 823.4Z" fill="#ffffff"/>
<rect x="480.5" y="830.1" width="6.5" height="1.8" fill="#000"/>
</g>
<clipPath id="cn21"><rect x="529.4" y="783.1" width="49.2" height="49.2"/></clipPath>
<g clip-path="url(#cn21)">
<rect x="529.4" y="783.1" width="49.2" height="49.2" fill="#fefefe"/>
<rect x="529.4" y="805.7" width="49.2" height="26.6" fill="#d9d8ec"/>
<rect x="529.4" y="805.2" width="49.2" height="1.2" fill="#d8b898"/>
<ellipse cx="559.9" cy="800.8" rx="0.7" ry="0.7" fill="#444"/>
<path d="M561.9 810.7L557.9 806.7M559.8 807.4L557.9 806.7L558.6 808.6" fill="none" stroke="#222" stroke-width="0.7"/>
<rect x="530.6" y="830.1" width="6.5" height="1.8" fill="#000"/>
</g>
<clipPath id="cn22"><rect x="578.6" y="783.1" width="49.7" height="49.2"/></clipPath>
<g clip-path="url(#cn22)">
<rect x="578.6" y="783.1" width="49.7" height="49.2" fill="#b8a2e6"/>
<path d="M579.5 783.9h0M588.3 785.1h0M600.6 783.8h0M602.7 783.6h0M604.8 784.7h0M610 784.8h0M612.8 783.8h0M618.3 783.7h0M622.3 784.4h0M624.7 783.7h0M592 787.5h0M596.1 787.1h0M601.9 787.3h0M606.4 786h0M621 787.1h0M622.5 787.5h0M584 789.6h0M585.3 789.6h0M590.2 788.6h0M595.7 789.5h0M597.7 789h0M604.8 789.8h0M612.6 789.6h0M617.5 788.8h0M618.8 789.5h0M582.9 791.4h0M587 791.1h0M597.8 790.9h0M626.8 790.9h0M628.1 791.7h0M583.1 794.4h0M587 794.4h0M593.4 794.3h0M598.1 794.6h0M603.9 793.9h0M609.4 793.3h0M619.7 793.9h0M581.6 797h0M583.6 796.7h0M591.8 796.2h0M595.7 795.8h0M607.8 795.6h0M616.2 795.8h0M621.9 796.4h0M628.2 796.2h0M580.6 798.9h0M586 799h0M591.2 798.7h0M593.8 799.5h0M602.6 798.4h0M612.1 798.3h0M614.2 798.4h0M625.3 798.9h0M581.8 800.6h0M583.7 801.9h0M589.3 800.5h0M596.2 800.6h0M603.8 801.2h0M608.7 800.4h0M612.1 801.2h0M581.7 803h0M583.3 803.9h0M617.3 803.6h0M622.4 803.6h0M583.2 805.6h0M590 805.4h0M594.8 805.9h0M596.7 805.2h0M605.2 805.7h0M612.5 805.4h0M617.4 805.3h0M619.1 805.8h0M579.9 807.9h0M582.1 808.1h0M590.5 808.1h0M593 808.5h0M601.3 809.1h0M608.7 808.4h0M610.3 807.8h0M612.3 809.2h0M617.4 807.8h0M620.1 807.6h0M622.1 807.6h0M629.8 808h0M580.3 810.6h0M582.7 810.6h0M585.1 810.6h0M586.8 811.2h0M590 810.1h0M596.5 810.9h0M603.8 811.2h0M606.1 811.1h0M612.7 810.8h0M615.2 810.5h0M618.8 810.4h0M625.8 810h0M630.6 810.2h0M585.9 813.8h0M590.9 812.4h0M598.6 813.3h0M605.7 812.8h0M610.2 812.6h0M613.2 812.8h0M620.7 813.4h0M623.1 812.6h0M583.4 816.1h0M585.5 815h0M587.6 815.8h0M594.8 816h0M607 816.1h0M621.1 815.2h0M623.1 814.8h0M586.8 818.6h0M591.5 817.3h0M600.4 817.4h0M612 817.2h0M619.3 818.8h0M580.4 820.8h0M582.4 820.4h0M586.4 820.2h0M590.1 821.2h0M595.8 820.2h0M605.9 820.6h0M608.6 820.7h0M610.5 821.2h0M618.5 821.2h0M621 820.9h0M623.1 820.3h0M592 822.6h0M618.6 823.5h0M625.7 823.6h0M630.2 822h0M581.3 825.8h0M583.6 825.5h0M597.2 826h0M602.8 825.3h0M610.6 825h0M614.1 825.2h0M621.6 825.3h0M585.9 827.4h0M587.3 827h0M601.9 826.9h0M607.7 828.3h0M608.9 827.6h0M618.8 827.5h0M621 828.2h0M624.4 827.9h0M626.8 826.7h0M586.9 829.9h0M595.9 830.1h0M598.3 830.8h0M601.5 829.2h0M604.7 830.1h0M608.7 829.6h0M611.4 830h0M617.9 830.6h0M620 829.3h0M624.6 830.5h0M629.7 829.7h0M583 832.8h0M616.5 832.5h0M620.8 832.5h0M626.4 833.1h0M630.3 833.1h0" stroke="#ffffff" stroke-width="1.8" stroke-linecap="round"/>
<path d="M582.3 784.9h0M583.7 785h0M585.8 783.8h0M591 783.8h0M592.9 783.9h0M598.7 784.9h0M607.3 784.8h0M615.1 784.5h0M582.6 786.1h0M589 787.6h0M593.6 786.7h0M608.9 786h0M616 786.2h0M618.2 787.2h0M629.6 786.4h0M580.8 789.1h0M593.6 790h0M600.8 788.8h0M601.7 789.8h0M607 789.8h0M610.3 788.7h0M624.6 788.8h0M580.6 791.8h0M585.5 791.1h0M592.5 790.9h0M594.9 791.5h0M600.6 791.6h0M604.5 791.1h0M607 792.2h0M610.1 792.1h0M613.9 791.7h0M617.4 791.7h0M619 792.3h0M621.5 791.1h0M579.9 793.4h0M584.6 793.9h0M594.7 794.3h0M606.7 794.8h0M611 794.4h0M617.3 794.3h0M621.4 793.2h0M623.6 793.4h0M579.2 795.6h0M586.1 797.1h0M589.2 796.2h0M599.2 797h0M600.7 796.8h0M604.1 796h0M605 797h0M617.9 796.5h0M630.5 796.6h0M600.4 798.3h0M608.1 798.2h0M617.9 799h0M619.1 798.2h0M579 800.8h0M591.5 801.6h0M593.8 800.3h0M601.3 801.8h0M604.9 800.9h0M614.8 800.7h0M619.4 802h0M624.8 801.9h0M588.1 803.6h0M590.6 803.1h0M592.7 804.2h0M598 803.5h0M602 803.8h0M608 803.6h0M609.8 802.9h0M612.3 804.1h0M614.2 804.3h0M619.8 803.4h0M626.2 803.1h0M629.7 804.4h0M580.5 806.3h0M585 806.1h0M587.7 806h0M592.2 806.5h0M599.1 805.7h0M607.9 806.3h0M608.8 806.7h0M621.4 805.6h0M626.9 806.4h0M587.3 808.9h0M595.2 808h0M603.5 808h0M615 809.1h0M626.9 808.2h0M592.5 811.4h0M598.8 810h0M607.9 810.9h0M611.1 811.6h0M627.5 811.4h0M579.5 813.2h0M582.5 813h0M584.9 813.5h0M593.9 812.6h0M596.1 813.4h0M603 812.5h0M615.8 812.7h0M627.3 813.9h0M629.5 813.2h0M590.3 815.1h0M599.6 814.8h0M608.9 815.9h0M618.6 814.9h0M626.8 815.2h0M578.6 817.8h0M581.1 817.3h0M596.3 817.9h0M603.1 817.3h0M604.9 818.3h0M610.2 817.7h0M615.6 817.2h0M592.3 820.7h0M599.5 820.7h0M603.5 819.7h0M616 819.8h0M579 823.6h0M581.9 823.6h0M584.8 822h0M589.1 823.5h0M603.1 823.1h0M608.2 822.2h0M610 823.1h0M619.7 822.7h0M622 823.3h0M627.4 822.3h0M578.2 824.9h0M590.2 825.3h0M593.3 824.6h0M601.2 824.5h0M606 825.9h0M607 824.4h0M612.8 825.4h0M626.9 825h0M581.6 828h0M600 827h0M613.8 827.8h0M629 828h0M579.5 829.9h0M582.1 830.6h0M584.5 830.2h0M591.4 829.2h0M594.8 830.3h0M606 829.2h0M616.4 829.2h0M628.2 830.3h0M590.1 831.6h0M594 832h0M599.8 832.7h0M602.4 832.1h0M604.2 832h0M607.1 831.6h0M608.4 833.2h0M610.8 833.1h0M618 833h0" stroke="#ffffff" stroke-width="1.4" stroke-linecap="round"/>
<path d="M596.3 785h0M620.6 785h0M626.6 783.9h0M630.3 784.5h0M580 786.7h0M584.3 786.8h0M587.2 786.9h0M598.2 786.1h0M603 787.3h0M610.8 786.7h0M613.4 786.5h0M625.3 786.1h0M627.2 787.6h0M588.8 788.5h0M615.2 788.6h0M621.9 788.7h0M627.1 789.4h0M629.4 789.4h0M590.6 791.8h0M602.2 791.2h0M612.6 791h0M624.6 792.3h0M590.9 793.5h0M600.4 794.6h0M601.8 793.9h0M613.5 793.4h0M627 794.8h0M628.4 794.7h0M594.1 796.9h0M611.4 796.9h0M613 796.6h0M621 795.9h0M624.4 796h0M579 799.1h0M583.2 799.2h0M588.3 798.7h0M596.5 798.7h0M598.7 798.6h0M605.6 798.8h0M609.5 799.2h0M621.3 799.2h0M627.6 798.3h0M630 799.2h0M585.6 801.2h0M597.7 800.6h0M610.8 800.6h0M617.6 801.1h0M621.7 800.6h0M626.8 802h0M629.9 801.5h0M585 803.6h0M595.4 803h0M600.3 802.8h0M605.5 803.6h0M624 803.1h0M601.9 805.7h0M614.6 806.6h0M623.8 806.3h0M628.1 805.8h0M583.4 808.3h0M588.8 808.6h0M598.4 808.2h0M606.2 808.8h0M624 808.5h0M595 811.1h0M602 810.3h0M620.4 810.7h0M622.9 810.6h0M588.7 813.1h0M601.6 813.6h0M607.8 812.5h0M617.9 813.7h0M625 814h0M580 814.9h0M593.4 815.6h0M597.4 815.7h0M602.3 815h0M603.8 814.8h0M611.4 816h0M613.9 814.9h0M616.9 815.3h0M628.4 816h0M583.7 817.4h0M587.9 818.1h0M593.2 818.6h0M597.9 817.8h0M608.3 817.7h0M616.9 817.7h0M621.5 818.1h0M624.2 818.3h0M626.9 817.1h0M628.6 817.5h0M584.2 820.7h0M594.3 820.2h0M602 820.1h0M614.1 820.4h0M625.6 820h0M628.3 820.8h0M629.4 821.2h0M586.9 822.2h0M593.3 822.5h0M597.1 823h0M598.8 823.5h0M601.5 822.5h0M605 822.5h0M612.3 823.3h0M615.1 823.2h0M586.2 825.9h0M587.7 825.4h0M595.9 825h0M617.7 824.9h0M619.1 826h0M625.1 825.9h0M629.9 825.3h0M583.5 827.4h0M589.8 827.9h0M592.6 828h0M595.7 827.7h0M598.2 826.8h0M604.6 827.5h0M611.9 827h0M616.2 826.8h0M589.9 829.4h0M613.5 829.1h0M622.9 829.3h0M579.7 832.4h0M585 832.8h0M587.2 833h0M592 832.7h0M596.7 832.7h0M614.2 832.3h0M623.9 832.7h0M628.6 833.1h0" stroke="#ffffff" stroke-width="1.6" stroke-linecap="round"/>
<path d="M587.5 799.8 C586.1 794.3 589.5 794.7 592.5 798.8 C595.6 802.9 602.5 824.8 605.9 824.4 C609.4 824.1 611.5 801.3 613.4 796.9 C615.3 792.4 617.9 792 617.4 797.9 C616.9 803.8 613.1 826.6 610.4 832.3 C607.8 838 605.3 837.7 601.5 832.3 C597.7 826.9 589 805.4 587.5 799.8Z" fill="#ffffff"/>
<ellipse cx="591" cy="818.5" rx="2" ry="1.5" fill="#e080e0"/>
<rect x="579.8" y="830.1" width="6.5" height="1.8" fill="#000"/>
</g>
<clipPath id="cn23"><rect x="628.3" y="783.1" width="50.2" height="49.2"/></clipPath>
<g clip-path="url(#cn23)">
<rect x="628.3" y="783.1" width="50.2" height="49.2" fill="#a2a2d8"/>
<path d="M631.7 782.8h0M637.9 785.8h0M642.4 783.2h0M675.2 783.7h0M640.5 788.4h0M675.8 790.7h0M679.4 789.2h0M669.2 795.9h0M635.5 800.2h0M642.2 800.9h0M651.2 800.3h0M660.7 801h0M667.5 800.6h0M672.8 798.1h0M671.8 803.5h0M676.7 803.2h0M630.2 810.9h0M663 810.1h0M678.1 810.4h0M681.4 809.3h0M632.5 814.3h0M639.1 813.8h0M646.4 816.8h0M664.2 816.7h0M673.5 815.2h0M637.1 819.7h0M654.8 820.2h0M630.2 826.9h0M634.7 825.1h0M638.1 824.6h0M650.1 824h0M659.4 824.8h0M675.6 826.2h0M645.1 829.5h0M649.7 832.2h0M674.9 831h0M629 835.4h0M632.3 836h0M671.4 836.1h0" stroke="#ffffff" stroke-width="4.8" stroke-linecap="round"/>
<path d="M647.9 782.6h0M654.1 784.8h0M667.3 785.1h0M629.6 790.7h0M651.3 788.2h0M664.9 787.9h0M653.2 796.3h0M659.1 795.6h0M647.2 798.6h0M655.2 800.5h0M683.6 798.5h0M646 803.3h0M653.6 806.1h0M657.9 806.5h0M660.9 805.8h0M682.6 803.2h0M636.3 809.5h0M644.2 815.3h0M654.4 816.4h0M642.8 819h0M649.1 819.6h0M657.2 819.4h0M670.2 820.6h0M675.8 819.1h0M679.2 818.9h0M670.9 827.1h0M637.7 832.2h0M655.1 830.6h0M664 831.4h0M669.9 832.4h0M680.9 830.7h0M637.6 834.5h0M644 836.8h0M677.4 836.6h0" stroke="#ffffff" stroke-width="4.4" stroke-linecap="round"/>
<path d="M657.2 784.1h0M662.5 784.6h0M679 782.7h0M634.4 788.7h0M644.6 787.8h0M656.6 788.9h0M658.9 790.5h0M671.3 789.4h0M632.1 794.9h0M637.4 794.1h0M642.1 795.6h0M648.5 794.9h0M663.7 792.9h0M675.7 793.3h0M679.3 794h0M630.9 799.6h0M677.3 800.8h0M631.1 805.1h0M634.9 803.9h0M640.1 805.1h0M668 806.5h0M642.8 810.4h0M646.2 809.2h0M651.7 809.2h0M656.8 811.3h0M667.8 811.2h0M672.2 809.3h0M658.1 816.6h0M670.2 813.8h0M678.8 814h0M631.3 821.8h0M663.7 820.6h0M646.1 826.1h0M654.6 825.1h0M666.8 827.2h0M681.6 825.9h0M632 830.6h0M660.1 829.3h0M650.8 837.3h0M654.6 835.5h0M661.6 834.5h0M663.4 836.4h0M679.6 836.2h0" stroke="#ffffff" stroke-width="5.2" stroke-linecap="round"/>
<path d="M653.4 790.5 C655.1 788.3 669.7 785.4 673.5 787 C677.2 788.7 677.7 798.1 676 800.3 C674.3 802.5 667.2 802 663.4 800.3 C659.7 798.7 651.7 792.7 653.4 790.5Z" fill="#ffffff"/>
<path d="M630.8 792.9 C632.5 791.7 639.6 793.4 640.8 795.4 C642.1 797.4 640 804 638.3 805.2 C636.7 806.5 632.1 804.8 630.8 802.8 C629.6 800.7 629.1 794.2 630.8 792.9Z" fill="#ffffff"/>
<path d="M662.4 823.4L658.4 819.5M660.3 820.1L658.4 819.5L659.1 821.4" fill="none" stroke="#222" stroke-width="0.7"/>
<rect x="629.5" y="830.1" width="6.5" height="1.8" fill="#000"/>
</g>
<line x1="479.3" y1="684.6" x2="479.3" y2="832.3" stroke="#4a4a4a" stroke-width="0.9"/>
<line x1="529.4" y1="684.6" x2="529.4" y2="832.3" stroke="#4a4a4a" stroke-width="0.9"/>
<line x1="578.6" y1="684.6" x2="578.6" y2="832.3" stroke="#4a4a4a" stroke-width="0.9"/>
<line x1="628.3" y1="684.6" x2="628.3" y2="832.3" stroke="#4a4a4a" stroke-width="0.9"/>
<line x1="678.5" y1="684.6" x2="678.5" y2="832.3" stroke="#4a4a4a" stroke-width="0.9"/>
<line x1="479.3" y1="684.6" x2="678.5" y2="684.6" stroke="#4a4a4a" stroke-width="0.9"/>
<line x1="479.3" y1="733.7" x2="678.5" y2="733.7" stroke="#4a4a4a" stroke-width="0.9"/>
<line x1="479.3" y1="783.1" x2="678.5" y2="783.1" stroke="#4a4a4a" stroke-width="0.9"/>
<line x1="479.3" y1="832.3" x2="678.5" y2="832.3" stroke="#4a4a4a" stroke-width="0.9"/>
<text x="474.24" y="709.15" font-size="9" text-anchor="middle" fill="#000" transform="rotate(-90 474.24 709.15)">Vehicle</text>
<line x1="476.5" y1="687.6" x2="476.5" y2="729.2" stroke="#000" stroke-width="1.3"/>
<text x="474.24" y="758.4" font-size="9" text-anchor="middle" fill="#000" transform="rotate(-90 474.24 758.4)">ETV</text>
<line x1="476.5" y1="736.7" x2="476.5" y2="778.6" stroke="#000" stroke-width="1.3"/>
<text x="474.24" y="807.7" font-size="9" text-anchor="middle" fill="#000" transform="rotate(-90 474.24 807.7)">NTV</text>
<line x1="476.5" y1="786.1" x2="476.5" y2="827.8" stroke="#000" stroke-width="1.3"/>
</svg></body></html>
